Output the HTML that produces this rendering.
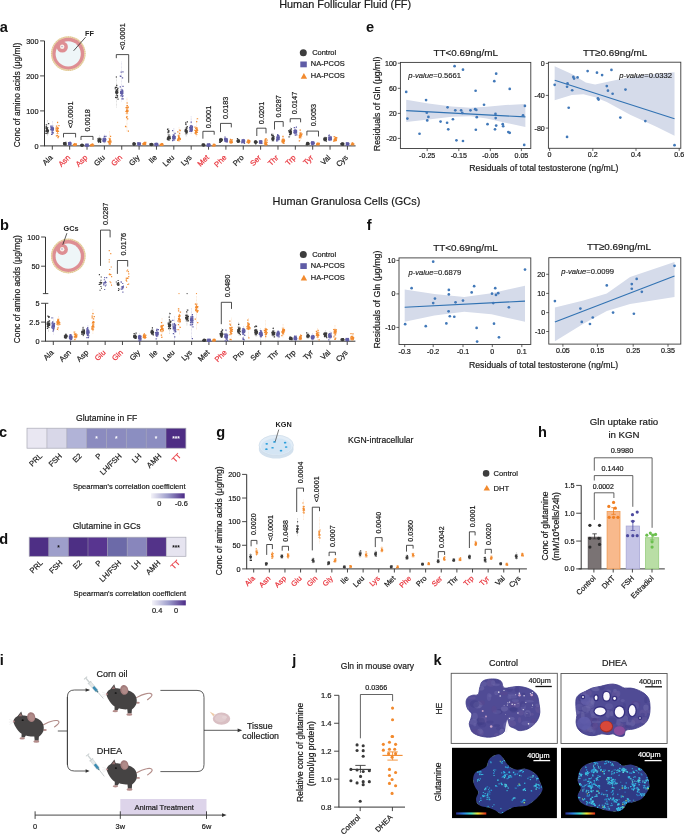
<!DOCTYPE html>
<html><head><meta charset="utf-8"><title>Figure</title>
<style>html,body{margin:0;padding:0;background:#fff;width:685px;height:834px;overflow:hidden}
svg{display:block;will-change:transform;font-family:"Liberation Sans", sans-serif;fill:#1a1a1a}
</style></head>
<body><svg width="685" height="834" viewBox="0 0 685 834">
<rect width="685" height="834" fill="#fff"/>
<text x="279.2" y="7.8" font-size="10.9" stroke="#1a1a1a" stroke-width="0.2">Human Follicular Fluid (FF)</text>
<text x="272.6" y="204.5" font-size="10.9" stroke="#1a1a1a" stroke-width="0.2">Human Granulosa Cells (GCs)</text>
<text x="-0.3" y="32.2" font-size="14.6" font-weight="bold" fill="#111">a</text>
<circle cx="68.3" cy="53.6" r="17.4" fill="#ead7ac"/>
<circle cx="85.05" cy="53.6" r="0.5" fill="#dcc08a"/>
<circle cx="84.91" cy="55.79" r="0.5" fill="#dcc08a"/>
<circle cx="84.48" cy="57.94" r="0.5" fill="#dcc08a"/>
<circle cx="83.77" cy="60.01" r="0.5" fill="#dcc08a"/>
<circle cx="82.81" cy="61.98" r="0.5" fill="#dcc08a"/>
<circle cx="81.59" cy="63.8" r="0.5" fill="#dcc08a"/>
<circle cx="80.14" cy="65.44" r="0.5" fill="#dcc08a"/>
<circle cx="78.5" cy="66.89" r="0.5" fill="#dcc08a"/>
<circle cx="76.67" cy="68.11" r="0.5" fill="#dcc08a"/>
<circle cx="74.71" cy="69.07" r="0.5" fill="#dcc08a"/>
<circle cx="72.64" cy="69.78" r="0.5" fill="#dcc08a"/>
<circle cx="70.49" cy="70.21" r="0.5" fill="#dcc08a"/>
<circle cx="68.3" cy="70.35" r="0.5" fill="#dcc08a"/>
<circle cx="66.11" cy="70.21" r="0.5" fill="#dcc08a"/>
<circle cx="63.96" cy="69.78" r="0.5" fill="#dcc08a"/>
<circle cx="61.89" cy="69.07" r="0.5" fill="#dcc08a"/>
<circle cx="59.92" cy="68.11" r="0.5" fill="#dcc08a"/>
<circle cx="58.1" cy="66.89" r="0.5" fill="#dcc08a"/>
<circle cx="56.46" cy="65.44" r="0.5" fill="#dcc08a"/>
<circle cx="55.01" cy="63.8" r="0.5" fill="#dcc08a"/>
<circle cx="53.79" cy="61.98" r="0.5" fill="#dcc08a"/>
<circle cx="52.83" cy="60.01" r="0.5" fill="#dcc08a"/>
<circle cx="52.12" cy="57.94" r="0.5" fill="#dcc08a"/>
<circle cx="51.69" cy="55.79" r="0.5" fill="#dcc08a"/>
<circle cx="51.55" cy="53.6" r="0.5" fill="#dcc08a"/>
<circle cx="51.69" cy="51.41" r="0.5" fill="#dcc08a"/>
<circle cx="52.12" cy="49.26" r="0.5" fill="#dcc08a"/>
<circle cx="52.83" cy="47.19" r="0.5" fill="#dcc08a"/>
<circle cx="53.79" cy="45.23" r="0.5" fill="#dcc08a"/>
<circle cx="55.01" cy="43.4" r="0.5" fill="#dcc08a"/>
<circle cx="56.46" cy="41.76" r="0.5" fill="#dcc08a"/>
<circle cx="58.1" cy="40.31" r="0.5" fill="#dcc08a"/>
<circle cx="59.92" cy="39.09" r="0.5" fill="#dcc08a"/>
<circle cx="61.89" cy="38.13" r="0.5" fill="#dcc08a"/>
<circle cx="63.96" cy="37.42" r="0.5" fill="#dcc08a"/>
<circle cx="66.11" cy="36.99" r="0.5" fill="#dcc08a"/>
<circle cx="68.3" cy="36.85" r="0.5" fill="#dcc08a"/>
<circle cx="70.49" cy="36.99" r="0.5" fill="#dcc08a"/>
<circle cx="72.64" cy="37.42" r="0.5" fill="#dcc08a"/>
<circle cx="74.71" cy="38.13" r="0.5" fill="#dcc08a"/>
<circle cx="76.67" cy="39.09" r="0.5" fill="#dcc08a"/>
<circle cx="78.5" cy="40.31" r="0.5" fill="#dcc08a"/>
<circle cx="80.14" cy="41.76" r="0.5" fill="#dcc08a"/>
<circle cx="81.59" cy="43.4" r="0.5" fill="#dcc08a"/>
<circle cx="82.81" cy="45.22" r="0.5" fill="#dcc08a"/>
<circle cx="83.77" cy="47.19" r="0.5" fill="#dcc08a"/>
<circle cx="84.48" cy="49.26" r="0.5" fill="#dcc08a"/>
<circle cx="84.91" cy="51.41" r="0.5" fill="#dcc08a"/>
<circle cx="68.3" cy="53.6" r="15.9" fill="#de8e93"/>
<circle cx="68.2" cy="53.8" r="12.6" fill="#eef6f8"/>
<circle cx="62.3" cy="47" r="5.6" fill="#de8e93"/>
<circle cx="62.2" cy="46.8" r="2.2" fill="#f8efe8"/>
<circle cx="62" cy="46.6" r="0.7" fill="#9a8ac0"/>
<text x="85" y="35.5" font-size="7.3" font-weight="bold" fill="#222">FF</text>
<line x1="85.6" y1="37.2" x2="73.6" y2="50.8" stroke="#222" stroke-width="0.75"/>
<line x1="44.5" y1="40.9" x2="44.5" y2="146.3" stroke="#333" stroke-width="1"/>
<line x1="44.5" y1="145.9" x2="355.6" y2="145.9" stroke="#333" stroke-width="1"/>
<line x1="40.1" y1="145.9" x2="44.5" y2="145.9" stroke="#333" stroke-width="0.9"/>
<text x="38.5" y="148.5" font-size="7.3" text-anchor="end" stroke="#1a1a1a" stroke-width="0.2">0</text>
<line x1="40.1" y1="110.9" x2="44.5" y2="110.9" stroke="#333" stroke-width="0.9"/>
<text x="38.5" y="113.5" font-size="7.3" text-anchor="end" stroke="#1a1a1a" stroke-width="0.2">100</text>
<line x1="40.1" y1="75.9" x2="44.5" y2="75.9" stroke="#333" stroke-width="0.9"/>
<text x="38.5" y="78.5" font-size="7.3" text-anchor="end" stroke="#1a1a1a" stroke-width="0.2">200</text>
<line x1="40.1" y1="40.9" x2="44.5" y2="40.9" stroke="#333" stroke-width="0.9"/>
<text x="38.5" y="43.5" font-size="7.3" text-anchor="end" stroke="#1a1a1a" stroke-width="0.2">300</text>
<text x="19.8" y="147.2" font-size="8.4" stroke="#1a1a1a" stroke-width="0.2" transform="rotate(-90 19.8 147.2)">Conc of amino acids (μg/ml)</text>
<line x1="52.3" y1="145.9" x2="52.3" y2="149.7" stroke="#333" stroke-width="0.9"/>
<text x="53.3" y="158.1" font-size="7.6" text-anchor="end" stroke="#1a1a1a" stroke-width="0.2" transform="rotate(-45 53.3 158.1)">Ala</text>
<line x1="69.66" y1="145.9" x2="69.66" y2="149.7" stroke="#333" stroke-width="0.9"/>
<text x="70.66" y="158.1" font-size="7.6" text-anchor="end" fill="#e8333b" stroke="#e8333b" stroke-width="0.2" transform="rotate(-45 70.66 158.1)">Asn</text>
<line x1="87.02" y1="145.9" x2="87.02" y2="149.7" stroke="#333" stroke-width="0.9"/>
<text x="88.02" y="158.1" font-size="7.6" text-anchor="end" fill="#e8333b" stroke="#e8333b" stroke-width="0.2" transform="rotate(-45 88.02 158.1)">Asp</text>
<line x1="104.38" y1="145.9" x2="104.38" y2="149.7" stroke="#333" stroke-width="0.9"/>
<text x="105.38" y="158.1" font-size="7.6" text-anchor="end" stroke="#1a1a1a" stroke-width="0.2" transform="rotate(-45 105.38 158.1)">Glu</text>
<line x1="121.74" y1="145.9" x2="121.74" y2="149.7" stroke="#333" stroke-width="0.9"/>
<text x="122.74" y="158.1" font-size="7.6" text-anchor="end" fill="#e8333b" stroke="#e8333b" stroke-width="0.2" transform="rotate(-45 122.74 158.1)">Gln</text>
<line x1="139.1" y1="145.9" x2="139.1" y2="149.7" stroke="#333" stroke-width="0.9"/>
<text x="140.1" y="158.1" font-size="7.6" text-anchor="end" stroke="#1a1a1a" stroke-width="0.2" transform="rotate(-45 140.1 158.1)">Gly</text>
<line x1="156.46" y1="145.9" x2="156.46" y2="149.7" stroke="#333" stroke-width="0.9"/>
<text x="157.46" y="158.1" font-size="7.6" text-anchor="end" stroke="#1a1a1a" stroke-width="0.2" transform="rotate(-45 157.46 158.1)">Ile</text>
<line x1="173.82" y1="145.9" x2="173.82" y2="149.7" stroke="#333" stroke-width="0.9"/>
<text x="174.82" y="158.1" font-size="7.6" text-anchor="end" stroke="#1a1a1a" stroke-width="0.2" transform="rotate(-45 174.82 158.1)">Leu</text>
<line x1="191.18" y1="145.9" x2="191.18" y2="149.7" stroke="#333" stroke-width="0.9"/>
<text x="192.18" y="158.1" font-size="7.6" text-anchor="end" stroke="#1a1a1a" stroke-width="0.2" transform="rotate(-45 192.18 158.1)">Lys</text>
<line x1="208.54" y1="145.9" x2="208.54" y2="149.7" stroke="#333" stroke-width="0.9"/>
<text x="209.54" y="158.1" font-size="7.6" text-anchor="end" fill="#e8333b" stroke="#e8333b" stroke-width="0.2" transform="rotate(-45 209.54 158.1)">Met</text>
<line x1="225.9" y1="145.9" x2="225.9" y2="149.7" stroke="#333" stroke-width="0.9"/>
<text x="226.9" y="158.1" font-size="7.6" text-anchor="end" fill="#e8333b" stroke="#e8333b" stroke-width="0.2" transform="rotate(-45 226.9 158.1)">Phe</text>
<line x1="243.26" y1="145.9" x2="243.26" y2="149.7" stroke="#333" stroke-width="0.9"/>
<text x="244.26" y="158.1" font-size="7.6" text-anchor="end" stroke="#1a1a1a" stroke-width="0.2" transform="rotate(-45 244.26 158.1)">Pro</text>
<line x1="260.62" y1="145.9" x2="260.62" y2="149.7" stroke="#333" stroke-width="0.9"/>
<text x="261.62" y="158.1" font-size="7.6" text-anchor="end" fill="#e8333b" stroke="#e8333b" stroke-width="0.2" transform="rotate(-45 261.62 158.1)">Ser</text>
<line x1="277.98" y1="145.9" x2="277.98" y2="149.7" stroke="#333" stroke-width="0.9"/>
<text x="278.98" y="158.1" font-size="7.6" text-anchor="end" fill="#e8333b" stroke="#e8333b" stroke-width="0.2" transform="rotate(-45 278.98 158.1)">Thr</text>
<line x1="295.34" y1="145.9" x2="295.34" y2="149.7" stroke="#333" stroke-width="0.9"/>
<text x="296.34" y="158.1" font-size="7.6" text-anchor="end" fill="#e8333b" stroke="#e8333b" stroke-width="0.2" transform="rotate(-45 296.34 158.1)">Trp</text>
<line x1="312.7" y1="145.9" x2="312.7" y2="149.7" stroke="#333" stroke-width="0.9"/>
<text x="313.7" y="158.1" font-size="7.6" text-anchor="end" fill="#e8333b" stroke="#e8333b" stroke-width="0.2" transform="rotate(-45 313.7 158.1)">Tyr</text>
<line x1="330.06" y1="145.9" x2="330.06" y2="149.7" stroke="#333" stroke-width="0.9"/>
<text x="331.06" y="158.1" font-size="7.6" text-anchor="end" stroke="#1a1a1a" stroke-width="0.2" transform="rotate(-45 331.06 158.1)">Val</text>
<line x1="347.42" y1="145.9" x2="347.42" y2="149.7" stroke="#333" stroke-width="0.9"/>
<text x="348.42" y="158.1" font-size="7.6" text-anchor="end" stroke="#1a1a1a" stroke-width="0.2" transform="rotate(-45 348.42 158.1)">Cys</text>
<line x1="47.3" y1="120" x2="47.3" y2="136" stroke="#3a3a3a" stroke-width="0.4" stroke-dasharray="0.8 0.6" opacity="0.6"/>
<line x1="47.3" y1="127.6" x2="47.3" y2="133.6" stroke="#3a3a3a" stroke-width="0.7"/>
<line x1="46" y1="127.6" x2="48.6" y2="127.6" stroke="#3a3a3a" stroke-width="0.5"/>
<line x1="46" y1="133.6" x2="48.6" y2="133.6" stroke="#3a3a3a" stroke-width="0.5"/>
<circle cx="47.3" cy="130.6" r="1.7" fill="#3a3a3a"/>
<line x1="52.3" y1="121" x2="52.3" y2="134.5" stroke="#5f5ca6" stroke-width="0.4" stroke-dasharray="0.8 0.6" opacity="0.6"/>
<line x1="52.3" y1="126" x2="52.3" y2="132" stroke="#5f5ca6" stroke-width="0.7"/>
<line x1="51" y1="126" x2="53.6" y2="126" stroke="#5f5ca6" stroke-width="0.5"/>
<line x1="51" y1="132" x2="53.6" y2="132" stroke="#5f5ca6" stroke-width="0.5"/>
<rect x="50.6" y="127.3" width="3.4" height="3.4" fill="#5f5ca6"/>
<line x1="57.5" y1="122" x2="57.5" y2="138" stroke="#f28a2e" stroke-width="0.4" stroke-dasharray="0.8 0.6" opacity="0.6"/>
<line x1="57.5" y1="127.6" x2="57.5" y2="133.6" stroke="#f28a2e" stroke-width="0.7"/>
<line x1="56.2" y1="127.6" x2="58.8" y2="127.6" stroke="#f28a2e" stroke-width="0.5"/>
<line x1="56.2" y1="133.6" x2="58.8" y2="133.6" stroke="#f28a2e" stroke-width="0.5"/>
<path d="M57.5 128.66L59.37 131.89L55.63 131.89Z" fill="#f28a2e"/>
<line x1="64.66" y1="142" x2="64.66" y2="145" stroke="#3a3a3a" stroke-width="0.4" stroke-dasharray="0.8 0.6" opacity="0.6"/>
<line x1="64.66" y1="142.56" x2="64.66" y2="144.84" stroke="#3a3a3a" stroke-width="0.7"/>
<line x1="63.36" y1="142.56" x2="65.96" y2="142.56" stroke="#3a3a3a" stroke-width="0.5"/>
<line x1="63.36" y1="144.84" x2="65.96" y2="144.84" stroke="#3a3a3a" stroke-width="0.5"/>
<circle cx="64.66" cy="143.7" r="1.7" fill="#3a3a3a"/>
<line x1="69.66" y1="142" x2="69.66" y2="145" stroke="#5f5ca6" stroke-width="0.4" stroke-dasharray="0.8 0.6" opacity="0.6"/>
<line x1="69.66" y1="142.56" x2="69.66" y2="144.84" stroke="#5f5ca6" stroke-width="0.7"/>
<line x1="68.36" y1="142.56" x2="70.96" y2="142.56" stroke="#5f5ca6" stroke-width="0.5"/>
<line x1="68.36" y1="144.84" x2="70.96" y2="144.84" stroke="#5f5ca6" stroke-width="0.5"/>
<rect x="67.96" y="142" width="3.4" height="3.4" fill="#5f5ca6"/>
<line x1="74.86" y1="143.5" x2="74.86" y2="145.5" stroke="#f28a2e" stroke-width="0.4" stroke-dasharray="0.8 0.6" opacity="0.6"/>
<line x1="74.86" y1="143.74" x2="74.86" y2="145.66" stroke="#f28a2e" stroke-width="0.7"/>
<line x1="73.56" y1="143.74" x2="76.16" y2="143.74" stroke="#f28a2e" stroke-width="0.5"/>
<line x1="73.56" y1="145.66" x2="76.16" y2="145.66" stroke="#f28a2e" stroke-width="0.5"/>
<path d="M74.86 142.76L76.73 145.99L72.99 145.99Z" fill="#f28a2e"/>
<line x1="82.02" y1="144.5" x2="82.02" y2="145.8" stroke="#3a3a3a" stroke-width="0.4" stroke-dasharray="0.8 0.6" opacity="0.6"/>
<line x1="82.02" y1="144.37" x2="82.02" y2="146.03" stroke="#3a3a3a" stroke-width="0.7"/>
<line x1="80.72" y1="144.37" x2="83.32" y2="144.37" stroke="#3a3a3a" stroke-width="0.5"/>
<line x1="80.72" y1="146.03" x2="83.32" y2="146.03" stroke="#3a3a3a" stroke-width="0.5"/>
<circle cx="82.02" cy="145.2" r="1.7" fill="#3a3a3a"/>
<line x1="87.02" y1="144.5" x2="87.02" y2="145.8" stroke="#5f5ca6" stroke-width="0.4" stroke-dasharray="0.8 0.6" opacity="0.6"/>
<line x1="87.02" y1="144.37" x2="87.02" y2="146.03" stroke="#5f5ca6" stroke-width="0.7"/>
<line x1="85.72" y1="144.37" x2="88.32" y2="144.37" stroke="#5f5ca6" stroke-width="0.5"/>
<line x1="85.72" y1="146.03" x2="88.32" y2="146.03" stroke="#5f5ca6" stroke-width="0.5"/>
<rect x="85.32" y="143.5" width="3.4" height="3.4" fill="#5f5ca6"/>
<line x1="92.22" y1="144" x2="92.22" y2="145.8" stroke="#f28a2e" stroke-width="0.4" stroke-dasharray="0.8 0.6" opacity="0.6"/>
<line x1="92.22" y1="144.08" x2="92.22" y2="145.92" stroke="#f28a2e" stroke-width="0.7"/>
<line x1="90.92" y1="144.08" x2="93.52" y2="144.08" stroke="#f28a2e" stroke-width="0.5"/>
<line x1="90.92" y1="145.92" x2="93.52" y2="145.92" stroke="#f28a2e" stroke-width="0.5"/>
<path d="M92.22 143.06L94.09 146.29L90.35 146.29Z" fill="#f28a2e"/>
<line x1="99.38" y1="135.5" x2="99.38" y2="143" stroke="#3a3a3a" stroke-width="0.4" stroke-dasharray="0.8 0.6" opacity="0.6"/>
<line x1="99.38" y1="138.05" x2="99.38" y2="141.95" stroke="#3a3a3a" stroke-width="0.7"/>
<line x1="98.08" y1="138.05" x2="100.68" y2="138.05" stroke="#3a3a3a" stroke-width="0.5"/>
<line x1="98.08" y1="141.95" x2="100.68" y2="141.95" stroke="#3a3a3a" stroke-width="0.5"/>
<circle cx="99.38" cy="140" r="1.7" fill="#3a3a3a"/>
<line x1="104.38" y1="134.5" x2="104.38" y2="143.5" stroke="#5f5ca6" stroke-width="0.4" stroke-dasharray="0.8 0.6" opacity="0.6"/>
<line x1="104.38" y1="137.78" x2="104.38" y2="142.22" stroke="#5f5ca6" stroke-width="0.7"/>
<line x1="103.08" y1="137.78" x2="105.68" y2="137.78" stroke="#5f5ca6" stroke-width="0.5"/>
<line x1="103.08" y1="142.22" x2="105.68" y2="142.22" stroke="#5f5ca6" stroke-width="0.5"/>
<rect x="102.68" y="138.3" width="3.4" height="3.4" fill="#5f5ca6"/>
<line x1="109.58" y1="131" x2="109.58" y2="145" stroke="#f28a2e" stroke-width="0.4" stroke-dasharray="0.8 0.6" opacity="0.6"/>
<line x1="109.58" y1="138.3" x2="109.58" y2="144.3" stroke="#f28a2e" stroke-width="0.7"/>
<line x1="108.28" y1="138.3" x2="110.88" y2="138.3" stroke="#f28a2e" stroke-width="0.5"/>
<line x1="108.28" y1="144.3" x2="110.88" y2="144.3" stroke="#f28a2e" stroke-width="0.5"/>
<path d="M109.58 139.36L111.45 142.59L107.71 142.59Z" fill="#f28a2e"/>
<line x1="116.74" y1="76" x2="116.74" y2="107.5" stroke="#3a3a3a" stroke-width="0.4" stroke-dasharray="0.8 0.6" opacity="0.6"/>
<line x1="116.74" y1="89.4" x2="116.74" y2="95.4" stroke="#3a3a3a" stroke-width="0.7"/>
<line x1="115.44" y1="89.4" x2="118.04" y2="89.4" stroke="#3a3a3a" stroke-width="0.5"/>
<line x1="115.44" y1="95.4" x2="118.04" y2="95.4" stroke="#3a3a3a" stroke-width="0.5"/>
<circle cx="116.74" cy="92.4" r="1.7" fill="#3a3a3a"/>
<line x1="121.74" y1="61.6" x2="121.74" y2="101.5" stroke="#5f5ca6" stroke-width="0.4" stroke-dasharray="0.8 0.6" opacity="0.6"/>
<line x1="121.74" y1="89.4" x2="121.74" y2="95.4" stroke="#5f5ca6" stroke-width="0.7"/>
<line x1="120.44" y1="89.4" x2="123.04" y2="89.4" stroke="#5f5ca6" stroke-width="0.5"/>
<line x1="120.44" y1="95.4" x2="123.04" y2="95.4" stroke="#5f5ca6" stroke-width="0.5"/>
<rect x="120.04" y="90.7" width="3.4" height="3.4" fill="#5f5ca6"/>
<line x1="126.94" y1="97.8" x2="126.94" y2="131.7" stroke="#f28a2e" stroke-width="0.4" stroke-dasharray="0.8 0.6" opacity="0.6"/>
<line x1="126.94" y1="107.7" x2="126.94" y2="113.7" stroke="#f28a2e" stroke-width="0.7"/>
<line x1="125.64" y1="107.7" x2="128.24" y2="107.7" stroke="#f28a2e" stroke-width="0.5"/>
<line x1="125.64" y1="113.7" x2="128.24" y2="113.7" stroke="#f28a2e" stroke-width="0.5"/>
<path d="M126.94 108.76L128.81 111.99L125.07 111.99Z" fill="#f28a2e"/>
<line x1="134.1" y1="142.8" x2="134.1" y2="145.2" stroke="#3a3a3a" stroke-width="0.4" stroke-dasharray="0.8 0.6" opacity="0.6"/>
<line x1="134.1" y1="142.97" x2="134.1" y2="145.03" stroke="#3a3a3a" stroke-width="0.7"/>
<line x1="132.8" y1="142.97" x2="135.4" y2="142.97" stroke="#3a3a3a" stroke-width="0.5"/>
<line x1="132.8" y1="145.03" x2="135.4" y2="145.03" stroke="#3a3a3a" stroke-width="0.5"/>
<circle cx="134.1" cy="144" r="1.7" fill="#3a3a3a"/>
<line x1="139.1" y1="142.8" x2="139.1" y2="145.2" stroke="#5f5ca6" stroke-width="0.4" stroke-dasharray="0.8 0.6" opacity="0.6"/>
<line x1="139.1" y1="142.97" x2="139.1" y2="145.03" stroke="#5f5ca6" stroke-width="0.7"/>
<line x1="137.8" y1="142.97" x2="140.4" y2="142.97" stroke="#5f5ca6" stroke-width="0.5"/>
<line x1="137.8" y1="145.03" x2="140.4" y2="145.03" stroke="#5f5ca6" stroke-width="0.5"/>
<rect x="137.4" y="142.3" width="3.4" height="3.4" fill="#5f5ca6"/>
<line x1="144.3" y1="142" x2="144.3" y2="145.2" stroke="#f28a2e" stroke-width="0.4" stroke-dasharray="0.8 0.6" opacity="0.6"/>
<line x1="144.3" y1="142.62" x2="144.3" y2="144.98" stroke="#f28a2e" stroke-width="0.7"/>
<line x1="143" y1="142.62" x2="145.6" y2="142.62" stroke="#f28a2e" stroke-width="0.5"/>
<line x1="143" y1="144.98" x2="145.6" y2="144.98" stroke="#f28a2e" stroke-width="0.5"/>
<path d="M144.3 141.86L146.17 145.09L142.43 145.09Z" fill="#f28a2e"/>
<line x1="151.46" y1="143.3" x2="151.46" y2="145.4" stroke="#3a3a3a" stroke-width="0.4" stroke-dasharray="0.8 0.6" opacity="0.6"/>
<line x1="151.46" y1="143.52" x2="151.46" y2="145.48" stroke="#3a3a3a" stroke-width="0.7"/>
<line x1="150.16" y1="143.52" x2="152.76" y2="143.52" stroke="#3a3a3a" stroke-width="0.5"/>
<line x1="150.16" y1="145.48" x2="152.76" y2="145.48" stroke="#3a3a3a" stroke-width="0.5"/>
<circle cx="151.46" cy="144.5" r="1.7" fill="#3a3a3a"/>
<line x1="156.46" y1="143" x2="156.46" y2="145.4" stroke="#5f5ca6" stroke-width="0.4" stroke-dasharray="0.8 0.6" opacity="0.6"/>
<line x1="156.46" y1="143.47" x2="156.46" y2="145.53" stroke="#5f5ca6" stroke-width="0.7"/>
<line x1="155.16" y1="143.47" x2="157.76" y2="143.47" stroke="#5f5ca6" stroke-width="0.5"/>
<line x1="155.16" y1="145.53" x2="157.76" y2="145.53" stroke="#5f5ca6" stroke-width="0.5"/>
<rect x="154.76" y="142.8" width="3.4" height="3.4" fill="#5f5ca6"/>
<line x1="161.66" y1="143.5" x2="161.66" y2="145.4" stroke="#f28a2e" stroke-width="0.4" stroke-dasharray="0.8 0.6" opacity="0.6"/>
<line x1="161.66" y1="143.66" x2="161.66" y2="145.54" stroke="#f28a2e" stroke-width="0.7"/>
<line x1="160.36" y1="143.66" x2="162.96" y2="143.66" stroke="#f28a2e" stroke-width="0.5"/>
<line x1="160.36" y1="145.54" x2="162.96" y2="145.54" stroke="#f28a2e" stroke-width="0.5"/>
<path d="M161.66 142.66L163.53 145.89L159.79 145.89Z" fill="#f28a2e"/>
<line x1="168.82" y1="128" x2="168.82" y2="140.3" stroke="#3a3a3a" stroke-width="0.4" stroke-dasharray="0.8 0.6" opacity="0.6"/>
<line x1="168.82" y1="134.79" x2="168.82" y2="140.41" stroke="#3a3a3a" stroke-width="0.7"/>
<line x1="167.52" y1="134.79" x2="170.12" y2="134.79" stroke="#3a3a3a" stroke-width="0.5"/>
<line x1="167.52" y1="140.41" x2="170.12" y2="140.41" stroke="#3a3a3a" stroke-width="0.5"/>
<circle cx="168.82" cy="137.6" r="1.7" fill="#3a3a3a"/>
<line x1="173.82" y1="128" x2="173.82" y2="141" stroke="#5f5ca6" stroke-width="0.4" stroke-dasharray="0.8 0.6" opacity="0.6"/>
<line x1="173.82" y1="134.56" x2="173.82" y2="140.44" stroke="#5f5ca6" stroke-width="0.7"/>
<line x1="172.52" y1="134.56" x2="175.12" y2="134.56" stroke="#5f5ca6" stroke-width="0.5"/>
<line x1="172.52" y1="140.44" x2="175.12" y2="140.44" stroke="#5f5ca6" stroke-width="0.5"/>
<rect x="172.12" y="135.8" width="3.4" height="3.4" fill="#5f5ca6"/>
<line x1="179.02" y1="127.5" x2="179.02" y2="141.5" stroke="#f28a2e" stroke-width="0.4" stroke-dasharray="0.8 0.6" opacity="0.6"/>
<line x1="179.02" y1="135" x2="179.02" y2="141" stroke="#f28a2e" stroke-width="0.7"/>
<line x1="177.72" y1="135" x2="180.32" y2="135" stroke="#f28a2e" stroke-width="0.5"/>
<line x1="177.72" y1="141" x2="180.32" y2="141" stroke="#f28a2e" stroke-width="0.5"/>
<path d="M179.02 136.06L180.89 139.29L177.15 139.29Z" fill="#f28a2e"/>
<line x1="186.18" y1="121" x2="186.18" y2="136.8" stroke="#3a3a3a" stroke-width="0.4" stroke-dasharray="0.8 0.6" opacity="0.6"/>
<line x1="186.18" y1="128" x2="186.18" y2="134" stroke="#3a3a3a" stroke-width="0.7"/>
<line x1="184.88" y1="128" x2="187.48" y2="128" stroke="#3a3a3a" stroke-width="0.5"/>
<line x1="184.88" y1="134" x2="187.48" y2="134" stroke="#3a3a3a" stroke-width="0.5"/>
<circle cx="186.18" cy="131" r="1.7" fill="#3a3a3a"/>
<line x1="191.18" y1="116.4" x2="191.18" y2="134" stroke="#5f5ca6" stroke-width="0.4" stroke-dasharray="0.8 0.6" opacity="0.6"/>
<line x1="191.18" y1="125.5" x2="191.18" y2="131.5" stroke="#5f5ca6" stroke-width="0.7"/>
<line x1="189.88" y1="125.5" x2="192.48" y2="125.5" stroke="#5f5ca6" stroke-width="0.5"/>
<line x1="189.88" y1="131.5" x2="192.48" y2="131.5" stroke="#5f5ca6" stroke-width="0.5"/>
<rect x="189.48" y="126.8" width="3.4" height="3.4" fill="#5f5ca6"/>
<line x1="196.38" y1="118" x2="196.38" y2="136.8" stroke="#f28a2e" stroke-width="0.4" stroke-dasharray="0.8 0.6" opacity="0.6"/>
<line x1="196.38" y1="128.6" x2="196.38" y2="134.6" stroke="#f28a2e" stroke-width="0.7"/>
<line x1="195.08" y1="128.6" x2="197.68" y2="128.6" stroke="#f28a2e" stroke-width="0.5"/>
<line x1="195.08" y1="134.6" x2="197.68" y2="134.6" stroke="#f28a2e" stroke-width="0.5"/>
<path d="M196.38 129.66L198.25 132.89L194.51 132.89Z" fill="#f28a2e"/>
<line x1="203.54" y1="144.2" x2="203.54" y2="145.6" stroke="#3a3a3a" stroke-width="0.4" stroke-dasharray="0.8 0.6" opacity="0.6"/>
<line x1="203.54" y1="144.15" x2="203.54" y2="145.85" stroke="#3a3a3a" stroke-width="0.7"/>
<line x1="202.24" y1="144.15" x2="204.84" y2="144.15" stroke="#3a3a3a" stroke-width="0.5"/>
<line x1="202.24" y1="145.85" x2="204.84" y2="145.85" stroke="#3a3a3a" stroke-width="0.5"/>
<circle cx="203.54" cy="145" r="1.7" fill="#3a3a3a"/>
<line x1="208.54" y1="144.2" x2="208.54" y2="145.6" stroke="#5f5ca6" stroke-width="0.4" stroke-dasharray="0.8 0.6" opacity="0.6"/>
<line x1="208.54" y1="144.15" x2="208.54" y2="145.85" stroke="#5f5ca6" stroke-width="0.7"/>
<line x1="207.24" y1="144.15" x2="209.84" y2="144.15" stroke="#5f5ca6" stroke-width="0.5"/>
<line x1="207.24" y1="145.85" x2="209.84" y2="145.85" stroke="#5f5ca6" stroke-width="0.5"/>
<rect x="206.84" y="143.3" width="3.4" height="3.4" fill="#5f5ca6"/>
<line x1="213.74" y1="144.3" x2="213.74" y2="145.6" stroke="#f28a2e" stroke-width="0.4" stroke-dasharray="0.8 0.6" opacity="0.6"/>
<line x1="213.74" y1="144.27" x2="213.74" y2="145.93" stroke="#f28a2e" stroke-width="0.7"/>
<line x1="212.44" y1="144.27" x2="215.04" y2="144.27" stroke="#f28a2e" stroke-width="0.5"/>
<line x1="212.44" y1="145.93" x2="215.04" y2="145.93" stroke="#f28a2e" stroke-width="0.5"/>
<path d="M213.74 143.16L215.61 146.39L211.87 146.39Z" fill="#f28a2e"/>
<line x1="220.9" y1="137.5" x2="220.9" y2="142.5" stroke="#3a3a3a" stroke-width="0.4" stroke-dasharray="0.8 0.6" opacity="0.6"/>
<line x1="220.9" y1="138.5" x2="220.9" y2="141.5" stroke="#3a3a3a" stroke-width="0.7"/>
<line x1="219.6" y1="138.5" x2="222.2" y2="138.5" stroke="#3a3a3a" stroke-width="0.5"/>
<line x1="219.6" y1="141.5" x2="222.2" y2="141.5" stroke="#3a3a3a" stroke-width="0.5"/>
<circle cx="220.9" cy="140" r="1.7" fill="#3a3a3a"/>
<line x1="225.9" y1="137" x2="225.9" y2="142.5" stroke="#5f5ca6" stroke-width="0.4" stroke-dasharray="0.8 0.6" opacity="0.6"/>
<line x1="225.9" y1="138.41" x2="225.9" y2="141.59" stroke="#5f5ca6" stroke-width="0.7"/>
<line x1="224.6" y1="138.41" x2="227.2" y2="138.41" stroke="#5f5ca6" stroke-width="0.5"/>
<line x1="224.6" y1="141.59" x2="227.2" y2="141.59" stroke="#5f5ca6" stroke-width="0.5"/>
<rect x="224.2" y="138.3" width="3.4" height="3.4" fill="#5f5ca6"/>
<line x1="231.1" y1="139" x2="231.1" y2="144" stroke="#f28a2e" stroke-width="0.4" stroke-dasharray="0.8 0.6" opacity="0.6"/>
<line x1="231.1" y1="140.3" x2="231.1" y2="143.3" stroke="#f28a2e" stroke-width="0.7"/>
<line x1="229.8" y1="140.3" x2="232.4" y2="140.3" stroke="#f28a2e" stroke-width="0.5"/>
<line x1="229.8" y1="143.3" x2="232.4" y2="143.3" stroke="#f28a2e" stroke-width="0.5"/>
<path d="M231.1 139.86L232.97 143.09L229.23 143.09Z" fill="#f28a2e"/>
<line x1="238.26" y1="138.5" x2="238.26" y2="143" stroke="#3a3a3a" stroke-width="0.4" stroke-dasharray="0.8 0.6" opacity="0.6"/>
<line x1="238.26" y1="139.59" x2="238.26" y2="142.41" stroke="#3a3a3a" stroke-width="0.7"/>
<line x1="236.96" y1="139.59" x2="239.56" y2="139.59" stroke="#3a3a3a" stroke-width="0.5"/>
<line x1="236.96" y1="142.41" x2="239.56" y2="142.41" stroke="#3a3a3a" stroke-width="0.5"/>
<circle cx="238.26" cy="141" r="1.7" fill="#3a3a3a"/>
<line x1="243.26" y1="138.5" x2="243.26" y2="143.5" stroke="#5f5ca6" stroke-width="0.4" stroke-dasharray="0.8 0.6" opacity="0.6"/>
<line x1="243.26" y1="139.5" x2="243.26" y2="142.5" stroke="#5f5ca6" stroke-width="0.7"/>
<line x1="241.96" y1="139.5" x2="244.56" y2="139.5" stroke="#5f5ca6" stroke-width="0.5"/>
<line x1="241.96" y1="142.5" x2="244.56" y2="142.5" stroke="#5f5ca6" stroke-width="0.5"/>
<rect x="241.56" y="139.3" width="3.4" height="3.4" fill="#5f5ca6"/>
<line x1="248.46" y1="139" x2="248.46" y2="144" stroke="#f28a2e" stroke-width="0.4" stroke-dasharray="0.8 0.6" opacity="0.6"/>
<line x1="248.46" y1="140" x2="248.46" y2="143" stroke="#f28a2e" stroke-width="0.7"/>
<line x1="247.16" y1="140" x2="249.76" y2="140" stroke="#f28a2e" stroke-width="0.5"/>
<line x1="247.16" y1="143" x2="249.76" y2="143" stroke="#f28a2e" stroke-width="0.5"/>
<path d="M248.46 139.56L250.33 142.79L246.59 142.79Z" fill="#f28a2e"/>
<line x1="255.62" y1="140" x2="255.62" y2="144" stroke="#3a3a3a" stroke-width="0.4" stroke-dasharray="0.8 0.6" opacity="0.6"/>
<line x1="255.62" y1="140.68" x2="255.62" y2="143.32" stroke="#3a3a3a" stroke-width="0.7"/>
<line x1="254.32" y1="140.68" x2="256.92" y2="140.68" stroke="#3a3a3a" stroke-width="0.5"/>
<line x1="254.32" y1="143.32" x2="256.92" y2="143.32" stroke="#3a3a3a" stroke-width="0.5"/>
<circle cx="255.62" cy="142" r="1.7" fill="#3a3a3a"/>
<line x1="260.62" y1="140" x2="260.62" y2="144" stroke="#5f5ca6" stroke-width="0.4" stroke-dasharray="0.8 0.6" opacity="0.6"/>
<line x1="260.62" y1="140.68" x2="260.62" y2="143.32" stroke="#5f5ca6" stroke-width="0.7"/>
<line x1="259.32" y1="140.68" x2="261.92" y2="140.68" stroke="#5f5ca6" stroke-width="0.5"/>
<line x1="259.32" y1="143.32" x2="261.92" y2="143.32" stroke="#5f5ca6" stroke-width="0.5"/>
<rect x="258.92" y="140.3" width="3.4" height="3.4" fill="#5f5ca6"/>
<line x1="265.82" y1="138" x2="265.82" y2="145" stroke="#f28a2e" stroke-width="0.4" stroke-dasharray="0.8 0.6" opacity="0.6"/>
<line x1="265.82" y1="141.54" x2="265.82" y2="145.26" stroke="#f28a2e" stroke-width="0.7"/>
<line x1="264.52" y1="141.54" x2="267.12" y2="141.54" stroke="#f28a2e" stroke-width="0.5"/>
<line x1="264.52" y1="145.26" x2="267.12" y2="145.26" stroke="#f28a2e" stroke-width="0.5"/>
<path d="M265.82 141.46L267.69 144.69L263.95 144.69Z" fill="#f28a2e"/>
<line x1="272.98" y1="133" x2="272.98" y2="142" stroke="#3a3a3a" stroke-width="0.4" stroke-dasharray="0.8 0.6" opacity="0.6"/>
<line x1="272.98" y1="136.48" x2="272.98" y2="140.92" stroke="#3a3a3a" stroke-width="0.7"/>
<line x1="271.68" y1="136.48" x2="274.28" y2="136.48" stroke="#3a3a3a" stroke-width="0.5"/>
<line x1="271.68" y1="140.92" x2="274.28" y2="140.92" stroke="#3a3a3a" stroke-width="0.5"/>
<circle cx="272.98" cy="138.7" r="1.7" fill="#3a3a3a"/>
<line x1="277.98" y1="134" x2="277.98" y2="142" stroke="#5f5ca6" stroke-width="0.4" stroke-dasharray="0.8 0.6" opacity="0.6"/>
<line x1="277.98" y1="136.16" x2="277.98" y2="140.24" stroke="#5f5ca6" stroke-width="0.7"/>
<line x1="276.68" y1="136.16" x2="279.28" y2="136.16" stroke="#5f5ca6" stroke-width="0.5"/>
<line x1="276.68" y1="140.24" x2="279.28" y2="140.24" stroke="#5f5ca6" stroke-width="0.5"/>
<rect x="276.28" y="136.5" width="3.4" height="3.4" fill="#5f5ca6"/>
<line x1="283.18" y1="136" x2="283.18" y2="144" stroke="#f28a2e" stroke-width="0.4" stroke-dasharray="0.8 0.6" opacity="0.6"/>
<line x1="283.18" y1="138.76" x2="283.18" y2="142.84" stroke="#f28a2e" stroke-width="0.7"/>
<line x1="281.88" y1="138.76" x2="284.48" y2="138.76" stroke="#f28a2e" stroke-width="0.5"/>
<line x1="281.88" y1="142.84" x2="284.48" y2="142.84" stroke="#f28a2e" stroke-width="0.5"/>
<path d="M283.18 138.86L285.05 142.09L281.31 142.09Z" fill="#f28a2e"/>
<line x1="290.34" y1="127" x2="290.34" y2="137" stroke="#3a3a3a" stroke-width="0.4" stroke-dasharray="0.8 0.6" opacity="0.6"/>
<line x1="290.34" y1="129.7" x2="290.34" y2="134.5" stroke="#3a3a3a" stroke-width="0.7"/>
<line x1="289.04" y1="129.7" x2="291.64" y2="129.7" stroke="#3a3a3a" stroke-width="0.5"/>
<line x1="289.04" y1="134.5" x2="291.64" y2="134.5" stroke="#3a3a3a" stroke-width="0.5"/>
<circle cx="290.34" cy="132.1" r="1.7" fill="#3a3a3a"/>
<line x1="295.34" y1="127" x2="295.34" y2="136" stroke="#5f5ca6" stroke-width="0.4" stroke-dasharray="0.8 0.6" opacity="0.6"/>
<line x1="295.34" y1="129.38" x2="295.34" y2="133.82" stroke="#5f5ca6" stroke-width="0.7"/>
<line x1="294.04" y1="129.38" x2="296.64" y2="129.38" stroke="#5f5ca6" stroke-width="0.5"/>
<line x1="294.04" y1="133.82" x2="296.64" y2="133.82" stroke="#5f5ca6" stroke-width="0.5"/>
<rect x="293.64" y="129.9" width="3.4" height="3.4" fill="#5f5ca6"/>
<line x1="300.54" y1="129" x2="300.54" y2="141" stroke="#f28a2e" stroke-width="0.4" stroke-dasharray="0.8 0.6" opacity="0.6"/>
<line x1="300.54" y1="132.54" x2="300.54" y2="138.06" stroke="#f28a2e" stroke-width="0.7"/>
<line x1="299.24" y1="132.54" x2="301.84" y2="132.54" stroke="#f28a2e" stroke-width="0.5"/>
<line x1="299.24" y1="138.06" x2="301.84" y2="138.06" stroke="#f28a2e" stroke-width="0.5"/>
<path d="M300.54 133.36L302.41 136.59L298.67 136.59Z" fill="#f28a2e"/>
<line x1="307.7" y1="142" x2="307.7" y2="145" stroke="#3a3a3a" stroke-width="0.4" stroke-dasharray="0.8 0.6" opacity="0.6"/>
<line x1="307.7" y1="142.36" x2="307.7" y2="144.64" stroke="#3a3a3a" stroke-width="0.7"/>
<line x1="306.4" y1="142.36" x2="309" y2="142.36" stroke="#3a3a3a" stroke-width="0.5"/>
<line x1="306.4" y1="144.64" x2="309" y2="144.64" stroke="#3a3a3a" stroke-width="0.5"/>
<circle cx="307.7" cy="143.5" r="1.7" fill="#3a3a3a"/>
<line x1="312.7" y1="141.5" x2="312.7" y2="145" stroke="#5f5ca6" stroke-width="0.4" stroke-dasharray="0.8 0.6" opacity="0.6"/>
<line x1="312.7" y1="141.77" x2="312.7" y2="144.23" stroke="#5f5ca6" stroke-width="0.7"/>
<line x1="311.4" y1="141.77" x2="314" y2="141.77" stroke="#5f5ca6" stroke-width="0.5"/>
<line x1="311.4" y1="144.23" x2="314" y2="144.23" stroke="#5f5ca6" stroke-width="0.5"/>
<rect x="311" y="141.3" width="3.4" height="3.4" fill="#5f5ca6"/>
<line x1="317.9" y1="143" x2="317.9" y2="145.3" stroke="#f28a2e" stroke-width="0.4" stroke-dasharray="0.8 0.6" opacity="0.6"/>
<line x1="317.9" y1="142.99" x2="317.9" y2="145.01" stroke="#f28a2e" stroke-width="0.7"/>
<line x1="316.6" y1="142.99" x2="319.2" y2="142.99" stroke="#f28a2e" stroke-width="0.5"/>
<line x1="316.6" y1="145.01" x2="319.2" y2="145.01" stroke="#f28a2e" stroke-width="0.5"/>
<path d="M317.9 142.06L319.77 145.29L316.03 145.29Z" fill="#f28a2e"/>
<line x1="325.06" y1="136" x2="325.06" y2="142" stroke="#3a3a3a" stroke-width="0.4" stroke-dasharray="0.8 0.6" opacity="0.6"/>
<line x1="325.06" y1="137.52" x2="325.06" y2="140.88" stroke="#3a3a3a" stroke-width="0.7"/>
<line x1="323.76" y1="137.52" x2="326.36" y2="137.52" stroke="#3a3a3a" stroke-width="0.5"/>
<line x1="323.76" y1="140.88" x2="326.36" y2="140.88" stroke="#3a3a3a" stroke-width="0.5"/>
<circle cx="325.06" cy="139.2" r="1.7" fill="#3a3a3a"/>
<line x1="330.06" y1="135" x2="330.06" y2="142" stroke="#5f5ca6" stroke-width="0.4" stroke-dasharray="0.8 0.6" opacity="0.6"/>
<line x1="330.06" y1="136.64" x2="330.06" y2="140.36" stroke="#5f5ca6" stroke-width="0.7"/>
<line x1="328.76" y1="136.64" x2="331.36" y2="136.64" stroke="#5f5ca6" stroke-width="0.5"/>
<line x1="328.76" y1="140.36" x2="331.36" y2="140.36" stroke="#5f5ca6" stroke-width="0.5"/>
<rect x="328.36" y="136.8" width="3.4" height="3.4" fill="#5f5ca6"/>
<line x1="335.26" y1="136.5" x2="335.26" y2="142" stroke="#f28a2e" stroke-width="0.4" stroke-dasharray="0.8 0.6" opacity="0.6"/>
<line x1="335.26" y1="137.91" x2="335.26" y2="141.09" stroke="#f28a2e" stroke-width="0.7"/>
<line x1="333.96" y1="137.91" x2="336.56" y2="137.91" stroke="#f28a2e" stroke-width="0.5"/>
<line x1="333.96" y1="141.09" x2="336.56" y2="141.09" stroke="#f28a2e" stroke-width="0.5"/>
<path d="M335.26 137.56L337.13 140.79L333.39 140.79Z" fill="#f28a2e"/>
<line x1="342.42" y1="142.8" x2="342.42" y2="145.2" stroke="#3a3a3a" stroke-width="0.4" stroke-dasharray="0.8 0.6" opacity="0.6"/>
<line x1="342.42" y1="142.97" x2="342.42" y2="145.03" stroke="#3a3a3a" stroke-width="0.7"/>
<line x1="341.12" y1="142.97" x2="343.72" y2="142.97" stroke="#3a3a3a" stroke-width="0.5"/>
<line x1="341.12" y1="145.03" x2="343.72" y2="145.03" stroke="#3a3a3a" stroke-width="0.5"/>
<circle cx="342.42" cy="144" r="1.7" fill="#3a3a3a"/>
<line x1="347.42" y1="142.5" x2="347.42" y2="145.2" stroke="#5f5ca6" stroke-width="0.4" stroke-dasharray="0.8 0.6" opacity="0.6"/>
<line x1="347.42" y1="142.91" x2="347.42" y2="145.09" stroke="#5f5ca6" stroke-width="0.7"/>
<line x1="346.12" y1="142.91" x2="348.72" y2="142.91" stroke="#5f5ca6" stroke-width="0.5"/>
<line x1="346.12" y1="145.09" x2="348.72" y2="145.09" stroke="#5f5ca6" stroke-width="0.5"/>
<rect x="345.72" y="142.3" width="3.4" height="3.4" fill="#5f5ca6"/>
<line x1="352.62" y1="143" x2="352.62" y2="145.2" stroke="#f28a2e" stroke-width="0.4" stroke-dasharray="0.8 0.6" opacity="0.6"/>
<line x1="352.62" y1="143" x2="352.62" y2="145" stroke="#f28a2e" stroke-width="0.7"/>
<line x1="351.32" y1="143" x2="353.92" y2="143" stroke="#f28a2e" stroke-width="0.5"/>
<line x1="351.32" y1="145" x2="353.92" y2="145" stroke="#f28a2e" stroke-width="0.5"/>
<path d="M352.62 142.06L354.49 145.29L350.75 145.29Z" fill="#f28a2e"/>
<path d="M63.5 137.4L63.5 133.4L75.6 133.4L75.6 137.4" fill="none" stroke="#222" stroke-width="0.8" stroke-linejoin="miter"/>
<text x="72.65" y="128.2" font-size="7.35" stroke="#1a1a1a" stroke-width="0.2" transform="rotate(-90 72.65 128.2)">&lt;0.0001</text>
<path d="M81 140L81 136.4L93 136.4L93 140" fill="none" stroke="#222" stroke-width="0.8" stroke-linejoin="miter"/>
<text x="89.55" y="131.6" font-size="7.35" stroke="#1a1a1a" stroke-width="0.2" transform="rotate(-90 89.55 131.6)">0.0018</text>
<path d="M116.3 58.2L116.3 54.6L128.7 54.6L128.7 82.8" fill="none" stroke="#222" stroke-width="0.8" stroke-linejoin="miter"/>
<text x="125.05" y="50" font-size="7.35" stroke="#1a1a1a" stroke-width="0.2" transform="rotate(-90 125.05 50)">&lt;0.0001</text>
<path d="M202.9 138.7L202.9 131.3L214.2 131.3L214.2 134.7" fill="none" stroke="#222" stroke-width="0.8" stroke-linejoin="miter"/>
<text x="211.35" y="128.2" font-size="7.35" stroke="#1a1a1a" stroke-width="0.2" transform="rotate(-90 211.35 128.2)">0.0001</text>
<path d="M220.5 132.1L220.5 123.4L231.3 123.4L231.3 127.4" fill="none" stroke="#222" stroke-width="0.8" stroke-linejoin="miter"/>
<text x="228.45" y="119" font-size="7.35" stroke="#1a1a1a" stroke-width="0.2" transform="rotate(-90 228.45 119)">0.0183</text>
<path d="M256.8 136L256.8 128.2L266 128.2L266 133.4" fill="none" stroke="#222" stroke-width="0.8" stroke-linejoin="miter"/>
<text x="264.25" y="124.2" font-size="7.35" stroke="#1a1a1a" stroke-width="0.2" transform="rotate(-90 264.25 124.2)">0.0201</text>
<path d="M274.5 129.5L274.5 121.6L283.2 121.6L283.2 126.8" fill="none" stroke="#222" stroke-width="0.8" stroke-linejoin="miter"/>
<text x="281.35" y="117.6" font-size="7.35" stroke="#1a1a1a" stroke-width="0.2" transform="rotate(-90 281.35 117.6)">0.0287</text>
<path d="M290.2 122.3L290.2 118.7L300.6 118.7L300.6 122.3" fill="none" stroke="#222" stroke-width="0.8" stroke-linejoin="miter"/>
<text x="297.35" y="114.2" font-size="7.35" stroke="#1a1a1a" stroke-width="0.2" transform="rotate(-90 297.35 114.2)">0.0147</text>
<path d="M306.9 135.5L306.9 131.1L318.5 131.1L318.5 136.5" fill="none" stroke="#222" stroke-width="0.8" stroke-linejoin="miter"/>
<text x="316.15" y="126.3" font-size="7.35" stroke="#1a1a1a" stroke-width="0.2" transform="rotate(-90 316.15 126.3)">0.0053</text>
<circle cx="303.3" cy="52.7" r="3.5" fill="#3d3d3d"/>
<rect x="300.3" y="61.5" width="6.5" height="5.8" fill="#5f5ca6"/>
<path d="M303.9 73.1L307.1 78.7L300.7 78.7Z" fill="#f28a2e"/>
<text x="312.2" y="54.9" font-size="7.45" stroke="#1a1a1a" stroke-width="0.2">Control</text>
<text x="310.8" y="66.3" font-size="7.45" stroke="#1a1a1a" stroke-width="0.2">NA-PCOS</text>
<text x="310.8" y="78.4" font-size="7.45" stroke="#1a1a1a" stroke-width="0.2">HA-PCOS</text>
<text x="365.9" y="32.3" font-size="14.6" font-weight="bold" fill="#111">e</text>
<path d="M406.21 99.86 L428.41 103.6 L451.78 106.4 L470.47 107.8 L486.82 106.87 L505.51 105 L525.37 104.07 L525.37 126.96 L505.51 122.76 L486.82 118.55 L470.47 116.21 L451.78 116.68 L428.41 119.49 L406.21 122.06Z" fill="#d5dbea"/>
<line x1="406.2" y1="110.6" x2="525.4" y2="116.9" stroke="#3172b2" stroke-width="1.1"/>
<circle cx="454.58" cy="66.21" r="1.35" fill="#4178b8"/>
<circle cx="462.99" cy="69.72" r="1.35" fill="#4178b8"/>
<circle cx="496.17" cy="73.69" r="1.35" fill="#4178b8"/>
<circle cx="494.3" cy="81.17" r="1.35" fill="#4178b8"/>
<circle cx="406.21" cy="91.92" r="1.35" fill="#4178b8"/>
<circle cx="475.61" cy="90.75" r="1.35" fill="#4178b8"/>
<circle cx="509.72" cy="88.88" r="1.35" fill="#4178b8"/>
<circle cx="426.07" cy="100.09" r="1.35" fill="#4178b8"/>
<circle cx="484.02" cy="104.77" r="1.35" fill="#4178b8"/>
<circle cx="524.91" cy="105.93" r="1.35" fill="#4178b8"/>
<circle cx="447.57" cy="107.34" r="1.35" fill="#4178b8"/>
<circle cx="455.28" cy="110.37" r="1.35" fill="#4178b8"/>
<circle cx="461.12" cy="110.37" r="1.35" fill="#4178b8"/>
<circle cx="470.47" cy="110.37" r="1.35" fill="#4178b8"/>
<circle cx="475.14" cy="109.21" r="1.35" fill="#4178b8"/>
<circle cx="476.31" cy="109.91" r="1.35" fill="#4178b8"/>
<circle cx="426.78" cy="112.71" r="1.35" fill="#4178b8"/>
<circle cx="462.29" cy="112.94" r="1.35" fill="#4178b8"/>
<circle cx="495.47" cy="113.88" r="1.35" fill="#4178b8"/>
<circle cx="407.38" cy="118.55" r="1.35" fill="#4178b8"/>
<circle cx="428.41" cy="116.92" r="1.35" fill="#4178b8"/>
<circle cx="427.24" cy="120.42" r="1.35" fill="#4178b8"/>
<circle cx="452.94" cy="119.25" r="1.35" fill="#4178b8"/>
<circle cx="476.78" cy="117.15" r="1.35" fill="#4178b8"/>
<circle cx="495.7" cy="118.08" r="1.35" fill="#4178b8"/>
<circle cx="523.04" cy="115.28" r="1.35" fill="#4178b8"/>
<circle cx="440.56" cy="121.59" r="1.35" fill="#4178b8"/>
<circle cx="447.1" cy="122.76" r="1.35" fill="#4178b8"/>
<circle cx="487.52" cy="124.16" r="1.35" fill="#4178b8"/>
<circle cx="502.71" cy="124.16" r="1.35" fill="#4178b8"/>
<circle cx="503.18" cy="126.26" r="1.35" fill="#4178b8"/>
<circle cx="496.17" cy="125.56" r="1.35" fill="#4178b8"/>
<circle cx="448.27" cy="129.3" r="1.35" fill="#4178b8"/>
<circle cx="475.84" cy="129.77" r="1.35" fill="#4178b8"/>
<circle cx="495" cy="129.3" r="1.35" fill="#4178b8"/>
<circle cx="419.53" cy="133.74" r="1.35" fill="#4178b8"/>
<circle cx="508.32" cy="132.1" r="1.35" fill="#4178b8"/>
<circle cx="509.72" cy="132.8" r="1.35" fill="#4178b8"/>
<circle cx="456.45" cy="140.28" r="1.35" fill="#4178b8"/>
<circle cx="462.99" cy="140.98" r="1.35" fill="#4178b8"/>
<circle cx="524.21" cy="144.95" r="1.35" fill="#4178b8"/>
<rect x="400.4" y="62.4" width="130.4" height="86.1" fill="none" stroke="#3a3a3a" stroke-width="0.9"/>
<line x1="397.8" y1="63.2" x2="400.4" y2="63.2" stroke="#3a3a3a" stroke-width="0.8"/>
<text x="396.8" y="65.7" font-size="7.1" text-anchor="end" stroke="#1a1a1a" stroke-width="0.2">100</text>
<line x1="397.8" y1="88.3" x2="400.4" y2="88.3" stroke="#3a3a3a" stroke-width="0.8"/>
<text x="396.8" y="90.8" font-size="7.1" text-anchor="end" stroke="#1a1a1a" stroke-width="0.2">60</text>
<line x1="397.8" y1="113.4" x2="400.4" y2="113.4" stroke="#3a3a3a" stroke-width="0.8"/>
<text x="396.8" y="115.9" font-size="7.1" text-anchor="end" stroke="#1a1a1a" stroke-width="0.2">20</text>
<line x1="397.8" y1="138.4" x2="400.4" y2="138.4" stroke="#3a3a3a" stroke-width="0.8"/>
<text x="396.8" y="140.9" font-size="7.1" text-anchor="end" stroke="#1a1a1a" stroke-width="0.2">-20</text>
<line x1="427.2" y1="148.5" x2="427.2" y2="151.1" stroke="#3a3a3a" stroke-width="0.8"/>
<text x="427.2" y="157.8" font-size="7.1" text-anchor="middle" stroke="#1a1a1a" stroke-width="0.2">-0.25</text>
<line x1="458.8" y1="148.5" x2="458.8" y2="151.1" stroke="#3a3a3a" stroke-width="0.8"/>
<text x="458.8" y="157.8" font-size="7.1" text-anchor="middle" stroke="#1a1a1a" stroke-width="0.2">-0.15</text>
<line x1="490.3" y1="148.5" x2="490.3" y2="151.1" stroke="#3a3a3a" stroke-width="0.8"/>
<text x="490.3" y="157.8" font-size="7.1" text-anchor="middle" stroke="#1a1a1a" stroke-width="0.2">-0.05</text>
<line x1="521.4" y1="148.5" x2="521.4" y2="151.1" stroke="#3a3a3a" stroke-width="0.8"/>
<text x="521.4" y="157.8" font-size="7.1" text-anchor="middle" stroke="#1a1a1a" stroke-width="0.2">0.05</text>
<text x="433.5" y="55.6" font-size="9.9" stroke="#1a1a1a" stroke-width="0.2">TT&lt;0.69ng/mL</text>
<text x="408.2" y="77.8" font-size="7.65" fill="#222" stroke="#222" stroke-width="0.15"><tspan font-style="italic">p-value</tspan>=0.5661</text>
<path d="M554.67 66.17 L571.73 73.88 L585.75 82.52 L595.09 84.39 L606.78 82.06 L623.13 78.55 L641.82 75.05 L674.53 72.24 L674.53 135.79 L655.84 126.45 L630.14 114.77 L606.78 101.92 L595.09 97.24 L583.41 94.21 L571.73 94.91 L554.67 100.28Z" fill="#d5dbea"/>
<line x1="554.7" y1="80.2" x2="674.5" y2="118.7" stroke="#3172b2" stroke-width="1.1"/>
<circle cx="554.67" cy="84.86" r="1.35" fill="#4178b8"/>
<circle cx="567.52" cy="83.46" r="1.35" fill="#4178b8"/>
<circle cx="567.06" cy="86.73" r="1.35" fill="#4178b8"/>
<circle cx="572.2" cy="90.23" r="1.35" fill="#4178b8"/>
<circle cx="573.36" cy="76.92" r="1.35" fill="#4178b8"/>
<circle cx="574.07" cy="78.55" r="1.35" fill="#4178b8"/>
<circle cx="577.57" cy="77.38" r="1.35" fill="#4178b8"/>
<circle cx="587.62" cy="71.07" r="1.35" fill="#4178b8"/>
<circle cx="596.96" cy="72.71" r="1.35" fill="#4178b8"/>
<circle cx="602.1" cy="75.05" r="1.35" fill="#4178b8"/>
<circle cx="611.45" cy="69.91" r="1.35" fill="#4178b8"/>
<circle cx="606.78" cy="86.03" r="1.35" fill="#4178b8"/>
<circle cx="607.94" cy="90.7" r="1.35" fill="#4178b8"/>
<circle cx="612.62" cy="93.74" r="1.35" fill="#4178b8"/>
<circle cx="625.47" cy="89.53" r="1.35" fill="#4178b8"/>
<circle cx="597.9" cy="98.41" r="1.35" fill="#4178b8"/>
<circle cx="598.6" cy="99.58" r="1.35" fill="#4178b8"/>
<circle cx="568.69" cy="107.76" r="1.35" fill="#4178b8"/>
<circle cx="620.33" cy="117.57" r="1.35" fill="#4178b8"/>
<circle cx="645.33" cy="121.07" r="1.35" fill="#4178b8"/>
<circle cx="567.06" cy="136.96" r="1.35" fill="#4178b8"/>
<circle cx="674.53" cy="145.14" r="1.35" fill="#4178b8"/>
<rect x="548.4" y="62.2" width="132.4" height="86.1" fill="none" stroke="#3a3a3a" stroke-width="0.9"/>
<line x1="545.8" y1="63.4" x2="548.4" y2="63.4" stroke="#3a3a3a" stroke-width="0.8"/>
<text x="544.8" y="65.9" font-size="7.1" text-anchor="end" stroke="#1a1a1a" stroke-width="0.2">0</text>
<line x1="545.8" y1="95.4" x2="548.4" y2="95.4" stroke="#3a3a3a" stroke-width="0.8"/>
<text x="544.8" y="97.9" font-size="7.1" text-anchor="end" stroke="#1a1a1a" stroke-width="0.2">-40</text>
<line x1="545.8" y1="128.1" x2="548.4" y2="128.1" stroke="#3a3a3a" stroke-width="0.8"/>
<text x="544.8" y="130.6" font-size="7.1" text-anchor="end" stroke="#1a1a1a" stroke-width="0.2">-80</text>
<line x1="549.6" y1="148.3" x2="549.6" y2="150.9" stroke="#3a3a3a" stroke-width="0.8"/>
<text x="549.6" y="157" font-size="7.1" text-anchor="middle" stroke="#1a1a1a" stroke-width="0.2">0</text>
<line x1="592.8" y1="148.3" x2="592.8" y2="150.9" stroke="#3a3a3a" stroke-width="0.8"/>
<text x="592.8" y="157" font-size="7.1" text-anchor="middle" stroke="#1a1a1a" stroke-width="0.2">0.2</text>
<line x1="636" y1="148.3" x2="636" y2="150.9" stroke="#3a3a3a" stroke-width="0.8"/>
<text x="636" y="157" font-size="7.1" text-anchor="middle" stroke="#1a1a1a" stroke-width="0.2">0.4</text>
<line x1="679.2" y1="148.3" x2="679.2" y2="150.9" stroke="#3a3a3a" stroke-width="0.8"/>
<text x="679.2" y="157" font-size="7.1" text-anchor="middle" stroke="#1a1a1a" stroke-width="0.2">0.6</text>
<text x="583" y="55.9" font-size="9.9" stroke="#1a1a1a" stroke-width="0.2">TT≥0.69ng/mL</text>
<text x="619.2" y="77.9" font-size="7.65" fill="#222" stroke="#222" stroke-width="0.15"><tspan font-style="italic">p-value</tspan>=0.0332</text>
<text x="380.1" y="151.2" font-size="8.8" stroke="#1a1a1a" stroke-width="0.2" transform="rotate(-90 380.1 151.2)">Residuals of Gln (μg/ml)</text>
<text x="469.3" y="170.7" font-size="8.7" stroke="#1a1a1a" stroke-width="0.2">Residuals of total testosterone (ng/mL)</text>
<text x="366.8" y="229.9" font-size="14.6" font-weight="bold" fill="#111">f</text>
<path d="M404.7 289.4 L434.4 293.9 L464.2 296.9 L491.5 293.2 L525 285.7 L525 321.7 L491.5 314.3 L464.2 311.8 L434.4 315.5 L404.7 321.7Z" fill="#d5dbea"/>
<line x1="404.7" y1="307.3" x2="525" y2="301.1" stroke="#3172b2" stroke-width="1.1"/>
<circle cx="433.2" cy="261.65" r="1.35" fill="#4178b8"/>
<circle cx="525.01" cy="269.59" r="1.35" fill="#4178b8"/>
<circle cx="411.61" cy="288.2" r="1.35" fill="#4178b8"/>
<circle cx="448.83" cy="289.94" r="1.35" fill="#4178b8"/>
<circle cx="448.83" cy="294.4" r="1.35" fill="#4178b8"/>
<circle cx="474.14" cy="286.22" r="1.35" fill="#4178b8"/>
<circle cx="471.66" cy="292.42" r="1.35" fill="#4178b8"/>
<circle cx="495.24" cy="288.2" r="1.35" fill="#4178b8"/>
<circle cx="492.01" cy="293.66" r="1.35" fill="#4178b8"/>
<circle cx="495.98" cy="294.9" r="1.35" fill="#4178b8"/>
<circle cx="498.21" cy="293.16" r="1.35" fill="#4178b8"/>
<circle cx="434.94" cy="298.62" r="1.35" fill="#4178b8"/>
<circle cx="433.2" cy="303.09" r="1.35" fill="#4178b8"/>
<circle cx="455.53" cy="302.34" r="1.35" fill="#4178b8"/>
<circle cx="462.98" cy="300.61" r="1.35" fill="#4178b8"/>
<circle cx="493.25" cy="303.09" r="1.35" fill="#4178b8"/>
<circle cx="448.59" cy="311.28" r="1.35" fill="#4178b8"/>
<circle cx="449.83" cy="316.24" r="1.35" fill="#4178b8"/>
<circle cx="454.29" cy="316.74" r="1.35" fill="#4178b8"/>
<circle cx="508.88" cy="307.31" r="1.35" fill="#4178b8"/>
<circle cx="446.35" cy="323.44" r="1.35" fill="#4178b8"/>
<circle cx="405.16" cy="324.18" r="1.35" fill="#4178b8"/>
<circle cx="425.76" cy="326.17" r="1.35" fill="#4178b8"/>
<circle cx="494" cy="323.68" r="1.35" fill="#4178b8"/>
<circle cx="476.63" cy="327.9" r="1.35" fill="#4178b8"/>
<circle cx="498.96" cy="337.33" r="1.35" fill="#4178b8"/>
<circle cx="477.12" cy="341.55" r="1.35" fill="#4178b8"/>
<rect x="399" y="257.9" width="131.8" height="86.6" fill="none" stroke="#3a3a3a" stroke-width="0.9"/>
<line x1="396.4" y1="260.4" x2="399" y2="260.4" stroke="#3a3a3a" stroke-width="0.8"/>
<text x="395.4" y="262.9" font-size="7.1" text-anchor="end" stroke="#1a1a1a" stroke-width="0.2">10</text>
<line x1="396.4" y1="293.9" x2="399" y2="293.9" stroke="#3a3a3a" stroke-width="0.8"/>
<text x="395.4" y="296.4" font-size="7.1" text-anchor="end" stroke="#1a1a1a" stroke-width="0.2">0</text>
<line x1="396.4" y1="327.4" x2="399" y2="327.4" stroke="#3a3a3a" stroke-width="0.8"/>
<text x="395.4" y="329.9" font-size="7.1" text-anchor="end" stroke="#1a1a1a" stroke-width="0.2">-10</text>
<line x1="404.7" y1="344.5" x2="404.7" y2="347.1" stroke="#3a3a3a" stroke-width="0.8"/>
<text x="404.7" y="353.5" font-size="7.1" text-anchor="middle" stroke="#1a1a1a" stroke-width="0.2">-0.3</text>
<line x1="433.2" y1="344.5" x2="433.2" y2="347.1" stroke="#3a3a3a" stroke-width="0.8"/>
<text x="433.2" y="353.5" font-size="7.1" text-anchor="middle" stroke="#1a1a1a" stroke-width="0.2">-0.2</text>
<line x1="463" y1="344.5" x2="463" y2="347.1" stroke="#3a3a3a" stroke-width="0.8"/>
<text x="463" y="353.5" font-size="7.1" text-anchor="middle" stroke="#1a1a1a" stroke-width="0.2">-0.1</text>
<line x1="492.3" y1="344.5" x2="492.3" y2="347.1" stroke="#3a3a3a" stroke-width="0.8"/>
<text x="492.3" y="353.5" font-size="7.1" text-anchor="middle" stroke="#1a1a1a" stroke-width="0.2">0</text>
<line x1="521.8" y1="344.5" x2="521.8" y2="347.1" stroke="#3a3a3a" stroke-width="0.8"/>
<text x="521.8" y="353.5" font-size="7.1" text-anchor="middle" stroke="#1a1a1a" stroke-width="0.2">0.1</text>
<text x="433.2" y="251" font-size="9.9" stroke="#1a1a1a" stroke-width="0.2">TT&lt;0.69ng/mL</text>
<text x="408.4" y="274.6" font-size="7.65" fill="#222" stroke="#222" stroke-width="0.15"><tspan font-style="italic">p-value</tspan>=0.6879</text>
<path d="M554.9 307.4 L583.4 300.4 L606.8 293.4 L630.1 277.1 L674.5 261.9 L674.5 296.9 L630.1 303.9 L606.8 310.9 L583.4 323.8 L554.9 341.3Z" fill="#d5dbea"/>
<line x1="554.9" y1="322.1" x2="674.5" y2="275.9" stroke="#3172b2" stroke-width="1.1"/>
<circle cx="554.91" cy="301.12" r="1.35" fill="#4178b8"/>
<circle cx="580.37" cy="308.6" r="1.35" fill="#4178b8"/>
<circle cx="581.78" cy="321.92" r="1.35" fill="#4178b8"/>
<circle cx="589.95" cy="324.02" r="1.35" fill="#4178b8"/>
<circle cx="592.76" cy="317.48" r="1.35" fill="#4178b8"/>
<circle cx="606.78" cy="285.47" r="1.35" fill="#4178b8"/>
<circle cx="613.08" cy="312.57" r="1.35" fill="#4178b8"/>
<circle cx="631.78" cy="284.07" r="1.35" fill="#4178b8"/>
<circle cx="631.78" cy="288.74" r="1.35" fill="#4178b8"/>
<circle cx="636.68" cy="278.93" r="1.35" fill="#4178b8"/>
<circle cx="641.82" cy="291.78" r="1.35" fill="#4178b8"/>
<circle cx="633.88" cy="313.74" r="1.35" fill="#4178b8"/>
<circle cx="674.53" cy="265.84" r="1.35" fill="#4178b8"/>
<rect x="548.8" y="257.7" width="132" height="86.4" fill="none" stroke="#3a3a3a" stroke-width="0.9"/>
<line x1="546.2" y1="274.3" x2="548.8" y2="274.3" stroke="#3a3a3a" stroke-width="0.8"/>
<text x="545.2" y="276.8" font-size="7.1" text-anchor="end" stroke="#1a1a1a" stroke-width="0.2">20</text>
<line x1="546.2" y1="293.4" x2="548.8" y2="293.4" stroke="#3a3a3a" stroke-width="0.8"/>
<text x="545.2" y="295.9" font-size="7.1" text-anchor="end" stroke="#1a1a1a" stroke-width="0.2">10</text>
<line x1="546.2" y1="312.6" x2="548.8" y2="312.6" stroke="#3a3a3a" stroke-width="0.8"/>
<text x="545.2" y="315.1" font-size="7.1" text-anchor="end" stroke="#1a1a1a" stroke-width="0.2">0</text>
<line x1="546.2" y1="331.5" x2="548.8" y2="331.5" stroke="#3a3a3a" stroke-width="0.8"/>
<text x="545.2" y="334" font-size="7.1" text-anchor="end" stroke="#1a1a1a" stroke-width="0.2">-10</text>
<line x1="562.9" y1="344.1" x2="562.9" y2="346.7" stroke="#3a3a3a" stroke-width="0.8"/>
<text x="562.9" y="353" font-size="7.1" text-anchor="middle" stroke="#1a1a1a" stroke-width="0.2">0.05</text>
<line x1="597.4" y1="344.1" x2="597.4" y2="346.7" stroke="#3a3a3a" stroke-width="0.8"/>
<text x="597.4" y="353" font-size="7.1" text-anchor="middle" stroke="#1a1a1a" stroke-width="0.2">0.15</text>
<line x1="633.2" y1="344.1" x2="633.2" y2="346.7" stroke="#3a3a3a" stroke-width="0.8"/>
<text x="633.2" y="353" font-size="7.1" text-anchor="middle" stroke="#1a1a1a" stroke-width="0.2">0.25</text>
<line x1="668" y1="344.1" x2="668" y2="346.7" stroke="#3a3a3a" stroke-width="0.8"/>
<text x="668" y="353" font-size="7.1" text-anchor="middle" stroke="#1a1a1a" stroke-width="0.2">0.35</text>
<text x="586.9" y="250.2" font-size="9.9" stroke="#1a1a1a" stroke-width="0.2">TT≥0.69ng/mL</text>
<text x="561.2" y="274.3" font-size="7.65" fill="#222" stroke="#222" stroke-width="0.15"><tspan font-style="italic">p-value</tspan>=0.0099</text>
<text x="380.1" y="348.6" font-size="8.85" stroke="#1a1a1a" stroke-width="0.2" transform="rotate(-90 380.1 348.6)">Residuals of Gln (μg/mg)</text>
<text x="469" y="367.6" font-size="8.7" stroke="#1a1a1a" stroke-width="0.2">Residuals of total testosterone (ng/mL)</text>
<text x="-0.1" y="230.1" font-size="14.6" font-weight="bold" fill="#111">b</text>
<circle cx="68.3" cy="256" r="17.4" fill="#ead7ac"/>
<circle cx="85.05" cy="256" r="0.5" fill="#dcc08a"/>
<circle cx="84.91" cy="258.19" r="0.5" fill="#dcc08a"/>
<circle cx="84.48" cy="260.34" r="0.5" fill="#dcc08a"/>
<circle cx="83.77" cy="262.41" r="0.5" fill="#dcc08a"/>
<circle cx="82.81" cy="264.38" r="0.5" fill="#dcc08a"/>
<circle cx="81.59" cy="266.2" r="0.5" fill="#dcc08a"/>
<circle cx="80.14" cy="267.84" r="0.5" fill="#dcc08a"/>
<circle cx="78.5" cy="269.29" r="0.5" fill="#dcc08a"/>
<circle cx="76.67" cy="270.51" r="0.5" fill="#dcc08a"/>
<circle cx="74.71" cy="271.47" r="0.5" fill="#dcc08a"/>
<circle cx="72.64" cy="272.18" r="0.5" fill="#dcc08a"/>
<circle cx="70.49" cy="272.61" r="0.5" fill="#dcc08a"/>
<circle cx="68.3" cy="272.75" r="0.5" fill="#dcc08a"/>
<circle cx="66.11" cy="272.61" r="0.5" fill="#dcc08a"/>
<circle cx="63.96" cy="272.18" r="0.5" fill="#dcc08a"/>
<circle cx="61.89" cy="271.47" r="0.5" fill="#dcc08a"/>
<circle cx="59.92" cy="270.51" r="0.5" fill="#dcc08a"/>
<circle cx="58.1" cy="269.29" r="0.5" fill="#dcc08a"/>
<circle cx="56.46" cy="267.84" r="0.5" fill="#dcc08a"/>
<circle cx="55.01" cy="266.2" r="0.5" fill="#dcc08a"/>
<circle cx="53.79" cy="264.38" r="0.5" fill="#dcc08a"/>
<circle cx="52.83" cy="262.41" r="0.5" fill="#dcc08a"/>
<circle cx="52.12" cy="260.34" r="0.5" fill="#dcc08a"/>
<circle cx="51.69" cy="258.19" r="0.5" fill="#dcc08a"/>
<circle cx="51.55" cy="256" r="0.5" fill="#dcc08a"/>
<circle cx="51.69" cy="253.81" r="0.5" fill="#dcc08a"/>
<circle cx="52.12" cy="251.66" r="0.5" fill="#dcc08a"/>
<circle cx="52.83" cy="249.59" r="0.5" fill="#dcc08a"/>
<circle cx="53.79" cy="247.62" r="0.5" fill="#dcc08a"/>
<circle cx="55.01" cy="245.8" r="0.5" fill="#dcc08a"/>
<circle cx="56.46" cy="244.16" r="0.5" fill="#dcc08a"/>
<circle cx="58.1" cy="242.71" r="0.5" fill="#dcc08a"/>
<circle cx="59.92" cy="241.49" r="0.5" fill="#dcc08a"/>
<circle cx="61.89" cy="240.53" r="0.5" fill="#dcc08a"/>
<circle cx="63.96" cy="239.82" r="0.5" fill="#dcc08a"/>
<circle cx="66.11" cy="239.39" r="0.5" fill="#dcc08a"/>
<circle cx="68.3" cy="239.25" r="0.5" fill="#dcc08a"/>
<circle cx="70.49" cy="239.39" r="0.5" fill="#dcc08a"/>
<circle cx="72.64" cy="239.82" r="0.5" fill="#dcc08a"/>
<circle cx="74.71" cy="240.53" r="0.5" fill="#dcc08a"/>
<circle cx="76.67" cy="241.49" r="0.5" fill="#dcc08a"/>
<circle cx="78.5" cy="242.71" r="0.5" fill="#dcc08a"/>
<circle cx="80.14" cy="244.16" r="0.5" fill="#dcc08a"/>
<circle cx="81.59" cy="245.8" r="0.5" fill="#dcc08a"/>
<circle cx="82.81" cy="247.62" r="0.5" fill="#dcc08a"/>
<circle cx="83.77" cy="249.59" r="0.5" fill="#dcc08a"/>
<circle cx="84.48" cy="251.66" r="0.5" fill="#dcc08a"/>
<circle cx="84.91" cy="253.81" r="0.5" fill="#dcc08a"/>
<circle cx="68.3" cy="256" r="15.9" fill="#de8e93"/>
<circle cx="68.2" cy="256.2" r="12.6" fill="#eef6f8"/>
<circle cx="62.3" cy="249.4" r="5.6" fill="#de8e93"/>
<circle cx="62.2" cy="249.2" r="2.2" fill="#f8efe8"/>
<circle cx="62" cy="249" r="0.7" fill="#9a8ac0"/>
<text x="63.5" y="230.8" font-size="7.3" font-weight="bold" fill="#222">GCs</text>
<line x1="66.9" y1="233.2" x2="62.8" y2="244.7" stroke="#222" stroke-width="0.75"/>
<line x1="45.5" y1="237" x2="45.5" y2="293.6" stroke="#333" stroke-width="1"/>
<line x1="42.9" y1="293.6" x2="48.3" y2="293.6" stroke="#333" stroke-width="0.9"/>
<line x1="45.5" y1="303.3" x2="45.5" y2="341.6" stroke="#333" stroke-width="1"/>
<line x1="45.5" y1="341.2" x2="355.4" y2="341.2" stroke="#333" stroke-width="1"/>
<line x1="41.1" y1="237" x2="45.5" y2="237" stroke="#333" stroke-width="0.9"/>
<text x="39.5" y="239.6" font-size="7.3" text-anchor="end" stroke="#1a1a1a" stroke-width="0.2">100</text>
<line x1="41.1" y1="266.2" x2="45.5" y2="266.2" stroke="#333" stroke-width="0.9"/>
<text x="39.5" y="268.8" font-size="7.3" text-anchor="end" stroke="#1a1a1a" stroke-width="0.2">50</text>
<line x1="41.1" y1="303.3" x2="45.5" y2="303.3" stroke="#333" stroke-width="0.9"/>
<text x="39.5" y="305.9" font-size="7.3" text-anchor="end" stroke="#1a1a1a" stroke-width="0.2">5</text>
<line x1="41.1" y1="322.1" x2="45.5" y2="322.1" stroke="#333" stroke-width="0.9"/>
<text x="39.5" y="324.7" font-size="7.3" text-anchor="end" stroke="#1a1a1a" stroke-width="0.2">2.5</text>
<line x1="41.1" y1="341.2" x2="45.5" y2="341.2" stroke="#333" stroke-width="0.9"/>
<text x="39.5" y="343.8" font-size="7.3" text-anchor="end" stroke="#1a1a1a" stroke-width="0.2">0</text>
<line x1="45.5" y1="303.3" x2="48.3" y2="303.3" stroke="#333" stroke-width="0.9"/>
<text x="20.3" y="343.3" font-size="8.45" stroke="#1a1a1a" stroke-width="0.2" transform="rotate(-90 20.3 343.3)">Conc of amino acids (μg/mg)</text>
<line x1="53.3" y1="341.2" x2="53.3" y2="345" stroke="#333" stroke-width="0.9"/>
<text x="54.3" y="353" font-size="7.6" text-anchor="end" stroke="#1a1a1a" stroke-width="0.2" transform="rotate(-45 54.3 353)">Ala</text>
<line x1="70.59" y1="341.2" x2="70.59" y2="345" stroke="#333" stroke-width="0.9"/>
<text x="71.59" y="353" font-size="7.6" text-anchor="end" stroke="#1a1a1a" stroke-width="0.2" transform="rotate(-45 71.59 353)">Asn</text>
<line x1="87.88" y1="341.2" x2="87.88" y2="345" stroke="#333" stroke-width="0.9"/>
<text x="88.88" y="353" font-size="7.6" text-anchor="end" stroke="#1a1a1a" stroke-width="0.2" transform="rotate(-45 88.88 353)">Asp</text>
<line x1="105.17" y1="341.2" x2="105.17" y2="345" stroke="#333" stroke-width="0.9"/>
<text x="106.17" y="353" font-size="7.6" text-anchor="end" fill="#e8333b" stroke="#e8333b" stroke-width="0.2" transform="rotate(-45 106.17 353)">Glu</text>
<line x1="122.46" y1="341.2" x2="122.46" y2="345" stroke="#333" stroke-width="0.9"/>
<text x="123.46" y="353" font-size="7.6" text-anchor="end" fill="#e8333b" stroke="#e8333b" stroke-width="0.2" transform="rotate(-45 123.46 353)">Gln</text>
<line x1="139.75" y1="341.2" x2="139.75" y2="345" stroke="#333" stroke-width="0.9"/>
<text x="140.75" y="353" font-size="7.6" text-anchor="end" stroke="#1a1a1a" stroke-width="0.2" transform="rotate(-45 140.75 353)">Gly</text>
<line x1="157.04" y1="341.2" x2="157.04" y2="345" stroke="#333" stroke-width="0.9"/>
<text x="158.04" y="353" font-size="7.6" text-anchor="end" stroke="#1a1a1a" stroke-width="0.2" transform="rotate(-45 158.04 353)">Ile</text>
<line x1="174.33" y1="341.2" x2="174.33" y2="345" stroke="#333" stroke-width="0.9"/>
<text x="175.33" y="353" font-size="7.6" text-anchor="end" stroke="#1a1a1a" stroke-width="0.2" transform="rotate(-45 175.33 353)">Leu</text>
<line x1="191.62" y1="341.2" x2="191.62" y2="345" stroke="#333" stroke-width="0.9"/>
<text x="192.62" y="353" font-size="7.6" text-anchor="end" stroke="#1a1a1a" stroke-width="0.2" transform="rotate(-45 192.62 353)">Lys</text>
<line x1="208.91" y1="341.2" x2="208.91" y2="345" stroke="#333" stroke-width="0.9"/>
<text x="209.91" y="353" font-size="7.6" text-anchor="end" stroke="#1a1a1a" stroke-width="0.2" transform="rotate(-45 209.91 353)">Met</text>
<line x1="226.2" y1="341.2" x2="226.2" y2="345" stroke="#333" stroke-width="0.9"/>
<text x="227.2" y="353" font-size="7.6" text-anchor="end" fill="#e8333b" stroke="#e8333b" stroke-width="0.2" transform="rotate(-45 227.2 353)">Phe</text>
<line x1="243.49" y1="341.2" x2="243.49" y2="345" stroke="#333" stroke-width="0.9"/>
<text x="244.49" y="353" font-size="7.6" text-anchor="end" stroke="#1a1a1a" stroke-width="0.2" transform="rotate(-45 244.49 353)">Pro</text>
<line x1="260.78" y1="341.2" x2="260.78" y2="345" stroke="#333" stroke-width="0.9"/>
<text x="261.78" y="353" font-size="7.6" text-anchor="end" stroke="#1a1a1a" stroke-width="0.2" transform="rotate(-45 261.78 353)">Ser</text>
<line x1="278.07" y1="341.2" x2="278.07" y2="345" stroke="#333" stroke-width="0.9"/>
<text x="279.07" y="353" font-size="7.6" text-anchor="end" stroke="#1a1a1a" stroke-width="0.2" transform="rotate(-45 279.07 353)">Thr</text>
<line x1="295.36" y1="341.2" x2="295.36" y2="345" stroke="#333" stroke-width="0.9"/>
<text x="296.36" y="353" font-size="7.6" text-anchor="end" stroke="#1a1a1a" stroke-width="0.2" transform="rotate(-45 296.36 353)">Trp</text>
<line x1="312.65" y1="341.2" x2="312.65" y2="345" stroke="#333" stroke-width="0.9"/>
<text x="313.65" y="353" font-size="7.6" text-anchor="end" stroke="#1a1a1a" stroke-width="0.2" transform="rotate(-45 313.65 353)">Tyr</text>
<line x1="329.94" y1="341.2" x2="329.94" y2="345" stroke="#333" stroke-width="0.9"/>
<text x="330.94" y="353" font-size="7.6" text-anchor="end" stroke="#1a1a1a" stroke-width="0.2" transform="rotate(-45 330.94 353)">Val</text>
<line x1="347.23" y1="341.2" x2="347.23" y2="345" stroke="#333" stroke-width="0.9"/>
<text x="348.23" y="353" font-size="7.6" text-anchor="end" stroke="#1a1a1a" stroke-width="0.2" transform="rotate(-45 348.23 353)">Cys</text>
<line x1="48.6" y1="316" x2="48.6" y2="332" stroke="#3a3a3a" stroke-width="0.4" stroke-dasharray="0.8 0.6" opacity="0.6"/>
<line x1="48.6" y1="321.5" x2="48.6" y2="327.5" stroke="#3a3a3a" stroke-width="0.7"/>
<line x1="47.3" y1="321.5" x2="49.9" y2="321.5" stroke="#3a3a3a" stroke-width="0.5"/>
<line x1="47.3" y1="327.5" x2="49.9" y2="327.5" stroke="#3a3a3a" stroke-width="0.5"/>
<circle cx="48.6" cy="324.5" r="1.7" fill="#3a3a3a"/>
<line x1="53.3" y1="317" x2="53.3" y2="335" stroke="#5f5ca6" stroke-width="0.4" stroke-dasharray="0.8 0.6" opacity="0.6"/>
<line x1="53.3" y1="322.9" x2="53.3" y2="328.9" stroke="#5f5ca6" stroke-width="0.7"/>
<line x1="52" y1="322.9" x2="54.6" y2="322.9" stroke="#5f5ca6" stroke-width="0.5"/>
<line x1="52" y1="328.9" x2="54.6" y2="328.9" stroke="#5f5ca6" stroke-width="0.5"/>
<rect x="51.6" y="324.2" width="3.4" height="3.4" fill="#5f5ca6"/>
<line x1="58.3" y1="316" x2="58.3" y2="331" stroke="#f28a2e" stroke-width="0.4" stroke-dasharray="0.8 0.6" opacity="0.6"/>
<line x1="58.3" y1="319.1" x2="58.3" y2="325.1" stroke="#f28a2e" stroke-width="0.7"/>
<line x1="57" y1="319.1" x2="59.6" y2="319.1" stroke="#f28a2e" stroke-width="0.5"/>
<line x1="57" y1="325.1" x2="59.6" y2="325.1" stroke="#f28a2e" stroke-width="0.5"/>
<path d="M58.3 320.16L60.17 323.39L56.43 323.39Z" fill="#f28a2e"/>
<line x1="65.89" y1="333" x2="65.89" y2="339" stroke="#3a3a3a" stroke-width="0.4" stroke-dasharray="0.8 0.6" opacity="0.6"/>
<line x1="65.89" y1="334.72" x2="65.89" y2="338.08" stroke="#3a3a3a" stroke-width="0.7"/>
<line x1="64.59" y1="334.72" x2="67.19" y2="334.72" stroke="#3a3a3a" stroke-width="0.5"/>
<line x1="64.59" y1="338.08" x2="67.19" y2="338.08" stroke="#3a3a3a" stroke-width="0.5"/>
<circle cx="65.89" cy="336.4" r="1.7" fill="#3a3a3a"/>
<line x1="70.59" y1="334" x2="70.59" y2="340" stroke="#5f5ca6" stroke-width="0.4" stroke-dasharray="0.8 0.6" opacity="0.6"/>
<line x1="70.59" y1="335.52" x2="70.59" y2="338.88" stroke="#5f5ca6" stroke-width="0.7"/>
<line x1="69.29" y1="335.52" x2="71.89" y2="335.52" stroke="#5f5ca6" stroke-width="0.5"/>
<line x1="69.29" y1="338.88" x2="71.89" y2="338.88" stroke="#5f5ca6" stroke-width="0.5"/>
<rect x="68.89" y="335.5" width="3.4" height="3.4" fill="#5f5ca6"/>
<line x1="75.59" y1="331" x2="75.59" y2="340" stroke="#f28a2e" stroke-width="0.4" stroke-dasharray="0.8 0.6" opacity="0.6"/>
<line x1="75.59" y1="333.48" x2="75.59" y2="337.92" stroke="#f28a2e" stroke-width="0.7"/>
<line x1="74.29" y1="333.48" x2="76.89" y2="333.48" stroke="#f28a2e" stroke-width="0.5"/>
<line x1="74.29" y1="337.92" x2="76.89" y2="337.92" stroke="#f28a2e" stroke-width="0.5"/>
<path d="M75.59 333.76L77.46 336.99L73.72 336.99Z" fill="#f28a2e"/>
<line x1="83.18" y1="326" x2="83.18" y2="337" stroke="#3a3a3a" stroke-width="0.4" stroke-dasharray="0.8 0.6" opacity="0.6"/>
<line x1="83.18" y1="329.42" x2="83.18" y2="334.58" stroke="#3a3a3a" stroke-width="0.7"/>
<line x1="81.88" y1="329.42" x2="84.48" y2="329.42" stroke="#3a3a3a" stroke-width="0.5"/>
<line x1="81.88" y1="334.58" x2="84.48" y2="334.58" stroke="#3a3a3a" stroke-width="0.5"/>
<circle cx="83.18" cy="332" r="1.7" fill="#3a3a3a"/>
<line x1="87.88" y1="325" x2="87.88" y2="338" stroke="#5f5ca6" stroke-width="0.4" stroke-dasharray="0.8 0.6" opacity="0.6"/>
<line x1="87.88" y1="329.06" x2="87.88" y2="334.94" stroke="#5f5ca6" stroke-width="0.7"/>
<line x1="86.58" y1="329.06" x2="89.18" y2="329.06" stroke="#5f5ca6" stroke-width="0.5"/>
<line x1="86.58" y1="334.94" x2="89.18" y2="334.94" stroke="#5f5ca6" stroke-width="0.5"/>
<rect x="86.18" y="330.3" width="3.4" height="3.4" fill="#5f5ca6"/>
<line x1="92.88" y1="309" x2="92.88" y2="334" stroke="#f28a2e" stroke-width="0.4" stroke-dasharray="0.8 0.6" opacity="0.6"/>
<line x1="92.88" y1="323.2" x2="92.88" y2="329.2" stroke="#f28a2e" stroke-width="0.7"/>
<line x1="91.58" y1="323.2" x2="94.18" y2="323.2" stroke="#f28a2e" stroke-width="0.5"/>
<line x1="91.58" y1="329.2" x2="94.18" y2="329.2" stroke="#f28a2e" stroke-width="0.5"/>
<path d="M92.88 324.26L94.75 327.49L91.01 327.49Z" fill="#f28a2e"/>
<line x1="98.87" y1="282.6" x2="102.07" y2="282.6" stroke="#3a3a3a" stroke-width="0.6"/>
<circle cx="100.47" cy="282.6" r="0.9" fill="#3a3a3a"/>
<line x1="103.57" y1="282.6" x2="106.77" y2="282.6" stroke="#5f5ca6" stroke-width="0.6"/>
<rect x="104.27" y="281.7" width="1.8" height="1.8" fill="#5f5ca6"/>
<line x1="108.57" y1="274.6" x2="111.77" y2="274.6" stroke="#f28a2e" stroke-width="0.6"/>
<path d="M110.17 273.57L111.16 275.28L109.18 275.28Z" fill="#f28a2e"/>
<line x1="116.16" y1="284" x2="119.36" y2="284" stroke="#3a3a3a" stroke-width="0.6"/>
<circle cx="117.76" cy="284" r="0.9" fill="#3a3a3a"/>
<line x1="120.86" y1="287" x2="124.06" y2="287" stroke="#5f5ca6" stroke-width="0.6"/>
<rect x="121.56" y="286.1" width="1.8" height="1.8" fill="#5f5ca6"/>
<line x1="125.86" y1="278.2" x2="129.06" y2="278.2" stroke="#f28a2e" stroke-width="0.6"/>
<path d="M127.46 277.17L128.45 278.88L126.47 278.88Z" fill="#f28a2e"/>
<line x1="135.05" y1="333" x2="135.05" y2="339" stroke="#3a3a3a" stroke-width="0.4" stroke-dasharray="0.8 0.6" opacity="0.6"/>
<line x1="135.05" y1="334.92" x2="135.05" y2="338.28" stroke="#3a3a3a" stroke-width="0.7"/>
<line x1="133.75" y1="334.92" x2="136.35" y2="334.92" stroke="#3a3a3a" stroke-width="0.5"/>
<line x1="133.75" y1="338.28" x2="136.35" y2="338.28" stroke="#3a3a3a" stroke-width="0.5"/>
<circle cx="135.05" cy="336.6" r="1.7" fill="#3a3a3a"/>
<line x1="139.75" y1="333" x2="139.75" y2="341" stroke="#5f5ca6" stroke-width="0.4" stroke-dasharray="0.8 0.6" opacity="0.6"/>
<line x1="139.75" y1="335.36" x2="139.75" y2="339.44" stroke="#5f5ca6" stroke-width="0.7"/>
<line x1="138.45" y1="335.36" x2="141.05" y2="335.36" stroke="#5f5ca6" stroke-width="0.5"/>
<line x1="138.45" y1="339.44" x2="141.05" y2="339.44" stroke="#5f5ca6" stroke-width="0.5"/>
<rect x="138.05" y="335.7" width="3.4" height="3.4" fill="#5f5ca6"/>
<line x1="144.75" y1="333" x2="144.75" y2="340" stroke="#f28a2e" stroke-width="0.4" stroke-dasharray="0.8 0.6" opacity="0.6"/>
<line x1="144.75" y1="334.74" x2="144.75" y2="338.46" stroke="#f28a2e" stroke-width="0.7"/>
<line x1="143.45" y1="334.74" x2="146.05" y2="334.74" stroke="#f28a2e" stroke-width="0.5"/>
<line x1="143.45" y1="338.46" x2="146.05" y2="338.46" stroke="#f28a2e" stroke-width="0.5"/>
<path d="M144.75 334.66L146.62 337.89L142.88 337.89Z" fill="#f28a2e"/>
<line x1="152.34" y1="327" x2="152.34" y2="336" stroke="#3a3a3a" stroke-width="0.4" stroke-dasharray="0.8 0.6" opacity="0.6"/>
<line x1="152.34" y1="330.08" x2="152.34" y2="334.52" stroke="#3a3a3a" stroke-width="0.7"/>
<line x1="151.04" y1="330.08" x2="153.64" y2="330.08" stroke="#3a3a3a" stroke-width="0.5"/>
<line x1="151.04" y1="334.52" x2="153.64" y2="334.52" stroke="#3a3a3a" stroke-width="0.5"/>
<circle cx="152.34" cy="332.3" r="1.7" fill="#3a3a3a"/>
<line x1="157.04" y1="328" x2="157.04" y2="339" stroke="#5f5ca6" stroke-width="0.4" stroke-dasharray="0.8 0.6" opacity="0.6"/>
<line x1="157.04" y1="331.12" x2="157.04" y2="336.28" stroke="#5f5ca6" stroke-width="0.7"/>
<line x1="155.74" y1="331.12" x2="158.34" y2="331.12" stroke="#5f5ca6" stroke-width="0.5"/>
<line x1="155.74" y1="336.28" x2="158.34" y2="336.28" stroke="#5f5ca6" stroke-width="0.5"/>
<rect x="155.34" y="332" width="3.4" height="3.4" fill="#5f5ca6"/>
<line x1="162.04" y1="318" x2="162.04" y2="338" stroke="#f28a2e" stroke-width="0.4" stroke-dasharray="0.8 0.6" opacity="0.6"/>
<line x1="162.04" y1="325.6" x2="162.04" y2="331.6" stroke="#f28a2e" stroke-width="0.7"/>
<line x1="160.74" y1="325.6" x2="163.34" y2="325.6" stroke="#f28a2e" stroke-width="0.5"/>
<line x1="160.74" y1="331.6" x2="163.34" y2="331.6" stroke="#f28a2e" stroke-width="0.5"/>
<path d="M162.04 326.66L163.91 329.89L160.17 329.89Z" fill="#f28a2e"/>
<line x1="169.63" y1="312" x2="169.63" y2="334" stroke="#3a3a3a" stroke-width="0.4" stroke-dasharray="0.8 0.6" opacity="0.6"/>
<line x1="169.63" y1="322" x2="169.63" y2="328" stroke="#3a3a3a" stroke-width="0.7"/>
<line x1="168.33" y1="322" x2="170.93" y2="322" stroke="#3a3a3a" stroke-width="0.5"/>
<line x1="168.33" y1="328" x2="170.93" y2="328" stroke="#3a3a3a" stroke-width="0.5"/>
<circle cx="169.63" cy="325" r="1.7" fill="#3a3a3a"/>
<line x1="174.33" y1="316" x2="174.33" y2="341" stroke="#5f5ca6" stroke-width="0.4" stroke-dasharray="0.8 0.6" opacity="0.6"/>
<line x1="174.33" y1="324.9" x2="174.33" y2="330.9" stroke="#5f5ca6" stroke-width="0.7"/>
<line x1="173.03" y1="324.9" x2="175.63" y2="324.9" stroke="#5f5ca6" stroke-width="0.5"/>
<line x1="173.03" y1="330.9" x2="175.63" y2="330.9" stroke="#5f5ca6" stroke-width="0.5"/>
<rect x="172.63" y="326.2" width="3.4" height="3.4" fill="#5f5ca6"/>
<line x1="179.33" y1="308" x2="179.33" y2="335" stroke="#f28a2e" stroke-width="0.4" stroke-dasharray="0.8 0.6" opacity="0.6"/>
<line x1="179.33" y1="316.1" x2="179.33" y2="322.1" stroke="#f28a2e" stroke-width="0.7"/>
<line x1="178.03" y1="316.1" x2="180.63" y2="316.1" stroke="#f28a2e" stroke-width="0.5"/>
<line x1="178.03" y1="322.1" x2="180.63" y2="322.1" stroke="#f28a2e" stroke-width="0.5"/>
<path d="M179.33 317.16L181.2 320.39L177.46 320.39Z" fill="#f28a2e"/>
<line x1="186.92" y1="309" x2="186.92" y2="326" stroke="#3a3a3a" stroke-width="0.4" stroke-dasharray="0.8 0.6" opacity="0.6"/>
<line x1="186.92" y1="315" x2="186.92" y2="321" stroke="#3a3a3a" stroke-width="0.7"/>
<line x1="185.62" y1="315" x2="188.22" y2="315" stroke="#3a3a3a" stroke-width="0.5"/>
<line x1="185.62" y1="321" x2="188.22" y2="321" stroke="#3a3a3a" stroke-width="0.5"/>
<circle cx="186.92" cy="318" r="1.7" fill="#3a3a3a"/>
<line x1="191.62" y1="308" x2="191.62" y2="339" stroke="#5f5ca6" stroke-width="0.4" stroke-dasharray="0.8 0.6" opacity="0.6"/>
<line x1="191.62" y1="316.9" x2="191.62" y2="322.9" stroke="#5f5ca6" stroke-width="0.7"/>
<line x1="190.32" y1="316.9" x2="192.92" y2="316.9" stroke="#5f5ca6" stroke-width="0.5"/>
<line x1="190.32" y1="322.9" x2="192.92" y2="322.9" stroke="#5f5ca6" stroke-width="0.5"/>
<rect x="189.92" y="318.2" width="3.4" height="3.4" fill="#5f5ca6"/>
<line x1="196.62" y1="296" x2="196.62" y2="330" stroke="#f28a2e" stroke-width="0.4" stroke-dasharray="0.8 0.6" opacity="0.6"/>
<line x1="196.62" y1="304" x2="196.62" y2="310" stroke="#f28a2e" stroke-width="0.7"/>
<line x1="195.32" y1="304" x2="197.92" y2="304" stroke="#f28a2e" stroke-width="0.5"/>
<line x1="195.32" y1="310" x2="197.92" y2="310" stroke="#f28a2e" stroke-width="0.5"/>
<path d="M196.62 305.06L198.49 308.29L194.75 308.29Z" fill="#f28a2e"/>
<line x1="204.21" y1="339.5" x2="204.21" y2="341" stroke="#3a3a3a" stroke-width="0.4" stroke-dasharray="0.8 0.6" opacity="0.6"/>
<line x1="204.21" y1="339.43" x2="204.21" y2="341.17" stroke="#3a3a3a" stroke-width="0.7"/>
<line x1="202.91" y1="339.43" x2="205.51" y2="339.43" stroke="#3a3a3a" stroke-width="0.5"/>
<line x1="202.91" y1="341.17" x2="205.51" y2="341.17" stroke="#3a3a3a" stroke-width="0.5"/>
<circle cx="204.21" cy="340.3" r="1.7" fill="#3a3a3a"/>
<line x1="208.91" y1="339.5" x2="208.91" y2="341" stroke="#5f5ca6" stroke-width="0.4" stroke-dasharray="0.8 0.6" opacity="0.6"/>
<line x1="208.91" y1="339.43" x2="208.91" y2="341.17" stroke="#5f5ca6" stroke-width="0.7"/>
<line x1="207.61" y1="339.43" x2="210.21" y2="339.43" stroke="#5f5ca6" stroke-width="0.5"/>
<line x1="207.61" y1="341.17" x2="210.21" y2="341.17" stroke="#5f5ca6" stroke-width="0.5"/>
<rect x="207.21" y="338.6" width="3.4" height="3.4" fill="#5f5ca6"/>
<line x1="213.91" y1="339.3" x2="213.91" y2="341" stroke="#f28a2e" stroke-width="0.4" stroke-dasharray="0.8 0.6" opacity="0.6"/>
<line x1="213.91" y1="339.29" x2="213.91" y2="341.11" stroke="#f28a2e" stroke-width="0.7"/>
<line x1="212.61" y1="339.29" x2="215.21" y2="339.29" stroke="#f28a2e" stroke-width="0.5"/>
<line x1="212.61" y1="341.11" x2="215.21" y2="341.11" stroke="#f28a2e" stroke-width="0.5"/>
<path d="M213.91 338.26L215.78 341.49L212.04 341.49Z" fill="#f28a2e"/>
<line x1="221.5" y1="328" x2="221.5" y2="338" stroke="#3a3a3a" stroke-width="0.4" stroke-dasharray="0.8 0.6" opacity="0.6"/>
<line x1="221.5" y1="332.3" x2="221.5" y2="337.1" stroke="#3a3a3a" stroke-width="0.7"/>
<line x1="220.2" y1="332.3" x2="222.8" y2="332.3" stroke="#3a3a3a" stroke-width="0.5"/>
<line x1="220.2" y1="337.1" x2="222.8" y2="337.1" stroke="#3a3a3a" stroke-width="0.5"/>
<circle cx="221.5" cy="334.7" r="1.7" fill="#3a3a3a"/>
<line x1="226.2" y1="330" x2="226.2" y2="341" stroke="#5f5ca6" stroke-width="0.4" stroke-dasharray="0.8 0.6" opacity="0.6"/>
<line x1="226.2" y1="333.62" x2="226.2" y2="338.78" stroke="#5f5ca6" stroke-width="0.7"/>
<line x1="224.9" y1="333.62" x2="227.5" y2="333.62" stroke="#5f5ca6" stroke-width="0.5"/>
<line x1="224.9" y1="338.78" x2="227.5" y2="338.78" stroke="#5f5ca6" stroke-width="0.5"/>
<rect x="224.5" y="334.5" width="3.4" height="3.4" fill="#5f5ca6"/>
<line x1="231.2" y1="317.7" x2="231.2" y2="341" stroke="#f28a2e" stroke-width="0.4" stroke-dasharray="0.8 0.6" opacity="0.6"/>
<line x1="231.2" y1="327.5" x2="231.2" y2="333.5" stroke="#f28a2e" stroke-width="0.7"/>
<line x1="229.9" y1="327.5" x2="232.5" y2="327.5" stroke="#f28a2e" stroke-width="0.5"/>
<line x1="229.9" y1="333.5" x2="232.5" y2="333.5" stroke="#f28a2e" stroke-width="0.5"/>
<path d="M231.2 328.56L233.07 331.79L229.33 331.79Z" fill="#f28a2e"/>
<line x1="238.79" y1="322" x2="238.79" y2="336" stroke="#3a3a3a" stroke-width="0.4" stroke-dasharray="0.8 0.6" opacity="0.6"/>
<line x1="238.79" y1="327.1" x2="238.79" y2="333.1" stroke="#3a3a3a" stroke-width="0.7"/>
<line x1="237.49" y1="327.1" x2="240.09" y2="327.1" stroke="#3a3a3a" stroke-width="0.5"/>
<line x1="237.49" y1="333.1" x2="240.09" y2="333.1" stroke="#3a3a3a" stroke-width="0.5"/>
<circle cx="238.79" cy="330.1" r="1.7" fill="#3a3a3a"/>
<line x1="243.49" y1="326" x2="243.49" y2="340" stroke="#5f5ca6" stroke-width="0.4" stroke-dasharray="0.8 0.6" opacity="0.6"/>
<line x1="243.49" y1="328.5" x2="243.49" y2="334.5" stroke="#5f5ca6" stroke-width="0.7"/>
<line x1="242.19" y1="328.5" x2="244.79" y2="328.5" stroke="#5f5ca6" stroke-width="0.5"/>
<line x1="242.19" y1="334.5" x2="244.79" y2="334.5" stroke="#5f5ca6" stroke-width="0.5"/>
<rect x="241.79" y="329.8" width="3.4" height="3.4" fill="#5f5ca6"/>
<line x1="248.49" y1="318" x2="248.49" y2="338" stroke="#f28a2e" stroke-width="0.4" stroke-dasharray="0.8 0.6" opacity="0.6"/>
<line x1="248.49" y1="323.4" x2="248.49" y2="329.4" stroke="#f28a2e" stroke-width="0.7"/>
<line x1="247.19" y1="323.4" x2="249.79" y2="323.4" stroke="#f28a2e" stroke-width="0.5"/>
<line x1="247.19" y1="329.4" x2="249.79" y2="329.4" stroke="#f28a2e" stroke-width="0.5"/>
<path d="M248.49 324.46L250.36 327.69L246.62 327.69Z" fill="#f28a2e"/>
<line x1="256.08" y1="325" x2="256.08" y2="337" stroke="#3a3a3a" stroke-width="0.4" stroke-dasharray="0.8 0.6" opacity="0.6"/>
<line x1="256.08" y1="329.54" x2="256.08" y2="335.06" stroke="#3a3a3a" stroke-width="0.7"/>
<line x1="254.78" y1="329.54" x2="257.38" y2="329.54" stroke="#3a3a3a" stroke-width="0.5"/>
<line x1="254.78" y1="335.06" x2="257.38" y2="335.06" stroke="#3a3a3a" stroke-width="0.5"/>
<circle cx="256.08" cy="332.3" r="1.7" fill="#3a3a3a"/>
<line x1="260.78" y1="328" x2="260.78" y2="341" stroke="#5f5ca6" stroke-width="0.4" stroke-dasharray="0.8 0.6" opacity="0.6"/>
<line x1="260.78" y1="330.76" x2="260.78" y2="336.64" stroke="#5f5ca6" stroke-width="0.7"/>
<line x1="259.48" y1="330.76" x2="262.08" y2="330.76" stroke="#5f5ca6" stroke-width="0.5"/>
<line x1="259.48" y1="336.64" x2="262.08" y2="336.64" stroke="#5f5ca6" stroke-width="0.5"/>
<rect x="259.08" y="332" width="3.4" height="3.4" fill="#5f5ca6"/>
<line x1="265.78" y1="320" x2="265.78" y2="341" stroke="#f28a2e" stroke-width="0.4" stroke-dasharray="0.8 0.6" opacity="0.6"/>
<line x1="265.78" y1="328.5" x2="265.78" y2="334.5" stroke="#f28a2e" stroke-width="0.7"/>
<line x1="264.48" y1="328.5" x2="267.08" y2="328.5" stroke="#f28a2e" stroke-width="0.5"/>
<line x1="264.48" y1="334.5" x2="267.08" y2="334.5" stroke="#f28a2e" stroke-width="0.5"/>
<path d="M265.78 329.56L267.65 332.79L263.91 332.79Z" fill="#f28a2e"/>
<line x1="273.37" y1="327" x2="273.37" y2="338" stroke="#3a3a3a" stroke-width="0.4" stroke-dasharray="0.8 0.6" opacity="0.6"/>
<line x1="273.37" y1="330.72" x2="273.37" y2="335.88" stroke="#3a3a3a" stroke-width="0.7"/>
<line x1="272.07" y1="330.72" x2="274.67" y2="330.72" stroke="#3a3a3a" stroke-width="0.5"/>
<line x1="272.07" y1="335.88" x2="274.67" y2="335.88" stroke="#3a3a3a" stroke-width="0.5"/>
<circle cx="273.37" cy="333.3" r="1.7" fill="#3a3a3a"/>
<line x1="278.07" y1="330" x2="278.07" y2="341" stroke="#5f5ca6" stroke-width="0.4" stroke-dasharray="0.8 0.6" opacity="0.6"/>
<line x1="278.07" y1="331.42" x2="278.07" y2="336.58" stroke="#5f5ca6" stroke-width="0.7"/>
<line x1="276.77" y1="331.42" x2="279.37" y2="331.42" stroke="#5f5ca6" stroke-width="0.5"/>
<line x1="276.77" y1="336.58" x2="279.37" y2="336.58" stroke="#5f5ca6" stroke-width="0.5"/>
<rect x="276.37" y="332.3" width="3.4" height="3.4" fill="#5f5ca6"/>
<line x1="283.07" y1="324" x2="283.07" y2="338" stroke="#f28a2e" stroke-width="0.4" stroke-dasharray="0.8 0.6" opacity="0.6"/>
<line x1="283.07" y1="328.1" x2="283.07" y2="334.1" stroke="#f28a2e" stroke-width="0.7"/>
<line x1="281.77" y1="328.1" x2="284.37" y2="328.1" stroke="#f28a2e" stroke-width="0.5"/>
<line x1="281.77" y1="334.1" x2="284.37" y2="334.1" stroke="#f28a2e" stroke-width="0.5"/>
<path d="M283.07 329.16L284.94 332.39L281.2 332.39Z" fill="#f28a2e"/>
<line x1="290.66" y1="336.5" x2="290.66" y2="340" stroke="#3a3a3a" stroke-width="0.4" stroke-dasharray="0.8 0.6" opacity="0.6"/>
<line x1="290.66" y1="337.17" x2="290.66" y2="339.63" stroke="#3a3a3a" stroke-width="0.7"/>
<line x1="289.36" y1="337.17" x2="291.96" y2="337.17" stroke="#3a3a3a" stroke-width="0.5"/>
<line x1="289.36" y1="339.63" x2="291.96" y2="339.63" stroke="#3a3a3a" stroke-width="0.5"/>
<circle cx="290.66" cy="338.4" r="1.7" fill="#3a3a3a"/>
<line x1="295.36" y1="336" x2="295.36" y2="340.5" stroke="#5f5ca6" stroke-width="0.4" stroke-dasharray="0.8 0.6" opacity="0.6"/>
<line x1="295.36" y1="336.99" x2="295.36" y2="339.81" stroke="#5f5ca6" stroke-width="0.7"/>
<line x1="294.06" y1="336.99" x2="296.66" y2="336.99" stroke="#5f5ca6" stroke-width="0.5"/>
<line x1="294.06" y1="339.81" x2="296.66" y2="339.81" stroke="#5f5ca6" stroke-width="0.5"/>
<rect x="293.66" y="336.7" width="3.4" height="3.4" fill="#5f5ca6"/>
<line x1="300.36" y1="335" x2="300.36" y2="341" stroke="#f28a2e" stroke-width="0.4" stroke-dasharray="0.8 0.6" opacity="0.6"/>
<line x1="300.36" y1="336.32" x2="300.36" y2="339.68" stroke="#f28a2e" stroke-width="0.7"/>
<line x1="299.06" y1="336.32" x2="301.66" y2="336.32" stroke="#f28a2e" stroke-width="0.5"/>
<line x1="299.06" y1="339.68" x2="301.66" y2="339.68" stroke="#f28a2e" stroke-width="0.5"/>
<path d="M300.36 336.06L302.23 339.29L298.49 339.29Z" fill="#f28a2e"/>
<line x1="307.95" y1="332" x2="307.95" y2="339" stroke="#3a3a3a" stroke-width="0.4" stroke-dasharray="0.8 0.6" opacity="0.6"/>
<line x1="307.95" y1="334.04" x2="307.95" y2="337.76" stroke="#3a3a3a" stroke-width="0.7"/>
<line x1="306.65" y1="334.04" x2="309.25" y2="334.04" stroke="#3a3a3a" stroke-width="0.5"/>
<line x1="306.65" y1="337.76" x2="309.25" y2="337.76" stroke="#3a3a3a" stroke-width="0.5"/>
<circle cx="307.95" cy="335.9" r="1.7" fill="#3a3a3a"/>
<line x1="312.65" y1="333" x2="312.65" y2="341" stroke="#5f5ca6" stroke-width="0.4" stroke-dasharray="0.8 0.6" opacity="0.6"/>
<line x1="312.65" y1="335.36" x2="312.65" y2="339.44" stroke="#5f5ca6" stroke-width="0.7"/>
<line x1="311.35" y1="335.36" x2="313.95" y2="335.36" stroke="#5f5ca6" stroke-width="0.5"/>
<line x1="311.35" y1="339.44" x2="313.95" y2="339.44" stroke="#5f5ca6" stroke-width="0.5"/>
<rect x="310.95" y="335.7" width="3.4" height="3.4" fill="#5f5ca6"/>
<line x1="317.65" y1="328" x2="317.65" y2="340" stroke="#f28a2e" stroke-width="0.4" stroke-dasharray="0.8 0.6" opacity="0.6"/>
<line x1="317.65" y1="331.94" x2="317.65" y2="337.46" stroke="#f28a2e" stroke-width="0.7"/>
<line x1="316.35" y1="331.94" x2="318.95" y2="331.94" stroke="#f28a2e" stroke-width="0.5"/>
<line x1="316.35" y1="337.46" x2="318.95" y2="337.46" stroke="#f28a2e" stroke-width="0.5"/>
<path d="M317.65 332.76L319.52 335.99L315.78 335.99Z" fill="#f28a2e"/>
<line x1="325.24" y1="330" x2="325.24" y2="338" stroke="#3a3a3a" stroke-width="0.4" stroke-dasharray="0.8 0.6" opacity="0.6"/>
<line x1="325.24" y1="332.46" x2="325.24" y2="336.54" stroke="#3a3a3a" stroke-width="0.7"/>
<line x1="323.94" y1="332.46" x2="326.54" y2="332.46" stroke="#3a3a3a" stroke-width="0.5"/>
<line x1="323.94" y1="336.54" x2="326.54" y2="336.54" stroke="#3a3a3a" stroke-width="0.5"/>
<circle cx="325.24" cy="334.5" r="1.7" fill="#3a3a3a"/>
<line x1="329.94" y1="331" x2="329.94" y2="340" stroke="#5f5ca6" stroke-width="0.4" stroke-dasharray="0.8 0.6" opacity="0.6"/>
<line x1="329.94" y1="333.68" x2="329.94" y2="338.12" stroke="#5f5ca6" stroke-width="0.7"/>
<line x1="328.64" y1="333.68" x2="331.24" y2="333.68" stroke="#5f5ca6" stroke-width="0.5"/>
<line x1="328.64" y1="338.12" x2="331.24" y2="338.12" stroke="#5f5ca6" stroke-width="0.5"/>
<rect x="328.24" y="334.2" width="3.4" height="3.4" fill="#5f5ca6"/>
<line x1="334.94" y1="325" x2="334.94" y2="340" stroke="#f28a2e" stroke-width="0.4" stroke-dasharray="0.8 0.6" opacity="0.6"/>
<line x1="334.94" y1="329.3" x2="334.94" y2="335.3" stroke="#f28a2e" stroke-width="0.7"/>
<line x1="333.64" y1="329.3" x2="336.24" y2="329.3" stroke="#f28a2e" stroke-width="0.5"/>
<line x1="333.64" y1="335.3" x2="336.24" y2="335.3" stroke="#f28a2e" stroke-width="0.5"/>
<path d="M334.94 330.36L336.81 333.59L333.07 333.59Z" fill="#f28a2e"/>
<line x1="342.53" y1="338.5" x2="342.53" y2="340.6" stroke="#3a3a3a" stroke-width="0.4" stroke-dasharray="0.8 0.6" opacity="0.6"/>
<line x1="342.53" y1="338.62" x2="342.53" y2="340.58" stroke="#3a3a3a" stroke-width="0.7"/>
<line x1="341.23" y1="338.62" x2="343.83" y2="338.62" stroke="#3a3a3a" stroke-width="0.5"/>
<line x1="341.23" y1="340.58" x2="343.83" y2="340.58" stroke="#3a3a3a" stroke-width="0.5"/>
<circle cx="342.53" cy="339.6" r="1.7" fill="#3a3a3a"/>
<line x1="347.23" y1="338.5" x2="347.23" y2="340.6" stroke="#5f5ca6" stroke-width="0.4" stroke-dasharray="0.8 0.6" opacity="0.6"/>
<line x1="347.23" y1="338.62" x2="347.23" y2="340.58" stroke="#5f5ca6" stroke-width="0.7"/>
<line x1="345.93" y1="338.62" x2="348.53" y2="338.62" stroke="#5f5ca6" stroke-width="0.5"/>
<line x1="345.93" y1="340.58" x2="348.53" y2="340.58" stroke="#5f5ca6" stroke-width="0.5"/>
<rect x="345.53" y="337.9" width="3.4" height="3.4" fill="#5f5ca6"/>
<line x1="352.23" y1="333" x2="352.23" y2="341" stroke="#f28a2e" stroke-width="0.4" stroke-dasharray="0.8 0.6" opacity="0.6"/>
<line x1="352.23" y1="336.06" x2="352.23" y2="340.14" stroke="#f28a2e" stroke-width="0.7"/>
<line x1="350.93" y1="336.06" x2="353.53" y2="336.06" stroke="#f28a2e" stroke-width="0.5"/>
<line x1="350.93" y1="340.14" x2="353.53" y2="340.14" stroke="#f28a2e" stroke-width="0.5"/>
<path d="M352.23 336.16L354.1 339.39L350.36 339.39Z" fill="#f28a2e"/>
<circle cx="179" cy="293.6" r="0.6" fill="#f28a2e"/>
<circle cx="187.1" cy="293.6" r="0.6" fill="#3a3a3a"/>
<circle cx="196.5" cy="293.6" r="0.6" fill="#f28a2e"/>
<path d="M100.5 265.9L100.5 230.1L110.1 230.1L110.1 237.4" fill="none" stroke="#222" stroke-width="0.8" stroke-linejoin="miter"/>
<text x="108.45" y="225" font-size="7.35" stroke="#1a1a1a" stroke-width="0.2" transform="rotate(-90 108.45 225)">0.0287</text>
<path d="M117.4 273.9L117.4 260.5L127.7 260.5L127.7 266.6" fill="none" stroke="#222" stroke-width="0.8" stroke-linejoin="miter"/>
<text x="125.95" y="255.4" font-size="7.35" stroke="#1a1a1a" stroke-width="0.2" transform="rotate(-90 125.95 255.4)">0.0176</text>
<path d="M221.3 324.2L221.3 302.3L231.5 302.3L231.5 308.9" fill="none" stroke="#222" stroke-width="0.8" stroke-linejoin="miter"/>
<text x="229.65" y="297.2" font-size="7.35" stroke="#1a1a1a" stroke-width="0.2" transform="rotate(-90 229.65 297.2)">0.0480</text>
<circle cx="303.3" cy="254.4" r="3.5" fill="#3d3d3d"/>
<rect x="300.3" y="263.2" width="6.5" height="5.8" fill="#5f5ca6"/>
<path d="M303.9 274.8L307.1 280.4L300.7 280.4Z" fill="#f28a2e"/>
<text x="312.2" y="256.6" font-size="7.45" stroke="#1a1a1a" stroke-width="0.2">Control</text>
<text x="310.8" y="268" font-size="7.45" stroke="#1a1a1a" stroke-width="0.2">NA-PCOS</text>
<text x="310.8" y="280.1" font-size="7.45" stroke="#1a1a1a" stroke-width="0.2">HA-PCOS</text>
<defs><linearGradient id="gcb" x1="0" x2="1" y1="0" y2="0"><stop offset="0" stop-color="#f4f3f9"/><stop offset="0.5" stop-color="#9c9ccb"/><stop offset="1" stop-color="#4b2a86"/></linearGradient></defs>
<text x="-0.9" y="436.8" font-size="14.6" font-weight="bold" fill="#111">c</text>
<text x="76" y="420.9" font-size="8.6" stroke="#1a1a1a" stroke-width="0.2">Glutamine in FF</text>
<rect x="27" y="428.2" width="19.86" height="20" fill="#e9e7f2"/>
<rect x="46.86" y="428.2" width="19.86" height="20" fill="#d8d7e8"/>
<rect x="66.72" y="428.2" width="19.86" height="20" fill="#b1b3d7"/>
<rect x="86.58" y="428.2" width="19.86" height="20" fill="#8b8bbf"/>
<rect x="106.44" y="428.2" width="19.86" height="20" fill="#8b8bbf"/>
<rect x="126.3" y="428.2" width="19.86" height="20" fill="#8b8ec1"/>
<rect x="146.16" y="428.2" width="19.86" height="20" fill="#8b8cc0"/>
<rect x="166.02" y="428.2" width="19.86" height="20" fill="#4e2d84"/>
<line x1="46.86" y1="428.2" x2="46.86" y2="448.2" stroke="#9a9aa8" stroke-width="0.5"/>
<line x1="66.72" y1="428.2" x2="66.72" y2="448.2" stroke="#9a9aa8" stroke-width="0.5"/>
<line x1="86.58" y1="428.2" x2="86.58" y2="448.2" stroke="#9a9aa8" stroke-width="0.5"/>
<line x1="106.44" y1="428.2" x2="106.44" y2="448.2" stroke="#9a9aa8" stroke-width="0.5"/>
<line x1="126.3" y1="428.2" x2="126.3" y2="448.2" stroke="#9a9aa8" stroke-width="0.5"/>
<line x1="146.16" y1="428.2" x2="146.16" y2="448.2" stroke="#9a9aa8" stroke-width="0.5"/>
<line x1="166.02" y1="428.2" x2="166.02" y2="448.2" stroke="#9a9aa8" stroke-width="0.5"/>
<rect x="27" y="428.2" width="158.88" height="20" fill="none" stroke="#a8a8b4" stroke-width="0.7"/>
<text x="96.51" y="441.4" font-size="6.5" text-anchor="middle" font-weight="bold" fill="#fff">*</text>
<text x="116.37" y="441.4" font-size="6.5" text-anchor="middle" font-weight="bold" fill="#fff">*</text>
<text x="156.09" y="441.4" font-size="6.5" text-anchor="middle" font-weight="bold" fill="#fff">*</text>
<text x="175.95" y="441.4" font-size="6.5" text-anchor="middle" font-weight="bold" fill="#fff">***</text>
<text x="42.63" y="456.5" font-size="7.6" text-anchor="end" stroke="#1a1a1a" stroke-width="0.2" transform="rotate(-45 42.63 456.5)">PRL</text>
<text x="62.49" y="456.5" font-size="7.6" text-anchor="end" stroke="#1a1a1a" stroke-width="0.2" transform="rotate(-45 62.49 456.5)">FSH</text>
<text x="82.35" y="456.5" font-size="7.6" text-anchor="end" stroke="#1a1a1a" stroke-width="0.2" transform="rotate(-45 82.35 456.5)">E2</text>
<text x="102.21" y="456.5" font-size="7.6" text-anchor="end" stroke="#1a1a1a" stroke-width="0.2" transform="rotate(-45 102.21 456.5)">P</text>
<text x="122.07" y="456.5" font-size="7.6" text-anchor="end" stroke="#1a1a1a" stroke-width="0.2" transform="rotate(-45 122.07 456.5)">LH/FSH</text>
<text x="141.93" y="456.5" font-size="7.6" text-anchor="end" stroke="#1a1a1a" stroke-width="0.2" transform="rotate(-45 141.93 456.5)">LH</text>
<text x="161.79" y="456.5" font-size="7.6" text-anchor="end" stroke="#1a1a1a" stroke-width="0.2" transform="rotate(-45 161.79 456.5)">AMH</text>
<text x="181.65" y="456.5" font-size="7.6" text-anchor="end" fill="#e8333b" stroke="#e8333b" stroke-width="0.2" transform="rotate(-45 181.65 456.5)">TT</text>
<text x="72.9" y="489.2" font-size="7.5" stroke="#1a1a1a" stroke-width="0.2">Spearman's correlation coefficient</text>
<rect x="151" y="493.3" width="33.7" height="5.1" fill="url(#gcb)"/>
<text x="159.2" y="505.6" font-size="7.4" text-anchor="middle" stroke="#1a1a1a" stroke-width="0.2">0</text>
<text x="187.8" y="505.6" font-size="7.4" text-anchor="end" stroke="#1a1a1a" stroke-width="0.2">-0.6</text>
<text x="-0.7" y="544" font-size="14.6" font-weight="bold" fill="#111">d</text>
<text x="72.7" y="528.9" font-size="8.6" stroke="#1a1a1a" stroke-width="0.2">Glutamine in GCs</text>
<rect x="29.2" y="537.2" width="19.59" height="19.1" fill="#4e2f85"/>
<rect x="48.79" y="537.2" width="19.59" height="19.1" fill="#9e9fcb"/>
<rect x="68.38" y="537.2" width="19.59" height="19.1" fill="#4d2f84"/>
<rect x="87.97" y="537.2" width="19.59" height="19.1" fill="#583590"/>
<rect x="107.56" y="537.2" width="19.59" height="19.1" fill="#6c6aa8"/>
<rect x="127.15" y="537.2" width="19.59" height="19.1" fill="#8886bc"/>
<rect x="146.74" y="537.2" width="19.59" height="19.1" fill="#533389"/>
<rect x="166.33" y="537.2" width="19.59" height="19.1" fill="#e6e4f0"/>
<line x1="48.79" y1="537.2" x2="48.79" y2="556.3" stroke="#9a9aa8" stroke-width="0.5"/>
<line x1="68.38" y1="537.2" x2="68.38" y2="556.3" stroke="#9a9aa8" stroke-width="0.5"/>
<line x1="87.97" y1="537.2" x2="87.97" y2="556.3" stroke="#9a9aa8" stroke-width="0.5"/>
<line x1="107.56" y1="537.2" x2="107.56" y2="556.3" stroke="#9a9aa8" stroke-width="0.5"/>
<line x1="127.15" y1="537.2" x2="127.15" y2="556.3" stroke="#9a9aa8" stroke-width="0.5"/>
<line x1="146.74" y1="537.2" x2="146.74" y2="556.3" stroke="#9a9aa8" stroke-width="0.5"/>
<line x1="166.33" y1="537.2" x2="166.33" y2="556.3" stroke="#9a9aa8" stroke-width="0.5"/>
<rect x="29.2" y="537.2" width="156.72" height="19.1" fill="none" stroke="#a8a8b4" stroke-width="0.7"/>
<text x="58.58" y="549.95" font-size="6.5" text-anchor="middle" font-weight="bold" fill="#111">*</text>
<text x="176.12" y="549.95" font-size="6.5" text-anchor="middle" font-weight="bold" fill="#111">***</text>
<text x="43.29" y="563.3" font-size="7.6" text-anchor="end" stroke="#1a1a1a" stroke-width="0.2" transform="rotate(-45 43.29 563.3)">PRL</text>
<text x="62.88" y="563.3" font-size="7.6" text-anchor="end" stroke="#1a1a1a" stroke-width="0.2" transform="rotate(-45 62.88 563.3)">FSH</text>
<text x="82.47" y="563.3" font-size="7.6" text-anchor="end" stroke="#1a1a1a" stroke-width="0.2" transform="rotate(-45 82.47 563.3)">E2</text>
<text x="102.06" y="563.3" font-size="7.6" text-anchor="end" stroke="#1a1a1a" stroke-width="0.2" transform="rotate(-45 102.06 563.3)">P</text>
<text x="121.66" y="563.3" font-size="7.6" text-anchor="end" stroke="#1a1a1a" stroke-width="0.2" transform="rotate(-45 121.66 563.3)">LH/FSH</text>
<text x="141.25" y="563.3" font-size="7.6" text-anchor="end" stroke="#1a1a1a" stroke-width="0.2" transform="rotate(-45 141.25 563.3)">LH</text>
<text x="160.84" y="563.3" font-size="7.6" text-anchor="end" stroke="#1a1a1a" stroke-width="0.2" transform="rotate(-45 160.84 563.3)">AMH</text>
<text x="180.43" y="563.3" font-size="7.6" text-anchor="end" fill="#e8333b" stroke="#e8333b" stroke-width="0.2" transform="rotate(-45 180.43 563.3)">TT</text>
<text x="73.5" y="596.2" font-size="7.5" stroke="#1a1a1a" stroke-width="0.2">Spearman's correlation coefficient</text>
<rect x="152" y="600.3" width="33.8" height="5.1" fill="url(#gcb)"/>
<text x="152" y="612.6" font-size="7.4" stroke="#1a1a1a" stroke-width="0.2">0.4</text>
<text x="176" y="612.6" font-size="7.4" text-anchor="middle" stroke="#1a1a1a" stroke-width="0.2">0</text>
<text x="216.2" y="436.5" font-size="14.6" font-weight="bold" fill="#111">g</text>
<ellipse cx="276.2" cy="449" rx="17.4" ry="9.6" fill="#d3e1ee"/>
<ellipse cx="276.2" cy="445.3" rx="17.2" ry="10.2" fill="#e2edf7" stroke="#c9d8e6" stroke-width="0.6"/>
<ellipse cx="276.3" cy="446.5" rx="15.2" ry="8.2" fill="#d4e5f4"/>
<ellipse cx="266.72" cy="443.8" rx="1.3" ry="0.85" fill="#2a9fdc"/>
<ellipse cx="274.45" cy="441.9" rx="1.3" ry="0.85" fill="#2a9fdc"/>
<ellipse cx="285.11" cy="442.63" rx="1.3" ry="0.85" fill="#2a9fdc"/>
<ellipse cx="286.13" cy="447.01" rx="1.3" ry="0.85" fill="#2a9fdc"/>
<ellipse cx="272.55" cy="447.74" rx="1.3" ry="0.85" fill="#2a9fdc"/>
<ellipse cx="266.42" cy="449.2" rx="1.3" ry="0.85" fill="#2a9fdc"/>
<ellipse cx="281.02" cy="450.66" rx="1.3" ry="0.85" fill="#2a9fdc"/>
<text x="275.6" y="426.9" font-size="7.3" font-weight="bold" fill="#222">KGN</text>
<line x1="278.8" y1="429.5" x2="275.2" y2="441.6" stroke="#222" stroke-width="0.6"/>
<text x="348" y="443.2" font-size="8.6" stroke="#1a1a1a" stroke-width="0.2">KGN-intracellular</text>
<line x1="246.7" y1="474.4" x2="246.7" y2="569.3" stroke="#333" stroke-width="1"/>
<line x1="246.7" y1="568.9" x2="526.9" y2="568.9" stroke="#333" stroke-width="1"/>
<line x1="242.1" y1="568.9" x2="246.7" y2="568.9" stroke="#333" stroke-width="0.9"/>
<text x="240.5" y="571.5" font-size="7.3" text-anchor="end" stroke="#1a1a1a" stroke-width="0.2">0</text>
<line x1="242.1" y1="545.27" x2="246.7" y2="545.27" stroke="#333" stroke-width="0.9"/>
<text x="240.5" y="547.88" font-size="7.3" text-anchor="end" stroke="#1a1a1a" stroke-width="0.2">50</text>
<line x1="242.1" y1="521.65" x2="246.7" y2="521.65" stroke="#333" stroke-width="0.9"/>
<text x="240.5" y="524.25" font-size="7.3" text-anchor="end" stroke="#1a1a1a" stroke-width="0.2">100</text>
<line x1="242.1" y1="498.02" x2="246.7" y2="498.02" stroke="#333" stroke-width="0.9"/>
<text x="240.5" y="500.62" font-size="7.3" text-anchor="end" stroke="#1a1a1a" stroke-width="0.2">150</text>
<line x1="242.1" y1="474.4" x2="246.7" y2="474.4" stroke="#333" stroke-width="0.9"/>
<text x="240.5" y="477" font-size="7.3" text-anchor="end" stroke="#1a1a1a" stroke-width="0.2">200</text>
<text x="221.6" y="575.2" font-size="8.5" stroke="#1a1a1a" stroke-width="0.2" transform="rotate(-90 221.6 575.2)">Conc of amino acids (μg/mg)</text>
<line x1="253.7" y1="568.9" x2="253.7" y2="572.5" stroke="#333" stroke-width="0.9"/>
<text x="255.3" y="578.9" font-size="7.4" text-anchor="end" fill="#e8333b" stroke="#e8333b" stroke-width="0.2" transform="rotate(-45 255.3 578.9)">Ala</text>
<line x1="269.33" y1="568.9" x2="269.33" y2="572.5" stroke="#333" stroke-width="0.9"/>
<text x="270.93" y="578.9" font-size="7.4" text-anchor="end" fill="#e8333b" stroke="#e8333b" stroke-width="0.2" transform="rotate(-45 270.93 578.9)">Asn</text>
<line x1="284.96" y1="568.9" x2="284.96" y2="572.5" stroke="#333" stroke-width="0.9"/>
<text x="286.56" y="578.9" font-size="7.4" text-anchor="end" fill="#e8333b" stroke="#e8333b" stroke-width="0.2" transform="rotate(-45 286.56 578.9)">Asp</text>
<line x1="300.59" y1="568.9" x2="300.59" y2="572.5" stroke="#333" stroke-width="0.9"/>
<text x="302.19" y="578.9" font-size="7.4" text-anchor="end" fill="#e8333b" stroke="#e8333b" stroke-width="0.2" transform="rotate(-45 302.19 578.9)">Glu</text>
<line x1="316.22" y1="568.9" x2="316.22" y2="572.5" stroke="#333" stroke-width="0.9"/>
<text x="317.82" y="578.9" font-size="7.4" text-anchor="end" fill="#e8333b" stroke="#e8333b" stroke-width="0.2" transform="rotate(-45 317.82 578.9)">Gln</text>
<line x1="331.85" y1="568.9" x2="331.85" y2="572.5" stroke="#333" stroke-width="0.9"/>
<text x="333.45" y="578.9" font-size="7.4" text-anchor="end" fill="#e8333b" stroke="#e8333b" stroke-width="0.2" transform="rotate(-45 333.45 578.9)">Gly</text>
<line x1="347.48" y1="568.9" x2="347.48" y2="572.5" stroke="#333" stroke-width="0.9"/>
<text x="349.08" y="578.9" font-size="7.4" text-anchor="end" stroke="#1a1a1a" stroke-width="0.2" transform="rotate(-45 349.08 578.9)">Ile</text>
<line x1="363.11" y1="568.9" x2="363.11" y2="572.5" stroke="#333" stroke-width="0.9"/>
<text x="364.71" y="578.9" font-size="7.4" text-anchor="end" stroke="#1a1a1a" stroke-width="0.2" transform="rotate(-45 364.71 578.9)">Leu</text>
<line x1="378.74" y1="568.9" x2="378.74" y2="572.5" stroke="#333" stroke-width="0.9"/>
<text x="380.34" y="578.9" font-size="7.4" text-anchor="end" fill="#e8333b" stroke="#e8333b" stroke-width="0.2" transform="rotate(-45 380.34 578.9)">Lys</text>
<line x1="394.37" y1="568.9" x2="394.37" y2="572.5" stroke="#333" stroke-width="0.9"/>
<text x="395.97" y="578.9" font-size="7.4" text-anchor="end" stroke="#1a1a1a" stroke-width="0.2" transform="rotate(-45 395.97 578.9)">Met</text>
<line x1="410" y1="568.9" x2="410" y2="572.5" stroke="#333" stroke-width="0.9"/>
<text x="411.6" y="578.9" font-size="7.4" text-anchor="end" fill="#e8333b" stroke="#e8333b" stroke-width="0.2" transform="rotate(-45 411.6 578.9)">Phe</text>
<line x1="425.63" y1="568.9" x2="425.63" y2="572.5" stroke="#333" stroke-width="0.9"/>
<text x="427.23" y="578.9" font-size="7.4" text-anchor="end" stroke="#1a1a1a" stroke-width="0.2" transform="rotate(-45 427.23 578.9)">Pro</text>
<line x1="441.26" y1="568.9" x2="441.26" y2="572.5" stroke="#333" stroke-width="0.9"/>
<text x="442.86" y="578.9" font-size="7.4" text-anchor="end" fill="#e8333b" stroke="#e8333b" stroke-width="0.2" transform="rotate(-45 442.86 578.9)">Ser</text>
<line x1="456.89" y1="568.9" x2="456.89" y2="572.5" stroke="#333" stroke-width="0.9"/>
<text x="458.49" y="578.9" font-size="7.4" text-anchor="end" stroke="#1a1a1a" stroke-width="0.2" transform="rotate(-45 458.49 578.9)">Thr</text>
<line x1="472.52" y1="568.9" x2="472.52" y2="572.5" stroke="#333" stroke-width="0.9"/>
<text x="474.12" y="578.9" font-size="7.4" text-anchor="end" fill="#e8333b" stroke="#e8333b" stroke-width="0.2" transform="rotate(-45 474.12 578.9)">Trp</text>
<line x1="488.15" y1="568.9" x2="488.15" y2="572.5" stroke="#333" stroke-width="0.9"/>
<text x="489.75" y="578.9" font-size="7.4" text-anchor="end" fill="#e8333b" stroke="#e8333b" stroke-width="0.2" transform="rotate(-45 489.75 578.9)">Tyr</text>
<line x1="503.78" y1="568.9" x2="503.78" y2="572.5" stroke="#333" stroke-width="0.9"/>
<text x="505.38" y="578.9" font-size="7.4" text-anchor="end" stroke="#1a1a1a" stroke-width="0.2" transform="rotate(-45 505.38 578.9)">Val</text>
<line x1="519.41" y1="568.9" x2="519.41" y2="572.5" stroke="#333" stroke-width="0.9"/>
<text x="521.01" y="578.9" font-size="7.4" text-anchor="end" stroke="#1a1a1a" stroke-width="0.2" transform="rotate(-45 521.01 578.9)">Cys</text>
<line x1="250.6" y1="553" x2="250.6" y2="561" stroke="#3a3a3a" stroke-width="0.4" stroke-dasharray="0.8 0.6" opacity="0.6"/>
<line x1="250.6" y1="554.76" x2="250.6" y2="558.84" stroke="#3a3a3a" stroke-width="0.7"/>
<line x1="249.3" y1="554.76" x2="251.9" y2="554.76" stroke="#3a3a3a" stroke-width="0.5"/>
<line x1="249.3" y1="558.84" x2="251.9" y2="558.84" stroke="#3a3a3a" stroke-width="0.5"/>
<circle cx="250.6" cy="556.8" r="1.4" fill="#3a3a3a"/>
<line x1="256.8" y1="548" x2="256.8" y2="556" stroke="#f28a2e" stroke-width="0.4" stroke-dasharray="0.8 0.6" opacity="0.6"/>
<line x1="256.8" y1="550.16" x2="256.8" y2="554.24" stroke="#f28a2e" stroke-width="0.7"/>
<line x1="255.5" y1="550.16" x2="258.1" y2="550.16" stroke="#f28a2e" stroke-width="0.5"/>
<line x1="255.5" y1="554.24" x2="258.1" y2="554.24" stroke="#f28a2e" stroke-width="0.5"/>
<path d="M256.8 550.6L258.34 553.26L255.26 553.26Z" fill="#f28a2e"/>
<line x1="266.23" y1="562" x2="266.23" y2="565.5" stroke="#3a3a3a" stroke-width="0.4" stroke-dasharray="0.8 0.6" opacity="0.6"/>
<line x1="266.23" y1="562.57" x2="266.23" y2="565.03" stroke="#3a3a3a" stroke-width="0.7"/>
<line x1="264.93" y1="562.57" x2="267.53" y2="562.57" stroke="#3a3a3a" stroke-width="0.5"/>
<line x1="264.93" y1="565.03" x2="267.53" y2="565.03" stroke="#3a3a3a" stroke-width="0.5"/>
<circle cx="266.23" cy="563.8" r="1.4" fill="#3a3a3a"/>
<line x1="272.43" y1="551" x2="272.43" y2="559" stroke="#f28a2e" stroke-width="0.4" stroke-dasharray="0.8 0.6" opacity="0.6"/>
<line x1="272.43" y1="553.66" x2="272.43" y2="557.74" stroke="#f28a2e" stroke-width="0.7"/>
<line x1="271.13" y1="553.66" x2="273.73" y2="553.66" stroke="#f28a2e" stroke-width="0.5"/>
<line x1="271.13" y1="557.74" x2="273.73" y2="557.74" stroke="#f28a2e" stroke-width="0.5"/>
<path d="M272.43 554.1L273.97 556.76L270.89 556.76Z" fill="#f28a2e"/>
<line x1="281.86" y1="554" x2="281.86" y2="559" stroke="#3a3a3a" stroke-width="0.4" stroke-dasharray="0.8 0.6" opacity="0.6"/>
<line x1="281.86" y1="554.9" x2="281.86" y2="557.9" stroke="#3a3a3a" stroke-width="0.7"/>
<line x1="280.56" y1="554.9" x2="283.16" y2="554.9" stroke="#3a3a3a" stroke-width="0.5"/>
<line x1="280.56" y1="557.9" x2="283.16" y2="557.9" stroke="#3a3a3a" stroke-width="0.5"/>
<circle cx="281.86" cy="556.4" r="1.4" fill="#3a3a3a"/>
<line x1="288.06" y1="553" x2="288.06" y2="558" stroke="#f28a2e" stroke-width="0.4" stroke-dasharray="0.8 0.6" opacity="0.6"/>
<line x1="288.06" y1="553.9" x2="288.06" y2="556.9" stroke="#f28a2e" stroke-width="0.7"/>
<line x1="286.76" y1="553.9" x2="289.36" y2="553.9" stroke="#f28a2e" stroke-width="0.5"/>
<line x1="286.76" y1="556.9" x2="289.36" y2="556.9" stroke="#f28a2e" stroke-width="0.5"/>
<path d="M288.06 553.8L289.6 556.46L286.52 556.46Z" fill="#f28a2e"/>
<line x1="297.49" y1="518" x2="297.49" y2="536.3" stroke="#3a3a3a" stroke-width="0.4" stroke-dasharray="0.8 0.6" opacity="0.6"/>
<line x1="297.49" y1="526.1" x2="297.49" y2="532.1" stroke="#3a3a3a" stroke-width="0.7"/>
<line x1="296.19" y1="526.1" x2="298.79" y2="526.1" stroke="#3a3a3a" stroke-width="0.5"/>
<line x1="296.19" y1="532.1" x2="298.79" y2="532.1" stroke="#3a3a3a" stroke-width="0.5"/>
<circle cx="297.49" cy="529.1" r="1.4" fill="#3a3a3a"/>
<line x1="303.69" y1="499.5" x2="303.69" y2="520" stroke="#f28a2e" stroke-width="0.4" stroke-dasharray="0.8 0.6" opacity="0.6"/>
<line x1="303.69" y1="506.4" x2="303.69" y2="512.4" stroke="#f28a2e" stroke-width="0.7"/>
<line x1="302.39" y1="506.4" x2="304.99" y2="506.4" stroke="#f28a2e" stroke-width="0.5"/>
<line x1="302.39" y1="512.4" x2="304.99" y2="512.4" stroke="#f28a2e" stroke-width="0.5"/>
<path d="M303.69 507.8L305.23 510.46L302.15 510.46Z" fill="#f28a2e"/>
<line x1="313.12" y1="557" x2="313.12" y2="564.2" stroke="#3a3a3a" stroke-width="0.4" stroke-dasharray="0.8 0.6" opacity="0.6"/>
<line x1="313.12" y1="558.7" x2="313.12" y2="562.5" stroke="#3a3a3a" stroke-width="0.7"/>
<line x1="311.82" y1="558.7" x2="314.42" y2="558.7" stroke="#3a3a3a" stroke-width="0.5"/>
<line x1="311.82" y1="562.5" x2="314.42" y2="562.5" stroke="#3a3a3a" stroke-width="0.5"/>
<circle cx="313.12" cy="560.6" r="1.4" fill="#3a3a3a"/>
<line x1="319.32" y1="517.4" x2="319.32" y2="543.5" stroke="#f28a2e" stroke-width="0.4" stroke-dasharray="0.8 0.6" opacity="0.6"/>
<line x1="319.32" y1="531.5" x2="319.32" y2="537.5" stroke="#f28a2e" stroke-width="0.7"/>
<line x1="318.02" y1="531.5" x2="320.62" y2="531.5" stroke="#f28a2e" stroke-width="0.5"/>
<line x1="318.02" y1="537.5" x2="320.62" y2="537.5" stroke="#f28a2e" stroke-width="0.5"/>
<path d="M319.32 532.9L320.86 535.56L317.78 535.56Z" fill="#f28a2e"/>
<line x1="328.75" y1="561" x2="328.75" y2="565" stroke="#3a3a3a" stroke-width="0.4" stroke-dasharray="0.8 0.6" opacity="0.6"/>
<line x1="328.75" y1="561.68" x2="328.75" y2="564.32" stroke="#3a3a3a" stroke-width="0.7"/>
<line x1="327.45" y1="561.68" x2="330.05" y2="561.68" stroke="#3a3a3a" stroke-width="0.5"/>
<line x1="327.45" y1="564.32" x2="330.05" y2="564.32" stroke="#3a3a3a" stroke-width="0.5"/>
<circle cx="328.75" cy="563" r="1.4" fill="#3a3a3a"/>
<line x1="334.95" y1="558" x2="334.95" y2="563" stroke="#f28a2e" stroke-width="0.4" stroke-dasharray="0.8 0.6" opacity="0.6"/>
<line x1="334.95" y1="559.1" x2="334.95" y2="562.1" stroke="#f28a2e" stroke-width="0.7"/>
<line x1="333.65" y1="559.1" x2="336.25" y2="559.1" stroke="#f28a2e" stroke-width="0.5"/>
<line x1="333.65" y1="562.1" x2="336.25" y2="562.1" stroke="#f28a2e" stroke-width="0.5"/>
<path d="M334.95 559L336.49 561.66L333.41 561.66Z" fill="#f28a2e"/>
<line x1="344.38" y1="566" x2="344.38" y2="568" stroke="#3a3a3a" stroke-width="0.4" stroke-dasharray="0.8 0.6" opacity="0.6"/>
<line x1="344.38" y1="565.94" x2="344.38" y2="567.86" stroke="#3a3a3a" stroke-width="0.7"/>
<line x1="343.08" y1="565.94" x2="345.68" y2="565.94" stroke="#3a3a3a" stroke-width="0.5"/>
<line x1="343.08" y1="567.86" x2="345.68" y2="567.86" stroke="#3a3a3a" stroke-width="0.5"/>
<circle cx="344.38" cy="566.9" r="1.4" fill="#3a3a3a"/>
<line x1="350.58" y1="565.5" x2="350.58" y2="567.5" stroke="#f28a2e" stroke-width="0.4" stroke-dasharray="0.8 0.6" opacity="0.6"/>
<line x1="350.58" y1="565.54" x2="350.58" y2="567.46" stroke="#f28a2e" stroke-width="0.7"/>
<line x1="349.28" y1="565.54" x2="351.88" y2="565.54" stroke="#f28a2e" stroke-width="0.5"/>
<line x1="349.28" y1="567.46" x2="351.88" y2="567.46" stroke="#f28a2e" stroke-width="0.5"/>
<path d="M350.58 564.9L352.12 567.56L349.04 567.56Z" fill="#f28a2e"/>
<line x1="360.01" y1="550" x2="360.01" y2="558" stroke="#3a3a3a" stroke-width="0.4" stroke-dasharray="0.8 0.6" opacity="0.6"/>
<line x1="360.01" y1="551.96" x2="360.01" y2="556.04" stroke="#3a3a3a" stroke-width="0.7"/>
<line x1="358.71" y1="551.96" x2="361.31" y2="551.96" stroke="#3a3a3a" stroke-width="0.5"/>
<line x1="358.71" y1="556.04" x2="361.31" y2="556.04" stroke="#3a3a3a" stroke-width="0.5"/>
<circle cx="360.01" cy="554" r="1.4" fill="#3a3a3a"/>
<line x1="366.21" y1="551" x2="366.21" y2="558" stroke="#f28a2e" stroke-width="0.4" stroke-dasharray="0.8 0.6" opacity="0.6"/>
<line x1="366.21" y1="553.34" x2="366.21" y2="557.06" stroke="#f28a2e" stroke-width="0.7"/>
<line x1="364.91" y1="553.34" x2="367.51" y2="553.34" stroke="#f28a2e" stroke-width="0.5"/>
<line x1="364.91" y1="557.06" x2="367.51" y2="557.06" stroke="#f28a2e" stroke-width="0.5"/>
<path d="M366.21 553.6L367.75 556.26L364.67 556.26Z" fill="#f28a2e"/>
<line x1="375.64" y1="550" x2="375.64" y2="557" stroke="#3a3a3a" stroke-width="0.4" stroke-dasharray="0.8 0.6" opacity="0.6"/>
<line x1="375.64" y1="552.14" x2="375.64" y2="555.86" stroke="#3a3a3a" stroke-width="0.7"/>
<line x1="374.34" y1="552.14" x2="376.94" y2="552.14" stroke="#3a3a3a" stroke-width="0.5"/>
<line x1="374.34" y1="555.86" x2="376.94" y2="555.86" stroke="#3a3a3a" stroke-width="0.5"/>
<circle cx="375.64" cy="554" r="1.4" fill="#3a3a3a"/>
<line x1="381.84" y1="546" x2="381.84" y2="553" stroke="#f28a2e" stroke-width="0.4" stroke-dasharray="0.8 0.6" opacity="0.6"/>
<line x1="381.84" y1="547.94" x2="381.84" y2="551.66" stroke="#f28a2e" stroke-width="0.7"/>
<line x1="380.54" y1="547.94" x2="383.14" y2="547.94" stroke="#f28a2e" stroke-width="0.5"/>
<line x1="380.54" y1="551.66" x2="383.14" y2="551.66" stroke="#f28a2e" stroke-width="0.5"/>
<path d="M381.84 548.2L383.38 550.86L380.3 550.86Z" fill="#f28a2e"/>
<line x1="391.27" y1="566" x2="391.27" y2="568" stroke="#3a3a3a" stroke-width="0.4" stroke-dasharray="0.8 0.6" opacity="0.6"/>
<line x1="391.27" y1="565.94" x2="391.27" y2="567.86" stroke="#3a3a3a" stroke-width="0.7"/>
<line x1="389.97" y1="565.94" x2="392.57" y2="565.94" stroke="#3a3a3a" stroke-width="0.5"/>
<line x1="389.97" y1="567.86" x2="392.57" y2="567.86" stroke="#3a3a3a" stroke-width="0.5"/>
<circle cx="391.27" cy="566.9" r="1.4" fill="#3a3a3a"/>
<line x1="397.47" y1="566" x2="397.47" y2="568" stroke="#f28a2e" stroke-width="0.4" stroke-dasharray="0.8 0.6" opacity="0.6"/>
<line x1="397.47" y1="565.94" x2="397.47" y2="567.86" stroke="#f28a2e" stroke-width="0.7"/>
<line x1="396.17" y1="565.94" x2="398.77" y2="565.94" stroke="#f28a2e" stroke-width="0.5"/>
<line x1="396.17" y1="567.86" x2="398.77" y2="567.86" stroke="#f28a2e" stroke-width="0.5"/>
<path d="M397.47 565.3L399.01 567.96L395.93 567.96Z" fill="#f28a2e"/>
<line x1="406.9" y1="554" x2="406.9" y2="560" stroke="#3a3a3a" stroke-width="0.4" stroke-dasharray="0.8 0.6" opacity="0.6"/>
<line x1="406.9" y1="555.92" x2="406.9" y2="559.28" stroke="#3a3a3a" stroke-width="0.7"/>
<line x1="405.6" y1="555.92" x2="408.2" y2="555.92" stroke="#3a3a3a" stroke-width="0.5"/>
<line x1="405.6" y1="559.28" x2="408.2" y2="559.28" stroke="#3a3a3a" stroke-width="0.5"/>
<circle cx="406.9" cy="557.6" r="1.4" fill="#3a3a3a"/>
<line x1="413.1" y1="552" x2="413.1" y2="558" stroke="#f28a2e" stroke-width="0.4" stroke-dasharray="0.8 0.6" opacity="0.6"/>
<line x1="413.1" y1="553.52" x2="413.1" y2="556.88" stroke="#f28a2e" stroke-width="0.7"/>
<line x1="411.8" y1="553.52" x2="414.4" y2="553.52" stroke="#f28a2e" stroke-width="0.5"/>
<line x1="411.8" y1="556.88" x2="414.4" y2="556.88" stroke="#f28a2e" stroke-width="0.5"/>
<path d="M413.1 553.6L414.64 556.26L411.56 556.26Z" fill="#f28a2e"/>
<line x1="422.53" y1="563" x2="422.53" y2="565.5" stroke="#3a3a3a" stroke-width="0.4" stroke-dasharray="0.8 0.6" opacity="0.6"/>
<line x1="422.53" y1="563.15" x2="422.53" y2="565.25" stroke="#3a3a3a" stroke-width="0.7"/>
<line x1="421.23" y1="563.15" x2="423.83" y2="563.15" stroke="#3a3a3a" stroke-width="0.5"/>
<line x1="421.23" y1="565.25" x2="423.83" y2="565.25" stroke="#3a3a3a" stroke-width="0.5"/>
<circle cx="422.53" cy="564.2" r="1.4" fill="#3a3a3a"/>
<line x1="428.73" y1="562.5" x2="428.73" y2="565" stroke="#f28a2e" stroke-width="0.4" stroke-dasharray="0.8 0.6" opacity="0.6"/>
<line x1="428.73" y1="562.75" x2="428.73" y2="564.85" stroke="#f28a2e" stroke-width="0.7"/>
<line x1="427.43" y1="562.75" x2="430.03" y2="562.75" stroke="#f28a2e" stroke-width="0.5"/>
<line x1="427.43" y1="564.85" x2="430.03" y2="564.85" stroke="#f28a2e" stroke-width="0.5"/>
<path d="M428.73 562.2L430.27 564.86L427.19 564.86Z" fill="#f28a2e"/>
<line x1="438.16" y1="558" x2="438.16" y2="563" stroke="#3a3a3a" stroke-width="0.4" stroke-dasharray="0.8 0.6" opacity="0.6"/>
<line x1="438.16" y1="559.7" x2="438.16" y2="562.7" stroke="#3a3a3a" stroke-width="0.7"/>
<line x1="436.86" y1="559.7" x2="439.46" y2="559.7" stroke="#3a3a3a" stroke-width="0.5"/>
<line x1="436.86" y1="562.7" x2="439.46" y2="562.7" stroke="#3a3a3a" stroke-width="0.5"/>
<circle cx="438.16" cy="561.2" r="1.4" fill="#3a3a3a"/>
<line x1="444.36" y1="556" x2="444.36" y2="561" stroke="#f28a2e" stroke-width="0.4" stroke-dasharray="0.8 0.6" opacity="0.6"/>
<line x1="444.36" y1="557.3" x2="444.36" y2="560.3" stroke="#f28a2e" stroke-width="0.7"/>
<line x1="443.06" y1="557.3" x2="445.66" y2="557.3" stroke="#f28a2e" stroke-width="0.5"/>
<line x1="443.06" y1="560.3" x2="445.66" y2="560.3" stroke="#f28a2e" stroke-width="0.5"/>
<path d="M444.36 557.2L445.9 559.86L442.82 559.86Z" fill="#f28a2e"/>
<line x1="453.79" y1="558" x2="453.79" y2="562" stroke="#3a3a3a" stroke-width="0.4" stroke-dasharray="0.8 0.6" opacity="0.6"/>
<line x1="453.79" y1="558.78" x2="453.79" y2="561.42" stroke="#3a3a3a" stroke-width="0.7"/>
<line x1="452.49" y1="558.78" x2="455.09" y2="558.78" stroke="#3a3a3a" stroke-width="0.5"/>
<line x1="452.49" y1="561.42" x2="455.09" y2="561.42" stroke="#3a3a3a" stroke-width="0.5"/>
<circle cx="453.79" cy="560.1" r="1.4" fill="#3a3a3a"/>
<line x1="459.99" y1="557.5" x2="459.99" y2="561" stroke="#f28a2e" stroke-width="0.4" stroke-dasharray="0.8 0.6" opacity="0.6"/>
<line x1="459.99" y1="558.17" x2="459.99" y2="560.63" stroke="#f28a2e" stroke-width="0.7"/>
<line x1="458.69" y1="558.17" x2="461.29" y2="558.17" stroke="#f28a2e" stroke-width="0.5"/>
<line x1="458.69" y1="560.63" x2="461.29" y2="560.63" stroke="#f28a2e" stroke-width="0.5"/>
<path d="M459.99 557.8L461.53 560.46L458.45 560.46Z" fill="#f28a2e"/>
<line x1="469.42" y1="554" x2="469.42" y2="560" stroke="#3a3a3a" stroke-width="0.4" stroke-dasharray="0.8 0.6" opacity="0.6"/>
<line x1="469.42" y1="555.32" x2="469.42" y2="558.68" stroke="#3a3a3a" stroke-width="0.7"/>
<line x1="468.12" y1="555.32" x2="470.72" y2="555.32" stroke="#3a3a3a" stroke-width="0.5"/>
<line x1="468.12" y1="558.68" x2="470.72" y2="558.68" stroke="#3a3a3a" stroke-width="0.5"/>
<circle cx="469.42" cy="557" r="1.4" fill="#3a3a3a"/>
<line x1="475.62" y1="540" x2="475.62" y2="546.2" stroke="#f28a2e" stroke-width="0.4" stroke-dasharray="0.8 0.6" opacity="0.6"/>
<line x1="475.62" y1="541.78" x2="475.62" y2="545.22" stroke="#f28a2e" stroke-width="0.7"/>
<line x1="474.32" y1="541.78" x2="476.92" y2="541.78" stroke="#f28a2e" stroke-width="0.5"/>
<line x1="474.32" y1="545.22" x2="476.92" y2="545.22" stroke="#f28a2e" stroke-width="0.5"/>
<path d="M475.62 541.9L477.16 544.56L474.08 544.56Z" fill="#f28a2e"/>
<line x1="485.05" y1="557" x2="485.05" y2="563" stroke="#3a3a3a" stroke-width="0.4" stroke-dasharray="0.8 0.6" opacity="0.6"/>
<line x1="485.05" y1="558.42" x2="485.05" y2="561.78" stroke="#3a3a3a" stroke-width="0.7"/>
<line x1="483.75" y1="558.42" x2="486.35" y2="558.42" stroke="#3a3a3a" stroke-width="0.5"/>
<line x1="483.75" y1="561.78" x2="486.35" y2="561.78" stroke="#3a3a3a" stroke-width="0.5"/>
<circle cx="485.05" cy="560.1" r="1.4" fill="#3a3a3a"/>
<line x1="491.25" y1="555" x2="491.25" y2="560" stroke="#f28a2e" stroke-width="0.4" stroke-dasharray="0.8 0.6" opacity="0.6"/>
<line x1="491.25" y1="556.1" x2="491.25" y2="559.1" stroke="#f28a2e" stroke-width="0.7"/>
<line x1="489.95" y1="556.1" x2="492.55" y2="556.1" stroke="#f28a2e" stroke-width="0.5"/>
<line x1="489.95" y1="559.1" x2="492.55" y2="559.1" stroke="#f28a2e" stroke-width="0.5"/>
<path d="M491.25 556L492.79 558.66L489.71 558.66Z" fill="#f28a2e"/>
<line x1="500.68" y1="562.5" x2="500.68" y2="565" stroke="#3a3a3a" stroke-width="0.4" stroke-dasharray="0.8 0.6" opacity="0.6"/>
<line x1="500.68" y1="562.75" x2="500.68" y2="564.85" stroke="#3a3a3a" stroke-width="0.7"/>
<line x1="499.38" y1="562.75" x2="501.98" y2="562.75" stroke="#3a3a3a" stroke-width="0.5"/>
<line x1="499.38" y1="564.85" x2="501.98" y2="564.85" stroke="#3a3a3a" stroke-width="0.5"/>
<circle cx="500.68" cy="563.8" r="1.4" fill="#3a3a3a"/>
<line x1="506.88" y1="563" x2="506.88" y2="565.3" stroke="#f28a2e" stroke-width="0.4" stroke-dasharray="0.8 0.6" opacity="0.6"/>
<line x1="506.88" y1="563.19" x2="506.88" y2="565.21" stroke="#f28a2e" stroke-width="0.7"/>
<line x1="505.58" y1="563.19" x2="508.18" y2="563.19" stroke="#f28a2e" stroke-width="0.5"/>
<line x1="505.58" y1="565.21" x2="508.18" y2="565.21" stroke="#f28a2e" stroke-width="0.5"/>
<path d="M506.88 562.6L508.42 565.26L505.34 565.26Z" fill="#f28a2e"/>
<line x1="516.31" y1="552" x2="516.31" y2="560" stroke="#3a3a3a" stroke-width="0.4" stroke-dasharray="0.8 0.6" opacity="0.6"/>
<line x1="516.31" y1="554.46" x2="516.31" y2="558.54" stroke="#3a3a3a" stroke-width="0.7"/>
<line x1="515.01" y1="554.46" x2="517.61" y2="554.46" stroke="#3a3a3a" stroke-width="0.5"/>
<line x1="515.01" y1="558.54" x2="517.61" y2="558.54" stroke="#3a3a3a" stroke-width="0.5"/>
<circle cx="516.31" cy="556.5" r="1.4" fill="#3a3a3a"/>
<line x1="522.51" y1="553" x2="522.51" y2="556.5" stroke="#f28a2e" stroke-width="0.4" stroke-dasharray="0.8 0.6" opacity="0.6"/>
<line x1="522.51" y1="553.47" x2="522.51" y2="555.93" stroke="#f28a2e" stroke-width="0.7"/>
<line x1="521.21" y1="553.47" x2="523.81" y2="553.47" stroke="#f28a2e" stroke-width="0.5"/>
<line x1="521.21" y1="555.93" x2="523.81" y2="555.93" stroke="#f28a2e" stroke-width="0.5"/>
<path d="M522.51 553.1L524.05 555.76L520.97 555.76Z" fill="#f28a2e"/>
<path d="M251.1 546.3L251.1 540.4L256.9 540.4L256.9 544.3" fill="none" stroke="#222" stroke-width="0.8" stroke-linejoin="miter"/>
<text x="256.26" y="535.1" font-size="7.1" stroke="#1a1a1a" stroke-width="0.2" transform="rotate(-90 256.26 535.1)">0.0020</text>
<path d="M266.7 554.9L266.7 544.5L272.4 544.5L272.4 549.1" fill="none" stroke="#222" stroke-width="0.8" stroke-linejoin="miter"/>
<text x="272.66" y="540.9" font-size="7.1" stroke="#1a1a1a" stroke-width="0.2" transform="rotate(-90 272.66 540.9)">&lt;0.0001</text>
<path d="M282.2 550.7L282.2 546.3L288.5 546.3L288.5 550.7" fill="none" stroke="#222" stroke-width="0.8" stroke-linejoin="miter"/>
<text x="288.26" y="541.7" font-size="7.1" stroke="#1a1a1a" stroke-width="0.2" transform="rotate(-90 288.26 541.7)">0.0488</text>
<path d="M296.7 512L296.7 488.1L303.5 488.1L303.5 491.7" fill="none" stroke="#222" stroke-width="0.8" stroke-linejoin="miter"/>
<text x="302.86" y="483.3" font-size="7.1" stroke="#1a1a1a" stroke-width="0.2" transform="rotate(-90 302.86 483.3)">0.0004</text>
<path d="M312.3 550.4L312.3 507.2L319.5 507.2L319.5 511.2" fill="none" stroke="#222" stroke-width="0.8" stroke-linejoin="miter"/>
<text x="319.06" y="502.2" font-size="7.1" stroke="#1a1a1a" stroke-width="0.2" transform="rotate(-90 319.06 502.2)">&lt;0.0001</text>
<path d="M329.1 556.1L329.1 552.2L335.4 552.2L335.4 555.2" fill="none" stroke="#222" stroke-width="0.8" stroke-linejoin="miter"/>
<text x="334.66" y="547.1" font-size="7.1" stroke="#1a1a1a" stroke-width="0.2" transform="rotate(-90 334.66 547.1)">0.0007</text>
<path d="M375.3 547.1L375.3 537.6L382.1 537.6L382.1 541.7" fill="none" stroke="#222" stroke-width="0.8" stroke-linejoin="miter"/>
<text x="381.06" y="533.6" font-size="7.1" stroke="#1a1a1a" stroke-width="0.2" transform="rotate(-90 381.06 533.6)">0.0040</text>
<path d="M406.5 551.6L406.5 545.3L413.1 545.3L413.1 548.6" fill="none" stroke="#222" stroke-width="0.8" stroke-linejoin="miter"/>
<text x="412.66" y="541.7" font-size="7.1" stroke="#1a1a1a" stroke-width="0.2" transform="rotate(-90 412.66 541.7)">0.0360</text>
<path d="M438.3 557.9L438.3 551.6L444.6 551.6L444.6 554.9" fill="none" stroke="#222" stroke-width="0.8" stroke-linejoin="miter"/>
<text x="443.76" y="548" font-size="7.1" stroke="#1a1a1a" stroke-width="0.2" transform="rotate(-90 443.76 548)">0.0042</text>
<path d="M469.4 548L469.4 531.8L475.1 531.8L475.1 535.4" fill="none" stroke="#222" stroke-width="0.8" stroke-linejoin="miter"/>
<text x="474.66" y="527.3" font-size="7.1" stroke="#1a1a1a" stroke-width="0.2" transform="rotate(-90 474.66 527.3)">0.0001</text>
<path d="M485.2 554L485.2 549.3L491.3 549.3L491.3 553.4" fill="none" stroke="#222" stroke-width="0.8" stroke-linejoin="miter"/>
<text x="491.36" y="545" font-size="7.1" stroke="#1a1a1a" stroke-width="0.2" transform="rotate(-90 491.36 545)">0.0020</text>
<circle cx="486.1" cy="473.4" r="3.3" fill="#3d3d3d"/>
<path d="M486.8 484.9L490 490.6L483.6 490.6Z" fill="#f28a2e"/>
<text x="493.5" y="475.7" font-size="7.6" stroke="#1a1a1a" stroke-width="0.2">Control</text>
<text x="493.5" y="490.5" font-size="7.6" stroke="#1a1a1a" stroke-width="0.2">DHT</text>
<text x="537.9" y="436.6" font-size="14.6" font-weight="bold" fill="#111">h</text>
<text x="624" y="424.6" font-size="9.7" text-anchor="middle" stroke="#1a1a1a" stroke-width="0.2">Gln uptake ratio</text>
<text x="624" y="437.5" font-size="9.7" text-anchor="middle" stroke="#1a1a1a" stroke-width="0.2">in KGN</text>
<line x1="581.2" y1="485.4" x2="581.2" y2="569.3" stroke="#333" stroke-width="1"/>
<line x1="578.5" y1="568.9" x2="664.8" y2="568.9" stroke="#333" stroke-width="1"/>
<line x1="576.2" y1="568.9" x2="581.2" y2="568.9" stroke="#333" stroke-width="0.9"/>
<text x="574.6" y="571.4" font-size="7.3" text-anchor="end" stroke="#1a1a1a" stroke-width="0.2">0.0</text>
<line x1="576.2" y1="541.07" x2="581.2" y2="541.07" stroke="#333" stroke-width="0.9"/>
<text x="574.6" y="543.57" font-size="7.3" text-anchor="end" stroke="#1a1a1a" stroke-width="0.2">0.5</text>
<line x1="576.2" y1="513.23" x2="581.2" y2="513.23" stroke="#333" stroke-width="0.9"/>
<text x="574.6" y="515.73" font-size="7.3" text-anchor="end" stroke="#1a1a1a" stroke-width="0.2">1.0</text>
<line x1="576.2" y1="485.4" x2="581.2" y2="485.4" stroke="#333" stroke-width="0.9"/>
<text x="574.6" y="487.9" font-size="7.3" text-anchor="end" stroke="#1a1a1a" stroke-width="0.2">1.5</text>
<text x="548.3" y="526" font-size="8.55" text-anchor="middle" stroke="#1a1a1a" stroke-width="0.2" transform="rotate(-90 548.3 526)">Conc of glutamine</text>
<text x="559.5" y="526.4" font-size="8.6" text-anchor="middle" stroke="#1a1a1a" stroke-width="0.2" transform="rotate(-90 559.5 526.4)">(mM/10<tspan font-size="5" dy="-3">6</tspan><tspan dy="3">cells/24h)</tspan></text>
<rect x="588.2" y="537.17" width="12.8" height="31.73" fill="#7a7374" stroke="#5a5455" stroke-width="0.8"/>
<circle cx="589.91" cy="525.34" r="1.6" fill="#2f2f2f"/>
<circle cx="599.54" cy="525.34" r="1.6" fill="#2f2f2f"/>
<circle cx="589.91" cy="538.3" r="1.6" fill="#2f2f2f"/>
<circle cx="598.67" cy="538.3" r="1.6" fill="#2f2f2f"/>
<circle cx="589.91" cy="547.06" r="1.6" fill="#2f2f2f"/>
<circle cx="599.54" cy="544.43" r="1.6" fill="#2f2f2f"/>
<line x1="594.6" y1="533.83" x2="594.6" y2="538.84" stroke="#2f2f2f" stroke-width="0.8"/>
<line x1="592.4" y1="533.83" x2="596.8" y2="533.83" stroke="#2f2f2f" stroke-width="0.8"/>
<line x1="592.4" y1="538.84" x2="596.8" y2="538.84" stroke="#2f2f2f" stroke-width="0.8"/>
<rect x="607.1" y="511.56" width="12.9" height="57.34" fill="#f8b98c" stroke="#f19a50" stroke-width="0.8"/>
<circle cx="613.56" cy="502.4" r="1.6" fill="#f07f22"/>
<circle cx="608.83" cy="506.43" r="1.6" fill="#f07f22"/>
<circle cx="615.31" cy="508.18" r="1.6" fill="#f07f22"/>
<circle cx="609.18" cy="517.29" r="1.6" fill="#f07f22"/>
<circle cx="613.56" cy="517.29" r="1.6" fill="#f07f22"/>
<circle cx="617.93" cy="517.29" r="1.6" fill="#f07f22"/>
<line x1="613.55" y1="507.67" x2="613.55" y2="514.35" stroke="#f07f22" stroke-width="0.8"/>
<line x1="611.35" y1="507.67" x2="615.75" y2="507.67" stroke="#f07f22" stroke-width="0.8"/>
<line x1="611.35" y1="514.35" x2="615.75" y2="514.35" stroke="#f07f22" stroke-width="0.8"/>
<rect x="626.2" y="526.04" width="13.3" height="42.86" fill="#c5c4e6" stroke="#a9a8d6" stroke-width="0.8"/>
<circle cx="637.2" cy="512.03" r="1.6" fill="#4e4ba0"/>
<circle cx="632.47" cy="514.66" r="1.6" fill="#4e4ba0"/>
<circle cx="632.82" cy="521.31" r="1.6" fill="#4e4ba0"/>
<circle cx="627.57" cy="535.67" r="1.6" fill="#4e4ba0"/>
<circle cx="632.82" cy="535.67" r="1.6" fill="#4e4ba0"/>
<circle cx="637.2" cy="535.67" r="1.6" fill="#4e4ba0"/>
<line x1="632.85" y1="521.03" x2="632.85" y2="530.49" stroke="#4e4ba0" stroke-width="0.8"/>
<line x1="630.65" y1="521.03" x2="635.05" y2="521.03" stroke="#4e4ba0" stroke-width="0.8"/>
<line x1="630.65" y1="530.49" x2="635.05" y2="530.49" stroke="#4e4ba0" stroke-width="0.8"/>
<rect x="645.6" y="537.73" width="13.1" height="31.17" fill="#b9dea5" stroke="#95cc7c" stroke-width="0.8"/>
<circle cx="650.33" cy="533.05" r="1.6" fill="#6bbf4e"/>
<circle cx="655.59" cy="534.45" r="1.6" fill="#6bbf4e"/>
<circle cx="646.83" cy="535.15" r="1.6" fill="#6bbf4e"/>
<circle cx="652.96" cy="535.15" r="1.6" fill="#6bbf4e"/>
<circle cx="652.08" cy="541.8" r="1.6" fill="#6bbf4e"/>
<circle cx="652.08" cy="547.06" r="1.6" fill="#6bbf4e"/>
<line x1="652.15" y1="534.39" x2="652.15" y2="539.95" stroke="#6bbf4e" stroke-width="0.8"/>
<line x1="649.95" y1="534.39" x2="654.35" y2="534.39" stroke="#6bbf4e" stroke-width="0.8"/>
<line x1="649.95" y1="539.95" x2="654.35" y2="539.95" stroke="#6bbf4e" stroke-width="0.8"/>
<line x1="593.9" y1="568.9" x2="593.9" y2="572.5" stroke="#333" stroke-width="0.9"/>
<text x="596.1" y="578.6" font-size="7.4" text-anchor="end" stroke="#1a1a1a" stroke-width="0.2" transform="rotate(-45 596.1 578.6)">Control</text>
<line x1="613.2" y1="568.9" x2="613.2" y2="572.5" stroke="#333" stroke-width="0.9"/>
<text x="615.4" y="578.6" font-size="7.4" text-anchor="end" stroke="#1a1a1a" stroke-width="0.2" transform="rotate(-45 615.4 578.6)">DHT</text>
<line x1="632.4" y1="568.9" x2="632.4" y2="572.5" stroke="#333" stroke-width="0.9"/>
<text x="634.6" y="578.6" font-size="7.4" text-anchor="end" stroke="#1a1a1a" stroke-width="0.2" transform="rotate(-45 634.6 578.6)">FSH</text>
<line x1="652" y1="568.9" x2="652" y2="572.5" stroke="#333" stroke-width="0.9"/>
<text x="654.2" y="578.6" font-size="7.4" text-anchor="end" stroke="#1a1a1a" stroke-width="0.2" transform="rotate(-45 654.2 578.6)">Estradiol</text>
<path d="M594.3 519.9L594.3 492.8L613.9 492.8L613.9 498" fill="none" stroke="#222" stroke-width="0.7" stroke-linejoin="miter"/>
<path d="M594.3 480.5L594.3 475.6L632.8 475.6L632.8 506.8" fill="none" stroke="#222" stroke-width="0.7" stroke-linejoin="miter"/>
<path d="M594.3 470.7L594.3 457.8L652.1 457.8L652.1 527.8" fill="none" stroke="#222" stroke-width="0.7" stroke-linejoin="miter"/>
<text x="603.2" y="489.3" font-size="6.9" text-anchor="middle" stroke="#1a1a1a" stroke-width="0.2">0.0002</text>
<text x="612.4" y="471.1" font-size="7.2" text-anchor="middle" stroke="#1a1a1a" stroke-width="0.2">0.1440</text>
<text x="622" y="452.7" font-size="7.4" text-anchor="middle" stroke="#1a1a1a" stroke-width="0.2">0.9980</text>
<text x="-0.2" y="664.5" font-size="14.6" font-weight="bold" fill="#111">i</text>
<defs><g id="mouse"><path d="M30.2 3.6 C33.5 1.6 37 0.2 40 -0.4 C43 -1.1 45.5 -0.8 45.7 0.9 C45.9 2.6 43.4 3.9 41.2 5.7" fill="none" stroke="#b28c88" stroke-width="1.1" stroke-linecap="round"/><ellipse cx="31.6" cy="8.8" rx="1.9" ry="0.95" fill="#b48c8a"/><path d="M0 0 C0.5 -2.5 3 -5 6.5 -5.6 C10 -6.2 13 -5.4 15 -5 C19 -4.6 24 -3.6 27.5 -0.5 C30.5 2.5 31.2 7 29.8 10.5 C28.6 13.2 26.5 14.5 25.6 15.5 L25.3 19.6 L21.4 19.6 L21 15.3 C18 15.6 15 15 12.6 14.2 L11.2 16.4 L8.2 16.4 L8.3 12.6 C6 11 3.6 8.5 2.2 5.6 C1.2 3.8 0.3 1.8 0 0 Z" fill="#454343"/><ellipse cx="8.9" cy="17.2" rx="2.7" ry="1.15" fill="#b48c8a"/><ellipse cx="23.0" cy="20.4" rx="3.0" ry="1.25" fill="#b48c8a"/><path d="M3.8 -4.4 L7.9 -9.7 L9.8 -4 Z" fill="#454343"/><path d="M5.3 -4.9 L7.7 -8.3 L8.7 -4.9 Z" fill="#94706f"/><ellipse cx="17.9" cy="-4.1" rx="4.0" ry="4.9" fill="#a27b7b" transform="rotate(-12 17.9 -4.1)"/><ellipse cx="18.3" cy="-3.6" rx="2.7" ry="3.5" fill="#b08b89" transform="rotate(-12 18.3 -3.6)"/><ellipse cx="9.4" cy="-1.0" rx="1.05" ry="0.85" fill="#111"/><circle cx="0.5" cy="0.2" r="0.9" fill="#c48e92"/><path d="M-0.6 -0.6 L-4.2 -1.8 M-0.6 0.4 L-4.4 1.0 M-0.4 1.2 L-3.8 3.2" stroke="#dcdcdc" stroke-width="0.4"/></g></defs>
<use href="#mouse" x="13.3" y="721.2"/>
<use href="#mouse" x="106.3" y="694"/>
<use href="#mouse" x="106.5" y="769.1"/>
<defs><g id="syr"><rect x="0" y="-2.1" width="0.9" height="4.2" fill="#c2c9ca"/><rect x="0.9" y="-0.7" width="5.2" height="1.4" fill="#cdd3d4"/><rect x="6.1" y="-2.3" width="0.8" height="4.6" fill="#c2c9ca"/><rect x="6.9" y="-1.55" width="10.6" height="3.1" fill="#e4e8e8" stroke="#a9b2b4" stroke-width="0.3"/><rect x="12.2" y="-1.25" width="5.3" height="2.5" fill="#3a8bb2"/><rect x="17.5" y="-0.8" width="1.8" height="1.6" fill="#4b7b8a"/><line x1="19.3" y1="0" x2="27.6" y2="0" stroke="#8f999c" stroke-width="0.45"/></g></defs>
<use href="#syr" transform="translate(85.3 677.6) rotate(49.2)"/>
<use href="#syr" transform="translate(87.3 754.6) rotate(52)"/>
<text x="96.6" y="676.6" font-size="9" stroke="#1a1a1a" stroke-width="0.2">Corn oil</text>
<text x="96.8" y="753.5" font-size="9.1" stroke="#1a1a1a" stroke-width="0.2">DHEA</text>
<line x1="57.8" y1="731" x2="67.4" y2="731" stroke="#333" stroke-width="0.8"/>
<path d="M67.4 765 L67.4 697 Q67.4 690 74.4 690 L86 690" fill="none" stroke="#333" stroke-width="0.8"/>
<path d="M86 690 L89.4 690" fill="none" stroke="#333" stroke-width="0.8"/>
<path d="M85.6 688.2 L89.6 690 L85.6 691.8 Z" fill="#333"/>
<path d="M67.4 697 L67.4 764 Q67.4 771 74.4 771 L86 771" fill="none" stroke="#333" stroke-width="0.8"/>
<path d="M85.6 769.2 L89.6 771 L85.6 772.8 Z" fill="#333"/>
<path d="M160.4 690.4 L197 690.4 Q204 690.4 204 697.4 L204 764.6 Q204 771.6 197 771.6 L160.4 771.6" fill="none" stroke="#333" stroke-width="0.8"/>
<line x1="204" y1="730.3" x2="238.5" y2="730.3" stroke="#333" stroke-width="0.8"/>
<path d="M237.6 728.4 L242.2 730.3 L237.6 732.2 Z" fill="#333"/>
<path d="M209.6 711.6 L214.8 714.2 L213.4 716.4 Z" fill="#eecba8"/>
<ellipse cx="221.5" cy="718.7" rx="8.7" ry="6.1" fill="#d9bfc3"/>
<ellipse cx="220.5" cy="718.4" rx="5.6" ry="3.8" fill="#e0cbce"/>
<ellipse cx="224.5" cy="717.2" rx="2.4" ry="1.8" fill="#e4d2d4"/>
<text x="247" y="728.7" font-size="8.8" stroke="#1a1a1a" stroke-width="0.2">Tissue</text>
<text x="242.3" y="738.7" font-size="8.8" stroke="#1a1a1a" stroke-width="0.2">collection</text>
<rect x="120.3" y="799" width="86.2" height="16" fill="#ddd4ea"/>
<text x="164.2" y="810" font-size="7.6" text-anchor="middle" stroke="#1a1a1a" stroke-width="0.2">Animal Treatment</text>
<line x1="35.1" y1="815.1" x2="223" y2="815.1" stroke="#333" stroke-width="0.9"/>
<path d="M222.0 813.2 L226.6 815.1 L222.0 817.0 Z" fill="#333"/>
<line x1="35.1" y1="811.3" x2="35.1" y2="818.9" stroke="#333" stroke-width="0.9"/>
<line x1="120.3" y1="811.3" x2="120.3" y2="818.9" stroke="#333" stroke-width="0.9"/>
<line x1="206.5" y1="811.3" x2="206.5" y2="818.9" stroke="#333" stroke-width="0.9"/>
<text x="35.1" y="828.6" font-size="7.4" text-anchor="middle" stroke="#1a1a1a" stroke-width="0.2">0</text>
<text x="120.3" y="828.6" font-size="7.4" text-anchor="middle" stroke="#1a1a1a" stroke-width="0.2">3w</text>
<text x="206.5" y="828.6" font-size="7.4" text-anchor="middle" stroke="#1a1a1a" stroke-width="0.2">6w</text>
<text x="292.2" y="665" font-size="14.6" font-weight="bold" fill="#111">j</text>
<text x="340.8" y="669.4" font-size="8.5" stroke="#1a1a1a" stroke-width="0.2">Gln in mouse ovary</text>
<line x1="338.9" y1="695.3" x2="338.9" y2="807.5" stroke="#333" stroke-width="1"/>
<line x1="338.9" y1="807.1" x2="405" y2="807.1" stroke="#333" stroke-width="1"/>
<line x1="334.1" y1="807.1" x2="338.9" y2="807.1" stroke="#333" stroke-width="0.9"/>
<text x="331.5" y="809.8" font-size="7.6" text-anchor="end" stroke="#1a1a1a" stroke-width="0.2">0.8</text>
<line x1="334.1" y1="779.15" x2="338.9" y2="779.15" stroke="#333" stroke-width="0.9"/>
<text x="331.5" y="781.85" font-size="7.6" text-anchor="end" stroke="#1a1a1a" stroke-width="0.2">1.0</text>
<line x1="334.1" y1="751.2" x2="338.9" y2="751.2" stroke="#333" stroke-width="0.9"/>
<text x="331.5" y="753.9" font-size="7.6" text-anchor="end" stroke="#1a1a1a" stroke-width="0.2">1.2</text>
<line x1="334.1" y1="723.25" x2="338.9" y2="723.25" stroke="#333" stroke-width="0.9"/>
<text x="331.5" y="725.95" font-size="7.6" text-anchor="end" stroke="#1a1a1a" stroke-width="0.2">1.4</text>
<line x1="334.1" y1="695.3" x2="338.9" y2="695.3" stroke="#333" stroke-width="0.9"/>
<text x="331.5" y="698" font-size="7.6" text-anchor="end" stroke="#1a1a1a" stroke-width="0.2">1.6</text>
<text x="302.6" y="752.4" font-size="8.45" text-anchor="middle" stroke="#1a1a1a" stroke-width="0.2" transform="rotate(-90 302.6 752.4)">Relative conc of glutamine</text>
<text x="314" y="753.6" font-size="8.6" text-anchor="middle" stroke="#1a1a1a" stroke-width="0.2" transform="rotate(-90 314 753.6)">(nmol/μg protein)</text>
<line x1="360.2" y1="807.1" x2="360.2" y2="811.1" stroke="#333" stroke-width="0.9"/>
<text x="360.8" y="817.8" font-size="7.5" text-anchor="end" stroke="#1a1a1a" stroke-width="0.2" transform="rotate(-45 360.8 817.8)">Control</text>
<line x1="392.4" y1="807.1" x2="392.4" y2="811.1" stroke="#333" stroke-width="0.9"/>
<text x="393" y="817.8" font-size="7.5" text-anchor="end" stroke="#1a1a1a" stroke-width="0.2" transform="rotate(-45 393 817.8)">DHEA</text>
<circle cx="357.06" cy="744.89" r="1.55" fill="#3a3a3a"/>
<circle cx="363.19" cy="745.76" r="1.55" fill="#3a3a3a"/>
<circle cx="357.06" cy="750.49" r="1.55" fill="#3a3a3a"/>
<circle cx="363.19" cy="750.67" r="1.55" fill="#3a3a3a"/>
<circle cx="363.19" cy="756.27" r="1.55" fill="#3a3a3a"/>
<circle cx="350.93" cy="769.4" r="1.55" fill="#3a3a3a"/>
<circle cx="357.06" cy="769.93" r="1.55" fill="#3a3a3a"/>
<circle cx="363.19" cy="771.51" r="1.55" fill="#3a3a3a"/>
<circle cx="369.32" cy="770.63" r="1.55" fill="#3a3a3a"/>
<circle cx="360.56" cy="776.41" r="1.55" fill="#3a3a3a"/>
<circle cx="350.93" cy="780.79" r="1.55" fill="#3a3a3a"/>
<circle cx="357.06" cy="782.89" r="1.55" fill="#3a3a3a"/>
<circle cx="363.19" cy="784.64" r="1.55" fill="#3a3a3a"/>
<circle cx="363.19" cy="781.66" r="1.55" fill="#3a3a3a"/>
<circle cx="369.32" cy="781.66" r="1.55" fill="#3a3a3a"/>
<circle cx="360.21" cy="801.28" r="1.55" fill="#3a3a3a"/>
<circle cx="392.55" cy="708.1" r="1.55" fill="#f28a2e"/>
<circle cx="392.55" cy="719.78" r="1.55" fill="#f28a2e"/>
<circle cx="392.55" cy="736.57" r="1.55" fill="#f28a2e"/>
<circle cx="392.08" cy="736.48" r="1.55" fill="#f28a2e"/>
<circle cx="383.33" cy="744.36" r="1.55" fill="#f28a2e"/>
<circle cx="389.46" cy="742.26" r="1.55" fill="#f28a2e"/>
<circle cx="395.59" cy="744.36" r="1.55" fill="#f28a2e"/>
<circle cx="383.33" cy="750.14" r="1.55" fill="#f28a2e"/>
<circle cx="389.46" cy="749.26" r="1.55" fill="#f28a2e"/>
<circle cx="394.71" cy="749.26" r="1.55" fill="#f28a2e"/>
<circle cx="388.58" cy="753.64" r="1.55" fill="#f28a2e"/>
<circle cx="395.59" cy="753.64" r="1.55" fill="#f28a2e"/>
<circle cx="392.08" cy="757.15" r="1.55" fill="#f28a2e"/>
<circle cx="389.46" cy="769.4" r="1.55" fill="#f28a2e"/>
<circle cx="395.59" cy="772.56" r="1.55" fill="#f28a2e"/>
<circle cx="389.46" cy="775.53" r="1.55" fill="#f28a2e"/>
<circle cx="392.08" cy="779.56" r="1.55" fill="#f28a2e"/>
<circle cx="389.46" cy="783.42" r="1.55" fill="#f28a2e"/>
<circle cx="395.59" cy="785.69" r="1.55" fill="#f28a2e"/>
<circle cx="392.08" cy="793.4" r="1.55" fill="#f28a2e"/>
<line x1="350" y1="769.4" x2="371" y2="769.4" stroke="#3a3a3a" stroke-width="1.1"/>
<line x1="360.4" y1="765.4" x2="360.4" y2="772.9" stroke="#3a3a3a" stroke-width="0.9"/>
<line x1="355.3" y1="765.4" x2="365.6" y2="765.4" stroke="#3a3a3a" stroke-width="0.9"/>
<line x1="382.4" y1="755.4" x2="402.6" y2="755.4" stroke="#f28a2e" stroke-width="1.1"/>
<line x1="392.6" y1="751.9" x2="392.6" y2="760.1" stroke="#f28a2e" stroke-width="0.9"/>
<line x1="387.4" y1="751.9" x2="397.8" y2="751.9" stroke="#f28a2e" stroke-width="0.9"/>
<line x1="387.4" y1="760.1" x2="397.8" y2="760.1" stroke="#f28a2e" stroke-width="0.9"/>
<path d="M360.4 738.3L360.4 694.5L392.6 694.5L392.6 701.1" fill="none" stroke="#222" stroke-width="0.7" stroke-linejoin="miter"/>
<text x="376.3" y="690.1" font-size="7.2" text-anchor="middle" stroke="#1a1a1a" stroke-width="0.2">0.0366</text>
<text x="433.5" y="664.7" font-size="14.6" font-weight="bold" fill="#111">k</text>
<text x="503.5" y="666.1" font-size="9" text-anchor="middle" stroke="#1a1a1a" stroke-width="0.2">Control</text>
<text x="614.6" y="666.4" font-size="9" text-anchor="middle" stroke="#1a1a1a" stroke-width="0.2">DHEA</text>
<text x="442.2" y="708.6" font-size="8.5" text-anchor="middle" stroke="#1a1a1a" stroke-width="0.2" transform="rotate(-90 442.2 708.6)">HE</text>
<text x="441.4" y="781.9" font-size="8.5" text-anchor="middle" stroke="#1a1a1a" stroke-width="0.2" transform="rotate(-90 441.4 781.9)">Glutamine</text>
<defs><radialGradient id="heg" cx="0.45" cy="0.45" r="0.6"><stop offset="0" stop-color="#5a4aa6"/><stop offset="0.7" stop-color="#5148a2"/><stop offset="1" stop-color="#463f99"/></radialGradient><linearGradient id="jet" x1="0" x2="1"><stop offset="0" stop-color="#2c2c8c"/><stop offset="0.25" stop-color="#2a7fe0"/><stop offset="0.5" stop-color="#3ee0c8"/><stop offset="0.72" stop-color="#f2ea30"/><stop offset="1" stop-color="#e2261c"/></linearGradient></defs>
<rect x="451.2" y="673.3" width="106.1" height="70.1" fill="#fff" stroke="#555" stroke-width="0.9"/>
<rect x="561" y="673.5" width="106.1" height="70" fill="#fff" stroke="#555" stroke-width="0.9"/>
<clipPath id="hc1"><path d="M482.1 681.63C483.57 680.16 486.12 679.62 488.52 679.22C490.93 678.82 494.41 678.82 496.55 679.22C498.69 679.62 500.29 680.43 501.36 681.63C502.43 682.83 502.3 685.38 502.97 686.45C503.64 687.52 504.04 687.92 505.38 688.05C506.71 688.19 508.72 687.52 511 687.25C513.27 686.98 516.35 686.31 519.02 686.45C521.7 686.58 524.64 687.25 527.05 688.05C529.45 688.85 531.73 689.92 533.47 691.26C535.21 692.6 536.54 693.94 537.48 696.08C538.42 698.22 538.68 701.43 539.09 704.1C539.49 706.78 540.02 709.72 539.89 712.13C539.75 714.54 539.09 716.68 538.28 718.55C537.48 720.42 536.41 721.89 535.07 723.36C533.73 724.84 531.86 726.31 530.26 727.38C528.65 728.45 527.31 729.25 525.44 729.78C523.57 730.32 520.89 730.86 519.02 730.59C517.15 730.32 515.68 728.85 514.21 728.18C512.73 727.51 511.21 727.32 510.19 726.57C509.18 725.83 508.72 723.9 508.11 723.69C507.49 723.47 506.96 724.27 506.5 725.29C506.05 726.31 505.97 728.5 505.38 729.78C504.79 731.07 504.17 732.06 502.97 733C501.77 733.93 500.03 734.73 498.15 735.4C496.28 736.07 493.87 736.74 491.73 737.01C489.59 737.28 487.59 737.28 485.31 737.01C483.04 736.74 480.23 736.21 478.09 735.4C475.95 734.6 473.81 733.53 472.47 732.19C471.13 730.86 470.6 728.85 470.06 727.38C469.53 725.91 469.13 724.84 469.26 723.36C469.4 721.89 470.47 720.15 470.87 718.55C471.27 716.94 472.2 715.34 471.67 713.73C471.13 712.13 468.59 710.79 467.66 708.92C466.72 707.05 466.05 704.37 466.05 702.5C466.05 700.62 466.59 698.89 467.66 697.68C468.73 696.48 470.73 695.81 472.47 695.27C474.21 694.74 476.89 695.68 478.09 694.47C479.29 693.27 479.03 690.19 479.7 688.05C480.36 685.91 480.63 683.1 482.1 681.63Z"/></clipPath>
<path d="M482.1 681.63C483.57 680.16 486.12 679.62 488.52 679.22C490.93 678.82 494.41 678.82 496.55 679.22C498.69 679.62 500.29 680.43 501.36 681.63C502.43 682.83 502.3 685.38 502.97 686.45C503.64 687.52 504.04 687.92 505.38 688.05C506.71 688.19 508.72 687.52 511 687.25C513.27 686.98 516.35 686.31 519.02 686.45C521.7 686.58 524.64 687.25 527.05 688.05C529.45 688.85 531.73 689.92 533.47 691.26C535.21 692.6 536.54 693.94 537.48 696.08C538.42 698.22 538.68 701.43 539.09 704.1C539.49 706.78 540.02 709.72 539.89 712.13C539.75 714.54 539.09 716.68 538.28 718.55C537.48 720.42 536.41 721.89 535.07 723.36C533.73 724.84 531.86 726.31 530.26 727.38C528.65 728.45 527.31 729.25 525.44 729.78C523.57 730.32 520.89 730.86 519.02 730.59C517.15 730.32 515.68 728.85 514.21 728.18C512.73 727.51 511.21 727.32 510.19 726.57C509.18 725.83 508.72 723.9 508.11 723.69C507.49 723.47 506.96 724.27 506.5 725.29C506.05 726.31 505.97 728.5 505.38 729.78C504.79 731.07 504.17 732.06 502.97 733C501.77 733.93 500.03 734.73 498.15 735.4C496.28 736.07 493.87 736.74 491.73 737.01C489.59 737.28 487.59 737.28 485.31 737.01C483.04 736.74 480.23 736.21 478.09 735.4C475.95 734.6 473.81 733.53 472.47 732.19C471.13 730.86 470.6 728.85 470.06 727.38C469.53 725.91 469.13 724.84 469.26 723.36C469.4 721.89 470.47 720.15 470.87 718.55C471.27 716.94 472.2 715.34 471.67 713.73C471.13 712.13 468.59 710.79 467.66 708.92C466.72 707.05 466.05 704.37 466.05 702.5C466.05 700.62 466.59 698.89 467.66 697.68C468.73 696.48 470.73 695.81 472.47 695.27C474.21 694.74 476.89 695.68 478.09 694.47C479.29 693.27 479.03 690.19 479.7 688.05C480.36 685.91 480.63 683.1 482.1 681.63Z" fill="#504b95" stroke="#3e3a86" stroke-width="0.8"/>
<g clip-path="url(#hc1)">
<ellipse cx="499.38" cy="711.59" rx="3.13" ry="2.62" fill="#3f3b86" opacity="0.45"/>
<ellipse cx="509.64" cy="689.08" rx="3.17" ry="2.92" fill="#433f8a" opacity="0.45"/>
<ellipse cx="479.15" cy="704.8" rx="1.82" ry="3.47" fill="#6561a6" opacity="0.45"/>
<ellipse cx="517.7" cy="680.51" rx="4.88" ry="3.03" fill="#6a5a9e" opacity="0.45"/>
<ellipse cx="511.78" cy="687.45" rx="4.41" ry="1.38" fill="#6d69aa" opacity="0.45"/>
<ellipse cx="467.71" cy="730.77" rx="1.61" ry="2.5" fill="#433f8a" opacity="0.45"/>
<ellipse cx="498.48" cy="728.55" rx="2.32" ry="2.02" fill="#433f8a" opacity="0.45"/>
<ellipse cx="465.35" cy="683.1" rx="2.47" ry="3.99" fill="#5c478e" opacity="0.45"/>
<ellipse cx="540.67" cy="728.41" rx="2.39" ry="3.32" fill="#5c478e" opacity="0.45"/>
<ellipse cx="503.98" cy="679.79" rx="4.18" ry="2.32" fill="#433f8a" opacity="0.45"/>
<ellipse cx="529.34" cy="701.19" rx="4.47" ry="1.2" fill="#6d69aa" opacity="0.45"/>
<ellipse cx="480.94" cy="732.62" rx="2.81" ry="3.18" fill="#6a5a9e" opacity="0.45"/>
<ellipse cx="496.9" cy="711.97" rx="4.22" ry="1.96" fill="#6561a6" opacity="0.45"/>
<ellipse cx="471.62" cy="697.96" rx="4.15" ry="1.53" fill="#6a5a9e" opacity="0.45"/>
<ellipse cx="483.73" cy="684.06" rx="3.13" ry="2.56" fill="#6d69aa" opacity="0.45"/>
<ellipse cx="516.84" cy="689.3" rx="2.17" ry="3.25" fill="#433f8a" opacity="0.45"/>
<ellipse cx="474.95" cy="716.62" rx="2.88" ry="3.97" fill="#6d69aa" opacity="0.45"/>
<ellipse cx="465.04" cy="729.86" rx="3.57" ry="3.99" fill="#3f3b86" opacity="0.45"/>
<ellipse cx="466.49" cy="689.24" rx="3.61" ry="2.82" fill="#3f3b86" opacity="0.45"/>
<ellipse cx="468.2" cy="686.78" rx="2.4" ry="3.36" fill="#6a5a9e" opacity="0.45"/>
<ellipse cx="490" cy="695.78" rx="1.76" ry="1.78" fill="#6d69aa" opacity="0.45"/>
<ellipse cx="513.38" cy="678.93" rx="2.8" ry="2.47" fill="#7672b0" opacity="0.45"/>
<ellipse cx="537.89" cy="707.02" rx="1.98" ry="2.28" fill="#433f8a" opacity="0.45"/>
<ellipse cx="512.67" cy="696.65" rx="4.36" ry="1.9" fill="#6561a6" opacity="0.45"/>
<ellipse cx="479.42" cy="722.37" rx="2.19" ry="3.86" fill="#433f8a" opacity="0.45"/>
<ellipse cx="532.05" cy="714.21" rx="1.67" ry="1.51" fill="#6a5a9e" opacity="0.45"/>
<ellipse cx="503.94" cy="693.31" rx="3.97" ry="1.92" fill="#5c478e" opacity="0.45"/>
<ellipse cx="527.6" cy="713.79" rx="3.32" ry="3.8" fill="#7672b0" opacity="0.45"/>
<ellipse cx="539.27" cy="685.58" rx="3.46" ry="3.59" fill="#6a5a9e" opacity="0.45"/>
<ellipse cx="511.69" cy="694.81" rx="4.12" ry="1.39" fill="#6561a6" opacity="0.45"/>
<ellipse cx="496.27" cy="692.94" rx="2.12" ry="2.23" fill="#6d69aa" opacity="0.45"/>
<ellipse cx="508.48" cy="685.89" rx="1.98" ry="2.46" fill="#7672b0" opacity="0.45"/>
<ellipse cx="490.15" cy="721.97" rx="3.55" ry="1.59" fill="#433f8a" opacity="0.45"/>
<ellipse cx="467.67" cy="679.07" rx="3.95" ry="3.9" fill="#7672b0" opacity="0.45"/>
<ellipse cx="466.62" cy="716.17" rx="1.74" ry="2.07" fill="#6a5a9e" opacity="0.45"/>
<ellipse cx="475.38" cy="682.35" rx="3.41" ry="3.26" fill="#6a5a9e" opacity="0.45"/>
<ellipse cx="533.41" cy="722.23" rx="1.95" ry="3.9" fill="#5c478e" opacity="0.45"/>
<ellipse cx="490.96" cy="683.1" rx="4.65" ry="3.64" fill="#6a5a9e" opacity="0.45"/>
<ellipse cx="496.7" cy="725.43" rx="3.25" ry="1.24" fill="#3f3b86" opacity="0.45"/>
<ellipse cx="515.33" cy="700.75" rx="3.63" ry="1.42" fill="#6d69aa" opacity="0.45"/>
<ellipse cx="513.59" cy="737.6" rx="4.05" ry="2.29" fill="#6a5a9e" opacity="0.45"/>
<ellipse cx="520.86" cy="712.86" rx="3.12" ry="2.72" fill="#6a5a9e" opacity="0.45"/>
<ellipse cx="504.42" cy="708.87" rx="3.6" ry="2.55" fill="#7672b0" opacity="0.45"/>
<ellipse cx="482.5" cy="719.9" rx="4.23" ry="3.05" fill="#6a5a9e" opacity="0.45"/>
<ellipse cx="501.96" cy="731.79" rx="2.55" ry="3.1" fill="#7672b0" opacity="0.45"/>
<ellipse cx="480.4" cy="688.18" rx="3.81" ry="2.44" fill="#7672b0" opacity="0.45"/>
<ellipse cx="532.77" cy="697.62" rx="2.38" ry="2.98" fill="#5c478e" opacity="0.45"/>
<ellipse cx="526.08" cy="723.28" rx="4.58" ry="2.28" fill="#6561a6" opacity="0.45"/>
<ellipse cx="509.32" cy="696.99" rx="1.97" ry="2.18" fill="#6561a6" opacity="0.45"/>
<ellipse cx="533.07" cy="680.43" rx="4.83" ry="1.98" fill="#6d69aa" opacity="0.45"/>
<ellipse cx="477.85" cy="705.04" rx="4.74" ry="3.53" fill="#7672b0" opacity="0.45"/>
<ellipse cx="494.07" cy="709.2" rx="2.6" ry="3.55" fill="#5c478e" opacity="0.45"/>
<ellipse cx="539.63" cy="705.15" rx="4.4" ry="1.98" fill="#6d69aa" opacity="0.45"/>
<ellipse cx="511.17" cy="718.7" rx="3.5" ry="2.07" fill="#7672b0" opacity="0.45"/>
<ellipse cx="525.16" cy="679.15" rx="2.92" ry="1.73" fill="#6561a6" opacity="0.45"/>
<ellipse cx="523.46" cy="693.98" rx="1.99" ry="1.33" fill="#3f3b86" opacity="0.45"/>
<ellipse cx="512.82" cy="704.79" rx="3.37" ry="2.99" fill="#5c478e" opacity="0.45"/>
<ellipse cx="493.02" cy="682.68" rx="2.2" ry="2.53" fill="#6561a6" opacity="0.45"/>
<ellipse cx="478.58" cy="678.65" rx="3.37" ry="1.3" fill="#6a5a9e" opacity="0.45"/>
<ellipse cx="482.21" cy="724.72" rx="3.94" ry="2.66" fill="#433f8a" opacity="0.45"/>
<ellipse cx="511.7" cy="723.37" rx="4.47" ry="3.16" fill="#6a5a9e" opacity="0.45"/>
<ellipse cx="482.02" cy="702.63" rx="2.86" ry="2.46" fill="#5c478e" opacity="0.45"/>
<ellipse cx="479.96" cy="731.24" rx="2.82" ry="2.79" fill="#6d69aa" opacity="0.45"/>
<ellipse cx="531.83" cy="725.81" rx="3.12" ry="3.02" fill="#7672b0" opacity="0.45"/>
<ellipse cx="480.57" cy="721.32" rx="4.29" ry="3.79" fill="#3f3b86" opacity="0.45"/>
<ellipse cx="474.38" cy="692.54" rx="4.93" ry="3.94" fill="#6a5a9e" opacity="0.45"/>
<ellipse cx="505.81" cy="725.45" rx="2.42" ry="3.21" fill="#7672b0" opacity="0.45"/>
<ellipse cx="466.19" cy="708.28" rx="3.04" ry="2.74" fill="#6d69aa" opacity="0.45"/>
<ellipse cx="523.39" cy="707.25" rx="2.26" ry="3.63" fill="#6d69aa" opacity="0.45"/>
<ellipse cx="497.6" cy="680.11" rx="2.67" ry="3.41" fill="#433f8a" opacity="0.45"/>
<ellipse cx="475.68" cy="686.92" rx="4.65" ry="2.65" fill="#433f8a" opacity="0.45"/>
<ellipse cx="516.52" cy="704.41" rx="3.53" ry="3.13" fill="#6a5a9e" opacity="0.45"/>
<ellipse cx="522.6" cy="704.37" rx="2.52" ry="3.24" fill="#433f8a" opacity="0.45"/>
<ellipse cx="513.55" cy="709.37" rx="4.68" ry="1.92" fill="#3f3b86" opacity="0.45"/>
<ellipse cx="516.02" cy="735.29" rx="4.65" ry="1.78" fill="#3f3b86" opacity="0.45"/>
<ellipse cx="529.66" cy="736.11" rx="2.46" ry="2.59" fill="#433f8a" opacity="0.45"/>
<ellipse cx="496.24" cy="684.86" rx="3.62" ry="1.28" fill="#6d69aa" opacity="0.45"/>
<ellipse cx="538.67" cy="708.96" rx="3.4" ry="3.97" fill="#6a5a9e" opacity="0.45"/>
<ellipse cx="474.27" cy="683.59" rx="1.73" ry="2.71" fill="#6561a6" opacity="0.45"/>
<ellipse cx="496.45" cy="735.41" rx="2.44" ry="2.52" fill="#6a5a9e" opacity="0.45"/>
<ellipse cx="474.65" cy="704.02" rx="4.77" ry="3.78" fill="#3f3b86" opacity="0.45"/>
<ellipse cx="504.9" cy="684.52" rx="3.66" ry="3.79" fill="#6a5a9e" opacity="0.45"/>
<ellipse cx="474.84" cy="724.76" rx="1.62" ry="1.64" fill="#6d69aa" opacity="0.45"/>
<ellipse cx="465.9" cy="695.04" rx="2.74" ry="2.94" fill="#5c478e" opacity="0.45"/>
<ellipse cx="472.97" cy="721.85" rx="4.48" ry="2.95" fill="#6d69aa" opacity="0.45"/>
<ellipse cx="519.54" cy="720.08" rx="1.58" ry="2.97" fill="#6a5a9e" opacity="0.45"/>
<ellipse cx="527.71" cy="714.95" rx="2.21" ry="2.97" fill="#433f8a" opacity="0.45"/>
<ellipse cx="513.52" cy="709.78" rx="3.4" ry="2.84" fill="#3f3b86" opacity="0.45"/>
<ellipse cx="475.37" cy="732.89" rx="4.34" ry="3.73" fill="#5c478e" opacity="0.45"/>
<ellipse cx="489.01" cy="696.9" rx="2.26" ry="4" fill="#6561a6" opacity="0.45"/>
</g>
<circle cx="517.93" cy="713.01" r="0.65" fill="#eeeaf6"/>
<circle cx="503.99" cy="690.38" r="0.52" fill="#eeeaf6"/>
<circle cx="509.51" cy="718.36" r="0.66" fill="#eeeaf6"/>
<circle cx="523.26" cy="709.54" r="0.65" fill="#eeeaf6"/>
<circle cx="504.1" cy="705.4" r="0.42" fill="#eeeaf6"/>
<circle cx="532.39" cy="692.61" r="0.66" fill="#eeeaf6"/>
<circle cx="512.15" cy="704.16" r="0.73" fill="#eeeaf6"/>
<circle cx="498.78" cy="692.13" r="0.76" fill="#eeeaf6"/>
<circle cx="519.37" cy="693.18" r="0.79" fill="#eeeaf6"/>
<circle cx="515.77" cy="694.73" r="0.49" fill="#eeeaf6"/>
<circle cx="524.1" cy="695.72" r="0.66" fill="#eeeaf6"/>
<circle cx="500.16" cy="695.99" r="0.72" fill="#eeeaf6"/>
<circle cx="514.82" cy="704.66" r="0.62" fill="#eeeaf6"/>
<circle cx="518.02" cy="703.46" r="0.36" fill="#eeeaf6"/>
<circle cx="528.51" cy="723.86" r="0.79" fill="#eeeaf6"/>
<circle cx="525.87" cy="702.47" r="0.51" fill="#eeeaf6"/>
<circle cx="526.98" cy="713.58" r="0.4" fill="#eeeaf6"/>
<circle cx="507.87" cy="702.72" r="0.58" fill="#eeeaf6"/>
<circle cx="532.02" cy="707.5" r="0.36" fill="#eeeaf6"/>
<circle cx="532.55" cy="705.06" r="0.58" fill="#eeeaf6"/>
<circle cx="507.33" cy="704.95" r="0.52" fill="#eeeaf6"/>
<circle cx="530.42" cy="693.59" r="0.6" fill="#eeeaf6"/>
<circle cx="505.48" cy="714.36" r="0.37" fill="#eeeaf6"/>
<circle cx="509.62" cy="702.05" r="0.64" fill="#eeeaf6"/>
<path d="M507.2 719.2 L508.6 724.5 L507.0 732.5 L504.8 731.8 L506.0 724.4 Z" fill="#f3f1f8"/>
<circle cx="491.2" cy="726.5" r="1.3" fill="#c8a3c8"/>
<circle cx="519.5" cy="695.3" r="1.2" fill="#c8a3c8"/>
<circle cx="531.7" cy="695" r="1.3" fill="#c8a3c8"/>
<circle cx="482.7" cy="711" r="1" fill="#c8a3c8"/>
<circle cx="486" cy="716.5" r="0.9" fill="#c8a3c8"/>
<clipPath id="hc2"><path d="M576.05 699.29C576.59 696.88 577.66 695.81 579.26 694.47C580.87 693.13 583.54 692.33 585.68 691.26C587.82 690.19 589.7 688.85 592.1 688.05C594.51 687.25 597.72 686.98 600.13 686.45C602.54 685.91 604.41 685.24 606.55 684.84C608.69 684.44 610.83 683.9 612.97 684.04C615.11 684.17 617.52 684.97 619.39 685.64C621.26 686.31 622.33 687.65 624.21 688.05C626.08 688.45 628.49 687.78 630.63 688.05C632.77 688.32 634.91 688.85 637.05 689.66C639.19 690.46 641.59 691.53 643.47 692.87C645.34 694.2 647.21 695.81 648.28 697.68C649.35 699.55 649.62 701.7 649.89 704.1C650.16 706.51 650.16 709.72 649.89 712.13C649.62 714.54 649.09 716.68 648.28 718.55C647.48 720.42 646.41 722.03 645.07 723.36C643.73 724.7 642.13 725.64 640.26 726.57C638.38 727.51 635.98 728.45 633.84 728.98C631.7 729.52 628.89 729.33 627.42 729.78C625.94 730.24 625.54 730.77 625.01 731.71C624.47 732.65 624.87 734.6 624.21 735.4C623.54 736.21 622.33 736.53 621 736.53C619.66 736.53 617.52 735.86 616.18 735.4C614.84 734.95 614.31 733.93 612.97 733.8C611.63 733.66 610.03 734.6 608.15 734.6C606.28 734.6 603.87 733.66 601.73 733.8C599.59 733.93 597.45 735.14 595.31 735.4C593.17 735.67 591.03 735.8 588.89 735.4C586.75 735 584.34 734.2 582.47 733C580.6 731.79 578.73 730.05 577.66 728.18C576.59 726.31 576.19 723.9 576.05 721.76C575.92 719.62 576.85 717.48 576.85 715.34C576.85 713.2 576.19 711.59 576.05 708.92C575.92 706.24 575.52 701.7 576.05 699.29Z"/></clipPath>
<path d="M576.05 699.29C576.59 696.88 577.66 695.81 579.26 694.47C580.87 693.13 583.54 692.33 585.68 691.26C587.82 690.19 589.7 688.85 592.1 688.05C594.51 687.25 597.72 686.98 600.13 686.45C602.54 685.91 604.41 685.24 606.55 684.84C608.69 684.44 610.83 683.9 612.97 684.04C615.11 684.17 617.52 684.97 619.39 685.64C621.26 686.31 622.33 687.65 624.21 688.05C626.08 688.45 628.49 687.78 630.63 688.05C632.77 688.32 634.91 688.85 637.05 689.66C639.19 690.46 641.59 691.53 643.47 692.87C645.34 694.2 647.21 695.81 648.28 697.68C649.35 699.55 649.62 701.7 649.89 704.1C650.16 706.51 650.16 709.72 649.89 712.13C649.62 714.54 649.09 716.68 648.28 718.55C647.48 720.42 646.41 722.03 645.07 723.36C643.73 724.7 642.13 725.64 640.26 726.57C638.38 727.51 635.98 728.45 633.84 728.98C631.7 729.52 628.89 729.33 627.42 729.78C625.94 730.24 625.54 730.77 625.01 731.71C624.47 732.65 624.87 734.6 624.21 735.4C623.54 736.21 622.33 736.53 621 736.53C619.66 736.53 617.52 735.86 616.18 735.4C614.84 734.95 614.31 733.93 612.97 733.8C611.63 733.66 610.03 734.6 608.15 734.6C606.28 734.6 603.87 733.66 601.73 733.8C599.59 733.93 597.45 735.14 595.31 735.4C593.17 735.67 591.03 735.8 588.89 735.4C586.75 735 584.34 734.2 582.47 733C580.6 731.79 578.73 730.05 577.66 728.18C576.59 726.31 576.19 723.9 576.05 721.76C575.92 719.62 576.85 717.48 576.85 715.34C576.85 713.2 576.19 711.59 576.05 708.92C575.92 706.24 575.52 701.7 576.05 699.29Z" fill="#504b95" stroke="#3e3a86" stroke-width="0.8"/>
<g clip-path="url(#hc2)">
<ellipse cx="594.68" cy="720.32" rx="4.31" ry="3.69" fill="#58428a" opacity="0.45"/>
<ellipse cx="624.55" cy="719.31" rx="2.29" ry="3.26" fill="#3f3b86" opacity="0.45"/>
<ellipse cx="584.9" cy="712.16" rx="4.11" ry="1.28" fill="#6561a6" opacity="0.45"/>
<ellipse cx="584.6" cy="720.26" rx="4.98" ry="3.54" fill="#6d69aa" opacity="0.45"/>
<ellipse cx="581.46" cy="726.09" rx="2.42" ry="2.46" fill="#3f3b86" opacity="0.45"/>
<ellipse cx="608.19" cy="691.39" rx="2.75" ry="1.86" fill="#7672b0" opacity="0.45"/>
<ellipse cx="643.27" cy="713.13" rx="3.85" ry="3.69" fill="#6a5a9e" opacity="0.45"/>
<ellipse cx="623.54" cy="718.73" rx="4.37" ry="3.44" fill="#7672b0" opacity="0.45"/>
<ellipse cx="649.91" cy="720.62" rx="3.64" ry="3.96" fill="#433f8a" opacity="0.45"/>
<ellipse cx="608.47" cy="722.63" rx="2.12" ry="1.77" fill="#433f8a" opacity="0.45"/>
<ellipse cx="614.72" cy="697.43" rx="2.42" ry="1.98" fill="#6a5a9e" opacity="0.45"/>
<ellipse cx="642.58" cy="714.59" rx="2.32" ry="1.86" fill="#433f8a" opacity="0.45"/>
<ellipse cx="589.78" cy="703.42" rx="3.01" ry="2.96" fill="#6d69aa" opacity="0.45"/>
<ellipse cx="610.24" cy="684.12" rx="4.77" ry="1.32" fill="#6a5a9e" opacity="0.45"/>
<ellipse cx="585.77" cy="726.72" rx="3.06" ry="1.91" fill="#3f3b86" opacity="0.45"/>
<ellipse cx="630.72" cy="723.02" rx="4.6" ry="3.45" fill="#7672b0" opacity="0.45"/>
<ellipse cx="590.43" cy="729.24" rx="3.32" ry="3.04" fill="#7672b0" opacity="0.45"/>
<ellipse cx="643.51" cy="721.31" rx="4.03" ry="1.79" fill="#6561a6" opacity="0.45"/>
<ellipse cx="621.91" cy="714.79" rx="1.64" ry="2.83" fill="#433f8a" opacity="0.45"/>
<ellipse cx="618.31" cy="693.65" rx="2.08" ry="3.12" fill="#6561a6" opacity="0.45"/>
<ellipse cx="583.53" cy="695.95" rx="3" ry="2.87" fill="#6d69aa" opacity="0.45"/>
<ellipse cx="636.33" cy="720.84" rx="4.39" ry="3.01" fill="#6a5a9e" opacity="0.45"/>
<ellipse cx="615.02" cy="690.7" rx="1.93" ry="2.04" fill="#7672b0" opacity="0.45"/>
<ellipse cx="595.44" cy="715.65" rx="4.78" ry="2.66" fill="#6d69aa" opacity="0.45"/>
<ellipse cx="639.72" cy="685.9" rx="2.67" ry="2.59" fill="#7672b0" opacity="0.45"/>
<ellipse cx="648.7" cy="711.38" rx="2.28" ry="1.78" fill="#6a5a9e" opacity="0.45"/>
<ellipse cx="635.71" cy="703.94" rx="4.69" ry="3.27" fill="#58428a" opacity="0.45"/>
<ellipse cx="594.63" cy="720.25" rx="2.25" ry="2.39" fill="#3f3b86" opacity="0.45"/>
<ellipse cx="592.92" cy="724.96" rx="2.51" ry="1.77" fill="#433f8a" opacity="0.45"/>
<ellipse cx="601.66" cy="686.02" rx="3.11" ry="1.39" fill="#6a5a9e" opacity="0.45"/>
<ellipse cx="578.47" cy="732.83" rx="4.21" ry="1.73" fill="#58428a" opacity="0.45"/>
<ellipse cx="611.54" cy="713.4" rx="1.71" ry="2.68" fill="#7672b0" opacity="0.45"/>
<ellipse cx="647.32" cy="691.86" rx="1.89" ry="3.51" fill="#6d69aa" opacity="0.45"/>
<ellipse cx="591.59" cy="700.08" rx="2.52" ry="2.17" fill="#6a5a9e" opacity="0.45"/>
<ellipse cx="582.57" cy="710.02" rx="4.57" ry="3.97" fill="#433f8a" opacity="0.45"/>
<ellipse cx="578.31" cy="712.36" rx="4.89" ry="1.34" fill="#6561a6" opacity="0.45"/>
<ellipse cx="587.66" cy="731.02" rx="1.94" ry="1.21" fill="#58428a" opacity="0.45"/>
<ellipse cx="593.86" cy="730.01" rx="1.81" ry="3.81" fill="#6561a6" opacity="0.45"/>
<ellipse cx="580.35" cy="698" rx="2.25" ry="3.21" fill="#3f3b86" opacity="0.45"/>
<ellipse cx="625.66" cy="733.57" rx="4.25" ry="3.34" fill="#433f8a" opacity="0.45"/>
<ellipse cx="589.82" cy="704.83" rx="4.44" ry="3.71" fill="#6d69aa" opacity="0.45"/>
<ellipse cx="583.77" cy="691.27" rx="4.16" ry="2.24" fill="#433f8a" opacity="0.45"/>
<ellipse cx="605.14" cy="691.9" rx="2.54" ry="1.44" fill="#433f8a" opacity="0.45"/>
<ellipse cx="578.96" cy="685.61" rx="1.55" ry="2.67" fill="#58428a" opacity="0.45"/>
<ellipse cx="595.62" cy="688.82" rx="4.33" ry="2.39" fill="#7672b0" opacity="0.45"/>
<ellipse cx="622.28" cy="728.16" rx="3.95" ry="3.77" fill="#58428a" opacity="0.45"/>
<ellipse cx="578.1" cy="689.02" rx="4.99" ry="2.52" fill="#6a5a9e" opacity="0.45"/>
<ellipse cx="595.35" cy="725.6" rx="2.55" ry="2.67" fill="#6a5a9e" opacity="0.45"/>
<ellipse cx="615.45" cy="698.64" rx="4.78" ry="1.89" fill="#6561a6" opacity="0.45"/>
<ellipse cx="639.61" cy="729.24" rx="2.05" ry="3.54" fill="#6a5a9e" opacity="0.45"/>
<ellipse cx="635.87" cy="705.69" rx="3.11" ry="3.73" fill="#6561a6" opacity="0.45"/>
<ellipse cx="615.79" cy="694.28" rx="4" ry="3.53" fill="#6a5a9e" opacity="0.45"/>
<ellipse cx="577.21" cy="732" rx="4.37" ry="1.7" fill="#6a5a9e" opacity="0.45"/>
<ellipse cx="582.82" cy="715.21" rx="1.78" ry="3.73" fill="#7672b0" opacity="0.45"/>
<ellipse cx="618.41" cy="722.41" rx="2.25" ry="3.29" fill="#6d69aa" opacity="0.45"/>
<ellipse cx="624.33" cy="706.71" rx="1.58" ry="3.61" fill="#433f8a" opacity="0.45"/>
<ellipse cx="585.9" cy="728.51" rx="3.78" ry="3.25" fill="#6561a6" opacity="0.45"/>
<ellipse cx="607.53" cy="723.79" rx="3.2" ry="2.9" fill="#6561a6" opacity="0.45"/>
<ellipse cx="593.52" cy="712.11" rx="3.5" ry="3.7" fill="#6d69aa" opacity="0.45"/>
<ellipse cx="643.93" cy="718.61" rx="1.68" ry="3.16" fill="#433f8a" opacity="0.45"/>
<ellipse cx="607.47" cy="732.45" rx="1.54" ry="2.23" fill="#58428a" opacity="0.45"/>
<ellipse cx="586.28" cy="708.74" rx="4.41" ry="3.11" fill="#7672b0" opacity="0.45"/>
<ellipse cx="629.78" cy="719.36" rx="1.83" ry="3.2" fill="#433f8a" opacity="0.45"/>
<ellipse cx="584.53" cy="693.46" rx="1.7" ry="3" fill="#6d69aa" opacity="0.45"/>
<ellipse cx="621.36" cy="711.11" rx="3.12" ry="2.2" fill="#3f3b86" opacity="0.45"/>
<ellipse cx="618.93" cy="714.27" rx="3.5" ry="2.36" fill="#3f3b86" opacity="0.45"/>
<ellipse cx="645.91" cy="707.56" rx="2.68" ry="3.08" fill="#7672b0" opacity="0.45"/>
<ellipse cx="644.36" cy="720.23" rx="3.53" ry="3.34" fill="#6a5a9e" opacity="0.45"/>
<ellipse cx="645.81" cy="699.91" rx="1.59" ry="3.2" fill="#3f3b86" opacity="0.45"/>
<ellipse cx="604.6" cy="709.52" rx="1.71" ry="1.9" fill="#58428a" opacity="0.45"/>
<ellipse cx="575.25" cy="712.22" rx="4.44" ry="2.69" fill="#7672b0" opacity="0.45"/>
<ellipse cx="607.79" cy="713.76" rx="2.21" ry="3.93" fill="#6d69aa" opacity="0.45"/>
<ellipse cx="581.77" cy="689.98" rx="4.85" ry="2.75" fill="#6561a6" opacity="0.45"/>
<ellipse cx="622.72" cy="700.61" rx="2.06" ry="1.72" fill="#6d69aa" opacity="0.45"/>
<ellipse cx="579.22" cy="707.19" rx="3.81" ry="3.18" fill="#6561a6" opacity="0.45"/>
<ellipse cx="628.24" cy="726.25" rx="3.3" ry="1.51" fill="#3f3b86" opacity="0.45"/>
<ellipse cx="601.5" cy="686.75" rx="3.32" ry="3.39" fill="#3f3b86" opacity="0.45"/>
<ellipse cx="588.24" cy="721.42" rx="2.57" ry="2.03" fill="#6a5a9e" opacity="0.45"/>
<ellipse cx="594.93" cy="726.72" rx="3.44" ry="3.74" fill="#58428a" opacity="0.45"/>
<ellipse cx="596.29" cy="721.93" rx="4.44" ry="1.44" fill="#6d69aa" opacity="0.45"/>
<ellipse cx="578.57" cy="690.33" rx="2.39" ry="3.46" fill="#3f3b86" opacity="0.45"/>
<ellipse cx="591.69" cy="700.19" rx="3.23" ry="2.88" fill="#6d69aa" opacity="0.45"/>
<ellipse cx="578.49" cy="731.45" rx="2.97" ry="3.19" fill="#433f8a" opacity="0.45"/>
<ellipse cx="592.73" cy="701.58" rx="1.94" ry="3.19" fill="#7672b0" opacity="0.45"/>
<ellipse cx="612.24" cy="720.91" rx="4.29" ry="3.49" fill="#3f3b86" opacity="0.45"/>
<ellipse cx="609.01" cy="706.33" rx="3.97" ry="2.97" fill="#6561a6" opacity="0.45"/>
<ellipse cx="585.66" cy="702.44" rx="4.67" ry="1.25" fill="#6a5a9e" opacity="0.45"/>
<ellipse cx="602.53" cy="723.83" rx="2.18" ry="1.61" fill="#58428a" opacity="0.45"/>
<ellipse cx="587.16" cy="692.98" rx="4.8" ry="3.44" fill="#6a5a9e" opacity="0.45"/>
<ellipse cx="620.55" cy="724.8" rx="2.94" ry="1.78" fill="#6a5a9e" opacity="0.45"/>
</g>
<ellipse cx="584.1" cy="723.4" rx="7" ry="6.6" fill="#5f5cab" opacity="0.8"/>
<ellipse cx="585.5" cy="699.5" rx="5" ry="5.5" fill="#625fab" opacity="0.7"/>
<ellipse cx="600.1" cy="711.3" rx="6.7" ry="5.2" fill="#36307f"/>
<ellipse cx="600.1" cy="711.3" rx="5.4" ry="3.9" fill="#fbf9fd"/>
<ellipse cx="619.4" cy="712" rx="5.9" ry="6.7" fill="#36307f"/>
<ellipse cx="619.4" cy="712" rx="4.6" ry="5.4" fill="#fbf9fd"/>
<ellipse cx="632.2" cy="710.5" rx="4.6" ry="6.7" fill="#36307f"/>
<ellipse cx="632.2" cy="710.5" rx="3.3" ry="5.4" fill="#fbf9fd"/>
<ellipse cx="606.5" cy="696.3" rx="4.5" ry="5.5" fill="#36307f"/>
<ellipse cx="606.5" cy="696.3" rx="3.2" ry="4.2" fill="#fbf9fd"/>
<ellipse cx="596.1" cy="697.7" rx="2.7" ry="3.5" fill="#36307f"/>
<ellipse cx="596.1" cy="697.7" rx="1.4" ry="2.2" fill="#fbf9fd"/>
<ellipse cx="614.6" cy="698.5" rx="2.7" ry="2.7" fill="#36307f"/>
<ellipse cx="614.6" cy="698.5" rx="1.4" ry="1.4" fill="#fbf9fd"/>
<ellipse cx="583" cy="697" rx="2.2" ry="2.2" fill="#36307f"/>
<ellipse cx="583" cy="697" rx="0.9" ry="0.9" fill="#fbf9fd"/>
<ellipse cx="640" cy="718" rx="2.1" ry="2.1" fill="#36307f"/>
<ellipse cx="640" cy="718" rx="0.8" ry="0.8" fill="#fbf9fd"/>
<ellipse cx="619.4" cy="730.8" rx="5.6" ry="4.6" fill="#8a4d9c"/>
<ellipse cx="606.5" cy="726.6" rx="6.6" ry="5.8" fill="#9e2e2a"/>
<ellipse cx="606.3" cy="726.3" rx="5.8" ry="5" fill="#d8483a"/>
<rect x="452" y="747.8" width="104.9" height="70.3" fill="#000"/>
<rect x="561" y="747.8" width="106.1" height="70.3" fill="#000"/>
<clipPath id="gc1"><path d="M492.48 756.36C494.19 755.34 496.92 754.14 498.62 754.31C500.32 754.49 501.35 755.85 502.71 757.38C504.07 758.92 505.44 761.81 506.8 763.52C508.16 765.22 509.19 766.58 510.89 767.61C512.59 768.63 514.64 769.48 517.02 769.65C519.41 769.82 522.82 768.46 525.2 768.63C527.59 768.8 529.29 769.48 531.34 770.67C533.38 771.87 535.94 773.74 537.47 775.79C539.01 777.83 539.69 780.73 540.54 782.94C541.39 785.16 542.76 787.03 542.59 789.08C542.42 791.12 541.05 793.17 539.52 795.21C537.99 797.26 535.43 799.65 533.38 801.35C531.34 803.05 529.64 804.59 527.25 805.44C524.86 806.29 521.46 806.12 519.07 806.46C516.68 806.8 514.98 806.8 512.93 807.48C510.89 808.17 508.84 809.53 506.8 810.55C504.75 811.57 502.54 813.62 500.66 813.62C498.79 813.62 497.6 811.57 495.55 810.55C493.51 809.53 490.61 808.17 488.39 807.48C486.18 806.8 484.13 807.14 482.26 806.46C480.39 805.78 478.17 804.76 477.15 803.39C476.12 802.03 475.95 800.16 476.12 798.28C476.3 796.41 478.34 794.02 478.17 792.15C478 790.27 475.95 789.08 475.1 787.03C474.25 784.99 473.06 782.26 473.06 779.88C473.06 777.49 473.74 774.42 475.1 772.72C476.47 771.02 479.36 770.67 481.24 769.65C483.11 768.63 485.16 768.12 486.35 766.58C487.54 765.05 487.37 762.15 488.39 760.45C489.42 758.75 490.78 757.38 492.48 756.36Z"/></clipPath>
<path d="M492.48 756.36C494.19 755.34 496.92 754.14 498.62 754.31C500.32 754.49 501.35 755.85 502.71 757.38C504.07 758.92 505.44 761.81 506.8 763.52C508.16 765.22 509.19 766.58 510.89 767.61C512.59 768.63 514.64 769.48 517.02 769.65C519.41 769.82 522.82 768.46 525.2 768.63C527.59 768.8 529.29 769.48 531.34 770.67C533.38 771.87 535.94 773.74 537.47 775.79C539.01 777.83 539.69 780.73 540.54 782.94C541.39 785.16 542.76 787.03 542.59 789.08C542.42 791.12 541.05 793.17 539.52 795.21C537.99 797.26 535.43 799.65 533.38 801.35C531.34 803.05 529.64 804.59 527.25 805.44C524.86 806.29 521.46 806.12 519.07 806.46C516.68 806.8 514.98 806.8 512.93 807.48C510.89 808.17 508.84 809.53 506.8 810.55C504.75 811.57 502.54 813.62 500.66 813.62C498.79 813.62 497.6 811.57 495.55 810.55C493.51 809.53 490.61 808.17 488.39 807.48C486.18 806.8 484.13 807.14 482.26 806.46C480.39 805.78 478.17 804.76 477.15 803.39C476.12 802.03 475.95 800.16 476.12 798.28C476.3 796.41 478.34 794.02 478.17 792.15C478 790.27 475.95 789.08 475.1 787.03C474.25 784.99 473.06 782.26 473.06 779.88C473.06 777.49 473.74 774.42 475.1 772.72C476.47 771.02 479.36 770.67 481.24 769.65C483.11 768.63 485.16 768.12 486.35 766.58C487.54 765.05 487.37 762.15 488.39 760.45C489.42 758.75 490.78 757.38 492.48 756.36Z" fill="#2f3a85"/>
<g clip-path="url(#gc1)">
<path d="M492.48 756.36C494.19 755.34 496.92 754.14 498.62 754.31C500.32 754.49 501.35 755.85 502.71 757.38C504.07 758.92 505.44 761.81 506.8 763.52C508.16 765.22 509.19 766.58 510.89 767.61C512.59 768.63 514.64 769.48 517.02 769.65C519.41 769.82 522.82 768.46 525.2 768.63C527.59 768.8 529.29 769.48 531.34 770.67C533.38 771.87 535.94 773.74 537.47 775.79C539.01 777.83 539.69 780.73 540.54 782.94C541.39 785.16 542.76 787.03 542.59 789.08C542.42 791.12 541.05 793.17 539.52 795.21C537.99 797.26 535.43 799.65 533.38 801.35C531.34 803.05 529.64 804.59 527.25 805.44C524.86 806.29 521.46 806.12 519.07 806.46C516.68 806.8 514.98 806.8 512.93 807.48C510.89 808.17 508.84 809.53 506.8 810.55C504.75 811.57 502.54 813.62 500.66 813.62C498.79 813.62 497.6 811.57 495.55 810.55C493.51 809.53 490.61 808.17 488.39 807.48C486.18 806.8 484.13 807.14 482.26 806.46C480.39 805.78 478.17 804.76 477.15 803.39C476.12 802.03 475.95 800.16 476.12 798.28C476.3 796.41 478.34 794.02 478.17 792.15C478 790.27 475.95 789.08 475.1 787.03C474.25 784.99 473.06 782.26 473.06 779.88C473.06 777.49 473.74 774.42 475.1 772.72C476.47 771.02 479.36 770.67 481.24 769.65C483.11 768.63 485.16 768.12 486.35 766.58C487.54 765.05 487.37 762.15 488.39 760.45C489.42 758.75 490.78 757.38 492.48 756.36Z" fill="none" stroke="#8fd06a" stroke-width="0.6" stroke-dasharray="3 9" opacity="0.8"/>
<rect x="528.66" y="776.71" width="0.94" height="0.83" fill="#2a8fd6"/>
<rect x="527.54" y="777.78" width="0.8" height="1.38" fill="#35c4e8"/>
<rect x="529.76" y="778.98" width="1.26" height="1.14" fill="#3bbbe6"/>
<rect x="530.49" y="776.61" width="0.97" height="1.04" fill="#5ad6e0"/>
<rect x="536.36" y="778.21" width="0.76" height="1.02" fill="#5ad6e0"/>
<rect x="536.78" y="777.8" width="0.74" height="1.26" fill="#5ad6e0"/>
<rect x="536.26" y="779.07" width="0.83" height="1.47" fill="#2a8fd6"/>
<rect x="536.85" y="777.87" width="1.64" height="1.11" fill="#3bbbe6"/>
<rect x="537.25" y="777.99" width="0.88" height="1.28" fill="#35c4e8"/>
<rect x="506.7" y="777.89" width="0.86" height="1.36" fill="#3bbbe6"/>
<rect x="504.94" y="766.43" width="0.76" height="1.18" fill="#5ad6e0"/>
<rect x="505.33" y="766.81" width="1.43" height="1.01" fill="#2a8fd6"/>
<rect x="506.89" y="767.03" width="0.84" height="1.2" fill="#3bbbe6"/>
<rect x="507.54" y="766.6" width="1.28" height="1.45" fill="#2a8fd6"/>
<rect x="522.2" y="800.58" width="1.32" height="0.9" fill="#2a8fd6"/>
<rect x="523.03" y="800.12" width="1.46" height="1.07" fill="#3bbbe6"/>
<rect x="521.4" y="802.12" width="1.16" height="0.87" fill="#2a8fd6"/>
<rect x="523.48" y="802.08" width="1.6" height="1.23" fill="#9ee070"/>
<rect x="521.91" y="800.78" width="1.14" height="1.25" fill="#2a8fd6"/>
<rect x="520.67" y="801.02" width="0.73" height="1.38" fill="#2a8fd6"/>
<rect x="480.16" y="799.81" width="1.41" height="1.07" fill="#3bbbe6"/>
<rect x="479.11" y="801.19" width="0.78" height="1.03" fill="#42cbe6"/>
<rect x="500.54" y="807.94" width="0.77" height="1.17" fill="#42cbe6"/>
<rect x="521.09" y="770" width="1.24" height="0.94" fill="#5ad6e0"/>
<rect x="522.61" y="771.03" width="1.38" height="1.04" fill="#3bbbe6"/>
<rect x="520.17" y="770.05" width="1.32" height="1.24" fill="#35c4e8"/>
<rect x="519.56" y="770.18" width="1.03" height="1.34" fill="#3bbbe6"/>
<rect x="519.5" y="770.9" width="1.38" height="1.04" fill="#2a8fd6"/>
<rect x="521.9" y="771.87" width="1.37" height="0.9" fill="#2a8fd6"/>
<rect x="535.24" y="783.66" width="0.92" height="0.99" fill="#42cbe6"/>
<rect x="534.77" y="785.27" width="0.71" height="1.29" fill="#2a8fd6"/>
<rect x="503.28" y="770.91" width="1.13" height="1.09" fill="#2a8fd6"/>
<rect x="503.03" y="771.21" width="0.87" height="0.77" fill="#2fb2e2"/>
<rect x="503.16" y="771.93" width="1.02" height="0.76" fill="#2a8fd6"/>
<rect x="503.87" y="771.46" width="1.1" height="0.99" fill="#2a8fd6"/>
<rect x="503.21" y="772.46" width="1.08" height="1.14" fill="#2a8fd6"/>
<rect x="510.6" y="808.17" width="1.28" height="1.03" fill="#35c4e8"/>
<rect x="479.98" y="797.59" width="1.57" height="1.02" fill="#2a8fd6"/>
<rect x="508.56" y="771.52" width="1.47" height="1.36" fill="#35c4e8"/>
<rect x="508.68" y="771.8" width="1.45" height="1.39" fill="#2fb2e2"/>
<rect x="533.25" y="775.52" width="1.12" height="0.72" fill="#2a8fd6"/>
<rect x="534.89" y="776.75" width="1.55" height="0.71" fill="#2a8fd6"/>
<rect x="532.31" y="775.1" width="1.46" height="1.47" fill="#5ad6e0"/>
<rect x="532.1" y="776.75" width="1.23" height="0.8" fill="#42cbe6"/>
<rect x="518.55" y="771.48" width="0.74" height="0.94" fill="#3bbbe6"/>
<rect x="516.58" y="773.44" width="1.54" height="1.18" fill="#2a8fd6"/>
<rect x="533.7" y="785.17" width="1.33" height="0.73" fill="#35c4e8"/>
<rect x="535.12" y="785.77" width="1.52" height="1.36" fill="#2a8fd6"/>
<rect x="533.74" y="786.08" width="0.75" height="1.08" fill="#5ad6e0"/>
<rect x="534.91" y="785.2" width="1.57" height="1.43" fill="#35c4e8"/>
<rect x="478.87" y="779.99" width="0.77" height="1.05" fill="#5ad6e0"/>
<rect x="479.82" y="778.09" width="0.81" height="1.42" fill="#3bbbe6"/>
<rect x="477.14" y="780.48" width="0.74" height="1.35" fill="#35c4e8"/>
<rect x="477.05" y="779.17" width="1.58" height="1.43" fill="#3bbbe6"/>
<rect x="478.41" y="778.48" width="0.8" height="1.24" fill="#3bbbe6"/>
<rect x="496.18" y="785.96" width="1.32" height="0.98" fill="#2a8fd6"/>
<rect x="486.61" y="786.42" width="1.6" height="0.86" fill="#2a8fd6"/>
<rect x="489.11" y="787.63" width="0.96" height="0.77" fill="#3bbbe6"/>
<rect x="488.22" y="788.86" width="0.8" height="1.22" fill="#2fb2e2"/>
<rect x="495.48" y="785.03" width="1.11" height="0.87" fill="#35c4e8"/>
<rect x="495.14" y="785.18" width="1.13" height="1.37" fill="#3bbbe6"/>
<rect x="482.75" y="792.18" width="1.27" height="0.7" fill="#35c4e8"/>
<rect x="503.91" y="772.06" width="1.41" height="0.96" fill="#35c4e8"/>
<rect x="501.1" y="772.45" width="1.18" height="0.84" fill="#35c4e8"/>
<rect x="484.08" y="789.11" width="0.71" height="1.03" fill="#35c4e8"/>
<rect x="484.86" y="788.05" width="1.23" height="0.86" fill="#5ad6e0"/>
<rect x="485.54" y="789.27" width="0.97" height="0.79" fill="#2a8fd6"/>
<rect x="484.52" y="788.53" width="1.02" height="0.8" fill="#42cbe6"/>
<rect x="484.53" y="789.38" width="1.01" height="0.84" fill="#5ad6e0"/>
<rect x="485.25" y="787.37" width="1.16" height="1.34" fill="#3bbbe6"/>
<rect x="500.47" y="761.76" width="1.57" height="0.78" fill="#2fb2e2"/>
<rect x="501.87" y="761.08" width="1.16" height="1.04" fill="#2fb2e2"/>
<rect x="501.53" y="762.59" width="1.04" height="1.2" fill="#35c4e8"/>
<rect x="499.78" y="760.74" width="0.82" height="1.19" fill="#9ee070"/>
<rect x="538.31" y="788.16" width="1.59" height="0.9" fill="#2a8fd6"/>
<rect x="537.06" y="787" width="1.15" height="0.79" fill="#35c4e8"/>
<rect x="536.24" y="787.05" width="0.73" height="1.16" fill="#35c4e8"/>
<rect x="535.55" y="788.38" width="1.23" height="1.43" fill="#5ad6e0"/>
<rect x="482.57" y="794.77" width="1.55" height="0.97" fill="#2a8fd6"/>
<rect x="482.44" y="795.85" width="1.69" height="1.26" fill="#35c4e8"/>
<rect x="484.52" y="793.3" width="1.59" height="0.79" fill="#35c4e8"/>
<rect x="482.16" y="795.06" width="1.17" height="0.94" fill="#35c4e8"/>
<rect x="484.05" y="795.31" width="1.36" height="1.21" fill="#35c4e8"/>
<rect x="506.24" y="760.79" width="1.45" height="1.23" fill="#3bbbe6"/>
<rect x="504.7" y="760.78" width="1.41" height="0.89" fill="#35c4e8"/>
<rect x="504.07" y="759.86" width="1.32" height="0.98" fill="#35c4e8"/>
<rect x="506.26" y="761.65" width="1.67" height="1.33" fill="#5ad6e0"/>
<rect x="503.56" y="760.02" width="1.21" height="0.8" fill="#5ad6e0"/>
<rect x="515.37" y="787.69" width="1.29" height="0.94" fill="#2fb2e2"/>
<rect x="514.6" y="787.64" width="0.81" height="0.76" fill="#2a8fd6"/>
<rect x="505.66" y="785.14" width="0.95" height="1.37" fill="#9ee070"/>
<rect x="506.5" y="785.81" width="1.06" height="1.09" fill="#2fb2e2"/>
<rect x="505.12" y="786.16" width="0.87" height="1.25" fill="#5ad6e0"/>
<rect x="507.63" y="787.4" width="1.15" height="1.3" fill="#42cbe6"/>
<rect x="538.75" y="786.56" width="1" height="1.15" fill="#2a8fd6"/>
<rect x="538.85" y="784.69" width="0.97" height="1.18" fill="#2fb2e2"/>
<rect x="540.73" y="786.6" width="1.18" height="1" fill="#35c4e8"/>
<rect x="541.48" y="785.6" width="1.04" height="0.8" fill="#42cbe6"/>
<rect x="514.65" y="773.43" width="1.16" height="1.22" fill="#2a8fd6"/>
<rect x="514.51" y="773.9" width="0.94" height="1.38" fill="#3bbbe6"/>
<rect x="512.89" y="771.71" width="1.4" height="1.48" fill="#35c4e8"/>
<rect x="506.07" y="773.8" width="1.53" height="0.83" fill="#35c4e8"/>
<rect x="504.13" y="774.48" width="1.39" height="0.83" fill="#2a8fd6"/>
<rect x="504.38" y="773.8" width="1.29" height="0.88" fill="#3bbbe6"/>
<rect x="503.37" y="775.06" width="1" height="0.73" fill="#2fb2e2"/>
<rect x="506.54" y="789.96" width="1.08" height="1.23" fill="#35c4e8"/>
<rect x="500.58" y="782.69" width="1.5" height="1.17" fill="#35c4e8"/>
<rect x="501.13" y="783.89" width="1.69" height="1.3" fill="#35c4e8"/>
<rect x="498.53" y="783.28" width="1.1" height="1.17" fill="#2fb2e2"/>
<rect x="505.04" y="785.66" width="0.94" height="1.35" fill="#42cbe6"/>
<rect x="505.99" y="785.39" width="0.88" height="1.03" fill="#42cbe6"/>
<rect x="505.3" y="784.11" width="1.56" height="1.5" fill="#42cbe6"/>
<rect x="503.85" y="785.44" width="1.1" height="1.1" fill="#3bbbe6"/>
<rect x="504.21" y="783.75" width="1.62" height="1.05" fill="#5ad6e0"/>
<rect x="517.25" y="785.05" width="1.47" height="1.45" fill="#2a8fd6"/>
<rect x="524.03" y="782.66" width="1.34" height="1.23" fill="#2fb2e2"/>
<rect x="508.33" y="776.59" width="1.16" height="1.34" fill="#2fb2e2"/>
<rect x="510.11" y="776.41" width="1.37" height="0.93" fill="#42cbe6"/>
<rect x="508.78" y="776.93" width="1.11" height="0.87" fill="#2fb2e2"/>
<rect x="508.03" y="777.67" width="0.78" height="1.22" fill="#2a8fd6"/>
<rect x="508.34" y="776.67" width="0.73" height="0.83" fill="#35c4e8"/>
<rect x="510.72" y="776.33" width="1.51" height="1.18" fill="#2a8fd6"/>
<rect x="530.75" y="790.1" width="1.05" height="1.38" fill="#35c4e8"/>
<rect x="531.02" y="790.6" width="1.36" height="0.77" fill="#2a8fd6"/>
<rect x="518.98" y="774.87" width="1.39" height="1.26" fill="#5ad6e0"/>
<rect x="520.81" y="775.59" width="0.83" height="0.75" fill="#35c4e8"/>
<rect x="536.18" y="783.48" width="0.85" height="0.7" fill="#35c4e8"/>
<rect x="537.75" y="784.32" width="1.37" height="0.73" fill="#35c4e8"/>
<rect x="535.31" y="784.99" width="1.17" height="0.99" fill="#42cbe6"/>
<rect x="538.29" y="784.39" width="0.72" height="1.34" fill="#35c4e8"/>
<rect x="536.22" y="784.01" width="1.37" height="1.03" fill="#42cbe6"/>
<rect x="477.4" y="771.5" width="1.02" height="0.96" fill="#2a8fd6"/>
<rect x="479.2" y="771.08" width="1.55" height="0.74" fill="#3bbbe6"/>
<rect x="477.05" y="771.71" width="1.61" height="0.78" fill="#35c4e8"/>
<rect x="479.27" y="770.74" width="1.47" height="0.97" fill="#2a8fd6"/>
<rect x="523.05" y="799.06" width="0.99" height="1.03" fill="#2a8fd6"/>
<rect x="524.32" y="799.58" width="1.46" height="1.23" fill="#2a8fd6"/>
<rect x="523.99" y="799.32" width="0.87" height="1.11" fill="#35c4e8"/>
<rect x="508.22" y="775.57" width="1.56" height="1.01" fill="#35c4e8"/>
<rect x="509.46" y="775.11" width="1.5" height="0.76" fill="#5ad6e0"/>
<rect x="510.41" y="775.02" width="0.83" height="0.99" fill="#35c4e8"/>
<rect x="507.93" y="765" width="0.89" height="1.34" fill="#3bbbe6"/>
<rect x="506.19" y="766.75" width="1.32" height="0.96" fill="#2a8fd6"/>
<rect x="488.9" y="799.27" width="1.53" height="0.87" fill="#35c4e8"/>
<rect x="486.62" y="797.11" width="1.54" height="0.86" fill="#2fb2e2"/>
<rect x="486.3" y="798.84" width="1.67" height="0.75" fill="#35c4e8"/>
<rect x="488.57" y="797.25" width="1.13" height="1.33" fill="#3bbbe6"/>
<rect x="488.6" y="799.28" width="1.2" height="0.85" fill="#35c4e8"/>
<rect x="489.82" y="761.28" width="1.6" height="1.06" fill="#2a8fd6"/>
<rect x="490.38" y="762.35" width="1.23" height="0.84" fill="#42cbe6"/>
<rect x="493.05" y="772.5" width="1.34" height="1.4" fill="#2a8fd6"/>
<rect x="493.32" y="774.98" width="1.53" height="0.76" fill="#42cbe6"/>
<rect x="497.38" y="780.01" width="1.06" height="0.84" fill="#5ad6e0"/>
<rect x="497.6" y="779.36" width="0.91" height="0.98" fill="#2fb2e2"/>
<rect x="497.13" y="779.61" width="1.06" height="0.96" fill="#2fb2e2"/>
<rect x="503.68" y="776.81" width="1.46" height="1.45" fill="#5ad6e0"/>
<rect x="502.79" y="776.11" width="1.36" height="0.96" fill="#35c4e8"/>
<rect x="502.09" y="776.14" width="1.5" height="1.2" fill="#2a8fd6"/>
<rect x="501.47" y="776.83" width="1.14" height="0.81" fill="#2a8fd6"/>
<rect x="504.36" y="774.96" width="1.53" height="1.3" fill="#35c4e8"/>
<rect x="504.44" y="775.5" width="1.58" height="1.13" fill="#35c4e8"/>
<rect x="486.3" y="806.88" width="0.98" height="0.94" fill="#2fb2e2"/>
<rect x="487.52" y="805.82" width="1.34" height="1.3" fill="#2a8fd6"/>
<rect x="501.88" y="811.98" width="1.13" height="1.38" fill="#2a8fd6"/>
<rect x="500.41" y="813.42" width="1.63" height="0.83" fill="#2fb2e2"/>
<rect x="502.36" y="811.98" width="0.9" height="0.86" fill="#42cbe6"/>
<rect x="479.5" y="772.7" width="1.26" height="0.72" fill="#35c4e8"/>
<rect x="481.75" y="773.99" width="1.59" height="0.82" fill="#35c4e8"/>
<rect x="479.27" y="772.64" width="0.72" height="0.74" fill="#5ad6e0"/>
<rect x="480.47" y="771.45" width="1.05" height="1.05" fill="#35c4e8"/>
<rect x="479.12" y="774.08" width="1.32" height="1.05" fill="#35c4e8"/>
<rect x="480.67" y="773.9" width="1.25" height="1.2" fill="#3bbbe6"/>
<rect x="511.6" y="799.46" width="1.26" height="1.07" fill="#35c4e8"/>
<rect x="513.14" y="797.4" width="1.64" height="0.88" fill="#3bbbe6"/>
<rect x="514.22" y="797.5" width="1.33" height="1.02" fill="#5ad6e0"/>
<rect x="513.12" y="798.6" width="0.85" height="0.98" fill="#2a8fd6"/>
<rect x="512.58" y="797.86" width="1.6" height="1.08" fill="#3bbbe6"/>
<rect x="486.97" y="794.25" width="1.05" height="0.73" fill="#35c4e8"/>
<rect x="487.6" y="795.48" width="0.83" height="1.29" fill="#3bbbe6"/>
<rect x="486.62" y="795.68" width="0.88" height="0.73" fill="#3bbbe6"/>
<rect x="487.05" y="793.38" width="1.47" height="1.14" fill="#35c4e8"/>
<rect x="486.52" y="794.93" width="1.33" height="0.99" fill="#3bbbe6"/>
<rect x="488.95" y="793.72" width="1.37" height="0.71" fill="#2a8fd6"/>
<rect x="519.11" y="784.54" width="1.46" height="1.41" fill="#35c4e8"/>
<rect x="518.4" y="783.58" width="1.45" height="1.05" fill="#9ee070"/>
<rect x="487.64" y="791.58" width="0.91" height="0.87" fill="#2fb2e2"/>
<rect x="489.21" y="791.76" width="1.29" height="0.9" fill="#2a8fd6"/>
<rect x="488.86" y="790.67" width="1.07" height="0.87" fill="#2fb2e2"/>
<rect x="490.5" y="789.63" width="1.58" height="1.29" fill="#2a8fd6"/>
<rect x="493.23" y="769.68" width="0.83" height="1.14" fill="#5ad6e0"/>
<rect x="494.23" y="771.17" width="0.78" height="0.98" fill="#2fb2e2"/>
<rect x="494.12" y="769.5" width="0.73" height="0.81" fill="#35c4e8"/>
<rect x="494.68" y="769.56" width="1.61" height="0.74" fill="#2a8fd6"/>
<rect x="524.13" y="789.1" width="0.93" height="1.05" fill="#3bbbe6"/>
<rect x="524.84" y="789.76" width="1.17" height="1.26" fill="#42cbe6"/>
<rect x="522.68" y="789.19" width="1.51" height="1.46" fill="#42cbe6"/>
<rect x="523.29" y="788.89" width="1.25" height="0.81" fill="#35c4e8"/>
<rect x="523.8" y="788.57" width="1.26" height="1.05" fill="#35c4e8"/>
<rect x="524.36" y="788.04" width="0.98" height="1.04" fill="#35c4e8"/>
<rect x="493.42" y="804.32" width="1.1" height="0.97" fill="#3bbbe6"/>
<rect x="491.99" y="806.06" width="0.74" height="0.86" fill="#2fb2e2"/>
</g>
<clipPath id="gc2"><path d="M579.76 770.67C581.13 767.95 583.17 766.07 585.9 764.54C588.63 763.01 592.72 762.15 596.12 761.47C599.53 760.79 602.94 760.45 606.35 760.45C609.76 760.45 613.85 760.62 616.57 761.47C619.3 762.32 620.32 765.05 622.71 765.56C625.1 766.07 628.16 764.2 630.89 764.54C633.62 764.88 636.68 766.24 639.07 767.61C641.46 768.97 643.67 770.85 645.2 772.72C646.74 774.59 647.59 776.47 648.27 778.85C648.95 781.24 649.64 784.65 649.29 787.03C648.95 789.42 647.59 791.12 646.23 793.17C644.86 795.21 643.33 797.77 641.11 799.3C638.9 800.84 635.32 801.69 632.93 802.37C630.55 803.05 628.33 802.37 626.8 803.39C625.27 804.42 625.44 807.14 623.73 808.51C622.03 809.87 619.47 811.23 616.57 811.57C613.68 811.92 609.76 811.23 606.35 810.55C602.94 809.87 599.53 808.34 596.12 807.48C592.72 806.63 588.63 806.46 585.9 805.44C583.17 804.42 581.13 803.05 579.76 801.35C578.4 799.65 577.55 797.43 577.72 795.21C577.89 793 580.79 790.44 580.79 788.06C580.79 785.67 577.89 783.8 577.72 780.9C577.55 778 578.4 773.4 579.76 770.67Z"/></clipPath>
<path d="M579.76 770.67C581.13 767.95 583.17 766.07 585.9 764.54C588.63 763.01 592.72 762.15 596.12 761.47C599.53 760.79 602.94 760.45 606.35 760.45C609.76 760.45 613.85 760.62 616.57 761.47C619.3 762.32 620.32 765.05 622.71 765.56C625.1 766.07 628.16 764.2 630.89 764.54C633.62 764.88 636.68 766.24 639.07 767.61C641.46 768.97 643.67 770.85 645.2 772.72C646.74 774.59 647.59 776.47 648.27 778.85C648.95 781.24 649.64 784.65 649.29 787.03C648.95 789.42 647.59 791.12 646.23 793.17C644.86 795.21 643.33 797.77 641.11 799.3C638.9 800.84 635.32 801.69 632.93 802.37C630.55 803.05 628.33 802.37 626.8 803.39C625.27 804.42 625.44 807.14 623.73 808.51C622.03 809.87 619.47 811.23 616.57 811.57C613.68 811.92 609.76 811.23 606.35 810.55C602.94 809.87 599.53 808.34 596.12 807.48C592.72 806.63 588.63 806.46 585.9 805.44C583.17 804.42 581.13 803.05 579.76 801.35C578.4 799.65 577.55 797.43 577.72 795.21C577.89 793 580.79 790.44 580.79 788.06C580.79 785.67 577.89 783.8 577.72 780.9C577.55 778 578.4 773.4 579.76 770.67Z" fill="#2f3a85"/>
<g clip-path="url(#gc2)">
<path d="M579.76 770.67C581.13 767.95 583.17 766.07 585.9 764.54C588.63 763.01 592.72 762.15 596.12 761.47C599.53 760.79 602.94 760.45 606.35 760.45C609.76 760.45 613.85 760.62 616.57 761.47C619.3 762.32 620.32 765.05 622.71 765.56C625.1 766.07 628.16 764.2 630.89 764.54C633.62 764.88 636.68 766.24 639.07 767.61C641.46 768.97 643.67 770.85 645.2 772.72C646.74 774.59 647.59 776.47 648.27 778.85C648.95 781.24 649.64 784.65 649.29 787.03C648.95 789.42 647.59 791.12 646.23 793.17C644.86 795.21 643.33 797.77 641.11 799.3C638.9 800.84 635.32 801.69 632.93 802.37C630.55 803.05 628.33 802.37 626.8 803.39C625.27 804.42 625.44 807.14 623.73 808.51C622.03 809.87 619.47 811.23 616.57 811.57C613.68 811.92 609.76 811.23 606.35 810.55C602.94 809.87 599.53 808.34 596.12 807.48C592.72 806.63 588.63 806.46 585.9 805.44C583.17 804.42 581.13 803.05 579.76 801.35C578.4 799.65 577.55 797.43 577.72 795.21C577.89 793 580.79 790.44 580.79 788.06C580.79 785.67 577.89 783.8 577.72 780.9C577.55 778 578.4 773.4 579.76 770.67Z" fill="none" stroke="#8fd06a" stroke-width="0.6" stroke-dasharray="3 9" opacity="0.8"/>
<rect x="585.9" y="784.24" width="1.41" height="0.99" fill="#2a8fd6"/>
<rect x="587.6" y="785.59" width="1.05" height="1.17" fill="#35c4e8"/>
<rect x="587.5" y="783.26" width="1.07" height="0.89" fill="#2a8fd6"/>
<rect x="644.92" y="787.44" width="1.58" height="0.74" fill="#42cbe6"/>
<rect x="643.72" y="785.12" width="1.57" height="1.38" fill="#3bbbe6"/>
<rect x="642.8" y="785.16" width="1.34" height="0.97" fill="#2a8fd6"/>
<rect x="643.17" y="787.22" width="1.52" height="1.16" fill="#35c4e8"/>
<rect x="594.79" y="783.64" width="0.88" height="1.32" fill="#35c4e8"/>
<rect x="595.48" y="785.09" width="0.81" height="0.94" fill="#2a8fd6"/>
<rect x="595.41" y="784.78" width="1.55" height="1.27" fill="#35c4e8"/>
<rect x="593.07" y="766.02" width="1" height="0.8" fill="#5ad6e0"/>
<rect x="592.97" y="764.75" width="1.21" height="1" fill="#35c4e8"/>
<rect x="593.36" y="803.37" width="0.78" height="1.43" fill="#35c4e8"/>
<rect x="593.66" y="803.6" width="1.34" height="0.88" fill="#35c4e8"/>
<rect x="593.95" y="804.85" width="0.97" height="1.21" fill="#35c4e8"/>
<rect x="593.58" y="803.61" width="1.46" height="0.71" fill="#3bbbe6"/>
<rect x="593.17" y="803.53" width="1.31" height="0.94" fill="#42cbe6"/>
<rect x="595.12" y="804.6" width="0.87" height="1.48" fill="#42cbe6"/>
<rect x="585.35" y="778.72" width="1.11" height="0.85" fill="#2a8fd6"/>
<rect x="583.62" y="779.58" width="0.79" height="1.21" fill="#35c4e8"/>
<rect x="585.11" y="779.58" width="1.56" height="0.82" fill="#2fb2e2"/>
<rect x="579.54" y="773.11" width="0.78" height="0.8" fill="#35c4e8"/>
<rect x="581.42" y="774.1" width="1.11" height="0.84" fill="#35c4e8"/>
<rect x="578.77" y="772.86" width="1.41" height="1.19" fill="#35c4e8"/>
<rect x="585.31" y="766.44" width="0.89" height="0.84" fill="#5ad6e0"/>
<rect x="585.96" y="769.13" width="1.32" height="1.44" fill="#2a8fd6"/>
<rect x="585.14" y="767" width="1.61" height="0.78" fill="#2fb2e2"/>
<rect x="603.97" y="804.82" width="1.08" height="0.74" fill="#2a8fd6"/>
<rect x="603.91" y="805.4" width="1.17" height="1.38" fill="#42cbe6"/>
<rect x="616.17" y="799.1" width="1.23" height="1.4" fill="#5ad6e0"/>
<rect x="613.6" y="800.11" width="1.39" height="1.37" fill="#35c4e8"/>
<rect x="616.6" y="799.75" width="1.33" height="1.32" fill="#3bbbe6"/>
<rect x="614.71" y="799.1" width="1.03" height="1.24" fill="#35c4e8"/>
<rect x="610.41" y="777.11" width="1.62" height="1.49" fill="#2fb2e2"/>
<rect x="607.85" y="779.48" width="1.42" height="0.82" fill="#35c4e8"/>
<rect x="607.61" y="778.08" width="1.06" height="1.02" fill="#9ee070"/>
<rect x="608.65" y="777.18" width="0.73" height="1.13" fill="#3bbbe6"/>
<rect x="607.65" y="777.14" width="1.66" height="0.74" fill="#35c4e8"/>
<rect x="622.44" y="767.69" width="0.78" height="1.47" fill="#35c4e8"/>
<rect x="622.06" y="769.06" width="1.36" height="1.23" fill="#5ad6e0"/>
<rect x="621.83" y="769.68" width="1.46" height="0.82" fill="#2fb2e2"/>
<rect x="621.91" y="769.26" width="1.36" height="1.25" fill="#3bbbe6"/>
<rect x="622.8" y="767.82" width="1.36" height="0.88" fill="#5ad6e0"/>
<rect x="591.8" y="800.92" width="1.54" height="1.49" fill="#35c4e8"/>
<rect x="592.41" y="800.05" width="1.06" height="0.94" fill="#42cbe6"/>
<rect x="611.92" y="784.56" width="0.9" height="1.19" fill="#35c4e8"/>
<rect x="610.93" y="782.72" width="1.11" height="1.03" fill="#35c4e8"/>
<rect x="587.13" y="773.04" width="1.64" height="1.18" fill="#35c4e8"/>
<rect x="617.44" y="803.35" width="1.6" height="1.01" fill="#35c4e8"/>
<rect x="599.32" y="787.58" width="0.79" height="1.13" fill="#35c4e8"/>
<rect x="598.82" y="785.63" width="1.14" height="0.89" fill="#35c4e8"/>
<rect x="601.91" y="771.19" width="1.35" height="0.89" fill="#9ee070"/>
<rect x="600.3" y="769.22" width="1.49" height="1.47" fill="#42cbe6"/>
<rect x="591.3" y="783.79" width="1.62" height="1.14" fill="#2a8fd6"/>
<rect x="593.65" y="783.48" width="1.28" height="1.33" fill="#3bbbe6"/>
<rect x="594.01" y="781.32" width="1.13" height="1.25" fill="#2a8fd6"/>
<rect x="593.04" y="783.49" width="1.08" height="1.05" fill="#35c4e8"/>
<rect x="591.18" y="782.35" width="1.15" height="1.29" fill="#2a8fd6"/>
<rect x="630.63" y="772.62" width="0.92" height="1.19" fill="#2a8fd6"/>
<rect x="630.99" y="772.64" width="1.39" height="0.97" fill="#2a8fd6"/>
<rect x="610.35" y="805.09" width="1.2" height="1.04" fill="#2fb2e2"/>
<rect x="611.53" y="804.71" width="1.2" height="1.05" fill="#3bbbe6"/>
<rect x="604.41" y="798.87" width="1.11" height="1.41" fill="#2a8fd6"/>
<rect x="605.64" y="798.3" width="0.73" height="0.96" fill="#2a8fd6"/>
<rect x="606.16" y="800.45" width="1.43" height="1.49" fill="#2a8fd6"/>
<rect x="615.58" y="801.51" width="1.6" height="1.3" fill="#2fb2e2"/>
<rect x="613.78" y="801.28" width="0.72" height="1.33" fill="#42cbe6"/>
<rect x="614.71" y="800.85" width="0.82" height="0.93" fill="#35c4e8"/>
<rect x="615.27" y="800.93" width="1.04" height="1.38" fill="#35c4e8"/>
<rect x="615.87" y="799.53" width="1.06" height="0.82" fill="#2a8fd6"/>
<rect x="594.13" y="767.38" width="1.07" height="1.36" fill="#3bbbe6"/>
<rect x="592.99" y="768.83" width="1.06" height="0.79" fill="#35c4e8"/>
<rect x="593.1" y="767.4" width="1.45" height="1.02" fill="#35c4e8"/>
<rect x="592.48" y="769.12" width="1.6" height="0.79" fill="#35c4e8"/>
<rect x="594.06" y="769.17" width="0.74" height="1.09" fill="#9ee070"/>
<rect x="593.63" y="768.75" width="1.62" height="1.13" fill="#2a8fd6"/>
<rect x="579.61" y="783.1" width="1.22" height="1.08" fill="#42cbe6"/>
<rect x="577.82" y="784.75" width="0.98" height="1.19" fill="#35c4e8"/>
<rect x="578.66" y="783.34" width="1.49" height="1.27" fill="#5ad6e0"/>
<rect x="583.64" y="788.54" width="0.84" height="1.05" fill="#35c4e8"/>
<rect x="582.16" y="790.82" width="1.29" height="0.73" fill="#35c4e8"/>
<rect x="582.23" y="789.48" width="1.25" height="1.16" fill="#5ad6e0"/>
<rect x="620.46" y="781.78" width="0.7" height="0.76" fill="#42cbe6"/>
<rect x="604.04" y="805.69" width="1.03" height="1.26" fill="#35c4e8"/>
<rect x="604.2" y="807.43" width="1.66" height="0.71" fill="#35c4e8"/>
<rect x="604.2" y="807.06" width="1.15" height="1.23" fill="#42cbe6"/>
<rect x="579.63" y="777.99" width="0.95" height="0.81" fill="#35c4e8"/>
<rect x="578.36" y="777.59" width="1.1" height="1.39" fill="#5ad6e0"/>
<rect x="590.46" y="798.43" width="1.33" height="1.08" fill="#2fb2e2"/>
<rect x="591.5" y="796.72" width="1.69" height="1.23" fill="#42cbe6"/>
<rect x="639.51" y="769.55" width="1.18" height="1.18" fill="#35c4e8"/>
<rect x="641.04" y="769.07" width="0.7" height="1.02" fill="#5ad6e0"/>
<rect x="638.36" y="768.2" width="0.9" height="1.35" fill="#3bbbe6"/>
<rect x="638.75" y="768.53" width="1.42" height="0.97" fill="#3bbbe6"/>
<rect x="640.95" y="768.53" width="1.1" height="0.74" fill="#35c4e8"/>
<rect x="641.31" y="769.06" width="1.15" height="1.25" fill="#2a8fd6"/>
<rect x="591.17" y="798.77" width="0.74" height="0.81" fill="#5ad6e0"/>
<rect x="590.84" y="797.95" width="0.76" height="0.76" fill="#35c4e8"/>
<rect x="589.89" y="799.16" width="1.09" height="1.01" fill="#35c4e8"/>
<rect x="589.91" y="799.17" width="0.81" height="1.23" fill="#35c4e8"/>
<rect x="589.93" y="798.32" width="0.94" height="0.73" fill="#5ad6e0"/>
<rect x="614.9" y="769.37" width="1.03" height="0.9" fill="#2a8fd6"/>
<rect x="616.29" y="772.09" width="1.23" height="0.81" fill="#35c4e8"/>
<rect x="613.64" y="769.63" width="1" height="0.76" fill="#35c4e8"/>
<rect x="597.96" y="766.29" width="1.13" height="1.29" fill="#5ad6e0"/>
<rect x="598.3" y="767.82" width="1.52" height="0.75" fill="#42cbe6"/>
<rect x="599.97" y="766.33" width="0.72" height="1.27" fill="#35c4e8"/>
<rect x="613.65" y="772.12" width="1.39" height="1.49" fill="#2fb2e2"/>
<rect x="612.25" y="773.49" width="1.26" height="0.83" fill="#3bbbe6"/>
<rect x="610.97" y="774.19" width="0.74" height="0.84" fill="#3bbbe6"/>
<rect x="611.08" y="802.89" width="1.06" height="0.84" fill="#2fb2e2"/>
<rect x="610.95" y="770.95" width="0.86" height="0.8" fill="#35c4e8"/>
<rect x="611.02" y="772.63" width="1.23" height="0.91" fill="#35c4e8"/>
<rect x="612.22" y="770.72" width="0.84" height="0.94" fill="#35c4e8"/>
<rect x="578.38" y="785.24" width="1.06" height="1.42" fill="#35c4e8"/>
<rect x="580.48" y="784.42" width="1.37" height="0.97" fill="#35c4e8"/>
<rect x="578.73" y="783.96" width="1.48" height="1.48" fill="#5ad6e0"/>
<rect x="579.07" y="785.17" width="0.74" height="0.7" fill="#2a8fd6"/>
<rect x="580.78" y="784.82" width="1.25" height="0.95" fill="#2a8fd6"/>
<rect x="579.87" y="784.47" width="1" height="0.87" fill="#35c4e8"/>
<rect x="608.65" y="781.64" width="1.16" height="1.21" fill="#2a8fd6"/>
<rect x="609.08" y="781.81" width="1.31" height="1.31" fill="#3bbbe6"/>
<rect x="607.49" y="782.89" width="1.2" height="1.33" fill="#5ad6e0"/>
<rect x="608.68" y="781.34" width="0.99" height="1.1" fill="#5ad6e0"/>
<rect x="608.46" y="781.94" width="1.01" height="1.11" fill="#5ad6e0"/>
<rect x="607.69" y="781.36" width="0.74" height="1.15" fill="#42cbe6"/>
<rect x="611.67" y="763.32" width="1.27" height="1.33" fill="#42cbe6"/>
<rect x="612.63" y="765.11" width="1.03" height="1.07" fill="#35c4e8"/>
<rect x="612.52" y="764.43" width="0.95" height="0.98" fill="#5ad6e0"/>
<rect x="610.72" y="764.61" width="0.75" height="0.84" fill="#35c4e8"/>
<rect x="611.16" y="764.67" width="0.8" height="0.76" fill="#3bbbe6"/>
<rect x="631.32" y="788.43" width="0.8" height="1.02" fill="#35c4e8"/>
<rect x="633.45" y="788.05" width="0.84" height="1.33" fill="#35c4e8"/>
<rect x="631.82" y="788.47" width="1.48" height="1.37" fill="#2a8fd6"/>
<rect x="632.91" y="789.88" width="0.73" height="0.95" fill="#5ad6e0"/>
<rect x="633.02" y="788.99" width="1.24" height="0.97" fill="#35c4e8"/>
<rect x="624.51" y="791.71" width="1.13" height="0.83" fill="#2a8fd6"/>
<rect x="592.51" y="801.33" width="1.14" height="1.1" fill="#5ad6e0"/>
<rect x="590.71" y="801.01" width="0.84" height="1.5" fill="#5ad6e0"/>
<rect x="592.29" y="801.83" width="0.81" height="1.07" fill="#5ad6e0"/>
<rect x="590.5" y="801.33" width="0.89" height="1.22" fill="#2a8fd6"/>
<rect x="592.76" y="801.04" width="0.89" height="1.06" fill="#42cbe6"/>
<rect x="591.44" y="802.75" width="1.51" height="0.79" fill="#42cbe6"/>
<rect x="648.19" y="787.56" width="0.95" height="1.18" fill="#2a8fd6"/>
<rect x="610.46" y="780.15" width="1.52" height="0.9" fill="#35c4e8"/>
<rect x="612.1" y="779.34" width="1.42" height="0.89" fill="#35c4e8"/>
<rect x="611.31" y="779.47" width="1.4" height="1.33" fill="#5ad6e0"/>
<rect x="612.25" y="778.84" width="1.24" height="1.48" fill="#3bbbe6"/>
<rect x="612.53" y="778.86" width="1.29" height="1.13" fill="#35c4e8"/>
<rect x="589.18" y="778" width="1.48" height="1.26" fill="#3bbbe6"/>
<rect x="588.38" y="778.13" width="0.9" height="1.25" fill="#35c4e8"/>
<rect x="646.34" y="776.96" width="1.35" height="1.34" fill="#2fb2e2"/>
<rect x="646.8" y="779.06" width="0.98" height="0.81" fill="#3bbbe6"/>
<rect x="590.69" y="800.35" width="1.32" height="0.95" fill="#2a8fd6"/>
<rect x="616.11" y="782.76" width="1.69" height="1" fill="#5ad6e0"/>
<rect x="614.92" y="782.39" width="1.25" height="1.36" fill="#42cbe6"/>
<rect x="615.38" y="783.72" width="0.92" height="0.75" fill="#2fb2e2"/>
<rect x="615.95" y="783.42" width="1.23" height="0.86" fill="#2fb2e2"/>
<rect x="613.65" y="783.56" width="1.14" height="1.03" fill="#35c4e8"/>
<rect x="613.86" y="781.45" width="1.56" height="0.94" fill="#2a8fd6"/>
<rect x="632.7" y="770.62" width="1.48" height="1.14" fill="#2a8fd6"/>
<rect x="632.69" y="771.33" width="0.83" height="1.2" fill="#42cbe6"/>
<rect x="633.03" y="771.72" width="1.66" height="1.34" fill="#35c4e8"/>
<rect x="633.58" y="771.94" width="1.35" height="0.83" fill="#5ad6e0"/>
<rect x="603.32" y="771.22" width="1.65" height="0.87" fill="#2a8fd6"/>
<rect x="603.28" y="770.92" width="1.18" height="1.4" fill="#35c4e8"/>
<rect x="603.11" y="770.86" width="1.09" height="0.83" fill="#2a8fd6"/>
<rect x="603.31" y="769.4" width="1.27" height="1.33" fill="#2a8fd6"/>
<rect x="631.79" y="768.19" width="1.07" height="0.96" fill="#35c4e8"/>
<rect x="613.42" y="787.53" width="1.06" height="1.06" fill="#5ad6e0"/>
<rect x="611.51" y="787.03" width="0.76" height="1.27" fill="#2fb2e2"/>
<rect x="612" y="786.66" width="0.78" height="1.4" fill="#5ad6e0"/>
<rect x="612.38" y="786.97" width="1.25" height="1.07" fill="#35c4e8"/>
<rect x="633.3" y="784.82" width="1.09" height="1.25" fill="#35c4e8"/>
<rect x="632.55" y="783.76" width="1.02" height="1.05" fill="#35c4e8"/>
<rect x="634.67" y="783.2" width="1.61" height="0.92" fill="#35c4e8"/>
<rect x="634.1" y="784.48" width="1.45" height="1.44" fill="#35c4e8"/>
<rect x="633.43" y="785.1" width="1.26" height="1.15" fill="#5ad6e0"/>
<rect x="632.71" y="784.11" width="1.39" height="0.94" fill="#2a8fd6"/>
<rect x="625.62" y="782.3" width="1.23" height="1.29" fill="#2a8fd6"/>
<rect x="633.93" y="787.82" width="1.45" height="1.03" fill="#3bbbe6"/>
<rect x="633.09" y="786.32" width="1.56" height="1.02" fill="#35c4e8"/>
<rect x="633.39" y="786.46" width="1.27" height="0.74" fill="#35c4e8"/>
<rect x="614.42" y="779.35" width="1.39" height="0.87" fill="#35c4e8"/>
<rect x="612.07" y="791.1" width="1.14" height="0.85" fill="#2a8fd6"/>
<rect x="612.01" y="790.45" width="0.83" height="0.84" fill="#35c4e8"/>
<rect x="612.41" y="790.12" width="1.12" height="1.07" fill="#35c4e8"/>
<rect x="610.78" y="791.67" width="1.61" height="1.07" fill="#2a8fd6"/>
<rect x="590.64" y="787.76" width="1.21" height="1.27" fill="#3bbbe6"/>
<rect x="589.44" y="786.07" width="1.65" height="1.31" fill="#2fb2e2"/>
<rect x="588.75" y="786.45" width="1.24" height="0.71" fill="#2a8fd6"/>
<rect x="590.48" y="787.14" width="0.83" height="1.37" fill="#42cbe6"/>
<rect x="589.41" y="785.77" width="1.34" height="1.5" fill="#35c4e8"/>
<rect x="590.77" y="788.01" width="0.78" height="1.37" fill="#35c4e8"/>
<rect x="630.24" y="803.48" width="0.79" height="1.4" fill="#2fb2e2"/>
<rect x="631.21" y="802.43" width="0.93" height="1.5" fill="#42cbe6"/>
<rect x="631.58" y="802.45" width="1.28" height="1.03" fill="#2a8fd6"/>
<rect x="629.1" y="772.48" width="1.54" height="1.1" fill="#2a8fd6"/>
<rect x="626.82" y="771.74" width="1.41" height="1.03" fill="#2fb2e2"/>
<rect x="594.35" y="763.76" width="1.51" height="0.77" fill="#5ad6e0"/>
<rect x="594.54" y="761.8" width="0.93" height="1.47" fill="#2a8fd6"/>
<rect x="593.63" y="761.84" width="1.53" height="1.31" fill="#2fb2e2"/>
<rect x="609.41" y="783.79" width="1.01" height="1.07" fill="#35c4e8"/>
<rect x="609.8" y="781.99" width="1.63" height="1.45" fill="#42cbe6"/>
<rect x="598.42" y="805.36" width="1.08" height="0.89" fill="#2fb2e2"/>
<rect x="599.07" y="804.54" width="0.71" height="1.31" fill="#35c4e8"/>
<rect x="596.91" y="806.68" width="1.26" height="1.37" fill="#35c4e8"/>
<rect x="623.55" y="768.33" width="0.98" height="1.25" fill="#35c4e8"/>
<rect x="621.73" y="769.54" width="0.71" height="1.35" fill="#3bbbe6"/>
<rect x="621.43" y="768.53" width="0.81" height="1.16" fill="#2fb2e2"/>
<rect x="622.91" y="769.69" width="1" height="1.3" fill="#5ad6e0"/>
<rect x="623.89" y="769.22" width="1.63" height="1.12" fill="#2a8fd6"/>
<rect x="590.12" y="790.73" width="0.78" height="1.09" fill="#35c4e8"/>
<rect x="590.55" y="789.82" width="1.28" height="0.86" fill="#35c4e8"/>
<rect x="590.78" y="791.4" width="1.64" height="0.93" fill="#42cbe6"/>
<rect x="592.53" y="790.09" width="1.15" height="1.18" fill="#42cbe6"/>
<rect x="591.01" y="790.91" width="1.11" height="1.25" fill="#42cbe6"/>
<rect x="618.55" y="799.05" width="1.01" height="1.16" fill="#2a8fd6"/>
<rect x="621.93" y="806.12" width="1.55" height="0.75" fill="#5ad6e0"/>
<rect x="622.22" y="806.77" width="1.6" height="1.45" fill="#9ee070"/>
<rect x="621.93" y="806.24" width="1.31" height="1.14" fill="#35c4e8"/>
<rect x="620.89" y="806.78" width="1.15" height="1.03" fill="#35c4e8"/>
<rect x="620.23" y="806.92" width="1.17" height="1.18" fill="#42cbe6"/>
<rect x="621.97" y="807.58" width="1.12" height="1.06" fill="#2a8fd6"/>
<rect x="635.32" y="769.88" width="1.7" height="0.84" fill="#2fb2e2"/>
<rect x="621.66" y="787.45" width="1.57" height="1.19" fill="#9ee070"/>
<rect x="621.6" y="785.18" width="1.1" height="1.2" fill="#2fb2e2"/>
<rect x="624.42" y="786.03" width="1.31" height="1.09" fill="#3bbbe6"/>
<rect x="622.25" y="785.6" width="0.87" height="0.78" fill="#42cbe6"/>
<rect x="624.57" y="785.21" width="0.97" height="1.48" fill="#35c4e8"/>
<rect x="624.59" y="787.63" width="1.04" height="1.22" fill="#2a8fd6"/>
<rect x="604.81" y="760.6" width="1.41" height="1.14" fill="#35c4e8"/>
<rect x="604.02" y="762.96" width="1.69" height="1.48" fill="#2a8fd6"/>
<rect x="605.82" y="762.67" width="1" height="1.09" fill="#35c4e8"/>
<rect x="606.23" y="760.29" width="1.55" height="0.96" fill="#5ad6e0"/>
<rect x="606.58" y="778.7" width="0.89" height="1.15" fill="#2fb2e2"/>
<rect x="608.36" y="778.8" width="1.42" height="1.09" fill="#3bbbe6"/>
<rect x="606.82" y="780.67" width="1.15" height="0.71" fill="#2fb2e2"/>
<rect x="606.27" y="778.96" width="1.04" height="1.3" fill="#42cbe6"/>
<rect x="579.18" y="797.26" width="1.16" height="0.97" fill="#5ad6e0"/>
<rect x="578.14" y="796.85" width="1.33" height="1.45" fill="#3bbbe6"/>
<rect x="618.12" y="807.39" width="1.52" height="0.87" fill="#5ad6e0"/>
<rect x="617.04" y="809.63" width="1.19" height="1.27" fill="#3bbbe6"/>
<rect x="616.28" y="808.26" width="1.68" height="1.32" fill="#35c4e8"/>
<rect x="616.23" y="808.03" width="0.83" height="1.41" fill="#35c4e8"/>
<rect x="618.84" y="809.63" width="1.06" height="1.4" fill="#35c4e8"/>
<rect x="632.89" y="799.78" width="1.25" height="0.72" fill="#2fb2e2"/>
<rect x="618.34" y="803.46" width="1.05" height="0.71" fill="#35c4e8"/>
<rect x="617.16" y="804.15" width="0.93" height="1.32" fill="#42cbe6"/>
<rect x="617.49" y="803.92" width="1.7" height="1.44" fill="#42cbe6"/>
<rect x="618.54" y="803.55" width="1.13" height="1.2" fill="#35c4e8"/>
<rect x="635.69" y="781.27" width="1.15" height="0.71" fill="#35c4e8"/>
<rect x="637.96" y="781.35" width="1.08" height="1.02" fill="#42cbe6"/>
<rect x="637.44" y="779.94" width="1.64" height="0.88" fill="#42cbe6"/>
<rect x="637.83" y="781.75" width="0.73" height="1.47" fill="#35c4e8"/>
<rect x="637.29" y="780.34" width="0.98" height="1.44" fill="#35c4e8"/>
<rect x="629.86" y="778.02" width="1.59" height="1.29" fill="#5ad6e0"/>
<rect x="628.42" y="776.29" width="1.68" height="1.36" fill="#5ad6e0"/>
<rect x="628.25" y="777.15" width="1.53" height="1.24" fill="#2fb2e2"/>
<rect x="629.9" y="777.81" width="1.25" height="0.73" fill="#2a8fd6"/>
<rect x="627.71" y="776.36" width="1.65" height="1.33" fill="#2fb2e2"/>
<rect x="603.28" y="793.88" width="1.09" height="1.38" fill="#5ad6e0"/>
<rect x="600.73" y="793.81" width="1.66" height="1.17" fill="#2a8fd6"/>
<rect x="601.3" y="792.69" width="1.26" height="1" fill="#2a8fd6"/>
<rect x="647.89" y="780.02" width="1.63" height="0.97" fill="#35c4e8"/>
<rect x="645.55" y="779.77" width="1.68" height="1.14" fill="#3bbbe6"/>
<rect x="648.3" y="781.3" width="0.74" height="0.97" fill="#2a8fd6"/>
<rect x="647.34" y="779.27" width="1.19" height="1.48" fill="#5ad6e0"/>
<rect x="645.73" y="779.5" width="0.87" height="0.82" fill="#3bbbe6"/>
<rect x="646.24" y="780.82" width="0.77" height="1.01" fill="#35c4e8"/>
<rect x="595.74" y="794.42" width="1.65" height="0.99" fill="#5ad6e0"/>
<rect x="596.4" y="795.8" width="1.37" height="0.91" fill="#35c4e8"/>
<rect x="596.01" y="795.58" width="1.17" height="0.74" fill="#3bbbe6"/>
<rect x="596.14" y="795.33" width="0.82" height="1.14" fill="#2a8fd6"/>
<rect x="593.98" y="796.05" width="1.25" height="1.14" fill="#2a8fd6"/>
<rect x="595.09" y="795.86" width="1.39" height="0.9" fill="#5ad6e0"/>
<rect x="636.28" y="794.36" width="0.99" height="0.82" fill="#35c4e8"/>
<rect x="637.35" y="795.46" width="1.04" height="0.72" fill="#2a8fd6"/>
<rect x="637.48" y="794.78" width="1.02" height="1.03" fill="#2a8fd6"/>
<rect x="587.16" y="774.59" width="0.91" height="1.19" fill="#35c4e8"/>
<rect x="585.28" y="773.79" width="1.44" height="1.38" fill="#5ad6e0"/>
<rect x="586.31" y="772.65" width="1.02" height="1" fill="#2fb2e2"/>
<rect x="585.81" y="773.32" width="1.46" height="0.9" fill="#5ad6e0"/>
<rect x="585.89" y="772.79" width="0.92" height="1.36" fill="#2a8fd6"/>
<rect x="606.29" y="808.24" width="1.19" height="1.24" fill="#2a8fd6"/>
<rect x="606.79" y="806.33" width="0.85" height="0.92" fill="#2a8fd6"/>
<rect x="607.88" y="806.46" width="0.83" height="0.94" fill="#5ad6e0"/>
<rect x="608.6" y="807.82" width="0.86" height="1.18" fill="#3bbbe6"/>
<rect x="608.52" y="808.41" width="1.54" height="1.21" fill="#3bbbe6"/>
<rect x="588.52" y="802.75" width="1.22" height="1.02" fill="#2a8fd6"/>
<rect x="587.34" y="801.53" width="0.72" height="0.97" fill="#35c4e8"/>
<rect x="588.79" y="801.84" width="1.15" height="1.06" fill="#3bbbe6"/>
<rect x="586.17" y="803.41" width="1.27" height="1.17" fill="#42cbe6"/>
<rect x="638.19" y="777.31" width="0.95" height="1.21" fill="#2fb2e2"/>
<rect x="638.94" y="777.28" width="1.21" height="1.46" fill="#42cbe6"/>
<rect x="639.58" y="777.88" width="0.86" height="0.79" fill="#35c4e8"/>
<rect x="596.56" y="779.1" width="1.13" height="1.11" fill="#5ad6e0"/>
<rect x="595.57" y="777.97" width="1.64" height="1.34" fill="#2a8fd6"/>
<rect x="595.84" y="778.01" width="0.79" height="1.42" fill="#3bbbe6"/>
<rect x="596.36" y="779.02" width="1.65" height="0.91" fill="#2fb2e2"/>
<rect x="595.9" y="779.81" width="1.13" height="0.92" fill="#3bbbe6"/>
<rect x="597.79" y="779.74" width="1.47" height="0.76" fill="#2a8fd6"/>
<rect x="643.74" y="781.94" width="0.9" height="1.3" fill="#3bbbe6"/>
<rect x="644.09" y="781.82" width="1.61" height="1.39" fill="#5ad6e0"/>
<rect x="644.68" y="782.26" width="0.85" height="1.24" fill="#35c4e8"/>
<rect x="642.15" y="781.83" width="0.98" height="0.7" fill="#35c4e8"/>
<rect x="644.45" y="780.54" width="1.42" height="0.88" fill="#35c4e8"/>
<rect x="642.18" y="780.55" width="1.46" height="1.02" fill="#5ad6e0"/>
<rect x="593.65" y="803.44" width="0.83" height="1.25" fill="#35c4e8"/>
<rect x="590.87" y="803.15" width="0.84" height="1.29" fill="#35c4e8"/>
<rect x="590.52" y="802.48" width="1.32" height="1.43" fill="#42cbe6"/>
<rect x="592.12" y="803.77" width="1.09" height="0.85" fill="#35c4e8"/>
<rect x="638.19" y="772.4" width="1.06" height="0.92" fill="#3bbbe6"/>
<rect x="640.57" y="773.57" width="1.3" height="0.73" fill="#3bbbe6"/>
<rect x="641.29" y="774.08" width="1.17" height="1.41" fill="#2a8fd6"/>
<rect x="583.67" y="799.36" width="0.73" height="0.94" fill="#2a8fd6"/>
<rect x="583.97" y="798.08" width="0.82" height="1.12" fill="#3bbbe6"/>
<rect x="584" y="798.45" width="0.72" height="1.16" fill="#35c4e8"/>
<rect x="647.07" y="787.89" width="1.51" height="0.84" fill="#3bbbe6"/>
<rect x="647.07" y="787.04" width="1.63" height="1.24" fill="#35c4e8"/>
<rect x="647.12" y="786.82" width="0.95" height="0.84" fill="#5ad6e0"/>
<rect x="648.32" y="788.03" width="1.64" height="0.95" fill="#42cbe6"/>
<rect x="645.35" y="788.47" width="0.94" height="0.94" fill="#42cbe6"/>
<rect x="646.38" y="788" width="1.08" height="1.34" fill="#2fb2e2"/>
<rect x="632.92" y="783.5" width="1.45" height="0.83" fill="#2a8fd6"/>
<rect x="631.83" y="783.57" width="1.48" height="1.41" fill="#5ad6e0"/>
<rect x="632.17" y="784.93" width="1.59" height="1.18" fill="#2fb2e2"/>
<rect x="631.92" y="784.49" width="1.51" height="1.11" fill="#2a8fd6"/>
<rect x="631.1" y="783.21" width="0.72" height="1.22" fill="#2a8fd6"/>
<rect x="630.03" y="786.09" width="1.08" height="1.13" fill="#42cbe6"/>
<rect x="628.08" y="787.49" width="0.73" height="1.02" fill="#42cbe6"/>
<rect x="627.64" y="787.45" width="0.85" height="0.87" fill="#35c4e8"/>
<rect x="630.23" y="786.07" width="1.47" height="0.95" fill="#2fb2e2"/>
<rect x="608.39" y="778.96" width="0.85" height="0.9" fill="#2a8fd6"/>
<rect x="604.98" y="769.71" width="0.79" height="0.89" fill="#35c4e8"/>
<rect x="584.88" y="772.86" width="0.97" height="1.14" fill="#35c4e8"/>
<rect x="585.36" y="771.85" width="0.84" height="1.2" fill="#2fb2e2"/>
<rect x="587.28" y="772.61" width="1.59" height="0.73" fill="#35c4e8"/>
<rect x="586.06" y="772.39" width="1.58" height="0.75" fill="#35c4e8"/>
<rect x="585.66" y="772.73" width="1.42" height="0.72" fill="#35c4e8"/>
<rect x="586.9" y="771.14" width="1.29" height="1.19" fill="#42cbe6"/>
<rect x="618.98" y="774.47" width="0.74" height="1.35" fill="#2a8fd6"/>
<rect x="618.29" y="774.88" width="0.91" height="0.71" fill="#3bbbe6"/>
<rect x="586.63" y="802.06" width="1.25" height="1.18" fill="#2fb2e2"/>
<rect x="585.83" y="800.98" width="1.29" height="0.9" fill="#35c4e8"/>
<rect x="588.53" y="771.98" width="1.21" height="0.78" fill="#35c4e8"/>
<rect x="611.92" y="783.25" width="1.23" height="1.23" fill="#35c4e8"/>
<rect x="612.56" y="780.83" width="0.86" height="0.72" fill="#2fb2e2"/>
<rect x="611.45" y="782.82" width="0.74" height="1.34" fill="#5ad6e0"/>
<rect x="612.59" y="781.75" width="0.9" height="0.76" fill="#42cbe6"/>
<rect x="580.49" y="773.87" width="1.43" height="1.32" fill="#3bbbe6"/>
<rect x="578.77" y="775.96" width="0.89" height="0.91" fill="#5ad6e0"/>
<rect x="579.76" y="775.27" width="1.09" height="0.86" fill="#3bbbe6"/>
<rect x="580.64" y="773.71" width="1.09" height="0.7" fill="#2fb2e2"/>
<rect x="580.43" y="775.01" width="1.55" height="1.44" fill="#35c4e8"/>
<rect x="579.2" y="774.06" width="1.62" height="0.76" fill="#5ad6e0"/>
<rect x="626.29" y="771.22" width="1.67" height="1.09" fill="#5ad6e0"/>
<rect x="625.15" y="768.89" width="1.34" height="1.26" fill="#3bbbe6"/>
<rect x="624.38" y="769.97" width="0.73" height="1.04" fill="#5ad6e0"/>
<rect x="625.03" y="770.58" width="1.67" height="0.72" fill="#42cbe6"/>
<rect x="623.74" y="768.47" width="1.45" height="1.03" fill="#42cbe6"/>
<rect x="625.65" y="770.99" width="1.16" height="0.87" fill="#2fb2e2"/>
<rect x="641.35" y="795.32" width="0.94" height="1.38" fill="#2a8fd6"/>
<rect x="640.48" y="793.49" width="1.65" height="0.93" fill="#2fb2e2"/>
<rect x="640.12" y="794.17" width="1.47" height="0.77" fill="#5ad6e0"/>
<rect x="639.79" y="793.4" width="1.1" height="1.4" fill="#2a8fd6"/>
<rect x="639.84" y="793.52" width="0.94" height="0.82" fill="#5ad6e0"/>
<rect x="594.73" y="770.17" width="1.52" height="1.36" fill="#2fb2e2"/>
<rect x="595.62" y="769.79" width="1.2" height="1.01" fill="#5ad6e0"/>
<rect x="593.56" y="769.38" width="1.34" height="0.85" fill="#2a8fd6"/>
<rect x="594.37" y="770.54" width="1.68" height="0.74" fill="#3bbbe6"/>
<rect x="595.11" y="769.72" width="1.27" height="0.91" fill="#35c4e8"/>
<rect x="595.05" y="769.15" width="1.06" height="1.21" fill="#5ad6e0"/>
<rect x="641.53" y="793.13" width="1.31" height="1.44" fill="#2a8fd6"/>
<rect x="643.4" y="794.74" width="1.4" height="0.98" fill="#5ad6e0"/>
<rect x="643.46" y="794.66" width="0.92" height="1.34" fill="#2a8fd6"/>
<rect x="641.07" y="795.01" width="1.39" height="1.09" fill="#3bbbe6"/>
<rect x="642.58" y="793.52" width="1.37" height="1.13" fill="#35c4e8"/>
<rect x="647.44" y="786.31" width="1.06" height="1.45" fill="#2a8fd6"/>
<rect x="649.31" y="788.08" width="1.55" height="0.75" fill="#3bbbe6"/>
<rect x="647.25" y="786.79" width="1.1" height="0.81" fill="#35c4e8"/>
<rect x="647.36" y="788.05" width="1.62" height="1.39" fill="#9ee070"/>
<rect x="648.71" y="785.8" width="1.17" height="1.34" fill="#2a8fd6"/>
<rect x="649.58" y="787.99" width="1.59" height="0.99" fill="#35c4e8"/>
<rect x="589.84" y="781.49" width="1.59" height="1.46" fill="#3bbbe6"/>
<rect x="588.81" y="782.58" width="1.28" height="1.26" fill="#42cbe6"/>
<rect x="583.77" y="786.04" width="0.76" height="1.24" fill="#35c4e8"/>
<rect x="584.45" y="784.75" width="1.31" height="1.29" fill="#3bbbe6"/>
<rect x="582.37" y="785.81" width="1.09" height="1.49" fill="#2fb2e2"/>
<rect x="637.29" y="788.4" width="1.52" height="0.87" fill="#5ad6e0"/>
<rect x="636.22" y="788.38" width="0.95" height="0.76" fill="#35c4e8"/>
<rect x="638.04" y="789.04" width="1.53" height="1.35" fill="#5ad6e0"/>
<rect x="637.15" y="790.78" width="0.86" height="1.27" fill="#3bbbe6"/>
<rect x="637.8" y="779.22" width="0.98" height="1.49" fill="#35c4e8"/>
<rect x="638.41" y="779.71" width="1.36" height="0.95" fill="#5ad6e0"/>
<rect x="638.6" y="780.77" width="1.09" height="0.72" fill="#3bbbe6"/>
<rect x="605.48" y="803.69" width="1.6" height="0.7" fill="#2a8fd6"/>
<rect x="604.77" y="802.77" width="1.12" height="0.83" fill="#5ad6e0"/>
<rect x="606.59" y="803.63" width="0.81" height="0.93" fill="#35c4e8"/>
<rect x="607.21" y="803.67" width="1.21" height="1.13" fill="#35c4e8"/>
<rect x="606.72" y="802.38" width="0.71" height="0.94" fill="#3bbbe6"/>
<rect x="625.52" y="787.39" width="1.44" height="0.76" fill="#5ad6e0"/>
<rect x="623.86" y="787.32" width="1.39" height="0.95" fill="#2fb2e2"/>
<rect x="625.43" y="787.97" width="0.93" height="0.96" fill="#2a8fd6"/>
<rect x="624.14" y="787.97" width="1.6" height="0.78" fill="#2fb2e2"/>
<rect x="624.34" y="787.62" width="1.32" height="1.41" fill="#2fb2e2"/>
<rect x="619.02" y="789.29" width="1.34" height="0.78" fill="#2a8fd6"/>
<rect x="620.69" y="795.25" width="1.06" height="1.05" fill="#2a8fd6"/>
<rect x="622.18" y="795.66" width="1.02" height="1.14" fill="#9ee070"/>
<rect x="622.71" y="796.1" width="0.84" height="1.02" fill="#2a8fd6"/>
<rect x="622.7" y="796.42" width="1.3" height="0.83" fill="#35c4e8"/>
<rect x="620.76" y="796.26" width="0.98" height="1.41" fill="#35c4e8"/>
<rect x="588.82" y="784.83" width="0.97" height="0.83" fill="#35c4e8"/>
<rect x="589.84" y="785.05" width="0.82" height="1.25" fill="#35c4e8"/>
<rect x="589.96" y="785.78" width="0.76" height="1.1" fill="#3bbbe6"/>
<rect x="588.81" y="785.83" width="1.45" height="1.04" fill="#2a8fd6"/>
<rect x="587.92" y="785.64" width="1.64" height="1.43" fill="#2fb2e2"/>
<rect x="592.34" y="774.41" width="1.13" height="1.49" fill="#2fb2e2"/>
<rect x="591.95" y="774.59" width="0.99" height="0.76" fill="#3bbbe6"/>
<rect x="592.47" y="775.55" width="0.93" height="1.06" fill="#42cbe6"/>
<rect x="624.06" y="769.46" width="0.75" height="1.45" fill="#42cbe6"/>
<rect x="622.64" y="770.97" width="0.92" height="1.2" fill="#2fb2e2"/>
<rect x="623.38" y="770.29" width="1.53" height="1.32" fill="#5ad6e0"/>
<rect x="622.42" y="771.6" width="1.65" height="1.4" fill="#5ad6e0"/>
<rect x="621.01" y="769.64" width="1.1" height="0.91" fill="#35c4e8"/>
<rect x="589.72" y="781.76" width="1.02" height="0.77" fill="#35c4e8"/>
<rect x="587.53" y="780.74" width="1.51" height="1.36" fill="#35c4e8"/>
<rect x="588.45" y="780.72" width="1.54" height="0.72" fill="#2fb2e2"/>
<rect x="587.29" y="781.13" width="0.86" height="0.8" fill="#42cbe6"/>
<rect x="625.65" y="802.93" width="0.89" height="1.12" fill="#35c4e8"/>
<rect x="624.3" y="802.46" width="0.99" height="0.94" fill="#35c4e8"/>
<rect x="625.21" y="801.89" width="1.55" height="1.11" fill="#35c4e8"/>
<rect x="626.06" y="802.12" width="1" height="1.45" fill="#35c4e8"/>
<rect x="623.19" y="802.1" width="1.33" height="1.1" fill="#2a8fd6"/>
<rect x="607.85" y="770.45" width="1.64" height="0.85" fill="#3bbbe6"/>
<rect x="606.4" y="795.53" width="1.62" height="1.23" fill="#2fb2e2"/>
<rect x="607.05" y="794.34" width="0.94" height="1.02" fill="#42cbe6"/>
<rect x="605.53" y="793.83" width="0.8" height="1.27" fill="#35c4e8"/>
<rect x="608.65" y="770.23" width="1.05" height="1" fill="#5ad6e0"/>
<rect x="584.48" y="798.7" width="1.21" height="0.76" fill="#2a8fd6"/>
<rect x="581.97" y="798.4" width="0.92" height="1.14" fill="#9ee070"/>
<rect x="582.62" y="799.23" width="1.36" height="1.16" fill="#35c4e8"/>
<rect x="586.38" y="790.49" width="0.89" height="0.83" fill="#9ee070"/>
<rect x="585.73" y="792.11" width="0.76" height="0.82" fill="#2a8fd6"/>
<rect x="585.68" y="791.12" width="1.12" height="1.07" fill="#35c4e8"/>
<rect x="588.01" y="791.68" width="1.36" height="1.36" fill="#5ad6e0"/>
<rect x="591.25" y="785.55" width="1.55" height="0.77" fill="#35c4e8"/>
<rect x="591.2" y="786.54" width="0.71" height="1.44" fill="#35c4e8"/>
<rect x="591.46" y="785.26" width="1.23" height="1.05" fill="#2a8fd6"/>
<rect x="592" y="786.5" width="1.26" height="1.03" fill="#35c4e8"/>
<rect x="593.19" y="770.27" width="1.05" height="0.89" fill="#35c4e8"/>
<rect x="592.87" y="771.81" width="1.37" height="1.39" fill="#35c4e8"/>
<rect x="590.82" y="771.23" width="0.79" height="1.35" fill="#2a8fd6"/>
<rect x="591.49" y="769.77" width="1.36" height="0.74" fill="#35c4e8"/>
<rect x="590.77" y="770.36" width="1.44" height="1.21" fill="#2fb2e2"/>
<rect x="591.66" y="769.91" width="1.67" height="0.99" fill="#2a8fd6"/>
<rect x="603.51" y="772.98" width="1.48" height="1.4" fill="#42cbe6"/>
<rect x="612.51" y="799.02" width="1.36" height="1.12" fill="#35c4e8"/>
<rect x="612.54" y="799.36" width="1.68" height="0.77" fill="#2a8fd6"/>
<rect x="610.14" y="797.53" width="1.09" height="1.46" fill="#42cbe6"/>
<rect x="612.76" y="797.51" width="1.43" height="1.13" fill="#5ad6e0"/>
<rect x="612.55" y="797.88" width="1.49" height="1.02" fill="#35c4e8"/>
<rect x="611.5" y="799.16" width="1.11" height="1.27" fill="#3bbbe6"/>
<rect x="636.67" y="770.75" width="0.97" height="0.8" fill="#3bbbe6"/>
<rect x="611.75" y="781.49" width="1.27" height="1.23" fill="#35c4e8"/>
<rect x="611.04" y="781.38" width="1.42" height="0.83" fill="#2fb2e2"/>
<rect x="613.51" y="780.78" width="0.97" height="1.11" fill="#35c4e8"/>
<rect x="612.56" y="782.39" width="1.22" height="0.96" fill="#3bbbe6"/>
<rect x="614.06" y="780.52" width="1.25" height="1.47" fill="#2a8fd6"/>
<rect x="611" y="780.25" width="0.91" height="1.2" fill="#35c4e8"/>
<rect x="594.92" y="762.71" width="1.54" height="1.03" fill="#3bbbe6"/>
<rect x="595.77" y="762.08" width="1.6" height="0.83" fill="#2a8fd6"/>
<rect x="596.97" y="763.34" width="1.34" height="0.84" fill="#2fb2e2"/>
<rect x="597.19" y="764.61" width="1.1" height="1.2" fill="#2a8fd6"/>
<rect x="612.32" y="794.11" width="0.95" height="1.23" fill="#35c4e8"/>
<rect x="612.79" y="793.44" width="1.07" height="0.73" fill="#35c4e8"/>
<rect x="613.22" y="792.46" width="0.73" height="0.94" fill="#2a8fd6"/>
<rect x="588.7" y="784.75" width="0.87" height="0.98" fill="#35c4e8"/>
<rect x="591" y="786.78" width="0.83" height="0.92" fill="#35c4e8"/>
<rect x="596.54" y="772.05" width="1.19" height="0.99" fill="#5ad6e0"/>
<rect x="596.87" y="771.16" width="1.05" height="1.39" fill="#2a8fd6"/>
<rect x="595.43" y="771.05" width="1.56" height="0.93" fill="#2a8fd6"/>
<rect x="596.6" y="770.6" width="1.66" height="0.96" fill="#5ad6e0"/>
<rect x="588.84" y="794.76" width="0.82" height="1.18" fill="#3bbbe6"/>
<rect x="586.65" y="795.19" width="1.3" height="1.46" fill="#2a8fd6"/>
<rect x="588.24" y="795.5" width="1.1" height="1.29" fill="#2a8fd6"/>
<rect x="588.9" y="794.08" width="1.19" height="0.93" fill="#2a8fd6"/>
<rect x="586.76" y="793.39" width="1.21" height="0.96" fill="#9ee070"/>
<rect x="628.07" y="800.34" width="0.92" height="0.8" fill="#2a8fd6"/>
<rect x="626.72" y="798.26" width="1.63" height="1.17" fill="#42cbe6"/>
<rect x="628.33" y="799.33" width="0.87" height="0.96" fill="#35c4e8"/>
<rect x="625.36" y="800.12" width="1.34" height="1.22" fill="#9ee070"/>
<rect x="590.93" y="777.46" width="0.9" height="1.05" fill="#35c4e8"/>
<rect x="617.7" y="807.97" width="1.25" height="0.95" fill="#2a8fd6"/>
<rect x="618.34" y="809.05" width="0.74" height="0.84" fill="#3bbbe6"/>
<rect x="617.25" y="808.02" width="1.2" height="0.98" fill="#3bbbe6"/>
<rect x="618.2" y="808.09" width="1.33" height="1.34" fill="#2fb2e2"/>
<rect x="617.7" y="806.98" width="1.3" height="1.37" fill="#35c4e8"/>
<rect x="617.26" y="809.5" width="1.12" height="1.03" fill="#42cbe6"/>
<rect x="636.73" y="791.37" width="1.69" height="1.03" fill="#3bbbe6"/>
<rect x="638.44" y="791.76" width="1.64" height="1.1" fill="#2a8fd6"/>
<rect x="618.34" y="771.49" width="1.3" height="0.74" fill="#2a8fd6"/>
<rect x="618.6" y="770.12" width="1.2" height="1.24" fill="#5ad6e0"/>
<rect x="617.29" y="771.94" width="0.74" height="1.1" fill="#2a8fd6"/>
<rect x="619.19" y="770.65" width="1.32" height="1.39" fill="#35c4e8"/>
<rect x="619.9" y="763.82" width="0.77" height="1.24" fill="#5ad6e0"/>
<rect x="638.47" y="784.29" width="1.57" height="0.97" fill="#35c4e8"/>
<rect x="639.39" y="794.99" width="0.95" height="1" fill="#2a8fd6"/>
<rect x="643.94" y="793.4" width="1.14" height="0.97" fill="#42cbe6"/>
<rect x="633.03" y="776.86" width="0.91" height="0.81" fill="#42cbe6"/>
<rect x="634.26" y="776.16" width="1.42" height="1.38" fill="#2fb2e2"/>
<rect x="600.24" y="768.85" width="1.51" height="1.1" fill="#2fb2e2"/>
<rect x="600.2" y="770.15" width="0.72" height="1.11" fill="#42cbe6"/>
<rect x="617.1" y="793.73" width="1.3" height="1.36" fill="#2a8fd6"/>
<rect x="619.53" y="808.17" width="0.98" height="1.41" fill="#35c4e8"/>
<rect x="621.64" y="809.89" width="1.39" height="1.09" fill="#35c4e8"/>
<rect x="619.55" y="808.93" width="1.31" height="1.38" fill="#35c4e8"/>
<rect x="619.99" y="809.06" width="1.52" height="1.12" fill="#35c4e8"/>
<rect x="592.6" y="771.41" width="1.33" height="0.91" fill="#35c4e8"/>
<rect x="594.1" y="771.17" width="0.7" height="1.43" fill="#42cbe6"/>
<rect x="594.81" y="769.15" width="1.13" height="1.08" fill="#3bbbe6"/>
<rect x="619.1" y="767.79" width="1.5" height="1.41" fill="#3bbbe6"/>
<rect x="617.47" y="769.07" width="1.1" height="0.7" fill="#3bbbe6"/>
<rect x="617.48" y="770.41" width="0.81" height="0.71" fill="#35c4e8"/>
<rect x="618.43" y="770.4" width="0.8" height="1.42" fill="#35c4e8"/>
<rect x="629.19" y="800.19" width="1.27" height="1.15" fill="#35c4e8"/>
<rect x="627.28" y="800.28" width="0.84" height="1.22" fill="#35c4e8"/>
<rect x="627.39" y="798.54" width="1.41" height="1.35" fill="#35c4e8"/>
<rect x="627.89" y="801.08" width="1.09" height="1.2" fill="#2fb2e2"/>
<rect x="596.81" y="790.96" width="0.97" height="0.71" fill="#9ee070"/>
<rect x="596.1" y="790.61" width="1.39" height="0.96" fill="#35c4e8"/>
<rect x="598.22" y="792.31" width="1.61" height="1.43" fill="#42cbe6"/>
<rect x="596.44" y="790.52" width="1.27" height="1.4" fill="#35c4e8"/>
<rect x="598.01" y="790.65" width="0.86" height="0.96" fill="#9ee070"/>
<rect x="605.81" y="789.99" width="1.68" height="1.24" fill="#2a8fd6"/>
<rect x="610.1" y="761.97" width="1" height="1.17" fill="#35c4e8"/>
<rect x="607.86" y="761.2" width="1.45" height="1.45" fill="#35c4e8"/>
<rect x="617.35" y="769.47" width="0.97" height="0.9" fill="#3bbbe6"/>
<rect x="616.08" y="770.33" width="1.69" height="0.81" fill="#42cbe6"/>
<rect x="609.38" y="782.07" width="1.42" height="0.89" fill="#2fb2e2"/>
<rect x="608.7" y="782.62" width="1.05" height="1.02" fill="#2a8fd6"/>
<rect x="587.65" y="789.99" width="1.5" height="1.09" fill="#2a8fd6"/>
<rect x="585.9" y="789.83" width="1.36" height="0.84" fill="#35c4e8"/>
<rect x="608.36" y="798.58" width="1.14" height="0.93" fill="#42cbe6"/>
<rect x="609.14" y="799.2" width="1.05" height="1.13" fill="#3bbbe6"/>
<rect x="607.63" y="797.86" width="1.01" height="1.19" fill="#2a8fd6"/>
<rect x="608.15" y="799.32" width="0.85" height="0.73" fill="#35c4e8"/>
<rect x="638.21" y="779.78" width="1.34" height="1.27" fill="#35c4e8"/>
<rect x="639.12" y="781.82" width="1.51" height="1.04" fill="#2a8fd6"/>
<rect x="639.16" y="779.81" width="1.67" height="0.78" fill="#5ad6e0"/>
<rect x="637.88" y="780.77" width="1.57" height="0.83" fill="#5ad6e0"/>
<rect x="638.81" y="779.72" width="1.11" height="1.16" fill="#5ad6e0"/>
<rect x="623.91" y="801.25" width="1.6" height="1.27" fill="#2a8fd6"/>
<rect x="624.04" y="803.32" width="1.19" height="1.19" fill="#35c4e8"/>
<rect x="622.09" y="803.72" width="1.47" height="1.11" fill="#9ee070"/>
<rect x="622.04" y="802.35" width="0.93" height="0.76" fill="#42cbe6"/>
<rect x="622.95" y="801.41" width="1.13" height="0.76" fill="#2a8fd6"/>
<rect x="623.42" y="802.16" width="0.99" height="1.01" fill="#2a8fd6"/>
<rect x="601.77" y="804.71" width="1.59" height="0.92" fill="#3bbbe6"/>
<rect x="602.29" y="806.43" width="1.63" height="1.42" fill="#9ee070"/>
<rect x="603.17" y="806.84" width="1.26" height="1.33" fill="#2fb2e2"/>
<rect x="637.05" y="788.49" width="1.59" height="0.93" fill="#2a8fd6"/>
<rect x="636.52" y="787.06" width="1.08" height="0.81" fill="#5ad6e0"/>
<rect x="636.77" y="787.27" width="1.51" height="0.87" fill="#2a8fd6"/>
<rect x="637.22" y="789.43" width="1.47" height="1.16" fill="#35c4e8"/>
<rect x="638.41" y="768.47" width="0.99" height="0.71" fill="#35c4e8"/>
<rect x="638.27" y="767.96" width="0.71" height="0.83" fill="#35c4e8"/>
<rect x="640.9" y="767.64" width="1.14" height="1.14" fill="#35c4e8"/>
<rect x="639.29" y="767.34" width="1.69" height="0.97" fill="#3bbbe6"/>
<rect x="638.49" y="768.97" width="1.18" height="1.31" fill="#5ad6e0"/>
<rect x="638.37" y="768.04" width="1.56" height="0.87" fill="#35c4e8"/>
<rect x="622.2" y="808.41" width="0.72" height="1.1" fill="#3bbbe6"/>
<rect x="623.94" y="809.4" width="1.54" height="1.12" fill="#3bbbe6"/>
<rect x="625.02" y="807.03" width="0.99" height="0.93" fill="#2a8fd6"/>
<rect x="622.85" y="809.31" width="1.41" height="1.26" fill="#9ee070"/>
<rect x="622.94" y="809.46" width="0.92" height="1.4" fill="#35c4e8"/>
<rect x="622.36" y="807.41" width="0.83" height="0.82" fill="#42cbe6"/>
<rect x="605.96" y="778.78" width="0.75" height="0.82" fill="#9ee070"/>
<rect x="607.7" y="777.45" width="0.71" height="0.97" fill="#2a8fd6"/>
<rect x="606.99" y="777.26" width="1.41" height="0.96" fill="#5ad6e0"/>
<rect x="608.36" y="777.04" width="1.04" height="1.27" fill="#5ad6e0"/>
<rect x="608.13" y="777.72" width="1.33" height="1.37" fill="#35c4e8"/>
<rect x="593.54" y="780.11" width="1.32" height="1.09" fill="#35c4e8"/>
<rect x="631.42" y="779.64" width="1.41" height="0.97" fill="#42cbe6"/>
<rect x="634.46" y="780.38" width="0.79" height="1.49" fill="#5ad6e0"/>
<rect x="631.88" y="781.24" width="1.38" height="1.47" fill="#5ad6e0"/>
<rect x="632.7" y="779.01" width="1.15" height="1.07" fill="#2a8fd6"/>
<rect x="625.64" y="803.7" width="1.37" height="0.92" fill="#35c4e8"/>
<rect x="605.79" y="798.82" width="1.44" height="0.79" fill="#2fb2e2"/>
<rect x="591.2" y="771.58" width="1.63" height="0.74" fill="#2fb2e2"/>
<rect x="591.55" y="769.49" width="1.25" height="0.88" fill="#2a8fd6"/>
<rect x="598.66" y="785.59" width="1.57" height="1.01" fill="#35c4e8"/>
<rect x="597.14" y="785.62" width="0.89" height="1.38" fill="#35c4e8"/>
<rect x="598.77" y="785.4" width="0.88" height="1.11" fill="#42cbe6"/>
<rect x="597.5" y="786.5" width="1.66" height="1.03" fill="#2a8fd6"/>
<rect x="598.32" y="786.53" width="1.57" height="0.97" fill="#2a8fd6"/>
<rect x="598.03" y="785.02" width="0.74" height="0.98" fill="#35c4e8"/>
<rect x="599.05" y="775.86" width="1.64" height="1.26" fill="#35c4e8"/>
<rect x="597.72" y="777.08" width="1.07" height="0.7" fill="#42cbe6"/>
<rect x="597.37" y="775.22" width="1.53" height="1.22" fill="#2a8fd6"/>
<rect x="596.62" y="777.28" width="1.33" height="1.22" fill="#5ad6e0"/>
<rect x="619.86" y="808.68" width="0.84" height="1.38" fill="#2a8fd6"/>
<rect x="619.47" y="810.61" width="1.36" height="0.71" fill="#2a8fd6"/>
<rect x="617.86" y="810.75" width="1.39" height="1.04" fill="#2a8fd6"/>
<rect x="619.26" y="808.29" width="1.41" height="1.25" fill="#2fb2e2"/>
<rect x="618.69" y="809.71" width="0.78" height="1.18" fill="#42cbe6"/>
<rect x="620.14" y="810.08" width="1.25" height="1.24" fill="#2a8fd6"/>
</g>
<rect x="456.1" y="812.4" width="30.2" height="2.2" fill="url(#jet)"/>
<rect x="565.4" y="812.4" width="29.7" height="2.2" fill="url(#jet)"/>
<text x="528.4" y="683.2" font-size="7.3" fill="#222" stroke="#222" stroke-width="0.2">400μm</text>
<line x1="535.4" y1="686.5" x2="551.8" y2="686.5" stroke="#111" stroke-width="1.3"/>
<text x="639" y="683.7" font-size="7.3" fill="#222" stroke="#222" stroke-width="0.2">400μm</text>
<line x1="645.2" y1="686.8" x2="662" y2="686.8" stroke="#111" stroke-width="1.3"/>
<text x="527.2" y="758" font-size="7.3" fill="#fff" stroke="#fff" stroke-width="0.2">400μm</text>
<line x1="533.4" y1="760.6" x2="550.2" y2="760.6" stroke="#fff" stroke-width="1.3"/>
<text x="638" y="757.4" font-size="7.3" fill="#fff" stroke="#fff" stroke-width="0.2">400μm</text>
<line x1="644.6" y1="760.6" x2="661.6" y2="760.6" stroke="#fff" stroke-width="1.3"/>
<path d="M45.4 130.83h1.24v1.24h-1.24zM46.7 127.5h1.24v1.24h-1.24zM45.45 127.57h1.24v1.24h-1.24zM45.55 126.17h1.24v1.24h-1.24zM48.02 122.95h1.24v1.24h-1.24zM45.32 132.65h1.24v1.24h-1.24zM45.53 127.99h1.24v1.24h-1.24zM45.72 124.32h1.24v1.24h-1.24zM46.3 128.69h1.24v1.24h-1.24zM45.8 127.51h1.24v1.24h-1.24zM46.94 128.94h1.24v1.24h-1.24zM47.28 131.63h1.24v1.24h-1.24zM47.81 130.12h1.24v1.24h-1.24zM45.53 132.67h1.24v1.24h-1.24zM45.64 126.07h1.24v1.24h-1.24zM47.47 130.92h1.24v1.24h-1.24zM64.99 143.94h1.24v1.24h-1.24zM63.61 143.1h1.24v1.24h-1.24zM63.32 142.85h1.24v1.24h-1.24zM63.88 143.46h1.24v1.24h-1.24zM65.41 144.19h1.24v1.24h-1.24zM63.13 142.79h1.24v1.24h-1.24zM65.24 141.99h1.24v1.24h-1.24zM64.94 143.24h1.24v1.24h-1.24zM65.27 141.63h1.24v1.24h-1.24zM63.97 143.73h1.24v1.24h-1.24zM63.54 141.92h1.24v1.24h-1.24zM63.73 143.78h1.24v1.24h-1.24zM64.71 142.58h1.24v1.24h-1.24zM65.25 142.71h1.24v1.24h-1.24zM65.48 143.42h1.24v1.24h-1.24zM62.93 143.13h1.24v1.24h-1.24zM81.96 144.38h1.24v1.24h-1.24zM81.8 144.78h1.24v1.24h-1.24zM80.1 144.74h1.24v1.24h-1.24zM81.56 144.51h1.24v1.24h-1.24zM81.48 144.41h1.24v1.24h-1.24zM80.05 144.43h1.24v1.24h-1.24zM82.18 144.49h1.24v1.24h-1.24zM80.94 144.43h1.24v1.24h-1.24zM82.1 144.36h1.24v1.24h-1.24zM82.7 144.57h1.24v1.24h-1.24zM81.2 144.02h1.24v1.24h-1.24zM81.08 144.52h1.24v1.24h-1.24zM82.85 144.54h1.24v1.24h-1.24zM82.02 144.33h1.24v1.24h-1.24zM80.06 144.51h1.24v1.24h-1.24zM80.67 144.69h1.24v1.24h-1.24zM100.16 138.32h1.24v1.24h-1.24zM100.1 138.62h1.24v1.24h-1.24zM98.83 138.44h1.24v1.24h-1.24zM98.79 140.22h1.24v1.24h-1.24zM97.95 141.53h1.24v1.24h-1.24zM97.27 138.13h1.24v1.24h-1.24zM97.68 138.86h1.24v1.24h-1.24zM97.27 140.27h1.24v1.24h-1.24zM97.62 140.51h1.24v1.24h-1.24zM99.96 141.83h1.24v1.24h-1.24zM100.26 139.1h1.24v1.24h-1.24zM98.09 139.19h1.24v1.24h-1.24zM98.12 140.26h1.24v1.24h-1.24zM98.79 138.77h1.24v1.24h-1.24zM99.91 140.58h1.24v1.24h-1.24zM100 140.97h1.24v1.24h-1.24zM115.88 89.99h1.24v1.24h-1.24zM116.84 95.06h1.24v1.24h-1.24zM115.56 96.96h1.24v1.24h-1.24zM116.9 88.71h1.24v1.24h-1.24zM116.11 84.67h1.24v1.24h-1.24zM116.62 90.87h1.24v1.24h-1.24zM115.26 90.61h1.24v1.24h-1.24zM114.8 86.84h1.24v1.24h-1.24zM117.27 87.77h1.24v1.24h-1.24zM117.41 98.46h1.24v1.24h-1.24zM116.86 96.59h1.24v1.24h-1.24zM115.76 76.38h1.24v1.24h-1.24zM114.63 88.13h1.24v1.24h-1.24zM114.99 96.8h1.24v1.24h-1.24zM117.08 90.2h1.24v1.24h-1.24zM116.04 86.81h1.24v1.24h-1.24zM132.59 143.08h1.24v1.24h-1.24zM132.59 143.51h1.24v1.24h-1.24zM132.54 143.53h1.24v1.24h-1.24zM133.62 143.63h1.24v1.24h-1.24zM133.63 143.29h1.24v1.24h-1.24zM134.07 143.1h1.24v1.24h-1.24zM134.84 143.22h1.24v1.24h-1.24zM133.23 143.26h1.24v1.24h-1.24zM133.07 144.25h1.24v1.24h-1.24zM132.59 142.65h1.24v1.24h-1.24zM133.25 142.19h1.24v1.24h-1.24zM133.36 143.7h1.24v1.24h-1.24zM133.9 143.42h1.24v1.24h-1.24zM133.09 143.48h1.24v1.24h-1.24zM133.54 143.2h1.24v1.24h-1.24zM134.39 143.37h1.24v1.24h-1.24zM151.63 143.78h1.24v1.24h-1.24zM149.48 144.06h1.24v1.24h-1.24zM152.29 143.98h1.24v1.24h-1.24zM150.28 143.91h1.24v1.24h-1.24zM151.19 143.62h1.24v1.24h-1.24zM149.74 144.17h1.24v1.24h-1.24zM149.41 143.16h1.24v1.24h-1.24zM150.41 143.59h1.24v1.24h-1.24zM149.95 143.95h1.24v1.24h-1.24zM152.15 143.61h1.24v1.24h-1.24zM151.25 143.58h1.24v1.24h-1.24zM150.55 144.51h1.24v1.24h-1.24zM151.03 143.99h1.24v1.24h-1.24zM150.67 143.42h1.24v1.24h-1.24zM150.09 144.65h1.24v1.24h-1.24zM150.56 143.9h1.24v1.24h-1.24zM168.21 131.33h1.24v1.24h-1.24zM166.79 137.85h1.24v1.24h-1.24zM167.74 138.16h1.24v1.24h-1.24zM169.29 135.76h1.24v1.24h-1.24zM167.21 128.5h1.24v1.24h-1.24zM169.63 138.11h1.24v1.24h-1.24zM169.09 136.94h1.24v1.24h-1.24zM169.2 136.32h1.24v1.24h-1.24zM167.55 130.59h1.24v1.24h-1.24zM168.19 130.02h1.24v1.24h-1.24zM166.94 128.73h1.24v1.24h-1.24zM169.06 137.07h1.24v1.24h-1.24zM167.88 136.55h1.24v1.24h-1.24zM166.78 138.65h1.24v1.24h-1.24zM168.2 138.71h1.24v1.24h-1.24zM167.4 132.05h1.24v1.24h-1.24zM185.32 129.93h1.24v1.24h-1.24zM184.73 129.08h1.24v1.24h-1.24zM185.64 132.1h1.24v1.24h-1.24zM185.24 123.84h1.24v1.24h-1.24zM186.49 131.91h1.24v1.24h-1.24zM184.74 130.72h1.24v1.24h-1.24zM186.52 131.15h1.24v1.24h-1.24zM185.7 129.24h1.24v1.24h-1.24zM185.12 122.36h1.24v1.24h-1.24zM184.82 129.7h1.24v1.24h-1.24zM186.23 127.63h1.24v1.24h-1.24zM185.5 129.28h1.24v1.24h-1.24zM186.04 127.15h1.24v1.24h-1.24zM186.62 126.11h1.24v1.24h-1.24zM186.78 121.28h1.24v1.24h-1.24zM185.96 132.21h1.24v1.24h-1.24zM204.16 144.51h1.24v1.24h-1.24zM203.78 144.54h1.24v1.24h-1.24zM202.69 144.28h1.24v1.24h-1.24zM204.22 144.45h1.24v1.24h-1.24zM201.78 144.15h1.24v1.24h-1.24zM202.76 144.59h1.24v1.24h-1.24zM204.23 144.43h1.24v1.24h-1.24zM201.73 144.34h1.24v1.24h-1.24zM201.47 144.21h1.24v1.24h-1.24zM201.79 143.59h1.24v1.24h-1.24zM201.81 144.56h1.24v1.24h-1.24zM202.15 143.6h1.24v1.24h-1.24zM203.74 144.16h1.24v1.24h-1.24zM203.61 144.58h1.24v1.24h-1.24zM203.55 143.7h1.24v1.24h-1.24zM202.18 144.22h1.24v1.24h-1.24zM221.08 139.01h1.24v1.24h-1.24zM219.54 140.97h1.24v1.24h-1.24zM219.03 138.82h1.24v1.24h-1.24zM220.15 140.03h1.24v1.24h-1.24zM218.97 141.62h1.24v1.24h-1.24zM221.66 138.71h1.24v1.24h-1.24zM221.65 139.63h1.24v1.24h-1.24zM219.26 139.29h1.24v1.24h-1.24zM219.45 141.71h1.24v1.24h-1.24zM221.49 139.12h1.24v1.24h-1.24zM218.92 141.4h1.24v1.24h-1.24zM220.72 140.81h1.24v1.24h-1.24zM221.04 138.76h1.24v1.24h-1.24zM219.68 141.58h1.24v1.24h-1.24zM219.1 139.84h1.24v1.24h-1.24zM220.22 138.72h1.24v1.24h-1.24zM237.28 140.71h1.24v1.24h-1.24zM239 140.97h1.24v1.24h-1.24zM237.75 140.43h1.24v1.24h-1.24zM236.81 137.97h1.24v1.24h-1.24zM238.59 139.99h1.24v1.24h-1.24zM236.73 140.69h1.24v1.24h-1.24zM237.71 140.5h1.24v1.24h-1.24zM238.29 140.96h1.24v1.24h-1.24zM237.64 140.37h1.24v1.24h-1.24zM236.55 140.23h1.24v1.24h-1.24zM236.58 140.54h1.24v1.24h-1.24zM236.63 140.46h1.24v1.24h-1.24zM237.31 141.6h1.24v1.24h-1.24zM237.72 139.77h1.24v1.24h-1.24zM238.47 139.66h1.24v1.24h-1.24zM237.45 140.12h1.24v1.24h-1.24zM256.12 141.78h1.24v1.24h-1.24zM254.87 141.31h1.24v1.24h-1.24zM255.17 141.23h1.24v1.24h-1.24zM256.05 141.78h1.24v1.24h-1.24zM254.41 140.94h1.24v1.24h-1.24zM253.76 141.49h1.24v1.24h-1.24zM256.01 141.86h1.24v1.24h-1.24zM256.23 141.28h1.24v1.24h-1.24zM254.99 141.47h1.24v1.24h-1.24zM255.12 143.06h1.24v1.24h-1.24zM255.56 141.4h1.24v1.24h-1.24zM254.55 141.51h1.24v1.24h-1.24zM255.08 143.17h1.24v1.24h-1.24zM255.18 141.24h1.24v1.24h-1.24zM256.39 141.68h1.24v1.24h-1.24zM256.49 141.55h1.24v1.24h-1.24zM271.14 133.78h1.24v1.24h-1.24zM271.24 134.81h1.24v1.24h-1.24zM273.27 136.37h1.24v1.24h-1.24zM271.99 138.78h1.24v1.24h-1.24zM272.37 139.5h1.24v1.24h-1.24zM272.98 136.92h1.24v1.24h-1.24zM272.62 134.73h1.24v1.24h-1.24zM271.5 138.42h1.24v1.24h-1.24zM272.49 138.12h1.24v1.24h-1.24zM272.01 134.81h1.24v1.24h-1.24zM272.03 137.48h1.24v1.24h-1.24zM271.82 139.19h1.24v1.24h-1.24zM271.94 138.28h1.24v1.24h-1.24zM271.79 136.71h1.24v1.24h-1.24zM271.71 138.76h1.24v1.24h-1.24zM273.18 136.01h1.24v1.24h-1.24zM290.32 130.42h1.24v1.24h-1.24zM289.63 130.87h1.24v1.24h-1.24zM288.25 129.98h1.24v1.24h-1.24zM288.47 136.3h1.24v1.24h-1.24zM289.91 133.55h1.24v1.24h-1.24zM288.79 131.25h1.24v1.24h-1.24zM290.15 132.95h1.24v1.24h-1.24zM290.18 132.66h1.24v1.24h-1.24zM288.3 130.22h1.24v1.24h-1.24zM289.11 134.12h1.24v1.24h-1.24zM290.76 128.24h1.24v1.24h-1.24zM290.71 132.48h1.24v1.24h-1.24zM290.7 130.38h1.24v1.24h-1.24zM289.33 131.66h1.24v1.24h-1.24zM289.92 129.87h1.24v1.24h-1.24zM290.34 132.66h1.24v1.24h-1.24zM307.44 143.29h1.24v1.24h-1.24zM308.19 143.32h1.24v1.24h-1.24zM306.6 141.88h1.24v1.24h-1.24zM308.06 143.67h1.24v1.24h-1.24zM308.42 143.13h1.24v1.24h-1.24zM305.88 142.99h1.24v1.24h-1.24zM305.92 143.03h1.24v1.24h-1.24zM306.34 144.16h1.24v1.24h-1.24zM307.32 143.24h1.24v1.24h-1.24zM307.98 142.47h1.24v1.24h-1.24zM307.64 142.66h1.24v1.24h-1.24zM307.2 143.27h1.24v1.24h-1.24zM308.43 143.45h1.24v1.24h-1.24zM307.09 142.51h1.24v1.24h-1.24zM305.69 144h1.24v1.24h-1.24zM307.62 141.93h1.24v1.24h-1.24zM325.71 140.63h1.24v1.24h-1.24zM324.89 139.1h1.24v1.24h-1.24zM323.95 137.81h1.24v1.24h-1.24zM324.82 137.63h1.24v1.24h-1.24zM323.71 138.79h1.24v1.24h-1.24zM324.63 139.47h1.24v1.24h-1.24zM325.11 138.82h1.24v1.24h-1.24zM323.37 137.86h1.24v1.24h-1.24zM324.21 139.24h1.24v1.24h-1.24zM324.91 138.7h1.24v1.24h-1.24zM323.71 139.09h1.24v1.24h-1.24zM325.27 139.65h1.24v1.24h-1.24zM325.87 137.24h1.24v1.24h-1.24zM325.76 138.63h1.24v1.24h-1.24zM324.91 138.53h1.24v1.24h-1.24zM323.62 139.61h1.24v1.24h-1.24zM342.95 142.7h1.24v1.24h-1.24zM341.09 143.11h1.24v1.24h-1.24zM341.52 143.39h1.24v1.24h-1.24zM342.36 142.97h1.24v1.24h-1.24zM342.37 143.42h1.24v1.24h-1.24zM342.45 144.54h1.24v1.24h-1.24zM343.22 143.31h1.24v1.24h-1.24zM340.73 143.3h1.24v1.24h-1.24zM343.08 143.47h1.24v1.24h-1.24zM341.43 142.79h1.24v1.24h-1.24zM342.83 143.06h1.24v1.24h-1.24zM340.45 144.06h1.24v1.24h-1.24zM341.95 143.5h1.24v1.24h-1.24zM340.3 142.94h1.24v1.24h-1.24zM341.83 143.97h1.24v1.24h-1.24zM341 143.6h1.24v1.24h-1.24zM48.14 316.03h1.24v1.24h-1.24zM46.83 327.69h1.24v1.24h-1.24zM46.79 325.66h1.24v1.24h-1.24zM48.17 316.79h1.24v1.24h-1.24zM48.61 316.26h1.24v1.24h-1.24zM47.73 324.95h1.24v1.24h-1.24zM48.93 324.72h1.24v1.24h-1.24zM48.03 322.95h1.24v1.24h-1.24zM47.3 315.48h1.24v1.24h-1.24zM49.06 322.51h1.24v1.24h-1.24zM46.63 323.43h1.24v1.24h-1.24zM48.89 320.25h1.24v1.24h-1.24zM46.64 322.21h1.24v1.24h-1.24zM47.95 323.68h1.24v1.24h-1.24zM47.08 325.57h1.24v1.24h-1.24zM47.42 321.37h1.24v1.24h-1.24zM64.17 336.09h1.24v1.24h-1.24zM65.76 335.52h1.24v1.24h-1.24zM64.76 336.71h1.24v1.24h-1.24zM65.21 337.43h1.24v1.24h-1.24zM64.12 336.58h1.24v1.24h-1.24zM65.17 334.98h1.24v1.24h-1.24zM64.87 335.79h1.24v1.24h-1.24zM64.15 335.16h1.24v1.24h-1.24zM65.28 333.82h1.24v1.24h-1.24zM65.24 336.71h1.24v1.24h-1.24zM64.46 336.18h1.24v1.24h-1.24zM63.86 335.28h1.24v1.24h-1.24zM66.44 335.34h1.24v1.24h-1.24zM65.56 335.22h1.24v1.24h-1.24zM63.96 337.08h1.24v1.24h-1.24zM63.89 336.79h1.24v1.24h-1.24zM83.93 331.38h1.24v1.24h-1.24zM81.63 330.95h1.24v1.24h-1.24zM81.06 331.48h1.24v1.24h-1.24zM82.42 327.31h1.24v1.24h-1.24zM81.36 330.81h1.24v1.24h-1.24zM82.6 331.46h1.24v1.24h-1.24zM83.74 329.52h1.24v1.24h-1.24zM82.39 331.86h1.24v1.24h-1.24zM82.96 332h1.24v1.24h-1.24zM83.78 332.06h1.24v1.24h-1.24zM81.23 333.21h1.24v1.24h-1.24zM82.73 334.56h1.24v1.24h-1.24zM83.73 330.31h1.24v1.24h-1.24zM81.17 333.4h1.24v1.24h-1.24zM83.73 333.12h1.24v1.24h-1.24zM81.2 331.68h1.24v1.24h-1.24zM100.94 287.65h1.1v1.1h-1.1zM100.68 276.48h1.1v1.1h-1.1zM101.12 282.11h1.1v1.1h-1.1zM100.37 286.01h1.1v1.1h-1.1zM100.53 283.2h1.1v1.1h-1.1zM98.62 283.91h1.1v1.1h-1.1zM99.24 283.76h1.1v1.1h-1.1zM100.45 279.76h1.1v1.1h-1.1zM99.5 289.74h1.1v1.1h-1.1zM99.4 283.96h1.1v1.1h-1.1zM98.84 274.11h1.1v1.1h-1.1zM100.08 281.74h1.1v1.1h-1.1zM118.04 282.12h1.1v1.1h-1.1zM118.45 284.33h1.1v1.1h-1.1zM118.18 287.89h1.1v1.1h-1.1zM117.23 283.69h1.1v1.1h-1.1zM115.77 281.45h1.1v1.1h-1.1zM118.55 289.15h1.1v1.1h-1.1zM117.91 289.94h1.1v1.1h-1.1zM118.23 283.38h1.1v1.1h-1.1zM117.47 282.35h1.1v1.1h-1.1zM118.07 284.72h1.1v1.1h-1.1zM117.31 284.95h1.1v1.1h-1.1zM117.58 279.93h1.1v1.1h-1.1zM133 336.49h1.24v1.24h-1.24zM134.3 337.36h1.24v1.24h-1.24zM133.55 333.11h1.24v1.24h-1.24zM134.57 336.98h1.24v1.24h-1.24zM135.48 336.46h1.24v1.24h-1.24zM133.84 335.7h1.24v1.24h-1.24zM135.87 336.2h1.24v1.24h-1.24zM133.27 335.09h1.24v1.24h-1.24zM134.3 336.02h1.24v1.24h-1.24zM134.88 334.82h1.24v1.24h-1.24zM135.32 337.88h1.24v1.24h-1.24zM135.08 337.86h1.24v1.24h-1.24zM135.48 332.56h1.24v1.24h-1.24zM133.47 334.96h1.24v1.24h-1.24zM133.69 336.41h1.24v1.24h-1.24zM133.21 335.61h1.24v1.24h-1.24zM150.97 332.59h1.24v1.24h-1.24zM150.96 330.46h1.24v1.24h-1.24zM152.51 331.3h1.24v1.24h-1.24zM151.37 330.79h1.24v1.24h-1.24zM151.64 329.67h1.24v1.24h-1.24zM152.73 332.2h1.24v1.24h-1.24zM150.57 331.49h1.24v1.24h-1.24zM150.5 330.52h1.24v1.24h-1.24zM150.91 330.65h1.24v1.24h-1.24zM151.3 330.32h1.24v1.24h-1.24zM151.88 330.6h1.24v1.24h-1.24zM151.91 332.45h1.24v1.24h-1.24zM152.79 334.21h1.24v1.24h-1.24zM151.79 327.37h1.24v1.24h-1.24zM150.86 332.83h1.24v1.24h-1.24zM151.6 333.02h1.24v1.24h-1.24zM170.2 321.12h1.24v1.24h-1.24zM168.28 325.86h1.24v1.24h-1.24zM169.54 324.56h1.24v1.24h-1.24zM169.38 313h1.24v1.24h-1.24zM169.91 321.76h1.24v1.24h-1.24zM169.64 325.75h1.24v1.24h-1.24zM169.87 327.91h1.24v1.24h-1.24zM168.13 327.91h1.24v1.24h-1.24zM170.21 320.38h1.24v1.24h-1.24zM168.59 316.49h1.24v1.24h-1.24zM167.89 325.97h1.24v1.24h-1.24zM167.62 322.58h1.24v1.24h-1.24zM167.74 323.77h1.24v1.24h-1.24zM169.24 324.19h1.24v1.24h-1.24zM168.82 319.2h1.24v1.24h-1.24zM169.54 320.67h1.24v1.24h-1.24zM186.32 315.12h1.24v1.24h-1.24zM186.39 318.67h1.24v1.24h-1.24zM185.96 314.82h1.24v1.24h-1.24zM185.47 318.38h1.24v1.24h-1.24zM187.11 318.64h1.24v1.24h-1.24zM187.6 319.92h1.24v1.24h-1.24zM186.71 317.12h1.24v1.24h-1.24zM187.53 320.24h1.24v1.24h-1.24zM185.7 318.09h1.24v1.24h-1.24zM187.11 309.55h1.24v1.24h-1.24zM185.08 316.75h1.24v1.24h-1.24zM187.1 316.12h1.24v1.24h-1.24zM185.29 314.83h1.24v1.24h-1.24zM185.31 317.42h1.24v1.24h-1.24zM186.08 311.33h1.24v1.24h-1.24zM187.72 315.85h1.24v1.24h-1.24zM204.97 339.61h1.24v1.24h-1.24zM202.19 339.9h1.24v1.24h-1.24zM203.38 339.79h1.24v1.24h-1.24zM204.46 339.85h1.24v1.24h-1.24zM204.5 339.81h1.24v1.24h-1.24zM205.07 339.21h1.24v1.24h-1.24zM204.88 339.79h1.24v1.24h-1.24zM204.29 339.59h1.24v1.24h-1.24zM204.1 339.68h1.24v1.24h-1.24zM205.09 339.09h1.24v1.24h-1.24zM202.64 339.72h1.24v1.24h-1.24zM204.7 339.82h1.24v1.24h-1.24zM202.71 339.42h1.24v1.24h-1.24zM204.79 339.89h1.24v1.24h-1.24zM203.77 339.91h1.24v1.24h-1.24zM204.5 339.1h1.24v1.24h-1.24zM221.21 333.68h1.24v1.24h-1.24zM220.54 333.63h1.24v1.24h-1.24zM221 331.01h1.24v1.24h-1.24zM219.86 335.21h1.24v1.24h-1.24zM219.56 333.01h1.24v1.24h-1.24zM219.55 333.13h1.24v1.24h-1.24zM221.54 330.02h1.24v1.24h-1.24zM221.03 336.48h1.24v1.24h-1.24zM220.68 335.57h1.24v1.24h-1.24zM221.96 329.31h1.24v1.24h-1.24zM221.64 335.39h1.24v1.24h-1.24zM219.49 333.35h1.24v1.24h-1.24zM221.5 332.41h1.24v1.24h-1.24zM219.92 332.9h1.24v1.24h-1.24zM222.29 333.47h1.24v1.24h-1.24zM220.68 330.99h1.24v1.24h-1.24zM237.06 330.66h1.24v1.24h-1.24zM239.11 328.25h1.24v1.24h-1.24zM239.22 327.46h1.24v1.24h-1.24zM238.08 329.31h1.24v1.24h-1.24zM237.7 331.44h1.24v1.24h-1.24zM239.11 327.7h1.24v1.24h-1.24zM237.68 329.48h1.24v1.24h-1.24zM238.09 323.67h1.24v1.24h-1.24zM237.33 331.5h1.24v1.24h-1.24zM239.58 334.07h1.24v1.24h-1.24zM238.27 332.18h1.24v1.24h-1.24zM239.41 327.51h1.24v1.24h-1.24zM238.9 332.66h1.24v1.24h-1.24zM239.56 331.06h1.24v1.24h-1.24zM238.33 330.38h1.24v1.24h-1.24zM238.08 327.7h1.24v1.24h-1.24zM256.46 332.39h1.24v1.24h-1.24zM255.77 333.46h1.24v1.24h-1.24zM254.95 329.93h1.24v1.24h-1.24zM255.23 325.45h1.24v1.24h-1.24zM254.69 333.51h1.24v1.24h-1.24zM256.69 330.94h1.24v1.24h-1.24zM254.1 330.28h1.24v1.24h-1.24zM255.9 325.85h1.24v1.24h-1.24zM254.14 326.26h1.24v1.24h-1.24zM256.19 330.01h1.24v1.24h-1.24zM255.97 330.29h1.24v1.24h-1.24zM254.23 329.58h1.24v1.24h-1.24zM255.16 330.52h1.24v1.24h-1.24zM256.94 332.47h1.24v1.24h-1.24zM254.63 332.4h1.24v1.24h-1.24zM255.25 329.19h1.24v1.24h-1.24zM273.39 332.63h1.24v1.24h-1.24zM273.85 336.23h1.24v1.24h-1.24zM274.17 331.96h1.24v1.24h-1.24zM274.02 331.84h1.24v1.24h-1.24zM273.92 334.03h1.24v1.24h-1.24zM272.37 333.73h1.24v1.24h-1.24zM272.57 327.69h1.24v1.24h-1.24zM271.31 331.74h1.24v1.24h-1.24zM272.37 330.8h1.24v1.24h-1.24zM273.12 333.37h1.24v1.24h-1.24zM273.08 333.35h1.24v1.24h-1.24zM273.98 334.05h1.24v1.24h-1.24zM272.22 332.97h1.24v1.24h-1.24zM273.06 333.24h1.24v1.24h-1.24zM272.18 331.57h1.24v1.24h-1.24zM271.6 334.23h1.24v1.24h-1.24zM291.46 338.31h1.24v1.24h-1.24zM289.07 338.2h1.24v1.24h-1.24zM291.21 337.19h1.24v1.24h-1.24zM290.61 337.42h1.24v1.24h-1.24zM289.15 337.74h1.24v1.24h-1.24zM289.55 337.2h1.24v1.24h-1.24zM288.9 337.93h1.24v1.24h-1.24zM291.3 337.51h1.24v1.24h-1.24zM291.51 339.05h1.24v1.24h-1.24zM289.38 337.42h1.24v1.24h-1.24zM290.74 339.12h1.24v1.24h-1.24zM290.2 338.3h1.24v1.24h-1.24zM288.97 338.02h1.24v1.24h-1.24zM289.91 338.13h1.24v1.24h-1.24zM289.38 336.57h1.24v1.24h-1.24zM289.28 338.49h1.24v1.24h-1.24zM307.01 334.26h1.24v1.24h-1.24zM307.37 336.38h1.24v1.24h-1.24zM308.32 335.94h1.24v1.24h-1.24zM308.5 335.05h1.24v1.24h-1.24zM307.51 334.23h1.24v1.24h-1.24zM307.5 334.66h1.24v1.24h-1.24zM308.47 334.96h1.24v1.24h-1.24zM307.73 335.59h1.24v1.24h-1.24zM306.73 334.38h1.24v1.24h-1.24zM306.44 336.37h1.24v1.24h-1.24zM307.8 335.88h1.24v1.24h-1.24zM307.62 334.85h1.24v1.24h-1.24zM306.69 335.7h1.24v1.24h-1.24zM308.25 335.39h1.24v1.24h-1.24zM306.03 332.19h1.24v1.24h-1.24zM306.94 335.83h1.24v1.24h-1.24zM326 333.02h1.24v1.24h-1.24zM325.21 333.53h1.24v1.24h-1.24zM324.33 335.3h1.24v1.24h-1.24zM325.97 333.01h1.24v1.24h-1.24zM326.1 337.1h1.24v1.24h-1.24zM323.84 333.1h1.24v1.24h-1.24zM325.94 335.32h1.24v1.24h-1.24zM323.92 336.05h1.24v1.24h-1.24zM324.23 333.35h1.24v1.24h-1.24zM325.65 335.77h1.24v1.24h-1.24zM324.82 332.92h1.24v1.24h-1.24zM323.58 332.77h1.24v1.24h-1.24zM324.11 334.85h1.24v1.24h-1.24zM324.3 333.23h1.24v1.24h-1.24zM323.16 333.54h1.24v1.24h-1.24zM326 332.48h1.24v1.24h-1.24zM342.41 337.98h1.24v1.24h-1.24zM342.89 338.46h1.24v1.24h-1.24zM341.55 339.04h1.24v1.24h-1.24zM342.26 338.5h1.24v1.24h-1.24zM342.11 339.29h1.24v1.24h-1.24zM340.5 339.34h1.24v1.24h-1.24zM343.32 339.15h1.24v1.24h-1.24zM342.01 339.08h1.24v1.24h-1.24zM340.45 339.36h1.24v1.24h-1.24zM340.59 338.55h1.24v1.24h-1.24zM342.81 339.09h1.24v1.24h-1.24zM342.52 338.78h1.24v1.24h-1.24zM341.39 338.99h1.24v1.24h-1.24zM342.75 339.11h1.24v1.24h-1.24zM341.57 338.99h1.24v1.24h-1.24zM340.93 338.61h1.24v1.24h-1.24zM250.53 556.63h1.1v1.1h-1.1zM249.67 559.84h1.1v1.1h-1.1zM249.99 556.1h1.1v1.1h-1.1zM250.9 559.75h1.1v1.1h-1.1zM249.33 556.27h1.1v1.1h-1.1zM250.79 559.82h1.1v1.1h-1.1zM265.41 564.76h1.1v1.1h-1.1zM265.85 563.27h1.1v1.1h-1.1zM265.51 563.02h1.1v1.1h-1.1zM266.56 562.85h1.1v1.1h-1.1zM265.18 563.16h1.1v1.1h-1.1zM266.64 563.18h1.1v1.1h-1.1zM280.76 556.12h1.1v1.1h-1.1zM281.78 555.03h1.1v1.1h-1.1zM280.78 555.75h1.1v1.1h-1.1zM281.22 556.4h1.1v1.1h-1.1zM281.5 556.39h1.1v1.1h-1.1zM280.69 555.96h1.1v1.1h-1.1zM296.7 532.37h1.1v1.1h-1.1zM296 530.97h1.1v1.1h-1.1zM296.57 530.28h1.1v1.1h-1.1zM297.04 521.26h1.1v1.1h-1.1zM297.48 525.58h1.1v1.1h-1.1zM296.46 525.35h1.1v1.1h-1.1zM312.07 559.03h1.1v1.1h-1.1zM313.45 561.02h1.1v1.1h-1.1zM312.96 558.49h1.1v1.1h-1.1zM313.48 561.18h1.1v1.1h-1.1zM311.97 559.6h1.1v1.1h-1.1zM311.62 559.55h1.1v1.1h-1.1zM327.4 563.99h1.1v1.1h-1.1zM327.27 564.15h1.1v1.1h-1.1zM328.87 562.5h1.1v1.1h-1.1zM327.58 562.68h1.1v1.1h-1.1zM327.58 563.13h1.1v1.1h-1.1zM327.44 562.13h1.1v1.1h-1.1zM344.33 567.15h1.1v1.1h-1.1zM343.03 566.67h1.1v1.1h-1.1zM343.46 567.02h1.1v1.1h-1.1zM342.92 566.53h1.1v1.1h-1.1zM343.77 566.56h1.1v1.1h-1.1zM342.88 566.38h1.1v1.1h-1.1zM359.94 554.84h1.1v1.1h-1.1zM359.79 554.56h1.1v1.1h-1.1zM360.35 553.21h1.1v1.1h-1.1zM360.46 552.21h1.1v1.1h-1.1zM360.14 550.29h1.1v1.1h-1.1zM359.45 554h1.1v1.1h-1.1zM375.06 554.48h1.1v1.1h-1.1zM375.55 555.6h1.1v1.1h-1.1zM374.5 554.01h1.1v1.1h-1.1zM374.43 554.13h1.1v1.1h-1.1zM375.7 551.86h1.1v1.1h-1.1zM374.3 552.74h1.1v1.1h-1.1zM389.9 566.19h1.1v1.1h-1.1zM390.51 565.48h1.1v1.1h-1.1zM390.2 566.26h1.1v1.1h-1.1zM391.6 565.48h1.1v1.1h-1.1zM389.84 566.23h1.1v1.1h-1.1zM390.2 567.24h1.1v1.1h-1.1zM407.22 556.29h1.1v1.1h-1.1zM406.19 557.24h1.1v1.1h-1.1zM406.81 554.95h1.1v1.1h-1.1zM406.5 556.72h1.1v1.1h-1.1zM405.71 557.71h1.1v1.1h-1.1zM407.25 557.98h1.1v1.1h-1.1zM421.24 563.38h1.1v1.1h-1.1zM422.5 563.56h1.1v1.1h-1.1zM422.53 563.56h1.1v1.1h-1.1zM421.48 564.02h1.1v1.1h-1.1zM421.74 563.81h1.1v1.1h-1.1zM421.7 563.99h1.1v1.1h-1.1zM437.92 560.94h1.1v1.1h-1.1zM437.13 560.06h1.1v1.1h-1.1zM437.78 560.09h1.1v1.1h-1.1zM438.12 561.49h1.1v1.1h-1.1zM437.12 561.49h1.1v1.1h-1.1zM437.32 560.92h1.1v1.1h-1.1zM452.46 560.07h1.1v1.1h-1.1zM453.19 559.57h1.1v1.1h-1.1zM454.03 559.66h1.1v1.1h-1.1zM452.28 560.01h1.1v1.1h-1.1zM453.8 559.69h1.1v1.1h-1.1zM453.62 560.04h1.1v1.1h-1.1zM469.02 556.66h1.1v1.1h-1.1zM469.62 555.6h1.1v1.1h-1.1zM468.07 556.53h1.1v1.1h-1.1zM469.46 557.68h1.1v1.1h-1.1zM469.39 555.71h1.1v1.1h-1.1zM468.18 556.12h1.1v1.1h-1.1zM484.56 556.69h1.1v1.1h-1.1zM484.61 559.36h1.1v1.1h-1.1zM483.71 556.99h1.1v1.1h-1.1zM484.78 557.28h1.1v1.1h-1.1zM485.36 561.29h1.1v1.1h-1.1zM485.06 559h1.1v1.1h-1.1zM500.19 563.36h1.1v1.1h-1.1zM500.56 563.6h1.1v1.1h-1.1zM499.43 563.17h1.1v1.1h-1.1zM500.78 562.79h1.1v1.1h-1.1zM500.43 562.88h1.1v1.1h-1.1zM500.27 562.88h1.1v1.1h-1.1zM514.81 555.17h1.1v1.1h-1.1zM515.36 556.03h1.1v1.1h-1.1zM515.36 556.22h1.1v1.1h-1.1zM516.19 557.33h1.1v1.1h-1.1zM514.84 555.35h1.1v1.1h-1.1zM515.13 555.18h1.1v1.1h-1.1z" fill="#3a3a3a"/>
<path d="M51.12 128.12h1.24v1.24h-1.24zM51.55 128.76h1.24v1.24h-1.24zM51.6 131.72h1.24v1.24h-1.24zM52.12 129.33h1.24v1.24h-1.24zM51.03 133.79h1.24v1.24h-1.24zM50.25 125.59h1.24v1.24h-1.24zM50.36 126.57h1.24v1.24h-1.24zM51.35 127.19h1.24v1.24h-1.24zM51.83 128.14h1.24v1.24h-1.24zM52.77 132.31h1.24v1.24h-1.24zM52.83 127.71h1.24v1.24h-1.24zM50.88 126.85h1.24v1.24h-1.24zM50.97 128.8h1.24v1.24h-1.24zM51.88 127.76h1.24v1.24h-1.24zM51.73 133.25h1.24v1.24h-1.24zM50.34 128.72h1.24v1.24h-1.24zM69.49 141.42h1.24v1.24h-1.24zM68.84 142.96h1.24v1.24h-1.24zM68.17 144h1.24v1.24h-1.24zM69.3 142.81h1.24v1.24h-1.24zM70.27 142.69h1.24v1.24h-1.24zM70.25 143.17h1.24v1.24h-1.24zM69.04 142.64h1.24v1.24h-1.24zM68.86 142.57h1.24v1.24h-1.24zM68.06 143.39h1.24v1.24h-1.24zM69.21 142.8h1.24v1.24h-1.24zM69.89 143.14h1.24v1.24h-1.24zM68.37 142.82h1.24v1.24h-1.24zM69.82 143.14h1.24v1.24h-1.24zM69.06 143.2h1.24v1.24h-1.24zM68.9 142.92h1.24v1.24h-1.24zM69.64 143.54h1.24v1.24h-1.24zM87.51 144.74h1.24v1.24h-1.24zM85.78 144.46h1.24v1.24h-1.24zM85.69 144.56h1.24v1.24h-1.24zM86.54 145.13h1.24v1.24h-1.24zM85.83 144.2h1.24v1.24h-1.24zM86.32 144.53h1.24v1.24h-1.24zM84.91 144.58h1.24v1.24h-1.24zM85.03 144.53h1.24v1.24h-1.24zM86.66 144.46h1.24v1.24h-1.24zM86.87 144.57h1.24v1.24h-1.24zM86.07 144.81h1.24v1.24h-1.24zM85.35 144.3h1.24v1.24h-1.24zM85.03 144.82h1.24v1.24h-1.24zM86.78 144.97h1.24v1.24h-1.24zM85.32 144.83h1.24v1.24h-1.24zM87.31 144.73h1.24v1.24h-1.24zM102.41 140.07h1.24v1.24h-1.24zM104.19 140.18h1.24v1.24h-1.24zM102.64 140.72h1.24v1.24h-1.24zM104.48 138.74h1.24v1.24h-1.24zM103.16 139.87h1.24v1.24h-1.24zM102.74 138.33h1.24v1.24h-1.24zM103.75 135.75h1.24v1.24h-1.24zM105.25 135.86h1.24v1.24h-1.24zM102.53 138.41h1.24v1.24h-1.24zM103.04 138.56h1.24v1.24h-1.24zM104.51 139.01h1.24v1.24h-1.24zM103.39 139.46h1.24v1.24h-1.24zM105.16 138.68h1.24v1.24h-1.24zM104.85 139.79h1.24v1.24h-1.24zM103.46 138.59h1.24v1.24h-1.24zM104.81 137.89h1.24v1.24h-1.24zM120.2 75.85h1.24v1.24h-1.24zM119.71 75.51h1.24v1.24h-1.24zM121.92 77.37h1.24v1.24h-1.24zM122.38 85.67h1.24v1.24h-1.24zM122.32 71.23h1.24v1.24h-1.24zM121.47 98.17h1.24v1.24h-1.24zM120.57 71.44h1.24v1.24h-1.24zM122.37 95.35h1.24v1.24h-1.24zM119.69 86.28h1.24v1.24h-1.24zM122.48 98.16h1.24v1.24h-1.24zM121.1 90.8h1.24v1.24h-1.24zM121.84 96.01h1.24v1.24h-1.24zM121.44 93.81h1.24v1.24h-1.24zM121.97 89.85h1.24v1.24h-1.24zM120.36 95.31h1.24v1.24h-1.24zM120.6 92.51h1.24v1.24h-1.24zM139.81 143.07h1.24v1.24h-1.24zM139.76 143h1.24v1.24h-1.24zM138.84 143.11h1.24v1.24h-1.24zM137.65 143.62h1.24v1.24h-1.24zM139.47 143.15h1.24v1.24h-1.24zM138.53 143.3h1.24v1.24h-1.24zM139.15 143.17h1.24v1.24h-1.24zM139.25 143.43h1.24v1.24h-1.24zM137.33 142.27h1.24v1.24h-1.24zM137.9 143.49h1.24v1.24h-1.24zM138.96 143.32h1.24v1.24h-1.24zM138.84 142.98h1.24v1.24h-1.24zM139.32 143.6h1.24v1.24h-1.24zM137.3 143.36h1.24v1.24h-1.24zM138.31 143.04h1.24v1.24h-1.24zM137.23 143.49h1.24v1.24h-1.24zM154.38 144.11h1.24v1.24h-1.24zM154.77 143.7h1.24v1.24h-1.24zM155.86 142.86h1.24v1.24h-1.24zM154.86 143.92h1.24v1.24h-1.24zM157.01 143.5h1.24v1.24h-1.24zM154.36 144.26h1.24v1.24h-1.24zM155.74 144.41h1.24v1.24h-1.24zM154.66 143.65h1.24v1.24h-1.24zM156.59 143.74h1.24v1.24h-1.24zM156.48 144.05h1.24v1.24h-1.24zM156.71 143.83h1.24v1.24h-1.24zM157.24 144h1.24v1.24h-1.24zM154.39 142.9h1.24v1.24h-1.24zM157.17 144.08h1.24v1.24h-1.24zM155.33 144.2h1.24v1.24h-1.24zM156.23 142.95h1.24v1.24h-1.24zM173.96 138.04h1.24v1.24h-1.24zM172.17 136.09h1.24v1.24h-1.24zM173.93 138.34h1.24v1.24h-1.24zM173.44 138.12h1.24v1.24h-1.24zM172.41 138.63h1.24v1.24h-1.24zM174.23 137.8h1.24v1.24h-1.24zM172.68 135.73h1.24v1.24h-1.24zM172.27 136.1h1.24v1.24h-1.24zM172.01 140.06h1.24v1.24h-1.24zM174.65 136.35h1.24v1.24h-1.24zM173 137.71h1.24v1.24h-1.24zM172.02 129.93h1.24v1.24h-1.24zM172.9 134.76h1.24v1.24h-1.24zM173.2 137.66h1.24v1.24h-1.24zM173.51 135.25h1.24v1.24h-1.24zM174.42 132.64h1.24v1.24h-1.24zM191.03 130.66h1.24v1.24h-1.24zM189.76 125.68h1.24v1.24h-1.24zM191.77 125.74h1.24v1.24h-1.24zM190.89 130.29h1.24v1.24h-1.24zM191.74 129.53h1.24v1.24h-1.24zM189.65 129.65h1.24v1.24h-1.24zM190.38 129.37h1.24v1.24h-1.24zM189.76 126.43h1.24v1.24h-1.24zM190.46 125.16h1.24v1.24h-1.24zM190.68 127.87h1.24v1.24h-1.24zM190.46 129.98h1.24v1.24h-1.24zM191.58 125.68h1.24v1.24h-1.24zM189.29 130.72h1.24v1.24h-1.24zM189.15 126.99h1.24v1.24h-1.24zM191.85 126.51h1.24v1.24h-1.24zM190.59 121.6h1.24v1.24h-1.24zM206.45 144.93h1.24v1.24h-1.24zM208.87 143.6h1.24v1.24h-1.24zM206.92 144.49h1.24v1.24h-1.24zM207.52 144.16h1.24v1.24h-1.24zM206.85 144.47h1.24v1.24h-1.24zM208.31 144.45h1.24v1.24h-1.24zM209.25 144.52h1.24v1.24h-1.24zM206.6 144.28h1.24v1.24h-1.24zM208.9 144.94h1.24v1.24h-1.24zM209.35 144.04h1.24v1.24h-1.24zM207.35 144.74h1.24v1.24h-1.24zM207.55 144.18h1.24v1.24h-1.24zM209.11 144.54h1.24v1.24h-1.24zM207.21 144.14h1.24v1.24h-1.24zM209.08 144.53h1.24v1.24h-1.24zM208.86 143.64h1.24v1.24h-1.24zM225.81 138.69h1.24v1.24h-1.24zM224.37 136.45h1.24v1.24h-1.24zM224.44 136.58h1.24v1.24h-1.24zM226.45 141.52h1.24v1.24h-1.24zM226.57 138.6h1.24v1.24h-1.24zM225.14 141.01h1.24v1.24h-1.24zM225.21 138.25h1.24v1.24h-1.24zM223.95 138.84h1.24v1.24h-1.24zM226.39 138.7h1.24v1.24h-1.24zM224.59 138.72h1.24v1.24h-1.24zM225.25 138.74h1.24v1.24h-1.24zM224.12 138.13h1.24v1.24h-1.24zM225.78 140.14h1.24v1.24h-1.24zM224.55 138.97h1.24v1.24h-1.24zM226.77 140.33h1.24v1.24h-1.24zM226.47 138.97h1.24v1.24h-1.24zM243.88 142.79h1.24v1.24h-1.24zM241.3 141.96h1.24v1.24h-1.24zM243.94 140.47h1.24v1.24h-1.24zM242.23 140.61h1.24v1.24h-1.24zM242.65 140.26h1.24v1.24h-1.24zM243.47 141.2h1.24v1.24h-1.24zM243.57 142.56h1.24v1.24h-1.24zM241.24 142.3h1.24v1.24h-1.24zM241.96 140.69h1.24v1.24h-1.24zM243 140.59h1.24v1.24h-1.24zM243.99 140.26h1.24v1.24h-1.24zM241.5 140.64h1.24v1.24h-1.24zM242.68 140.85h1.24v1.24h-1.24zM241.59 140.44h1.24v1.24h-1.24zM242.36 140.02h1.24v1.24h-1.24zM242.78 139.66h1.24v1.24h-1.24zM259.01 141.82h1.24v1.24h-1.24zM260.98 140.65h1.24v1.24h-1.24zM260.57 141.93h1.24v1.24h-1.24zM261.16 142.66h1.24v1.24h-1.24zM260.03 141.09h1.24v1.24h-1.24zM260.39 140.94h1.24v1.24h-1.24zM260.41 142.07h1.24v1.24h-1.24zM259.42 141.78h1.24v1.24h-1.24zM261.03 141.11h1.24v1.24h-1.24zM259.09 141.72h1.24v1.24h-1.24zM260.44 141.05h1.24v1.24h-1.24zM260.22 141.51h1.24v1.24h-1.24zM260.78 140.9h1.24v1.24h-1.24zM260.07 140.92h1.24v1.24h-1.24zM260.92 142.67h1.24v1.24h-1.24zM259.47 141.76h1.24v1.24h-1.24zM276.26 140.44h1.24v1.24h-1.24zM277.85 138.08h1.24v1.24h-1.24zM277.96 138.03h1.24v1.24h-1.24zM276.92 135.37h1.24v1.24h-1.24zM278.6 136.5h1.24v1.24h-1.24zM275.98 139.25h1.24v1.24h-1.24zM276.77 136.73h1.24v1.24h-1.24zM277.77 137.05h1.24v1.24h-1.24zM277.57 134.82h1.24v1.24h-1.24zM277.91 137.4h1.24v1.24h-1.24zM278.19 138.52h1.24v1.24h-1.24zM277.68 138.57h1.24v1.24h-1.24zM278.23 136.49h1.24v1.24h-1.24zM278.11 135.06h1.24v1.24h-1.24zM277.04 134.07h1.24v1.24h-1.24zM276.7 139.36h1.24v1.24h-1.24zM294.7 134.53h1.24v1.24h-1.24zM294.96 130.35h1.24v1.24h-1.24zM293.71 127.1h1.24v1.24h-1.24zM293.49 130.37h1.24v1.24h-1.24zM295.39 130.01h1.24v1.24h-1.24zM295.79 126.41h1.24v1.24h-1.24zM295.2 130.3h1.24v1.24h-1.24zM294.54 130.47h1.24v1.24h-1.24zM295.93 132.37h1.24v1.24h-1.24zM294.91 130.8h1.24v1.24h-1.24zM294.19 129.67h1.24v1.24h-1.24zM295.95 130.52h1.24v1.24h-1.24zM296.11 134.17h1.24v1.24h-1.24zM293.4 131.96h1.24v1.24h-1.24zM294.11 132.47h1.24v1.24h-1.24zM294.66 131.52h1.24v1.24h-1.24zM313.12 141.96h1.24v1.24h-1.24zM312.41 142.26h1.24v1.24h-1.24zM313.26 142.03h1.24v1.24h-1.24zM311.66 141.98h1.24v1.24h-1.24zM311.64 142.24h1.24v1.24h-1.24zM310.64 142.18h1.24v1.24h-1.24zM310.72 142.49h1.24v1.24h-1.24zM311.4 141.39h1.24v1.24h-1.24zM312.29 142.09h1.24v1.24h-1.24zM313.56 142.73h1.24v1.24h-1.24zM313.2 142.71h1.24v1.24h-1.24zM312.48 143.59h1.24v1.24h-1.24zM313.2 142.74h1.24v1.24h-1.24zM311.49 144.17h1.24v1.24h-1.24zM312.11 143.55h1.24v1.24h-1.24zM311.8 142.44h1.24v1.24h-1.24zM328.34 136.72h1.24v1.24h-1.24zM328.49 138.02h1.24v1.24h-1.24zM328.47 137.02h1.24v1.24h-1.24zM328.43 139.54h1.24v1.24h-1.24zM328.67 134.58h1.24v1.24h-1.24zM328.97 138.21h1.24v1.24h-1.24zM330.65 137.45h1.24v1.24h-1.24zM328.14 135.13h1.24v1.24h-1.24zM328.12 138.77h1.24v1.24h-1.24zM330.77 138.91h1.24v1.24h-1.24zM328.73 137.27h1.24v1.24h-1.24zM330.22 137.15h1.24v1.24h-1.24zM328.59 139.09h1.24v1.24h-1.24zM330.55 138.77h1.24v1.24h-1.24zM330.41 136.25h1.24v1.24h-1.24zM330.61 137.84h1.24v1.24h-1.24zM346.44 143.58h1.24v1.24h-1.24zM347.14 143.4h1.24v1.24h-1.24zM346.93 143.5h1.24v1.24h-1.24zM346.09 142.48h1.24v1.24h-1.24zM346.87 143.59h1.24v1.24h-1.24zM348.08 143.04h1.24v1.24h-1.24zM347.74 143.41h1.24v1.24h-1.24zM346.68 143.68h1.24v1.24h-1.24zM347.98 143.61h1.24v1.24h-1.24zM347.8 143.27h1.24v1.24h-1.24zM346.05 143.05h1.24v1.24h-1.24zM346.86 143.67h1.24v1.24h-1.24zM348.29 143.28h1.24v1.24h-1.24zM347.69 143.36h1.24v1.24h-1.24zM346.4 143.55h1.24v1.24h-1.24zM346.32 143.26h1.24v1.24h-1.24zM52.15 325.69h1.24v1.24h-1.24zM52.05 321.3h1.24v1.24h-1.24zM52.96 329.17h1.24v1.24h-1.24zM52.51 324.56h1.24v1.24h-1.24zM53.1 324.86h1.24v1.24h-1.24zM51.4 317.26h1.24v1.24h-1.24zM52.86 327.94h1.24v1.24h-1.24zM53.2 326.38h1.24v1.24h-1.24zM51.62 327.41h1.24v1.24h-1.24zM51.47 322.77h1.24v1.24h-1.24zM52.42 330.5h1.24v1.24h-1.24zM53.24 327.84h1.24v1.24h-1.24zM51.31 326.51h1.24v1.24h-1.24zM52.93 323.6h1.24v1.24h-1.24zM53.92 323.1h1.24v1.24h-1.24zM51.64 322.22h1.24v1.24h-1.24zM70.91 337.09h1.24v1.24h-1.24zM69.86 335.43h1.24v1.24h-1.24zM69.71 337.5h1.24v1.24h-1.24zM70.67 336.04h1.24v1.24h-1.24zM68.89 336.25h1.24v1.24h-1.24zM71.4 336.23h1.24v1.24h-1.24zM69.91 339.36h1.24v1.24h-1.24zM71.19 336.36h1.24v1.24h-1.24zM69.07 337.89h1.24v1.24h-1.24zM70.83 337.13h1.24v1.24h-1.24zM69.52 333.93h1.24v1.24h-1.24zM70.49 334.35h1.24v1.24h-1.24zM71.28 337.27h1.24v1.24h-1.24zM70.97 338.81h1.24v1.24h-1.24zM70.95 336.44h1.24v1.24h-1.24zM69.37 338.09h1.24v1.24h-1.24zM87.68 329.48h1.24v1.24h-1.24zM86.63 328.03h1.24v1.24h-1.24zM87.71 333.56h1.24v1.24h-1.24zM86.9 334.84h1.24v1.24h-1.24zM87.83 336.9h1.24v1.24h-1.24zM88.24 331.72h1.24v1.24h-1.24zM87.31 329.74h1.24v1.24h-1.24zM86.27 332.46h1.24v1.24h-1.24zM86.91 330.46h1.24v1.24h-1.24zM86.32 336.95h1.24v1.24h-1.24zM86.35 328.4h1.24v1.24h-1.24zM86.54 329.6h1.24v1.24h-1.24zM86.56 333.49h1.24v1.24h-1.24zM87.11 327.03h1.24v1.24h-1.24zM88.1 335.26h1.24v1.24h-1.24zM87.17 332.55h1.24v1.24h-1.24zM103.45 284.41h1.1v1.1h-1.1zM104.14 277.07h1.1v1.1h-1.1zM103.77 279.27h1.1v1.1h-1.1zM105.55 284.5h1.1v1.1h-1.1zM103.21 284.06h1.1v1.1h-1.1zM103.31 282.85h1.1v1.1h-1.1zM104.87 285.43h1.1v1.1h-1.1zM104.89 280.69h1.1v1.1h-1.1zM106.11 277.11h1.1v1.1h-1.1zM104.11 289.02h1.1v1.1h-1.1zM103.52 281.89h1.1v1.1h-1.1zM105.25 281.8h1.1v1.1h-1.1zM122.33 291.6h1.1v1.1h-1.1zM121.56 288.24h1.1v1.1h-1.1zM120.79 281.76h1.1v1.1h-1.1zM122.17 282.97h1.1v1.1h-1.1zM121.73 288.47h1.1v1.1h-1.1zM120.57 281.3h1.1v1.1h-1.1zM122.43 286.38h1.1v1.1h-1.1zM122.49 287.11h1.1v1.1h-1.1zM122.21 288.25h1.1v1.1h-1.1zM121.1 288.6h1.1v1.1h-1.1zM122.88 285.39h1.1v1.1h-1.1zM120.52 288.44h1.1v1.1h-1.1zM139.59 335.92h1.24v1.24h-1.24zM140.14 339.84h1.24v1.24h-1.24zM138.45 340.33h1.24v1.24h-1.24zM138.32 335.44h1.24v1.24h-1.24zM138.62 339.47h1.24v1.24h-1.24zM140.3 338.54h1.24v1.24h-1.24zM140.11 335.67h1.24v1.24h-1.24zM138.73 334.89h1.24v1.24h-1.24zM138.11 336.68h1.24v1.24h-1.24zM139.25 336.63h1.24v1.24h-1.24zM139.7 337.94h1.24v1.24h-1.24zM138.49 335.97h1.24v1.24h-1.24zM139.78 336.11h1.24v1.24h-1.24zM139.69 336.61h1.24v1.24h-1.24zM139.89 337.91h1.24v1.24h-1.24zM139.7 335.46h1.24v1.24h-1.24zM155.87 332.9h1.24v1.24h-1.24zM156 329.64h1.24v1.24h-1.24zM156.36 328.7h1.24v1.24h-1.24zM156.46 333.67h1.24v1.24h-1.24zM156.53 334.01h1.24v1.24h-1.24zM156.87 333.48h1.24v1.24h-1.24zM157.76 328.98h1.24v1.24h-1.24zM156.02 335.52h1.24v1.24h-1.24zM156.71 332.03h1.24v1.24h-1.24zM155.03 331.99h1.24v1.24h-1.24zM157.17 331.89h1.24v1.24h-1.24zM156.13 333.8h1.24v1.24h-1.24zM155.62 334.81h1.24v1.24h-1.24zM156.4 334.81h1.24v1.24h-1.24zM155.57 338.29h1.24v1.24h-1.24zM156.29 335h1.24v1.24h-1.24zM174.51 331.33h1.24v1.24h-1.24zM174.11 336.27h1.24v1.24h-1.24zM172.8 333h1.24v1.24h-1.24zM174.67 325.14h1.24v1.24h-1.24zM174.84 330.41h1.24v1.24h-1.24zM173.81 323.04h1.24v1.24h-1.24zM172.22 323.52h1.24v1.24h-1.24zM172.22 319.71h1.24v1.24h-1.24zM175.17 329.13h1.24v1.24h-1.24zM175.12 331.08h1.24v1.24h-1.24zM173.17 327.48h1.24v1.24h-1.24zM172.37 325.17h1.24v1.24h-1.24zM174.08 323.7h1.24v1.24h-1.24zM174.4 329.83h1.24v1.24h-1.24zM175 324.55h1.24v1.24h-1.24zM174.29 324.25h1.24v1.24h-1.24zM192.18 321.89h1.24v1.24h-1.24zM191.31 324.23h1.24v1.24h-1.24zM191.7 321.62h1.24v1.24h-1.24zM189.82 324.25h1.24v1.24h-1.24zM190.27 316.54h1.24v1.24h-1.24zM189.95 321.93h1.24v1.24h-1.24zM191.73 315.73h1.24v1.24h-1.24zM191.97 318.39h1.24v1.24h-1.24zM191.79 313.97h1.24v1.24h-1.24zM192.36 326.18h1.24v1.24h-1.24zM191.96 317.52h1.24v1.24h-1.24zM190.56 317.92h1.24v1.24h-1.24zM192.23 316.32h1.24v1.24h-1.24zM192.16 320.11h1.24v1.24h-1.24zM191.91 323.83h1.24v1.24h-1.24zM191.76 338.09h1.24v1.24h-1.24zM207.57 339.52h1.24v1.24h-1.24zM208.19 339.69h1.24v1.24h-1.24zM208.94 339.6h1.24v1.24h-1.24zM208.34 339.55h1.24v1.24h-1.24zM209.5 339.14h1.24v1.24h-1.24zM209.04 339.8h1.24v1.24h-1.24zM207.61 339.95h1.24v1.24h-1.24zM206.95 340.14h1.24v1.24h-1.24zM207 339.46h1.24v1.24h-1.24zM207.22 340.08h1.24v1.24h-1.24zM209.78 339.57h1.24v1.24h-1.24zM207.53 339.38h1.24v1.24h-1.24zM208.64 339.63h1.24v1.24h-1.24zM207.04 339.53h1.24v1.24h-1.24zM207.34 339.68h1.24v1.24h-1.24zM208.25 339.93h1.24v1.24h-1.24zM227 334.55h1.24v1.24h-1.24zM224.61 340.32h1.24v1.24h-1.24zM226.29 335.01h1.24v1.24h-1.24zM224.18 336.28h1.24v1.24h-1.24zM225.81 334.22h1.24v1.24h-1.24zM225.88 334.35h1.24v1.24h-1.24zM226.66 337.29h1.24v1.24h-1.24zM224.61 334.2h1.24v1.24h-1.24zM224.09 333.6h1.24v1.24h-1.24zM225.62 338.2h1.24v1.24h-1.24zM225.32 329.44h1.24v1.24h-1.24zM225.31 336.46h1.24v1.24h-1.24zM226.87 339.94h1.24v1.24h-1.24zM224.89 335.1h1.24v1.24h-1.24zM226.44 339.32h1.24v1.24h-1.24zM226.14 338.41h1.24v1.24h-1.24zM243.03 330.23h1.24v1.24h-1.24zM244.03 329.22h1.24v1.24h-1.24zM244.31 330.53h1.24v1.24h-1.24zM242.53 333.17h1.24v1.24h-1.24zM241.98 328.57h1.24v1.24h-1.24zM243.06 331.51h1.24v1.24h-1.24zM242.46 338.66h1.24v1.24h-1.24zM243 338.67h1.24v1.24h-1.24zM242.45 337.46h1.24v1.24h-1.24zM242.1 333.18h1.24v1.24h-1.24zM243.03 328.48h1.24v1.24h-1.24zM243.88 329.01h1.24v1.24h-1.24zM244.15 334.75h1.24v1.24h-1.24zM243.51 339.27h1.24v1.24h-1.24zM244.28 330.52h1.24v1.24h-1.24zM242.62 328.47h1.24v1.24h-1.24zM261.63 333.28h1.24v1.24h-1.24zM260.13 333.09h1.24v1.24h-1.24zM260.15 329.9h1.24v1.24h-1.24zM261.1 335.05h1.24v1.24h-1.24zM259.04 333.01h1.24v1.24h-1.24zM260.39 336.29h1.24v1.24h-1.24zM261.06 334.06h1.24v1.24h-1.24zM260.41 331.05h1.24v1.24h-1.24zM259.76 333.97h1.24v1.24h-1.24zM259.97 335.26h1.24v1.24h-1.24zM261.25 334.11h1.24v1.24h-1.24zM260.81 334.77h1.24v1.24h-1.24zM258.67 333.86h1.24v1.24h-1.24zM261.65 334.78h1.24v1.24h-1.24zM261.02 331.52h1.24v1.24h-1.24zM260.59 335.22h1.24v1.24h-1.24zM276.68 334.75h1.24v1.24h-1.24zM278.34 331.6h1.24v1.24h-1.24zM277.39 334.44h1.24v1.24h-1.24zM276.63 332.92h1.24v1.24h-1.24zM278.48 336.25h1.24v1.24h-1.24zM276.26 334.53h1.24v1.24h-1.24zM277.27 332.24h1.24v1.24h-1.24zM276.59 333.23h1.24v1.24h-1.24zM277.06 331.81h1.24v1.24h-1.24zM278.06 332.57h1.24v1.24h-1.24zM276.46 335.06h1.24v1.24h-1.24zM278.53 332.89h1.24v1.24h-1.24zM277.02 331.68h1.24v1.24h-1.24zM277.64 333.07h1.24v1.24h-1.24zM277.06 335.13h1.24v1.24h-1.24zM277.55 330.64h1.24v1.24h-1.24zM293.89 337.35h1.24v1.24h-1.24zM294.74 337.8h1.24v1.24h-1.24zM295.48 335.5h1.24v1.24h-1.24zM294.28 337.32h1.24v1.24h-1.24zM294.46 338.67h1.24v1.24h-1.24zM294.66 338.44h1.24v1.24h-1.24zM293.83 337.66h1.24v1.24h-1.24zM293.52 338.27h1.24v1.24h-1.24zM294.69 336.62h1.24v1.24h-1.24zM294.55 337.34h1.24v1.24h-1.24zM294 335.39h1.24v1.24h-1.24zM295.12 337.94h1.24v1.24h-1.24zM294.12 335.94h1.24v1.24h-1.24zM295.27 339.26h1.24v1.24h-1.24zM296.1 338.05h1.24v1.24h-1.24zM294.77 337.64h1.24v1.24h-1.24zM311.77 336.78h1.24v1.24h-1.24zM313.43 336.22h1.24v1.24h-1.24zM313.44 336.02h1.24v1.24h-1.24zM313.03 334.95h1.24v1.24h-1.24zM311.37 335.53h1.24v1.24h-1.24zM313.15 336.64h1.24v1.24h-1.24zM311.36 337.52h1.24v1.24h-1.24zM313.35 336.57h1.24v1.24h-1.24zM311.78 336.95h1.24v1.24h-1.24zM311.44 337.94h1.24v1.24h-1.24zM310.72 337.07h1.24v1.24h-1.24zM312.68 336.22h1.24v1.24h-1.24zM311.95 335.73h1.24v1.24h-1.24zM310.77 336h1.24v1.24h-1.24zM310.94 336.83h1.24v1.24h-1.24zM311.25 336.09h1.24v1.24h-1.24zM328.12 333.78h1.24v1.24h-1.24zM328.56 335.29h1.24v1.24h-1.24zM328.94 332.96h1.24v1.24h-1.24zM328.19 339.29h1.24v1.24h-1.24zM330.25 335.94h1.24v1.24h-1.24zM328.28 336.27h1.24v1.24h-1.24zM328.39 334.96h1.24v1.24h-1.24zM329.7 336.16h1.24v1.24h-1.24zM330.26 335.77h1.24v1.24h-1.24zM328.93 336.63h1.24v1.24h-1.24zM330.61 335.93h1.24v1.24h-1.24zM330.63 336.19h1.24v1.24h-1.24zM330.1 335.16h1.24v1.24h-1.24zM330.25 335.66h1.24v1.24h-1.24zM330.5 332.61h1.24v1.24h-1.24zM328.82 335.26h1.24v1.24h-1.24zM347.92 339.05h1.24v1.24h-1.24zM347.92 338.97h1.24v1.24h-1.24zM346.3 338.22h1.24v1.24h-1.24zM345.3 339.03h1.24v1.24h-1.24zM346.02 338.71h1.24v1.24h-1.24zM347.51 338.7h1.24v1.24h-1.24zM347.57 339.22h1.24v1.24h-1.24zM347.54 338.34h1.24v1.24h-1.24zM347.59 339.25h1.24v1.24h-1.24zM347.43 338.08h1.24v1.24h-1.24zM348.06 339.21h1.24v1.24h-1.24zM347.87 338.57h1.24v1.24h-1.24zM347.16 338.54h1.24v1.24h-1.24zM345.86 338.82h1.24v1.24h-1.24zM347.78 339.24h1.24v1.24h-1.24zM347.13 338.39h1.24v1.24h-1.24z" fill="#5f5ca6"/>
<path d="M58 135.77h1.24v1.24h-1.24zM55.69 129.41h1.24v1.24h-1.24zM56.01 127.56h1.24v1.24h-1.24zM55.38 127.47h1.24v1.24h-1.24zM55.46 129.22h1.24v1.24h-1.24zM55.83 135.37h1.24v1.24h-1.24zM55.75 129.22h1.24v1.24h-1.24zM56.78 134.96h1.24v1.24h-1.24zM56.41 127.75h1.24v1.24h-1.24zM55.86 125.62h1.24v1.24h-1.24zM56.96 121.75h1.24v1.24h-1.24zM56.96 127.33h1.24v1.24h-1.24zM57.47 137.04h1.24v1.24h-1.24zM57.7 128.12h1.24v1.24h-1.24zM56.37 129.9h1.24v1.24h-1.24zM58.33 124.95h1.24v1.24h-1.24zM73.52 144.63h1.24v1.24h-1.24zM75.26 144h1.24v1.24h-1.24zM72.96 144.04h1.24v1.24h-1.24zM75.09 144.2h1.24v1.24h-1.24zM74.72 144.23h1.24v1.24h-1.24zM75.64 143.17h1.24v1.24h-1.24zM73.93 143.32h1.24v1.24h-1.24zM75.24 143.85h1.24v1.24h-1.24zM73.76 144.09h1.24v1.24h-1.24zM72.8 144.24h1.24v1.24h-1.24zM73.73 143.74h1.24v1.24h-1.24zM75.7 143.78h1.24v1.24h-1.24zM73.05 144.46h1.24v1.24h-1.24zM73.55 144.28h1.24v1.24h-1.24zM75.2 144.37h1.24v1.24h-1.24zM74.45 144.37h1.24v1.24h-1.24zM92.15 144.63h1.24v1.24h-1.24zM90.5 144.08h1.24v1.24h-1.24zM91.78 144.59h1.24v1.24h-1.24zM92.14 144.51h1.24v1.24h-1.24zM92.34 144.57h1.24v1.24h-1.24zM90.3 144.48h1.24v1.24h-1.24zM90.9 144.11h1.24v1.24h-1.24zM93.03 144.53h1.24v1.24h-1.24zM92.15 144.37h1.24v1.24h-1.24zM92.03 144.76h1.24v1.24h-1.24zM92.33 144.22h1.24v1.24h-1.24zM90.28 144.07h1.24v1.24h-1.24zM92.18 143.86h1.24v1.24h-1.24zM91.49 144.39h1.24v1.24h-1.24zM90.7 144.63h1.24v1.24h-1.24zM90.15 145.14h1.24v1.24h-1.24zM109.59 138.39h1.24v1.24h-1.24zM107.46 141.11h1.24v1.24h-1.24zM109.94 135.86h1.24v1.24h-1.24zM108.21 142.36h1.24v1.24h-1.24zM109.51 140.79h1.24v1.24h-1.24zM109.4 143.56h1.24v1.24h-1.24zM107.58 140.93h1.24v1.24h-1.24zM109.4 142.74h1.24v1.24h-1.24zM109.37 139.46h1.24v1.24h-1.24zM109.03 138.57h1.24v1.24h-1.24zM109.26 139.33h1.24v1.24h-1.24zM110.34 140.49h1.24v1.24h-1.24zM108.89 139.4h1.24v1.24h-1.24zM109.57 142.94h1.24v1.24h-1.24zM109.48 140.67h1.24v1.24h-1.24zM110.24 141.5h1.24v1.24h-1.24zM127.78 130.41h1.24v1.24h-1.24zM126.32 105.29h1.24v1.24h-1.24zM126.07 106.93h1.24v1.24h-1.24zM127.06 118.21h1.24v1.24h-1.24zM125.18 125.89h1.24v1.24h-1.24zM125.94 110.87h1.24v1.24h-1.24zM125.56 107.08h1.24v1.24h-1.24zM126.55 102.38h1.24v1.24h-1.24zM126.34 115.92h1.24v1.24h-1.24zM126.78 105.02h1.24v1.24h-1.24zM127.28 109.78h1.24v1.24h-1.24zM124.94 125.67h1.24v1.24h-1.24zM127.74 106.4h1.24v1.24h-1.24zM125.94 116.95h1.24v1.24h-1.24zM127.15 107.23h1.24v1.24h-1.24zM126.68 111.22h1.24v1.24h-1.24zM143.71 143.73h1.24v1.24h-1.24zM145.03 143.04h1.24v1.24h-1.24zM145.17 141.82h1.24v1.24h-1.24zM142.76 143.72h1.24v1.24h-1.24zM144.93 143.69h1.24v1.24h-1.24zM144.97 141.91h1.24v1.24h-1.24zM142.66 143.47h1.24v1.24h-1.24zM142.61 143.53h1.24v1.24h-1.24zM142.8 142.99h1.24v1.24h-1.24zM142.29 142.98h1.24v1.24h-1.24zM144.22 143.67h1.24v1.24h-1.24zM142.53 143.5h1.24v1.24h-1.24zM143.26 143.08h1.24v1.24h-1.24zM144.83 143.27h1.24v1.24h-1.24zM144.07 141.71h1.24v1.24h-1.24zM142.97 142.64h1.24v1.24h-1.24zM162.48 144.2h1.24v1.24h-1.24zM161.63 143.77h1.24v1.24h-1.24zM161.25 144.13h1.24v1.24h-1.24zM159.77 144.06h1.24v1.24h-1.24zM159.86 143.67h1.24v1.24h-1.24zM159.63 143.74h1.24v1.24h-1.24zM161.44 142.96h1.24v1.24h-1.24zM159.74 144.2h1.24v1.24h-1.24zM162 144.19h1.24v1.24h-1.24zM162.28 144.22h1.24v1.24h-1.24zM159.88 143.78h1.24v1.24h-1.24zM161.98 142.95h1.24v1.24h-1.24zM161.43 144.08h1.24v1.24h-1.24zM161.81 143.71h1.24v1.24h-1.24zM159.6 143.93h1.24v1.24h-1.24zM160.64 144.12h1.24v1.24h-1.24zM178.16 138.6h1.24v1.24h-1.24zM179.54 130.08h1.24v1.24h-1.24zM179.46 137.72h1.24v1.24h-1.24zM178.26 136.39h1.24v1.24h-1.24zM177.19 131.26h1.24v1.24h-1.24zM179.04 132.75h1.24v1.24h-1.24zM178.27 137.01h1.24v1.24h-1.24zM179.69 138.24h1.24v1.24h-1.24zM179.23 129.44h1.24v1.24h-1.24zM177.01 139.71h1.24v1.24h-1.24zM179.72 138.76h1.24v1.24h-1.24zM178.52 137.75h1.24v1.24h-1.24zM179.39 138.06h1.24v1.24h-1.24zM177.53 139.58h1.24v1.24h-1.24zM177.27 138.67h1.24v1.24h-1.24zM177.72 135.21h1.24v1.24h-1.24zM194.36 126.49h1.24v1.24h-1.24zM195.28 130.88h1.24v1.24h-1.24zM195.84 130.81h1.24v1.24h-1.24zM195.53 130.55h1.24v1.24h-1.24zM195.14 127.8h1.24v1.24h-1.24zM195.08 131h1.24v1.24h-1.24zM196.22 126.9h1.24v1.24h-1.24zM195.16 129.78h1.24v1.24h-1.24zM196.61 128.41h1.24v1.24h-1.24zM196.92 118.13h1.24v1.24h-1.24zM194.28 129.67h1.24v1.24h-1.24zM196.09 120.95h1.24v1.24h-1.24zM196.99 129.75h1.24v1.24h-1.24zM196.14 128.88h1.24v1.24h-1.24zM194.9 132.17h1.24v1.24h-1.24zM194.56 132.71h1.24v1.24h-1.24zM214.17 144.38h1.24v1.24h-1.24zM214.36 144.73h1.24v1.24h-1.24zM214.01 144.5h1.24v1.24h-1.24zM214.42 143.94h1.24v1.24h-1.24zM213.65 143.98h1.24v1.24h-1.24zM213.87 144.37h1.24v1.24h-1.24zM214.04 144.29h1.24v1.24h-1.24zM214.31 144.52h1.24v1.24h-1.24zM213.39 144.47h1.24v1.24h-1.24zM213.72 144.33h1.24v1.24h-1.24zM213.17 144.44h1.24v1.24h-1.24zM212.74 144.71h1.24v1.24h-1.24zM213.98 143.82h1.24v1.24h-1.24zM213.18 144.41h1.24v1.24h-1.24zM214.22 144.7h1.24v1.24h-1.24zM213.96 144.37h1.24v1.24h-1.24zM229.86 138.67h1.24v1.24h-1.24zM230 141.72h1.24v1.24h-1.24zM230.56 141.76h1.24v1.24h-1.24zM229.63 141.9h1.24v1.24h-1.24zM231.29 140.62h1.24v1.24h-1.24zM229.24 140.44h1.24v1.24h-1.24zM229.6 140.78h1.24v1.24h-1.24zM231.41 141.44h1.24v1.24h-1.24zM231.18 140.42h1.24v1.24h-1.24zM229.15 140.42h1.24v1.24h-1.24zM231.57 141.78h1.24v1.24h-1.24zM230.41 141.9h1.24v1.24h-1.24zM231.47 140.63h1.24v1.24h-1.24zM230.76 140.95h1.24v1.24h-1.24zM230.53 141.09h1.24v1.24h-1.24zM231.43 138.98h1.24v1.24h-1.24zM248.05 142.58h1.24v1.24h-1.24zM247.72 141.25h1.24v1.24h-1.24zM247.75 141.12h1.24v1.24h-1.24zM247.88 140.39h1.24v1.24h-1.24zM247.4 140.03h1.24v1.24h-1.24zM247.81 140.98h1.24v1.24h-1.24zM247.23 139.8h1.24v1.24h-1.24zM248.95 140.12h1.24v1.24h-1.24zM247.66 140.68h1.24v1.24h-1.24zM249.22 140.4h1.24v1.24h-1.24zM247.4 140.59h1.24v1.24h-1.24zM248.89 141.76h1.24v1.24h-1.24zM248.57 141.3h1.24v1.24h-1.24zM248.47 141.38h1.24v1.24h-1.24zM246.35 141.53h1.24v1.24h-1.24zM249.23 140.88h1.24v1.24h-1.24zM264.5 141.97h1.24v1.24h-1.24zM265.45 138.08h1.24v1.24h-1.24zM263.86 142.5h1.24v1.24h-1.24zM265.02 143.91h1.24v1.24h-1.24zM266.49 141.66h1.24v1.24h-1.24zM266.15 143.76h1.24v1.24h-1.24zM266.58 139.51h1.24v1.24h-1.24zM264.43 140.85h1.24v1.24h-1.24zM264.36 140.11h1.24v1.24h-1.24zM265.15 139.54h1.24v1.24h-1.24zM264.78 141.98h1.24v1.24h-1.24zM264.57 138.69h1.24v1.24h-1.24zM264.86 142.86h1.24v1.24h-1.24zM266.18 141.86h1.24v1.24h-1.24zM264.55 142.02h1.24v1.24h-1.24zM264.72 143.18h1.24v1.24h-1.24zM282.33 136.1h1.24v1.24h-1.24zM283.28 142.82h1.24v1.24h-1.24zM282.42 142.02h1.24v1.24h-1.24zM282.35 135.81h1.24v1.24h-1.24zM281.44 139.48h1.24v1.24h-1.24zM283.48 140.75h1.24v1.24h-1.24zM282.97 141.49h1.24v1.24h-1.24zM282.13 138.95h1.24v1.24h-1.24zM281.47 139.65h1.24v1.24h-1.24zM281.77 141.04h1.24v1.24h-1.24zM283.87 140.03h1.24v1.24h-1.24zM281.49 141.26h1.24v1.24h-1.24zM282.7 141.06h1.24v1.24h-1.24zM282.86 140.65h1.24v1.24h-1.24zM283.55 139.07h1.24v1.24h-1.24zM281.68 139.79h1.24v1.24h-1.24zM301.08 134.02h1.24v1.24h-1.24zM299.76 135.43h1.24v1.24h-1.24zM299.54 129.4h1.24v1.24h-1.24zM300.11 134.81h1.24v1.24h-1.24zM301.09 133.34h1.24v1.24h-1.24zM299.18 136.2h1.24v1.24h-1.24zM299.89 133.64h1.24v1.24h-1.24zM298.76 134.99h1.24v1.24h-1.24zM299.64 132.92h1.24v1.24h-1.24zM300.07 136.21h1.24v1.24h-1.24zM298.76 136.96h1.24v1.24h-1.24zM298.73 140.27h1.24v1.24h-1.24zM301.3 133.3h1.24v1.24h-1.24zM298.83 135.14h1.24v1.24h-1.24zM299.54 133.57h1.24v1.24h-1.24zM299.32 133.48h1.24v1.24h-1.24zM318.75 143.24h1.24v1.24h-1.24zM316.48 143.17h1.24v1.24h-1.24zM318.39 142.98h1.24v1.24h-1.24zM316.69 143.44h1.24v1.24h-1.24zM316.71 143.22h1.24v1.24h-1.24zM316.8 143.73h1.24v1.24h-1.24zM316.32 143.04h1.24v1.24h-1.24zM316.85 143.72h1.24v1.24h-1.24zM315.98 143.68h1.24v1.24h-1.24zM316.61 143.49h1.24v1.24h-1.24zM316.58 143.11h1.24v1.24h-1.24zM316.38 143.3h1.24v1.24h-1.24zM317.72 143.77h1.24v1.24h-1.24zM318.67 142.83h1.24v1.24h-1.24zM318.41 143.63h1.24v1.24h-1.24zM317.39 143.13h1.24v1.24h-1.24zM334.93 136.77h1.24v1.24h-1.24zM333.77 139.62h1.24v1.24h-1.24zM335.73 139.42h1.24v1.24h-1.24zM336.12 136.88h1.24v1.24h-1.24zM336.06 138.13h1.24v1.24h-1.24zM333.59 135.93h1.24v1.24h-1.24zM335.19 138.24h1.24v1.24h-1.24zM335.29 139.69h1.24v1.24h-1.24zM333.24 140.73h1.24v1.24h-1.24zM335.21 137.17h1.24v1.24h-1.24zM334.43 138.36h1.24v1.24h-1.24zM334.09 139.82h1.24v1.24h-1.24zM333.55 138.86h1.24v1.24h-1.24zM333.58 139.24h1.24v1.24h-1.24zM334.2 138.13h1.24v1.24h-1.24zM334.19 138.61h1.24v1.24h-1.24zM352.21 143.15h1.24v1.24h-1.24zM351.32 143.55h1.24v1.24h-1.24zM350.77 143.64h1.24v1.24h-1.24zM351.11 143.78h1.24v1.24h-1.24zM352.35 143.31h1.24v1.24h-1.24zM351.6 143.34h1.24v1.24h-1.24zM352.44 143.31h1.24v1.24h-1.24zM352.24 143.29h1.24v1.24h-1.24zM352.64 143.74h1.24v1.24h-1.24zM351.49 143.2h1.24v1.24h-1.24zM351.64 142.54h1.24v1.24h-1.24zM352.77 143.69h1.24v1.24h-1.24zM351.89 143.35h1.24v1.24h-1.24zM353.17 143.36h1.24v1.24h-1.24zM352.97 143.39h1.24v1.24h-1.24zM351.71 143.85h1.24v1.24h-1.24zM57.35 327.37h1.24v1.24h-1.24zM56.85 322.22h1.24v1.24h-1.24zM58.36 321.29h1.24v1.24h-1.24zM56.52 321.83h1.24v1.24h-1.24zM59.17 323.7h1.24v1.24h-1.24zM57.22 320.38h1.24v1.24h-1.24zM56.46 323.74h1.24v1.24h-1.24zM57.97 322.65h1.24v1.24h-1.24zM56.99 319.59h1.24v1.24h-1.24zM56.86 328.78h1.24v1.24h-1.24zM59.08 322h1.24v1.24h-1.24zM58.15 320.54h1.24v1.24h-1.24zM56.92 321.22h1.24v1.24h-1.24zM57.07 322.99h1.24v1.24h-1.24zM57.83 319.36h1.24v1.24h-1.24zM56.28 321.28h1.24v1.24h-1.24zM73.82 336.48h1.24v1.24h-1.24zM74.23 339.1h1.24v1.24h-1.24zM74.84 334.13h1.24v1.24h-1.24zM75.53 336.37h1.24v1.24h-1.24zM75.85 335.97h1.24v1.24h-1.24zM75.95 336.53h1.24v1.24h-1.24zM75.98 335.56h1.24v1.24h-1.24zM75.85 336.14h1.24v1.24h-1.24zM73.8 333.56h1.24v1.24h-1.24zM74.84 335.41h1.24v1.24h-1.24zM76 334.62h1.24v1.24h-1.24zM74.28 333.78h1.24v1.24h-1.24zM75.89 335.59h1.24v1.24h-1.24zM73.59 331.47h1.24v1.24h-1.24zM76.34 334.36h1.24v1.24h-1.24zM75.3 336.31h1.24v1.24h-1.24zM93.02 322.35h1.24v1.24h-1.24zM92.35 329.23h1.24v1.24h-1.24zM91.54 315.59h1.24v1.24h-1.24zM92.46 328.44h1.24v1.24h-1.24zM91.56 317.22h1.24v1.24h-1.24zM93.02 326h1.24v1.24h-1.24zM91.09 328.27h1.24v1.24h-1.24zM93.66 316.05h1.24v1.24h-1.24zM93.08 324.23h1.24v1.24h-1.24zM92.99 318.24h1.24v1.24h-1.24zM91.81 328.26h1.24v1.24h-1.24zM92.36 313.02h1.24v1.24h-1.24zM93.46 321.41h1.24v1.24h-1.24zM92 321.78h1.24v1.24h-1.24zM92.76 320.93h1.24v1.24h-1.24zM91.58 326.23h1.24v1.24h-1.24zM108.69 261.48h1.1v1.1h-1.1zM108.7 259.18h1.1v1.1h-1.1zM109.44 274h1.1v1.1h-1.1zM108.71 250.05h1.1v1.1h-1.1zM110.22 253.07h1.1v1.1h-1.1zM110.96 284.55h1.1v1.1h-1.1zM110.28 282.19h1.1v1.1h-1.1zM110.71 266.47h1.1v1.1h-1.1zM108.91 273.38h1.1v1.1h-1.1zM111.09 276.11h1.1v1.1h-1.1zM109.19 268.99h1.1v1.1h-1.1zM109.49 281.25h1.1v1.1h-1.1zM127.82 271.11h1.1v1.1h-1.1zM128.2 276.04h1.1v1.1h-1.1zM128.2 273.34h1.1v1.1h-1.1zM126.2 280.75h1.1v1.1h-1.1zM125.72 279.24h1.1v1.1h-1.1zM125.97 286.67h1.1v1.1h-1.1zM125.73 277.73h1.1v1.1h-1.1zM128.16 283.38h1.1v1.1h-1.1zM127.08 269.49h1.1v1.1h-1.1zM127.27 283.99h1.1v1.1h-1.1zM125.64 279.97h1.1v1.1h-1.1zM126.28 270.41h1.1v1.1h-1.1zM144.56 337.12h1.24v1.24h-1.24zM144.42 336.52h1.24v1.24h-1.24zM142.83 334.91h1.24v1.24h-1.24zM142.97 335.1h1.24v1.24h-1.24zM144.69 335.84h1.24v1.24h-1.24zM143.16 334.29h1.24v1.24h-1.24zM144.7 335.76h1.24v1.24h-1.24zM142.91 335.49h1.24v1.24h-1.24zM142.72 336.79h1.24v1.24h-1.24zM145.04 336.85h1.24v1.24h-1.24zM143.2 334.78h1.24v1.24h-1.24zM144.39 336.37h1.24v1.24h-1.24zM142.92 335.11h1.24v1.24h-1.24zM144.34 336.35h1.24v1.24h-1.24zM145.19 334.79h1.24v1.24h-1.24zM143.72 333.29h1.24v1.24h-1.24zM160.89 321.91h1.24v1.24h-1.24zM159.99 329.16h1.24v1.24h-1.24zM159.92 330.28h1.24v1.24h-1.24zM161.61 327.66h1.24v1.24h-1.24zM160.28 326.16h1.24v1.24h-1.24zM161.49 325.44h1.24v1.24h-1.24zM160.09 329.01h1.24v1.24h-1.24zM161.28 328.58h1.24v1.24h-1.24zM161.91 325.56h1.24v1.24h-1.24zM160.73 334.58h1.24v1.24h-1.24zM162.66 324.84h1.24v1.24h-1.24zM160.79 326.51h1.24v1.24h-1.24zM161.18 336.72h1.24v1.24h-1.24zM162.34 327.97h1.24v1.24h-1.24zM160.65 325.3h1.24v1.24h-1.24zM162.62 330.09h1.24v1.24h-1.24zM177.9 317.78h1.24v1.24h-1.24zM177.49 328.9h1.24v1.24h-1.24zM179.62 320.44h1.24v1.24h-1.24zM179.2 314.64h1.24v1.24h-1.24zM178.96 315.58h1.24v1.24h-1.24zM177.93 310.29h1.24v1.24h-1.24zM179.38 318.79h1.24v1.24h-1.24zM177.87 308.21h1.24v1.24h-1.24zM179.28 315.23h1.24v1.24h-1.24zM177.82 323.98h1.24v1.24h-1.24zM177.99 315.78h1.24v1.24h-1.24zM179.69 321.04h1.24v1.24h-1.24zM179.59 326.72h1.24v1.24h-1.24zM177.38 320.57h1.24v1.24h-1.24zM178.75 314.22h1.24v1.24h-1.24zM179.84 311.46h1.24v1.24h-1.24zM195.64 308.24h1.24v1.24h-1.24zM195.51 306.85h1.24v1.24h-1.24zM197.04 310.47h1.24v1.24h-1.24zM196.73 311.6h1.24v1.24h-1.24zM194.64 318.4h1.24v1.24h-1.24zM195.52 305.85h1.24v1.24h-1.24zM197.11 322h1.24v1.24h-1.24zM194.8 303.4h1.24v1.24h-1.24zM195.18 309.91h1.24v1.24h-1.24zM195.1 309.25h1.24v1.24h-1.24zM197.36 309.98h1.24v1.24h-1.24zM197.18 305.92h1.24v1.24h-1.24zM196.7 311.38h1.24v1.24h-1.24zM196.22 305.97h1.24v1.24h-1.24zM196.06 310.3h1.24v1.24h-1.24zM196.5 310.91h1.24v1.24h-1.24zM213.57 339.4h1.24v1.24h-1.24zM213.89 339.33h1.24v1.24h-1.24zM213.07 339.49h1.24v1.24h-1.24zM212.97 339.28h1.24v1.24h-1.24zM213.51 338.94h1.24v1.24h-1.24zM213.98 338.69h1.24v1.24h-1.24zM214.55 339.28h1.24v1.24h-1.24zM213.45 339.46h1.24v1.24h-1.24zM214.64 339.81h1.24v1.24h-1.24zM214.16 339.79h1.24v1.24h-1.24zM212.81 339.68h1.24v1.24h-1.24zM212.34 339.52h1.24v1.24h-1.24zM214.19 338.88h1.24v1.24h-1.24zM213.28 339.57h1.24v1.24h-1.24zM212.84 339.3h1.24v1.24h-1.24zM213.71 339.58h1.24v1.24h-1.24zM229.87 324.5h1.24v1.24h-1.24zM230.55 332.8h1.24v1.24h-1.24zM229.33 323.49h1.24v1.24h-1.24zM229.53 338.75h1.24v1.24h-1.24zM230.84 333.2h1.24v1.24h-1.24zM229.34 327.04h1.24v1.24h-1.24zM229.42 328.06h1.24v1.24h-1.24zM229.85 331.73h1.24v1.24h-1.24zM229.37 334.1h1.24v1.24h-1.24zM229.72 328.59h1.24v1.24h-1.24zM231.84 328.82h1.24v1.24h-1.24zM230.36 339.05h1.24v1.24h-1.24zM231.36 330.4h1.24v1.24h-1.24zM230.28 327.71h1.24v1.24h-1.24zM231.33 326.77h1.24v1.24h-1.24zM229.24 320.46h1.24v1.24h-1.24zM246.41 328.05h1.24v1.24h-1.24zM246.67 328.11h1.24v1.24h-1.24zM247.92 328.44h1.24v1.24h-1.24zM247.59 323.85h1.24v1.24h-1.24zM249.31 328.09h1.24v1.24h-1.24zM247.18 319.59h1.24v1.24h-1.24zM249.23 326.91h1.24v1.24h-1.24zM248.24 337.26h1.24v1.24h-1.24zM248.02 327.36h1.24v1.24h-1.24zM247.14 324.56h1.24v1.24h-1.24zM248.14 323.33h1.24v1.24h-1.24zM248.09 325.8h1.24v1.24h-1.24zM246.42 326.09h1.24v1.24h-1.24zM248.64 323.94h1.24v1.24h-1.24zM247.09 322.22h1.24v1.24h-1.24zM247.38 324.99h1.24v1.24h-1.24zM265.22 328.65h1.24v1.24h-1.24zM265.19 329.95h1.24v1.24h-1.24zM265.17 329.24h1.24v1.24h-1.24zM264.22 332.09h1.24v1.24h-1.24zM265.77 332.86h1.24v1.24h-1.24zM266.44 329.03h1.24v1.24h-1.24zM264.87 329.34h1.24v1.24h-1.24zM265.11 334.26h1.24v1.24h-1.24zM264.73 330.53h1.24v1.24h-1.24zM265.86 332.75h1.24v1.24h-1.24zM265.62 332.97h1.24v1.24h-1.24zM265.74 333.58h1.24v1.24h-1.24zM263.76 329.86h1.24v1.24h-1.24zM266.56 332.13h1.24v1.24h-1.24zM263.99 329.68h1.24v1.24h-1.24zM265.12 336.09h1.24v1.24h-1.24zM281.97 332.17h1.24v1.24h-1.24zM282.03 329.22h1.24v1.24h-1.24zM282.94 331.28h1.24v1.24h-1.24zM283.32 329.17h1.24v1.24h-1.24zM282.07 329.78h1.24v1.24h-1.24zM283.83 329.11h1.24v1.24h-1.24zM282.44 332.93h1.24v1.24h-1.24zM282.89 328.88h1.24v1.24h-1.24zM281.36 331.19h1.24v1.24h-1.24zM281.89 330.53h1.24v1.24h-1.24zM282.8 330.4h1.24v1.24h-1.24zM282.59 331.36h1.24v1.24h-1.24zM282.66 332.01h1.24v1.24h-1.24zM282.65 332.1h1.24v1.24h-1.24zM283.86 330.23h1.24v1.24h-1.24zM281.27 334.89h1.24v1.24h-1.24zM299.4 338.15h1.24v1.24h-1.24zM298.81 337.54h1.24v1.24h-1.24zM299.75 337.25h1.24v1.24h-1.24zM298.84 338.28h1.24v1.24h-1.24zM299.95 334.61h1.24v1.24h-1.24zM299.16 337.97h1.24v1.24h-1.24zM300.18 337.53h1.24v1.24h-1.24zM300.17 336.47h1.24v1.24h-1.24zM300.44 337.49h1.24v1.24h-1.24zM300.85 334.99h1.24v1.24h-1.24zM299 336.51h1.24v1.24h-1.24zM299.14 336.86h1.24v1.24h-1.24zM300.41 337.99h1.24v1.24h-1.24zM299.23 336.35h1.24v1.24h-1.24zM300.58 335.03h1.24v1.24h-1.24zM300.51 336.41h1.24v1.24h-1.24zM315.82 335.1h1.24v1.24h-1.24zM318.12 334.49h1.24v1.24h-1.24zM317.29 334.89h1.24v1.24h-1.24zM316.09 334.07h1.24v1.24h-1.24zM316.43 334.44h1.24v1.24h-1.24zM315.79 330.68h1.24v1.24h-1.24zM315.87 332.94h1.24v1.24h-1.24zM316.65 335h1.24v1.24h-1.24zM316.35 332.33h1.24v1.24h-1.24zM318.5 339.15h1.24v1.24h-1.24zM317.37 335.4h1.24v1.24h-1.24zM317.47 329.83h1.24v1.24h-1.24zM318.12 332.31h1.24v1.24h-1.24zM316.11 334.57h1.24v1.24h-1.24zM315.82 332.93h1.24v1.24h-1.24zM317.48 333.98h1.24v1.24h-1.24zM334.16 338.62h1.24v1.24h-1.24zM333.34 336.28h1.24v1.24h-1.24zM334.18 329.45h1.24v1.24h-1.24zM335.68 331.22h1.24v1.24h-1.24zM335.16 330.58h1.24v1.24h-1.24zM334.29 330.66h1.24v1.24h-1.24zM334.34 330.31h1.24v1.24h-1.24zM335.81 329.23h1.24v1.24h-1.24zM333.1 329.12h1.24v1.24h-1.24zM334.91 333.45h1.24v1.24h-1.24zM334.58 338.87h1.24v1.24h-1.24zM333.6 331.07h1.24v1.24h-1.24zM333.95 331.9h1.24v1.24h-1.24zM335.01 329.59h1.24v1.24h-1.24zM334.62 329.66h1.24v1.24h-1.24zM335.1 337.45h1.24v1.24h-1.24zM352.41 333.35h1.24v1.24h-1.24zM352.42 336.87h1.24v1.24h-1.24zM350.59 336.11h1.24v1.24h-1.24zM350.6 338.54h1.24v1.24h-1.24zM350.38 332.97h1.24v1.24h-1.24zM352.1 336.77h1.24v1.24h-1.24zM350.2 337.34h1.24v1.24h-1.24zM352.25 338.29h1.24v1.24h-1.24zM350.49 338.04h1.24v1.24h-1.24zM352.33 336.87h1.24v1.24h-1.24zM352.7 336.87h1.24v1.24h-1.24zM352.87 337.14h1.24v1.24h-1.24zM352.7 337.67h1.24v1.24h-1.24zM351.62 336.37h1.24v1.24h-1.24zM353.08 337.29h1.24v1.24h-1.24zM352.79 338.43h1.24v1.24h-1.24zM255.3 550.76h1.1v1.1h-1.1zM256 554.23h1.1v1.1h-1.1zM256.19 552.36h1.1v1.1h-1.1zM256.71 552.49h1.1v1.1h-1.1zM255.69 548.16h1.1v1.1h-1.1zM257.03 551.86h1.1v1.1h-1.1zM271.2 553.9h1.1v1.1h-1.1zM272.66 553.22h1.1v1.1h-1.1zM271.76 552.34h1.1v1.1h-1.1zM271.01 553.87h1.1v1.1h-1.1zM271.64 555.79h1.1v1.1h-1.1zM271.48 557.8h1.1v1.1h-1.1zM287.57 557.32h1.1v1.1h-1.1zM286.97 554.56h1.1v1.1h-1.1zM288.25 554.75h1.1v1.1h-1.1zM287.11 556.36h1.1v1.1h-1.1zM287.11 553.61h1.1v1.1h-1.1zM287.66 555.31h1.1v1.1h-1.1zM303.41 512.6h1.1v1.1h-1.1zM303.48 508.04h1.1v1.1h-1.1zM303.6 509.55h1.1v1.1h-1.1zM302.33 507.72h1.1v1.1h-1.1zM303.3 506.09h1.1v1.1h-1.1zM302.37 502.5h1.1v1.1h-1.1zM319.57 529.51h1.1v1.1h-1.1zM318.5 530.45h1.1v1.1h-1.1zM318.93 531.67h1.1v1.1h-1.1zM319.32 534.19h1.1v1.1h-1.1zM319.35 537.77h1.1v1.1h-1.1zM318.04 532.39h1.1v1.1h-1.1zM334.99 559.48h1.1v1.1h-1.1zM335.12 557.93h1.1v1.1h-1.1zM334.34 560.51h1.1v1.1h-1.1zM335.32 559.87h1.1v1.1h-1.1zM335.18 559.17h1.1v1.1h-1.1zM333.63 560.82h1.1v1.1h-1.1zM350.38 566.2h1.1v1.1h-1.1zM350.92 565.8h1.1v1.1h-1.1zM350.49 566.09h1.1v1.1h-1.1zM349.91 566.25h1.1v1.1h-1.1zM349.58 566.14h1.1v1.1h-1.1zM349.57 565.01h1.1v1.1h-1.1zM366.26 554.68h1.1v1.1h-1.1zM365.5 551.37h1.1v1.1h-1.1zM365.95 554.55h1.1v1.1h-1.1zM365.68 554.44h1.1v1.1h-1.1zM365.09 554.04h1.1v1.1h-1.1zM364.91 554.19h1.1v1.1h-1.1zM381.59 550.52h1.1v1.1h-1.1zM382.13 549.4h1.1v1.1h-1.1zM381.47 549.99h1.1v1.1h-1.1zM381.44 548.91h1.1v1.1h-1.1zM381.15 549.06h1.1v1.1h-1.1zM381.14 548.98h1.1v1.1h-1.1zM397.51 565.96h1.1v1.1h-1.1zM397.52 566.16h1.1v1.1h-1.1zM396.15 567.18h1.1v1.1h-1.1zM397.35 566.64h1.1v1.1h-1.1zM397.38 566.04h1.1v1.1h-1.1zM397.25 565.59h1.1v1.1h-1.1zM411.77 553.41h1.1v1.1h-1.1zM412.83 553.91h1.1v1.1h-1.1zM412.67 553.86h1.1v1.1h-1.1zM413.35 554.9h1.1v1.1h-1.1zM412.1 554.83h1.1v1.1h-1.1zM412.43 554.15h1.1v1.1h-1.1zM427.59 563.27h1.1v1.1h-1.1zM428.27 563.41h1.1v1.1h-1.1zM428.05 561.96h1.1v1.1h-1.1zM428.83 563h1.1v1.1h-1.1zM427.76 563.03h1.1v1.1h-1.1zM428.76 563.5h1.1v1.1h-1.1zM443.21 557.55h1.1v1.1h-1.1zM444.1 559.48h1.1v1.1h-1.1zM442.98 557.85h1.1v1.1h-1.1zM443.51 558.45h1.1v1.1h-1.1zM443.31 559h1.1v1.1h-1.1zM444.12 556.27h1.1v1.1h-1.1zM460.03 557.33h1.1v1.1h-1.1zM459.08 559.04h1.1v1.1h-1.1zM458.69 558.73h1.1v1.1h-1.1zM459.25 558.91h1.1v1.1h-1.1zM460.31 558.64h1.1v1.1h-1.1zM459.97 559.98h1.1v1.1h-1.1zM474.75 543.63h1.1v1.1h-1.1zM475.84 543.48h1.1v1.1h-1.1zM474.88 541.64h1.1v1.1h-1.1zM475.18 544.79h1.1v1.1h-1.1zM475.67 543.79h1.1v1.1h-1.1zM476 542.29h1.1v1.1h-1.1zM490.01 557.52h1.1v1.1h-1.1zM491.19 557.09h1.1v1.1h-1.1zM491.62 556.66h1.1v1.1h-1.1zM490.31 558.36h1.1v1.1h-1.1zM490.43 557.57h1.1v1.1h-1.1zM490.6 558.86h1.1v1.1h-1.1zM505.49 563.61h1.1v1.1h-1.1zM506.45 564.54h1.1v1.1h-1.1zM506.02 563.73h1.1v1.1h-1.1zM506.78 564.69h1.1v1.1h-1.1zM506.02 563.35h1.1v1.1h-1.1zM507 564.04h1.1v1.1h-1.1zM522.67 555.46h1.1v1.1h-1.1zM521.5 553.75h1.1v1.1h-1.1zM521.18 555.03h1.1v1.1h-1.1zM522.16 553.97h1.1v1.1h-1.1zM521.64 552.84h1.1v1.1h-1.1zM521.31 553.91h1.1v1.1h-1.1z" fill="#f28a2e"/>
</svg></body></html>
